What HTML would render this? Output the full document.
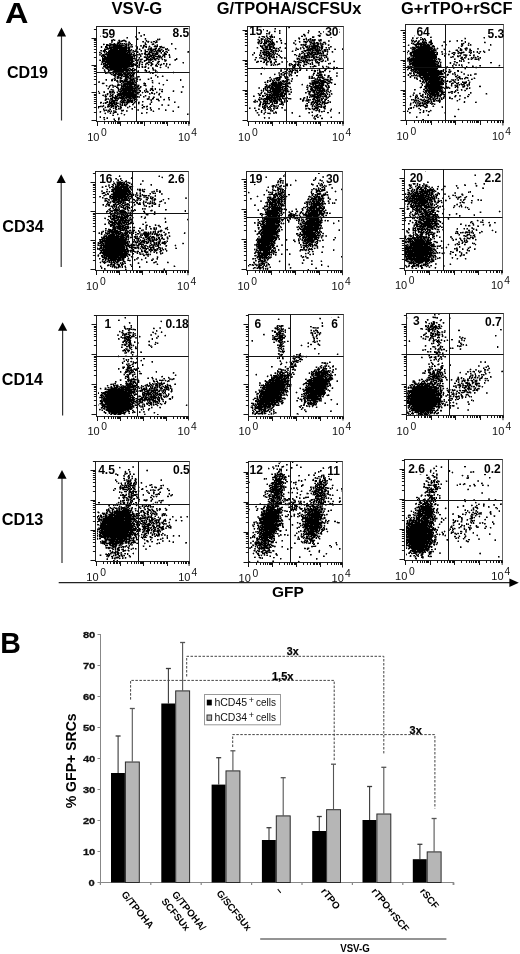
<!DOCTYPE html>
<html><head><meta charset="utf-8"><style>html,body{margin:0;padding:0;background:#fff;width:520px;height:954px;overflow:hidden}svg{display:block;will-change:transform}</style></head>
<body><svg width="520" height="954" viewBox="0 0 520 954" font-family='"Liberation Sans", sans-serif'><text x="5.0" y="23" font-size="29.6" font-weight="bold" textLength="23.4" lengthAdjust="spacingAndGlyphs" fill="#000">A</text>
<text x="111.5" y="13.5" font-size="16" font-weight="bold" textLength="50.8" lengthAdjust="spacingAndGlyphs" fill="#000">VSV-G</text>
<text x="216.8" y="13.5" font-size="16" font-weight="bold" textLength="144.6" lengthAdjust="spacingAndGlyphs" fill="#000">G/TPOHA/SCFSUx</text>
<text x="401" y="13.5" font-size="16" font-weight="bold" textLength="111.5" lengthAdjust="spacingAndGlyphs" fill="#000">G+rTPO+rSCF</text>
<text x="6.9" y="77.7" font-size="16" font-weight="bold" textLength="41.1" lengthAdjust="spacingAndGlyphs" fill="#000">CD19</text>
<text x="2.3" y="232.3" font-size="16" font-weight="bold" textLength="41.5" lengthAdjust="spacingAndGlyphs" fill="#000">CD34</text>
<text x="1.8" y="384.6" font-size="16" font-weight="bold" textLength="41.2" lengthAdjust="spacingAndGlyphs" fill="#000">CD14</text>
<text x="1.8" y="525" font-size="16" font-weight="bold" textLength="41.6" lengthAdjust="spacingAndGlyphs" fill="#000">CD13</text>
<line x1="61.5" y1="35.6" x2="61.5" y2="120.5" stroke="#333" stroke-width="1.2"/>
<polygon points="61.5,27.4 56.9,36.6 66.1,36.6" fill="#000"/>
<line x1="61.2" y1="182" x2="61.2" y2="267" stroke="#333" stroke-width="1.2"/>
<polygon points="61.2,174.2 56.6,183 65.8,183" fill="#000"/>
<line x1="62.6" y1="329.8" x2="62.6" y2="415.4" stroke="#333" stroke-width="1.2"/>
<polygon points="62.6,322.3 58.0,330.8 67.2,330.8" fill="#000"/>
<line x1="62.0" y1="477.8" x2="62.0" y2="563" stroke="#333" stroke-width="1.2"/>
<polygon points="62.0,470 57.4,478.8 66.6,478.8" fill="#000"/>
<line x1="58.7" y1="582.7" x2="511" y2="582.7" stroke="#222" stroke-width="1.3"/>
<polygon points="518.8,582.7 509.4,578.5 509.4,586.9" fill="#000"/>
<text x="272" y="597" font-size="15" font-weight="bold" textLength="31.8" lengthAdjust="spacingAndGlyphs" fill="#000">GFP</text>
<path d="M289 27.5h1M275 28.5h1M263 29.5h1M267 30.5h1m11 0h1m28 0h1M274 31.5h1m44 0h1M139 32.5h1m129 0h1m38 0h1M266 33.5h1m2 0h1m9 0h1m40 0h1M144 34.5h1m158 0h2M271 35.5h1m32 0h1m13 0h2M136 36.5h1m125 0h2m2 0h1m3 0h3m28 0h2m16 0h1M127 37.5h1m131 0h1m4 0h1m2 0h1m2 0h1m1 0h1m1 0h1m37 0h2m116 0h1m53 0h1M145 38.5h1m115 0h1m6 0h2m9 0h1m19 0h1m6 0h1m3 0h1m101 0h1m3 0h1m5 0h1m1 0h1m40 0h1M113 39.5h1m23 0h1m19 0h1m1 0h1m98 0h1m2 0h2m4 0h1m2 0h1m1 0h1m30 0h2m1 0h1m1 0h1m1 0h1m1 0h1m1 0h1m5 0h1m99 0h1m1 0h2m1 0h1M111 40.5h2m1 0h1m4 0h1m2 0h3m21 0h1m112 0h1m1 0h1m2 0h1m1 0h1m1 0h1m2 0h1m8 0h2m13 0h1m12 0h1m3 0h3m4 0h2m90 0h1m1 0h1m2 0h1m6 0h1m1 0h1m5 0h1m25 0h1m3 0h1M119 41.5h1m1 0h1m3 0h1m17 0h1m4 0h1m4 0h2m1 0h1m102 0h1m4 0h1m1 0h5m1 0h1m3 0h1m22 0h1m4 0h2m1 0h1m1 0h1m102 0h1m1 0h2m2 0h1m3 0h1m7 0h2m17 0h1m15 0h1M118 42.5h2m9 0h1m21 0h1m3 0h2m101 0h1m2 0h1m2 0h3m3 0h1m1 0h2m7 0h1m23 0h2m3 0h2m2 0h1m1 0h2m5 0h2m92 0h2m3 0h5m2 0h3m33 0h1m18 0h1M114 43.5h1m2 0h2m1 0h1m1 0h1m1 0h1m5 0h1m14 0h1m25 0h1m86 0h1m1 0h2m1 0h4m2 0h1m1 0h3m7 0h1m3 0h1m26 0h3m2 0h2m1 0h1m4 0h1m85 0h1m1 0h1m3 0h5m1 0h2m1 0h1m4 0h2m30 0h1m4 0h1M103 44.5h1m2 0h2m2 0h6m1 0h1m1 0h1m5 0h2m1 0h1m2 0h1m13 0h1m6 0h2m110 0h1m3 0h5m1 0h1m20 0h1m5 0h1m1 0h1m1 0h1m4 0h1m2 0h2m2 0h2m3 0h1m91 0h12m1 0h2m1 0h2m13 0h1m15 0h2m7 0h1m19 0h1M106 45.5h5m2 0h11m2 0h1m1 0h1m7 0h1m6 0h2m12 0h1m102 0h1m3 0h1m3 0h2m3 0h1m30 0h2m7 0h5m3 0h1m6 0h1m79 0h1m6 0h2m3 0h2m1 0h7m3 0h1m8 0h1m19 0h1m5 0h1M101 46.5h1m3 0h2m2 0h1m3 0h9m3 0h2m5 0h1m3 0h1m6 0h1m1 0h2m2 0h1m4 0h4m2 0h2m98 0h3m2 0h3m1 0h3m1 0h1m31 0h3m1 0h1m1 0h8m2 0h2m7 0h1m85 0h3m1 0h10m2 0h3m26 0h1M101 47.5h1m3 0h3m1 0h18m1 0h2m7 0h1m5 0h1m2 0h1m13 0h1m1 0h2m93 0h1m4 0h1m2 0h3m1 0h2m2 0h2m5 0h1m25 0h2m1 0h1m2 0h4m1 0h1m1 0h1m1 0h2m3 0h1m85 0h3m1 0h16m26 0h1M107 48.5h5m1 0h14m1 0h2m7 0h1m12 0h2m3 0h2m2 0h1m7 0h1m7 0h1m86 0h2m2 0h1m2 0h2m2 0h2m1 0h1m1 0h1m6 0h1m10 0h1m3 0h1m2 0h1m4 0h1m1 0h6m1 0h1m3 0h2m90 0h3m2 0h15m1 0h1m2 0h1m22 0h1m4 0h2M104 49.5h3m3 0h8m1 0h8m1 0h2m1 0h1m4 0h1m2 0h1m8 0h1m1 0h2m1 0h3m2 0h1m2 0h1m3 0h2m96 0h9m25 0h2m8 0h6m2 0h3m1 0h1m1 0h1m2 0h2m1 0h1m1 0h1m5 0h1m6 0h1m69 0h3m1 0h16m1 0h2m9 0h1m15 0h2m3 0h1m4 0h1M101 50.5h1m1 0h3m3 0h22m2 0h1m2 0h1m4 0h1m3 0h1m4 0h3m2 0h1m1 0h4m2 0h1m4 0h1m91 0h2m9 0h1m1 0h1m1 0h2m2 0h1m15 0h1m8 0h7m1 0h2m1 0h6m3 0h2m88 0h16m1 0h5m20 0h2m2 0h2m8 0h2M103 51.5h2m1 0h1m1 0h19m1 0h2m4 0h2m1 0h1m7 0h3m1 0h1m1 0h1m2 0h1m1 0h1m2 0h2m1 0h1m3 0h1m21 0h1m75 0h1m1 0h3m1 0h2m1 0h1m2 0h1m1 0h1m2 0h1m10 0h1m9 0h1m2 0h1m6 0h1m3 0h3m3 0h1m2 0h1m1 0h1m4 0h1m75 0h1m3 0h22m15 0h1m8 0h1m14 0h1m3 0h1m2 0h1m2 0h1M99 52.5h1m4 0h1m2 0h19m1 0h3m7 0h1m7 0h1m3 0h3m4 0h2m3 0h1m2 0h1m2 0h1m86 0h1m5 0h1m1 0h5m1 0h2m2 0h2m29 0h1m4 0h2m1 0h5m1 0h2m1 0h1m2 0h1m83 0h1m2 0h26m1 0h1m15 0h2m4 0h1m1 0h3m5 0h1m1 0h1m5 0h1m6 0h1M101 53.5h1m4 0h1m1 0h20m1 0h1m1 0h1m2 0h1m9 0h2m2 0h2m2 0h2m1 0h3m6 0h2m88 0h1m5 0h1m2 0h1m2 0h5m2 0h1m1 0h1m25 0h1m2 0h1m2 0h1m1 0h4m2 0h1m1 0h5m1 0h1m86 0h2m1 0h22m2 0h1m7 0h1m6 0h1m5 0h1m1 0h2m8 0h1m8 0h1M103 54.5h1m1 0h27m1 0h1m3 0h1m1 0h1m5 0h5m2 0h1m2 0h3m6 0h3m2 0h1m82 0h1m10 0h4m1 0h2m2 0h1m1 0h1m2 0h1m16 0h2m3 0h1m4 0h1m2 0h2m1 0h2m1 0h5m9 0h1m82 0h2m1 0h25m4 0h1m5 0h1m4 0h2M102 55.5h3m2 0h24m2 0h4m3 0h1m6 0h1m2 0h5m3 0h1m4 0h2m4 0h1m89 0h1m1 0h1m2 0h1m1 0h4m1 0h1m6 0h2m16 0h1m7 0h5m3 0h2m5 0h1m1 0h1m1 0h3m85 0h25m8 0h1m15 0h1m4 0h2m3 0h1m2 0h1M101 56.5h1m1 0h3m1 0h26m1 0h1m1 0h1m3 0h1m6 0h1m1 0h3m1 0h1m1 0h6m1 0h1m1 0h1m96 0h1m5 0h1m1 0h3m1 0h1m2 0h1m3 0h1m17 0h2m2 0h1m1 0h3m2 0h1m2 0h2m2 0h1m9 0h1m86 0h24m15 0h1m4 0h2m18 0h1M102 57.5h1m1 0h29m6 0h1m4 0h3m1 0h2m2 0h3m4 0h1m1 0h1m7 0h1m86 0h1m7 0h1m3 0h2m2 0h3m6 0h1m19 0h2m1 0h1m1 0h2m1 0h1m1 0h1m1 0h2m1 0h2m3 0h1m2 0h1m1 0h1m82 0h1m3 0h1m1 0h22m14 0h1m9 0h2m1 0h1m6 0h1m1 0h1m1 0h1m4 0h1M102 58.5h33m11 0h2m2 0h1m2 0h2m1 0h2m18 0h1m85 0h2m2 0h1m1 0h2m27 0h2m2 0h1m1 0h3m7 0h2m4 0h2m6 0h1m79 0h2m2 0h25m2 0h1m22 0h1m10 0h1m5 0h1M102 59.5h31m5 0h1m1 0h2m4 0h7m1 0h2m2 0h1m3 0h1m1 0h1m10 0h2m78 0h1m8 0h3m2 0h2m3 0h2m21 0h1m1 0h1m5 0h2m1 0h1m6 0h2m1 0h3m6 0h1m80 0h25m1 0h1m1 0h1m2 0h1m14 0h1m7 0h2m4 0h1m2 0h1m3 0h2m1 0h1M100 60.5h1m1 0h3m1 0h27m2 0h1m1 0h1m6 0h3m3 0h1m14 0h1m99 0h2m33 0h2m1 0h1m1 0h1m1 0h1m1 0h2m1 0h1m2 0h1m3 0h1m3 0h1m85 0h27m23 0h1M102 61.5h28m1 0h3m6 0h1m3 0h1m7 0h1m5 0h2m97 0h2m1 0h2m2 0h1m2 0h2m1 0h2m3 0h2m9 0h1m7 0h2m1 0h2m3 0h3m1 0h1m8 0h1m1 0h1m3 0h2m2 0h1m8 0h1m74 0h3m1 0h25m1 0h1m14 0h1m6 0h1M102 62.5h1m2 0h28m4 0h1m1 0h1m2 0h1m5 0h2m1 0h1m6 0h1m24 0h1m72 0h1m6 0h2m1 0h1m3 0h2m2 0h1m23 0h3m3 0h1m1 0h2m4 0h1m3 0h4m89 0h1m2 0h23m3 0h1m1 0h1m9 0h1m5 0h2m10 0h1m21 0h2M103 63.5h3m1 0h25m1 0h1m2 0h2m1 0h1m6 0h2m3 0h1m5 0h1m5 0h1m2 0h1m99 0h1m7 0h1m4 0h1m9 0h1m8 0h1m9 0h1m1 0h1m1 0h1m5 0h1m9 0h1m1 0h1m79 0h26m2 0h1m11 0h1M101 64.5h1m1 0h1m1 0h31m3 0h1m2 0h1m2 0h1m2 0h1m2 0h2m3 0h1m1 0h1m2 0h1m4 0h1m2 0h1m96 0h1m4 0h1m3 0h1m1 0h2m10 0h1m1 0h2m1 0h2m1 0h2m5 0h3m3 0h1m1 0h1m96 0h2m1 0h26m2 0h1M104 65.5h4m1 0h21m1 0h3m1 0h3m1 0h1m11 0h1m3 0h2m3 0h1m110 0h1m1 0h1m15 0h1m3 0h3m1 0h2m1 0h1m2 0h1m10 0h1m97 0h24m1 0h2m1 0h1m11 0h1m6 0h1m1 0h1m18 0h1m18 0h1M103 66.5h3m1 0h26m3 0h2m4 0h1m2 0h1m11 0h1m134 0h1m1 0h1m8 0h1m6 0h1m2 0h3m6 0h1m3 0h1m81 0h1m1 0h2m2 0h27m25 0h1m5 0h1M105 67.5h23m11 0h1m2 0h1m2 0h1m14 0h1m7 0h1m93 0h1m30 0h2m4 0h1m23 0h1m4 0h1m5 0h1m1 0h1m74 0h1m1 0h21m1 0h3m3 0h1m11 0h1m8 0h1m13 0h1M106 68.5h2m2 0h12m1 0h4m2 0h1m2 0h2m14 0h1m3 0h1m111 0h1m19 0h1m9 0h2m1 0h1m3 0h1m17 0h1m9 0h1m78 0h2m1 0h1m2 0h24m7 0h1m19 0h1M108 69.5h1m1 0h19m1 0h3m1 0h2m9 0h1m7 0h1m133 0h1m1 0h1m2 0h1m7 0h1m18 0h1m5 0h1m7 0h1m73 0h1m3 0h26m6 0h1m5 0h1M104 70.5h1m3 0h2m4 0h16m1 0h4m10 0h2m8 0h1m125 0h1m8 0h1m1 0h2m1 0h3m1 0h2m5 0h1m4 0h1m2 0h2m1 0h1m1 0h1m4 0h2m85 0h1m1 0h1m1 0h2m1 0h21m2 0h1m1 0h1m13 0h2M108 71.5h1m4 0h11m2 0h2m4 0h1m5 0h1m7 0h1m2 0h1m5 0h1m129 0h1m3 0h4m4 0h1m16 0h2m3 0h2m1 0h2m5 0h1m84 0h2m1 0h1m1 0h23m1 0h1m2 0h1m3 0h1m7 0h1M107 72.5h4m3 0h8m3 0h6m6 0h1m12 0h1m6 0h1m15 0h1m109 0h1m7 0h1m3 0h1m1 0h1m21 0h2m92 0h1m1 0h12m1 0h14m2 0h1m4 0h1m4 0h1m6 0h1M105 73.5h1m4 0h1m2 0h1m1 0h2m1 0h4m1 0h3m1 0h3m1 0h1m1 0h2m17 0h1m108 0h1m19 0h1m2 0h3m8 0h1m17 0h2m2 0h2m90 0h2m2 0h1m3 0h26M111 74.5h1m2 0h2m1 0h6m1 0h5m1 0h1m1 0h2m140 0h1m6 0h1m2 0h1m5 0h1m22 0h1m5 0h3m86 0h1m5 0h1m4 0h24m4 0h2m6 0h1M113 75.5h3m2 0h5m2 0h3m1 0h5m21 0h1m123 0h1m9 0h1m1 0h1m4 0h2m18 0h6m2 0h1m3 0h1m79 0h1m2 0h1m1 0h1m1 0h2m2 0h20m8 0h1m9 0h1m10 0h1m1 0h1M117 76.5h2m2 0h1m1 0h6m1 0h2m1 0h1m2 0h1m1 0h1m18 0h1m4 0h1m117 0h1m3 0h1m24 0h1m2 0h1m5 0h1m3 0h1m5 0h1m81 0h1m8 0h2m2 0h6m1 0h8m1 0h5m11 0h2m2 0h1M117 77.5h2m1 0h1m4 0h4m1 0h1m5 0h1m133 0h1m6 0h4m4 0h1m1 0h1m21 0h1m2 0h1m5 0h5m7 0h1m79 0h1m3 0h1m5 0h21m2 0h3m12 0h2m5 0h3M114 78.5h1m2 0h1m2 0h2m3 0h2m2 0h2m2 0h1m2 0h1m14 0h1m123 0h3m1 0h1m5 0h1m6 0h1m16 0h1m1 0h2m4 0h1m4 0h2m6 0h1m85 0h1m4 0h2m1 0h16m1 0h2m16 0h2m1 0h1m1 0h1m9 0h1M106 79.5h1m5 0h1m2 0h1m9 0h3m2 0h4m2 0h2m2 0h1m7 0h1m31 0h1m90 0h1m4 0h1m1 0h2m7 0h2m26 0h1m1 0h1m1 0h2m3 0h4m2 0h2m85 0h1m4 0h1m1 0h16m1 0h2m12 0h1m15 0h1M111 80.5h2m1 0h1m2 0h1m2 0h3m1 0h3m3 0h3m1 0h1m17 0h1m14 0h1m12 0h1m86 0h1m2 0h1m1 0h1m1 0h1m2 0h2m4 0h1m2 0h2m25 0h2m3 0h6m3 0h1m92 0h1m2 0h1m1 0h3m1 0h10m2 0h3m1 0h1m1 0h1m5 0h1m4 0h1m9 0h1M117 81.5h1m2 0h11m1 0h1m1 0h1m1 0h1m130 0h1m2 0h1m2 0h1m6 0h1m1 0h4m1 0h1m3 0h1m22 0h5m1 0h6m2 0h2m90 0h1m1 0h2m1 0h2m1 0h14m1 0h1m1 0h3m1 0h2m3 0h1M120 82.5h1m2 0h1m3 0h7m1 0h1m16 0h1m112 0h1m1 0h1m4 0h5m1 0h4m7 0h1m22 0h8m1 0h6m3 0h2m90 0h1m1 0h1m1 0h1m1 0h15m12 0h1m2 0h1m3 0h5m2 0h1M102 83.5h2m17 0h1m2 0h10m10 0h2m13 0h1m111 0h6m1 0h5m2 0h5m20 0h1m1 0h6m1 0h5m3 0h2m92 0h1m4 0h3m1 0h14m2 0h1m4 0h2m3 0h2m6 0h2m3 0h1M118 84.5h1m4 0h13m27 0h1m101 0h1m5 0h11m1 0h4m15 0h1m9 0h2m1 0h1m3 0h1m1 0h3m3 0h1m6 0h2m86 0h1m3 0h18m7 0h1m7 0h1m1 0h3m5 0h1M106 85.5h1m3 0h1m1 0h1m4 0h2m2 0h1m1 0h3m1 0h1m1 0h3m2 0h3m1 0h1m5 0h2m120 0h1m2 0h2m1 0h10m3 0h3m19 0h1m1 0h1m3 0h1m1 0h9m1 0h1m2 0h1m93 0h1m3 0h14m11 0h1m3 0h1m1 0h1m6 0h1m2 0h1M109 86.5h1m5 0h1m5 0h12m1 0h1m1 0h3m1 0h1m11 0h1m112 0h2m1 0h2m1 0h2m1 0h7m1 0h4m1 0h2m21 0h2m2 0h5m1 0h3m3 0h1m1 0h1m95 0h18m4 0h1m9 0h2m5 0h2m14 0h2M116 87.5h2m3 0h1m1 0h1m1 0h8m2 0h1m1 0h1m2 0h1m124 0h1m1 0h3m1 0h3m1 0h8m2 0h1m4 0h1m16 0h1m3 0h1m1 0h10m5 0h2m90 0h2m3 0h2m1 0h16m2 0h3m6 0h1m1 0h1M108 88.5h1m9 0h1m2 0h16m1 0h2m11 0h2m2 0h1m107 0h1m1 0h1m1 0h1m2 0h11m1 0h1m1 0h4m23 0h2m2 0h9m101 0h2m1 0h14m2 0h2m3 0h1m16 0h2m1 0h1M111 89.5h1m6 0h1m1 0h1m1 0h11m1 0h1m11 0h1m4 0h2m2 0h1m3 0h1m2 0h1m100 0h1m1 0h1m4 0h1m1 0h11m2 0h2m3 0h1m16 0h1m2 0h3m2 0h1m1 0h1m1 0h2m1 0h3m2 0h1m86 0h1m8 0h2m2 0h1m1 0h12m20 0h1M118 90.5h1m2 0h16m2 0h2m3 0h1m5 0h1m1 0h2m107 0h1m1 0h1m2 0h2m1 0h2m1 0h9m2 0h5m23 0h5m1 0h8m1 0h1m3 0h1m94 0h17m13 0h1m1 0h1m7 0h1M98 91.5h1m10 0h2m1 0h2m5 0h3m1 0h4m1 0h3m1 0h4m4 0h1m5 0h2m13 0h2m10 0h1m93 0h1m2 0h11m2 0h1m1 0h4m19 0h3m2 0h2m1 0h1m2 0h4m1 0h1m3 0h1m94 0h1m1 0h2m1 0h10m1 0h4m8 0h2m2 0h1M104 92.5h1m4 0h2m1 0h1m1 0h1m2 0h1m2 0h1m1 0h12m1 0h5m2 0h1m2 0h1m5 0h1m4 0h1m24 0h1m79 0h1m6 0h3m2 0h7m1 0h3m7 0h1m13 0h1m3 0h1m3 0h2m1 0h4m1 0h1m1 0h1m2 0h1m2 0h1m94 0h1m1 0h1m1 0h2m1 0h8m2 0h4m3 0h2m4 0h1m3 0h1m11 0h1M99 93.5h1m7 0h1m10 0h16m3 0h1m11 0h1m2 0h1m1 0h1m4 0h1m98 0h1m2 0h1m2 0h1m6 0h1m1 0h6m1 0h3m1 0h2m23 0h1m4 0h1m2 0h2m1 0h5m6 0h1m87 0h1m5 0h1m1 0h1m1 0h6m1 0h3m2 0h2m43 0h1M107 94.5h1m2 0h1m1 0h1m4 0h20m22 0h1m99 0h1m6 0h2m1 0h2m1 0h11m1 0h2m3 0h1m19 0h1m4 0h4m1 0h5m1 0h1m1 0h1m1 0h1m92 0h1m2 0h1m2 0h1m1 0h9m1 0h2m1 0h2m23 0h1M103 95.5h1m1 0h1m5 0h2m2 0h1m1 0h5m1 0h13m4 0h1m4 0h1m113 0h2m1 0h1m2 0h1m1 0h1m1 0h10m1 0h5m25 0h1m1 0h3m2 0h4m4 0h2m86 0h1m2 0h1m3 0h1m1 0h1m4 0h1m1 0h2m1 0h4m1 0h4m14 0h1M105 96.5h2m3 0h1m1 0h1m2 0h3m3 0h4m1 0h12m5 0h1m16 0h1m92 0h1m8 0h2m2 0h4m1 0h2m1 0h1m1 0h9m22 0h1m3 0h8m1 0h1m1 0h1m1 0h3m2 0h1m80 0h1m4 0h1m1 0h1m3 0h1m3 0h1m1 0h1m1 0h3m2 0h2m1 0h1m2 0h1m3 0h1m10 0h1m11 0h2M112 97.5h5m2 0h5m1 0h6m1 0h5m16 0h1m14 0h1m90 0h1m6 0h12m1 0h1m2 0h1m3 0h1m17 0h1m2 0h1m1 0h1m4 0h6m6 0h1m1 0h1m86 0h2m5 0h1m2 0h1m1 0h2m1 0h2m2 0h1m2 0h1m5 0h1m5 0h1M110 98.5h3m1 0h5m1 0h5m1 0h1m2 0h3m1 0h2m13 0h1m3 0h2m107 0h1m2 0h8m1 0h3m1 0h1m1 0h2m1 0h2m1 0h2m1 0h3m9 0h1m2 0h1m9 0h2m1 0h2m3 0h1m1 0h1m91 0h1m2 0h1m10 0h2m2 0h1m2 0h2m1 0h1m1 0h1m1 0h1m5 0h1m2 0h1M105 99.5h2m4 0h2m2 0h1m6 0h1m1 0h1m2 0h2m1 0h1m3 0h3m10 0h1m8 0h3m5 0h1m4 0h1m88 0h2m3 0h1m1 0h5m1 0h2m1 0h2m1 0h5m18 0h1m2 0h1m4 0h1m3 0h3m2 0h1m1 0h1m1 0h2m2 0h2m84 0h1m1 0h1m6 0h2m2 0h1m3 0h1m1 0h1m2 0h1m1 0h1m3 0h1m1 0h1m17 0h1M105 100.5h1m6 0h6m3 0h1m1 0h3m1 0h6m1 0h1m16 0h1m6 0h1m96 0h1m3 0h1m4 0h1m2 0h1m1 0h3m1 0h4m2 0h1m1 0h1m2 0h1m17 0h2m2 0h3m6 0h5m1 0h1m3 0h1m2 0h1m85 0h3m1 0h1m3 0h2m1 0h3m5 0h2m1 0h1m1 0h2m17 0h1M107 101.5h1m1 0h1m1 0h4m5 0h1m1 0h2m3 0h6m2 0h1m6 0h1m111 0h1m2 0h1m2 0h1m2 0h5m2 0h2m1 0h5m3 0h1m2 0h1m2 0h1m24 0h2m1 0h1m1 0h3m2 0h1m1 0h1m89 0h1m4 0h1m4 0h2m1 0h3m1 0h1m1 0h2m4 0h1m24 0h1M100 102.5h2m3 0h3m1 0h3m1 0h2m1 0h1m4 0h4m1 0h3m2 0h2m1 0h1m3 0h1m12 0h1m22 0h1m85 0h1m4 0h1m1 0h1m2 0h1m1 0h1m1 0h1m1 0h2m3 0h2m25 0h1m2 0h2m1 0h4m2 0h1m1 0h3m2 0h2m1 0h1m82 0h1m1 0h1m6 0h1m3 0h3m2 0h1m7 0h1m24 0h1m10 0h1M103 103.5h1m1 0h1m3 0h6m1 0h2m4 0h1m4 0h1m5 0h1m4 0h1m121 0h1m2 0h7m2 0h1m1 0h3m4 0h2m24 0h1m3 0h1m2 0h1m1 0h2m1 0h1m2 0h1m1 0h3m83 0h1m8 0h2m1 0h1m1 0h2m1 0h1m2 0h1m1 0h1M108 104.5h2m1 0h2m1 0h3m3 0h1m1 0h1m1 0h1m1 0h1m5 0h1m17 0h1m108 0h2m1 0h2m1 0h1m5 0h2m6 0h3m1 0h1m27 0h1m1 0h1m3 0h4m3 0h1m85 0h1m8 0h1m3 0h1m2 0h1m7 0h1M103 105.5h1m4 0h1m1 0h4m3 0h1m4 0h1m1 0h2m16 0h1m25 0h1m90 0h1m4 0h2m4 0h1m2 0h2m30 0h3m4 0h1m3 0h2m3 0h1m92 0h1m1 0h1m1 0h6m2 0h2M98 106.5h3m1 0h1m4 0h3m1 0h3m1 0h2m1 0h1m1 0h1m8 0h1m13 0h2m1 0h2m114 0h1m1 0h1m2 0h1m1 0h1m1 0h1m2 0h1m30 0h1m6 0h1m1 0h1m3 0h2m1 0h1m2 0h2m90 0h1m3 0h1m3 0h1m8 0h1M98 107.5h1m6 0h1m5 0h1m3 0h2m3 0h2m5 0h1m6 0h1m7 0h1m7 0h1m27 0h1m83 0h1m1 0h2m2 0h1m1 0h1m6 0h1m4 0h1m32 0h3m3 0h1m1 0h2m86 0h1m1 0h1m11 0h2m15 0h1M113 108.5h1m1 0h1m2 0h1m1 0h1m11 0h1m17 0h1m98 0h1m4 0h1m8 0h2m8 0h1m2 0h2m28 0h1m1 0h2m2 0h1m1 0h4m6 0h1m83 0h1m1 0h2m7 0h1M103 109.5h1m6 0h1m5 0h1m30 0h1m3 0h1m106 0h1m6 0h1m2 0h2m39 0h1m3 0h2m2 0h1m1 0h1m11 0h1m76 0h1m11 0h1m37 0h1M104 110.5h1m1 0h1m1 0h1m12 0h3m41 0h1m89 0h1m5 0h1m8 0h1m1 0h1m43 0h1m2 0h1m10 0h1m92 0h1m2 0h1m3 0h1M100 111.5h1m8 0h1m1 0h1m3 0h1m37 0h1m19 0h1m87 0h1m57 0h1m1 0h1m2 0h1m82 0h1m15 0h1m4 0h2M114 112.5h2m30 0h1m110 0h1m3 0h1m3 0h1m9 0h2m15 0h1m16 0h1m2 0h1m14 0h2m10 0h1m69 0h1m10 0h1m2 0h1m21 0h1M105 113.5h1m4 0h1m2 0h1m7 0h1m19 0h1m122 0h1m3 0h2M117 114.5h1m6 0h1m62 0h1m129 0h1M113 115.5h1m198 0h1m3 0h1m3 0h1m107 0h1M299 116.5h1m14 0h1m1 0h1m137 0h2M100 117.5h1m3 0h1m159 0h1m52 0h1m13 0h1m84 0h1M107 118.5h1m10 0h1m196 0h1m5 0h2M104 119.5h1m9 0h1m3 0h1m304 0h1M115 120.5h1M318 173.5h1M285 175.5h1m189 0h1M119 176.5h1m39 0h1M162 177.5h1m103 0h1m48 0h1M116 178.5h1m3 0h1m10 0h1m148 0h1m34 0h1M279 179.5h1m35 0h1M118 180.5h1m2 0h1m158 0h2m13 0h1m17 0h1m6 0h1M125 181.5h2m151 0h1m1 0h1M117 182.5h6m1 0h1m3 0h1m148 0h1m2 0h1m42 0h1m103 0h1M114 183.5h1m2 0h5m1 0h2m1 0h1m2 0h1m188 0h1m2 0h1m91 0h2m2 0h1m57 0h1m8 0h1M112 184.5h1m2 0h1m1 0h11m3 0h1m8 0h1m10 0h1m102 0h1m23 0h1m7 0h2m23 0h2m9 0h1m6 0h2m78 0h1m7 0h1m1 0h1M113 185.5h1m3 0h3m1 0h3m2 0h3m144 0h1m2 0h1m4 0h1m4 0h2m2 0h1m26 0h1m2 0h1m1 0h1m1 0h1m84 0h2m6 0h1m4 0h1m2 0h2m29 0h1m8 0h1m10 0h1M105 186.5h1m5 0h2m2 0h4m1 0h8m2 0h3m139 0h2m1 0h1m3 0h2m2 0h1m33 0h1m5 0h1m86 0h1m4 0h1m2 0h2m5 0h3m10 0h1m5 0h1M102 187.5h1m6 0h1m3 0h1m1 0h13m1 0h2m137 0h1m8 0h1m44 0h1m1 0h1m86 0h1m5 0h3m1 0h1m3 0h1m6 0h1M114 188.5h8m1 0h6m1 0h1m147 0h2m5 0h1m27 0h1m4 0h1m1 0h1m3 0h1m84 0h2m6 0h2m1 0h2m2 0h3m3 0h1m6 0h1m5 0h1m39 0h1M107 189.5h1m4 0h17m2 0h1m5 0h1m1 0h2m1 0h1m1 0h1m11 0h1m115 0h1m4 0h2m1 0h1m1 0h2m32 0h1m1 0h1m3 0h3m16 0h1m70 0h1m1 0h1m1 0h2m1 0h5m1 0h1m1 0h1m1 0h5m3 0h1m3 0h1M112 190.5h2m1 0h15m9 0h2m1 0h1m123 0h1m6 0h3m2 0h1m1 0h1m1 0h1m1 0h1m31 0h4m1 0h4m83 0h1m2 0h1m2 0h1m1 0h1m4 0h3m1 0h1m1 0h6m1 0h1M106 191.5h1m2 0h1m1 0h3m1 0h16m12 0h2m9 0h1m4 0h2m119 0h1m1 0h1m28 0h1m4 0h2m1 0h2m14 0h1m75 0h1m1 0h1m2 0h2m1 0h11m2 0h2m1 0h1m34 0h1M103 192.5h2m8 0h14m1 0h2m29 0h1m88 0h1m19 0h1m1 0h1m1 0h1m5 0h1m2 0h3m1 0h1m25 0h1m4 0h1m10 0h1m80 0h2m2 0h1m1 0h4m2 0h3m1 0h4m1 0h1m1 0h2m35 0h1M102 193.5h2m3 0h1m5 0h15m1 0h2m5 0h1m3 0h1m9 0h1m2 0h1m1 0h1m116 0h1m2 0h2m1 0h4m3 0h1m25 0h1m1 0h1m3 0h4m4 0h1m83 0h1m1 0h1m1 0h1m1 0h6m1 0h6m1 0h1m1 0h2m5 0h2M105 194.5h1m2 0h1m2 0h23m8 0h1m121 0h1m4 0h4m1 0h3m1 0h3m3 0h1m3 0h2m22 0h1m2 0h1m1 0h3m3 0h3m1 0h1m77 0h1m1 0h2m1 0h1m2 0h3m1 0h2m1 0h4m2 0h4m1 0h2m2 0h1m1 0h1m24 0h1M104 195.5h1m5 0h1m2 0h13m1 0h2m2 0h1m1 0h1m3 0h1m2 0h1m2 0h4m1 0h1m6 0h1m117 0h2m1 0h2m2 0h2m1 0h1m28 0h1m2 0h1m1 0h1m3 0h4m86 0h16m1 0h1m1 0h2m1 0h1m2 0h2m15 0h1m1 0h1m16 0h1M100 196.5h1m9 0h18m1 0h3m3 0h1m4 0h1m116 0h1m16 0h2m1 0h1m1 0h1m1 0h2m1 0h1m1 0h1m22 0h1m3 0h2m1 0h4m1 0h2m83 0h1m1 0h1m2 0h13m1 0h4m2 0h1m1 0h1m2 0h1m11 0h1m11 0h1m5 0h1m5 0h1M102 197.5h1m7 0h1m1 0h15m1 0h1m2 0h1m5 0h1m8 0h2m2 0h1m1 0h1m114 0h4m2 0h3m2 0h1m1 0h4m30 0h3m1 0h2m2 0h1m5 0h1m76 0h1m1 0h1m2 0h1m1 0h3m1 0h1m1 0h8m2 0h5m1 0h1m1 0h1m19 0h1m1 0h2m5 0h1M105 198.5h2m4 0h6m1 0h5m1 0h3m1 0h1m1 0h1m6 0h3m10 0h3m15 0h1m81 0h1m18 0h2m1 0h2m3 0h3m1 0h1m2 0h2m22 0h1m2 0h5m2 0h6m4 0h1m77 0h1m2 0h16m1 0h3m1 0h1m1 0h3m3 0h1m4 0h1m5 0h1M108 199.5h1m4 0h7m1 0h7m1 0h1m3 0h2m11 0h2m6 0h2m7 0h1m104 0h1m1 0h7m1 0h4m1 0h3m22 0h1m1 0h2m1 0h4m1 0h4m85 0h1m1 0h1m2 0h1m1 0h12m1 0h5m2 0h1m29 0h1m13 0h1M105 200.5h2m6 0h4m1 0h2m1 0h9m7 0h1m2 0h1m13 0h1m113 0h2m2 0h5m1 0h2m1 0h1m30 0h2m2 0h1m1 0h3m1 0h1m82 0h3m2 0h5m1 0h12m1 0h3m2 0h1m3 0h1m2 0h1m3 0h1m17 0h1m7 0h1m9 0h1M107 201.5h1m4 0h3m2 0h5m1 0h1m11 0h1m7 0h1m6 0h1m9 0h2m106 0h1m1 0h1m1 0h4m1 0h3m1 0h2m1 0h1m25 0h1m1 0h3m1 0h3m1 0h1m1 0h2m4 0h1m76 0h2m1 0h5m1 0h4m1 0h9m3 0h2m1 0h2m2 0h2M108 202.5h1m1 0h1m2 0h2m1 0h3m1 0h2m1 0h1m1 0h1m3 0h1m3 0h2m1 0h2m5 0h1m1 0h1m6 0h1m1 0h1m111 0h2m1 0h7m1 0h3m1 0h1m24 0h2m1 0h1m1 0h1m1 0h2m1 0h4m2 0h1m86 0h1m2 0h5m1 0h10m1 0h1m7 0h2m2 0h1m18 0h1m1 0h2m7 0h1M107 203.5h1m7 0h1m2 0h3m1 0h2m3 0h1m9 0h1m1 0h1m3 0h1m3 0h1m1 0h2m1 0h1m2 0h1m111 0h1m1 0h4m2 0h2m1 0h3m3 0h1m19 0h1m2 0h1m3 0h12m1 0h2m6 0h1m1 0h1m73 0h1m2 0h1m2 0h12m2 0h1m1 0h1m1 0h1M103 204.5h1m2 0h1m1 0h2m3 0h3m1 0h2m2 0h1m3 0h4m5 0h1m3 0h3m2 0h1m10 0h2m3 0h1m107 0h1m1 0h8m1 0h1m1 0h3m24 0h1m1 0h1m1 0h1m1 0h8m1 0h1m84 0h1m2 0h2m1 0h1m1 0h1m2 0h2m1 0h4m2 0h2m1 0h3m3 0h1m20 0h1M108 205.5h2m3 0h2m1 0h1m2 0h1m2 0h3m4 0h1m14 0h1m7 0h1m101 0h1m14 0h1m1 0h2m1 0h3m1 0h1m2 0h3m1 0h1m21 0h1m3 0h1m1 0h7m1 0h1m89 0h3m1 0h12m1 0h1m2 0h1m2 0h1m2 0h1m16 0h1m6 0h1M111 206.5h2m1 0h1m1 0h1m4 0h1m1 0h1m2 0h2m4 0h1m13 0h1m2 0h1m2 0h1m6 0h1m104 0h4m1 0h1m1 0h5m1 0h1m1 0h1m1 0h1m3 0h1m20 0h2m2 0h7m2 0h2m1 0h1m84 0h1m2 0h3m1 0h8m2 0h6m6 0h1m3 0h1m1 0h1m16 0h1m1 0h1M112 207.5h1m3 0h1m1 0h1m2 0h3m1 0h1m1 0h3m1 0h1m136 0h3m1 0h9m22 0h1m1 0h1m2 0h9m2 0h3m1 0h2m86 0h4m1 0h2m2 0h2m2 0h10m1 0h1m2 0h1m14 0h1m11 0h1m1 0h1M110 208.5h1m2 0h1m1 0h1m7 0h3m1 0h1m1 0h1m12 0h1m120 0h1m3 0h1m1 0h1m1 0h11m20 0h1m4 0h1m1 0h6m1 0h9m83 0h1m3 0h1m2 0h3m1 0h1m1 0h3m2 0h1m4 0h1m2 0h1m3 0h1M109 209.5h1m4 0h4m1 0h1m5 0h1m1 0h1m6 0h1m30 0h1m98 0h1m1 0h2m4 0h8m1 0h2m1 0h3m9 0h1m5 0h1m4 0h1m2 0h2m1 0h2m1 0h4m2 0h2m83 0h1m5 0h2m1 0h4m1 0h5m2 0h2m3 0h1m9 0h1m24 0h1M110 210.5h1m2 0h6m1 0h4m4 0h1m2 0h1m1 0h1m1 0h1m15 0h1m33 0h1m72 0h1m8 0h13m1 0h1m20 0h1m4 0h16m2 0h1m89 0h5m3 0h3m2 0h1m2 0h4M106 211.5h2m3 0h2m3 0h1m2 0h7m6 0h1m10 0h2m40 0h1m81 0h11m1 0h3m10 0h1m3 0h2m3 0h1m4 0h2m1 0h1m1 0h7m1 0h3m1 0h2m87 0h1m3 0h2m1 0h3m2 0h3m2 0h5m3 0h2m60 0h1M110 212.5h1m3 0h2m1 0h1m2 0h7m3 0h1m13 0h1m9 0h1m110 0h14m2 0h1m1 0h1m5 0h1m10 0h2m4 0h1m1 0h1m1 0h8m1 0h3m2 0h1m2 0h1m82 0h1m4 0h1m1 0h1m1 0h2m3 0h5m1 0h1m1 0h2m1 0h1m44 0h1M112 213.5h9m1 0h3m1 0h1m1 0h2m130 0h2m4 0h13m2 0h1m8 0h2m3 0h1m4 0h1m1 0h1m2 0h1m2 0h10m1 0h5m3 0h1m1 0h1m85 0h3m3 0h3m1 0h3m1 0h3m3 0h1m6 0h2m12 0h1M110 214.5h2m2 0h1m2 0h1m3 0h3m1 0h1m1 0h1m2 0h1m15 0h2m6 0h1m105 0h1m1 0h1m2 0h13m1 0h1m2 0h1m6 0h3m1 0h2m8 0h4m1 0h12m1 0h3m88 0h1m2 0h1m2 0h1m1 0h3m2 0h13m11 0h1M112 215.5h5m4 0h1m1 0h2m1 0h6m129 0h1m5 0h4m1 0h8m1 0h1m6 0h7m1 0h2m1 0h1m5 0h14m3 0h1m3 0h1m82 0h1m3 0h2m7 0h2m1 0h5m3 0h3m1 0h1m21 0h1m14 0h1M108 216.5h3m1 0h3m1 0h4m1 0h2m1 0h5m3 0h1m8 0h1m124 0h1m1 0h9m1 0h2m10 0h2m1 0h2m5 0h1m5 0h6m1 0h5m5 0h1m86 0h1m8 0h7m1 0h3m2 0h2m1 0h2m1 0h1M110 217.5h1m2 0h2m1 0h12m2 0h1m1 0h1m12 0h1m116 0h1m1 0h18m6 0h2m2 0h3m5 0h2m1 0h1m2 0h1m1 0h9m2 0h5m81 0h1m9 0h1m1 0h4m1 0h8m1 0h2m1 0h3m1 0h1M105 218.5h1m4 0h1m1 0h5m1 0h1m1 0h6m1 0h1m16 0h1m20 0h1m96 0h1m1 0h16m4 0h1m4 0h2m4 0h1m1 0h1m8 0h13m2 0h1m90 0h1m1 0h1m2 0h1m1 0h2m1 0h2m1 0h5m2 0h2m1 0h2m11 0h1M108 219.5h1m2 0h4m2 0h2m1 0h4m1 0h2m3 0h2m55 0h1m70 0h1m5 0h14m1 0h1m1 0h3m3 0h1m10 0h2m2 0h1m3 0h1m2 0h10m2 0h1m97 0h3m1 0h2m1 0h11M109 220.5h1m4 0h4m1 0h11m133 0h2m1 0h14m2 0h1m4 0h2m7 0h1m2 0h1m1 0h1m1 0h1m3 0h12m1 0h2m3 0h1m1 0h1m10 0h1m66 0h1m4 0h1m4 0h2m4 0h3m2 0h5m1 0h2m2 0h1m1 0h1m38 0h1m4 0h1M109 221.5h4m1 0h2m2 0h3m1 0h1m1 0h2m2 0h1m36 0h1m93 0h1m1 0h3m1 0h15m8 0h1m9 0h1m4 0h2m1 0h9m1 0h5m95 0h1m1 0h3m2 0h14m2 0h2m30 0h1M108 222.5h1m1 0h7m1 0h3m1 0h7m1 0h3m12 0h1m19 0h1m88 0h1m3 0h1m3 0h3m1 0h14m22 0h1m2 0h17m90 0h1m2 0h2m1 0h4m2 0h6m1 0h1m2 0h2m4 0h1m29 0h1m11 0h1m6 0h1m4 0h1M109 223.5h1m2 0h3m1 0h6m1 0h2m1 0h1m1 0h3m2 0h1m125 0h2m1 0h2m2 0h9m1 0h3m2 0h1m1 0h1m14 0h1m1 0h1m2 0h16m1 0h1m12 0h1m74 0h1m7 0h1m3 0h18m4 0h1m29 0h1M105 224.5h1m4 0h3m1 0h2m1 0h3m1 0h1m3 0h4m14 0h1m117 0h4m1 0h9m3 0h2m20 0h2m3 0h15m95 0h4m2 0h10m1 0h1m2 0h2m1 0h1m21 0h1m12 0h1m9 0h1M110 225.5h5m3 0h3m1 0h3m21 0h1m8 0h1m2 0h1m98 0h2m1 0h1m2 0h17m23 0h3m1 0h15m92 0h1m1 0h2m2 0h2m1 0h9m2 0h3m28 0h1m2 0h2m19 0h1M110 226.5h1m2 0h2m1 0h8m1 0h4m20 0h1m10 0h1m100 0h18m1 0h1m17 0h1m2 0h2m1 0h9m1 0h5m97 0h10m1 0h7m2 0h2m2 0h1m37 0h1M113 227.5h3m1 0h4m1 0h4m1 0h2m1 0h1m2 0h2m11 0h1m20 0h1m90 0h1m3 0h16m3 0h1m15 0h1m1 0h1m1 0h1m2 0h15m1 0h1m94 0h1m4 0h1m1 0h2m3 0h6m5 0h1m2 0h1M105 228.5h1m7 0h3m1 0h6m1 0h5m10 0h2m9 0h1m3 0h1m1 0h1m8 0h2m91 0h1m3 0h15m22 0h2m2 0h18m87 0h1m4 0h3m1 0h3m1 0h2m1 0h1m1 0h2m3 0h2m1 0h2m21 0h1m6 0h1m2 0h1m4 0h1M108 229.5h3m1 0h4m3 0h2m1 0h3m1 0h1m27 0h1m12 0h1m93 0h16m1 0h2m1 0h1m16 0h1m1 0h18m91 0h1m3 0h1m1 0h1m1 0h9m1 0h3m2 0h1m4 0h2m4 0h1m29 0h1m2 0h1M105 230.5h1m3 0h4m1 0h4m2 0h4m1 0h2m2 0h2m2 0h2m3 0h1m2 0h1m18 0h2m98 0h2m1 0h13m1 0h1m1 0h1m22 0h3m1 0h12m1 0h1m19 0h1m73 0h3m2 0h1m2 0h2m2 0h1m1 0h1m1 0h2m37 0h2m6 0h1m15 0h1M103 231.5h1m4 0h13m4 0h1m1 0h2m4 0h1m19 0h1m1 0h1m2 0h1m1 0h1m94 0h1m3 0h2m1 0h18m22 0h11m2 0h3m2 0h1m86 0h1m7 0h1m2 0h2m1 0h1m1 0h1m2 0h2m1 0h1m7 0h1m1 0h1m16 0h2m14 0h1m8 0h1M101 232.5h1m3 0h1m3 0h1m1 0h8m1 0h2m3 0h3m1 0h1m1 0h1m3 0h1m3 0h1m4 0h3m1 0h1m1 0h1m2 0h1m1 0h1m2 0h1m5 0h1m3 0h1m90 0h1m1 0h17m22 0h1m2 0h13m1 0h3m1 0h1m86 0h1m4 0h1m1 0h1m2 0h1m1 0h4m1 0h2m1 0h5m4 0h1m19 0h1m2 0h1m1 0h1m2 0h3m1 0h1m1 0h1m7 0h1m15 0h1M99 233.5h1m1 0h1m4 0h4m2 0h2m1 0h6m1 0h1m1 0h4m1 0h1m3 0h1m3 0h2m4 0h6m1 0h1m1 0h1m2 0h1m28 0h1m73 0h2m1 0h16m19 0h2m2 0h1m2 0h12m1 0h1m1 0h1m4 0h1m91 0h1m5 0h2m3 0h3m4 0h2m20 0h1m1 0h1m15 0h1M101 234.5h1m5 0h1m2 0h5m1 0h1m1 0h2m1 0h3m1 0h2m4 0h2m2 0h1m8 0h5m3 0h1m1 0h1m1 0h2m1 0h1m1 0h1m3 0h1m91 0h1m2 0h2m1 0h14m22 0h17m1 0h1m2 0h1m92 0h1m2 0h2m2 0h3m3 0h1m1 0h1m1 0h4m25 0h1m7 0h3M106 235.5h1m1 0h7m1 0h3m2 0h5m1 0h2m11 0h1m1 0h1m1 0h5m7 0h3m2 0h2m98 0h12m3 0h3m19 0h1m2 0h2m1 0h1m1 0h14m2 0h1m86 0h2m2 0h1m1 0h1m1 0h2m1 0h2m6 0h2m2 0h1m3 0h1m27 0h1m2 0h1m2 0h1m2 0h2M104 236.5h3m1 0h16m2 0h3m5 0h2m1 0h1m7 0h3m2 0h1m1 0h2m15 0h1m91 0h14m2 0h1m21 0h2m2 0h2m1 0h11m88 0h1m4 0h2m1 0h1m2 0h2m1 0h5m2 0h1m6 0h2m30 0h1m8 0h1M101 237.5h1m1 0h2m1 0h13m1 0h5m1 0h1m1 0h1m1 0h3m2 0h1m5 0h1m3 0h2m1 0h2m1 0h4m3 0h2m2 0h1m4 0h1m93 0h16m1 0h1m23 0h5m1 0h11m2 0h1m13 0h1m69 0h1m6 0h3m1 0h6m1 0h4m1 0h2m2 0h1m6 0h1m30 0h1m1 0h1M102 238.5h22m1 0h2m8 0h4m4 0h1m3 0h3m4 0h1m1 0h1m1 0h2m1 0h2m4 0h1m89 0h1m3 0h16m26 0h1m1 0h1m1 0h6m1 0h3m1 0h1m86 0h1m1 0h9m1 0h2m1 0h2m1 0h2m3 0h1m1 0h1m3 0h1m17 0h1m7 0h1m3 0h1m2 0h3m2 0h2M99 239.5h4m1 0h1m1 0h21m1 0h1m5 0h1m3 0h1m5 0h1m1 0h1m1 0h2m2 0h1m1 0h1m1 0h2m1 0h1m3 0h1m93 0h17m1 0h2m2 0h1m6 0h1m11 0h1m3 0h1m1 0h9m1 0h4m15 0h1m72 0h1m1 0h4m2 0h9m1 0h1m2 0h2m1 0h2m24 0h1m3 0h1m14 0h1M100 240.5h1m1 0h24m8 0h1m3 0h1m1 0h1m1 0h3m4 0h2m1 0h2m2 0h1m3 0h1m95 0h1m1 0h15m1 0h2m17 0h1m4 0h1m3 0h1m1 0h10m3 0h1m4 0h1m86 0h2m1 0h1m1 0h10m1 0h1m1 0h4m22 0h1m7 0h1m2 0h1m1 0h1M100 241.5h26m1 0h1m1 0h1m3 0h1m1 0h1m1 0h1m1 0h1m1 0h6m1 0h1m1 0h1m1 0h2m5 0h1m4 0h1m2 0h1m89 0h18m19 0h1m9 0h2m1 0h7m2 0h2m87 0h1m1 0h7m1 0h10m1 0h3m5 0h2m5 0h1m22 0h1m2 0h1M98 242.5h1m1 0h3m2 0h23m7 0h3m2 0h2m1 0h2m1 0h3m5 0h1m1 0h1m1 0h2m2 0h3m92 0h13m1 0h1m1 0h2m24 0h1m3 0h1m2 0h3m2 0h2m2 0h1m1 0h1m87 0h2m1 0h1m1 0h1m1 0h13m1 0h6m4 0h2m24 0h1m2 0h2M98 243.5h3m1 0h2m1 0h23m11 0h2m5 0h2m2 0h1m3 0h1m1 0h1m1 0h2m2 0h4m17 0h1m74 0h2m1 0h12m1 0h1m24 0h1m3 0h5m1 0h2m5 0h2m92 0h21m26 0h1m4 0h1m9 0h1m1 0h1M101 244.5h1m1 0h1m1 0h21m1 0h2m2 0h3m4 0h6m7 0h1m2 0h1m1 0h1m1 0h1m1 0h1m95 0h14m1 0h3m26 0h1m5 0h1m1 0h5m1 0h1m92 0h1m2 0h20m1 0h3m14 0h1m6 0h1m2 0h2m4 0h1m10 0h1M98 245.5h1m1 0h24m1 0h10m2 0h2m2 0h1m3 0h1m4 0h1m2 0h1m3 0h2m7 0h1m8 0h1m80 0h1m1 0h11m1 0h4m29 0h5m1 0h2m1 0h1m2 0h2m88 0h2m3 0h13m1 0h4m2 0h4m6 0h1M101 246.5h1m1 0h22m1 0h1m1 0h2m1 0h2m8 0h2m1 0h1m2 0h1m1 0h1m3 0h1m4 0h1m98 0h9m1 0h4m1 0h2m3 0h1m27 0h2m1 0h1m1 0h1m1 0h1m4 0h1m88 0h2m1 0h3m1 0h17m1 0h5m1 0h1m1 0h1m19 0h1M100 247.5h2m1 0h22m1 0h1m2 0h3m1 0h3m1 0h2m3 0h2m1 0h1m4 0h4m4 0h2m98 0h13m1 0h1m1 0h1m26 0h1m1 0h2m2 0h1m9 0h1m87 0h26m15 0h1m23 0h1M97 248.5h1m1 0h3m1 0h1m1 0h20m1 0h2m3 0h1m3 0h1m2 0h1m1 0h1m2 0h5m2 0h1m2 0h1m3 0h1m2 0h1m1 0h1m13 0h1m81 0h13m2 0h2m28 0h1m5 0h1m1 0h1m2 0h1m90 0h27m5 0h1m16 0h1m1 0h1m11 0h1M99 249.5h1m2 0h26m5 0h1m12 0h1m2 0h3m2 0h2m1 0h1m2 0h1m2 0h1m1 0h1m88 0h1m1 0h1m2 0h12m7 0h1m8 0h1m12 0h3m1 0h1m1 0h1m1 0h5m92 0h4m1 0h1m1 0h20m1 0h2m22 0h1m4 0h1m4 0h1m6 0h1M100 250.5h26m1 0h2m1 0h2m1 0h1m7 0h1m2 0h2m3 0h1m1 0h2m1 0h3m3 0h2m4 0h1m89 0h2m1 0h11m1 0h3m1 0h1m24 0h1m4 0h1m2 0h1m24 0h1m71 0h1m1 0h26m2 0h1m20 0h2m9 0h1m1 0h1M101 251.5h1m1 0h26m1 0h1m2 0h2m2 0h2m2 0h2m1 0h2m4 0h1m9 0h1m97 0h1m1 0h1m2 0h5m1 0h1m1 0h1m1 0h2m34 0h1m2 0h1m92 0h24m1 0h1m2 0h1m2 0h1m13 0h1m8 0h1M100 252.5h23m1 0h3m10 0h1m1 0h1m5 0h3m6 0h1m1 0h1m98 0h1m1 0h4m2 0h9m3 0h2m45 0h1m82 0h8m1 0h19m4 0h1m1 0h1m12 0h2m12 0h1M100 253.5h1m1 0h26m5 0h1m3 0h1m22 0h1m1 0h1m91 0h1m3 0h12m3 0h1m31 0h1m2 0h1m96 0h2m1 0h24m1 0h3m6 0h1m7 0h1m10 0h1M103 254.5h24m1 0h2m10 0h1m5 0h3m1 0h1m107 0h2m1 0h9m1 0h1m1 0h1m1 0h1m5 0h1m7 0h1m20 0h1m2 0h1m91 0h27m23 0h1m5 0h1M98 255.5h1m2 0h2m1 0h23m2 0h1m13 0h2m110 0h1m2 0h10m33 0h1m103 0h1m1 0h21m1 0h4m1 0h2m19 0h1m4 0h1M102 256.5h1m1 0h1m1 0h13m1 0h6m1 0h1m3 0h2m124 0h6m1 0h3m1 0h1m34 0h1m1 0h1m35 0h1m63 0h19m1 0h6m2 0h1m1 0h1M102 257.5h5m1 0h18m31 0h1m99 0h1m1 0h9m1 0h2m31 0h1m4 0h1m98 0h1m1 0h4m1 0h2m1 0h11m1 0h2m3 0h1m5 0h1m12 0h1M99 258.5h1m4 0h3m1 0h9m1 0h3m1 0h2m4 0h1m16 0h1m11 0h1m95 0h1m1 0h1m3 0h2m1 0h1m1 0h1m1 0h1m1 0h1m137 0h23m2 0h1m5 0h1m19 0h1m7 0h1M102 259.5h2m1 0h1m2 0h1m1 0h11m1 0h2m10 0h1m6 0h1m116 0h3m3 0h1m2 0h1m138 0h2m1 0h21m1 0h2m2 0h1M105 260.5h1m2 0h8m1 0h4m2 0h1m4 0h2m21 0h2m102 0h1m4 0h3m1 0h2m37 0h1m101 0h2m4 0h2m1 0h16m2 0h2M102 261.5h1m1 0h1m2 0h1m1 0h1m1 0h1m1 0h1m1 0h1m1 0h2m4 0h2m133 0h2m1 0h4m14 0h1m41 0h1m85 0h2m2 0h1m1 0h1m1 0h9m1 0h4m1 0h4M100 262.5h1m2 0h3m3 0h1m1 0h1m1 0h2m1 0h2m4 0h1m23 0h1m7 0h1m12 0h1m85 0h2m7 0h1m3 0h1m142 0h5m2 0h7m2 0h2m2 0h1M104 263.5h1m6 0h1m2 0h1m5 0h1m1 0h1m2 0h1m12 0h1m122 0h4m3 0h1m33 0h1m106 0h3m1 0h3m2 0h2m5 0h1m1 0h1M110 264.5h2m1 0h2m2 0h2m2 0h2m7 0h1m26 0h1m91 0h2m1 0h1m2 0h1m3 0h1m2 0h1m1 0h1m3 0h2m19 0h1m21 0h1m9 0h1m91 0h1m2 0h3m4 0h4m23 0h1M107 265.5h2m4 0h2m3 0h2m1 0h1m126 0h1m4 0h1m2 0h1m2 0h3m2 0h1m1 0h1m54 0h1m83 0h1m3 0h1m2 0h3m1 0h3m1 0h2m1 0h1m1 0h1m1 0h1m3 0h1m11 0h1M100 266.5h1m9 0h1m1 0h1m1 0h1m3 0h2m2 0h1m2 0h1m5 0h1m7 0h1m34 0h1m83 0h2m3 0h1m1 0h1m62 0h1m77 0h1m1 0h1m2 0h4m3 0h1m1 0h2m4 0h1M101 267.5h1m12 0h1m1 0h1m1 0h1m3 0h1m2 0h1m13 0h1m114 0h1m3 0h3m1 0h1m7 0h1m19 0h1m121 0h1m8 0h2m6 0h1m5 0h1M101 268.5h1m2 0h1m148 0h1m3 0h1m1 0h2m2 0h1m1 0h1m1 0h1m48 0h1m99 0h1m4 0h1M125 269.5h1m38 0h1m102 0h1m40 0h1M434 314.5h1M125 317.5h1m212 0h1m94 0h3m1 0h1M320 318.5h1m128 0h1M278 319.5h1m148 0h1m13 0h1M118 320.5h1m321 0h1M161 321.5h1m263 0h1m7 0h1M129 322.5h1m296 0h1m6 0h2m1 0h1m6 0h1M322 323.5h1m106 0h1m1 0h1m1 0h2M432 324.5h2m4 0h2M131 325.5h1m145 0h1m3 0h2m39 0h1m102 0h1m2 0h1m2 0h2m2 0h1M124 326.5h1m152 0h1m1 0h3m28 0h1m11 0h1m102 0h2m1 0h1m1 0h3m1 0h3m1 0h2m1 0h1M124 327.5h1m6 0h1m145 0h1m35 0h1m113 0h1m2 0h1m2 0h4m2 0h1M125 328.5h1m1 0h1m1 0h1m23 0h1m121 0h3m3 0h1m7 0h1m131 0h1m6 0h2m2 0h2m1 0h1m1 0h2m1 0h1M129 329.5h1m1 0h1m1 0h3m141 0h2m2 0h2m143 0h1m1 0h5m2 0h1m64 0h1M122 330.5h1m5 0h1m27 0h1m115 0h1m7 0h1m4 0h1m25 0h1m3 0h3m110 0h2m2 0h1m4 0h1m20 0h2M119 331.5h1m154 0h2m3 0h1m1 0h1m1 0h1m33 0h1m110 0h2m4 0h1m2 0h2M122 332.5h1m5 0h3m2 0h1m19 0h1m7 0h1m112 0h2m2 0h3m4 0h1m25 0h1m5 0h2m1 0h1m110 0h1m5 0h3m4 0h1M123 333.5h1m2 0h1m28 0h1m120 0h2m1 0h2m1 0h1m29 0h1m2 0h1m3 0h1m106 0h1m4 0h3m1 0h1m1 0h1M124 334.5h3m1 0h1m4 0h1m129 0h1m12 0h4m32 0h1m6 0h1m104 0h1m7 0h2m1 0h5m2 0h1M122 335.5h1m1 0h1m4 0h2m2 0h1m1 0h1m29 0h1m106 0h1m4 0h1m1 0h4m29 0h1m3 0h1m106 0h1m6 0h3m2 0h1m2 0h1m3 0h1m52 0h1M126 336.5h4m1 0h3m5 0h1m18 0h1m116 0h2m2 0h4m2 0h1m30 0h1m104 0h1m4 0h1m4 0h3m8 0h1M121 337.5h1m2 0h2m1 0h4m143 0h1m4 0h6m28 0h1m116 0h1m6 0h3m5 0h1m16 0h1M118 338.5h1m5 0h3m1 0h1m1 0h1m21 0h1m121 0h2m1 0h4m1 0h1m31 0h1m2 0h1m105 0h1m6 0h1m2 0h1m27 0h1m2 0h1M126 339.5h4m22 0h1m119 0h1m1 0h4m2 0h3m142 0h1m3 0h1m3 0h1m17 0h2M124 340.5h2m1 0h4m121 0h1m23 0h1m1 0h4m32 0h1m4 0h1m109 0h1m3 0h2m2 0h2m2 0h1m2 0h1m2 0h1m16 0h1M123 341.5h2m1 0h1m2 0h2m18 0h1m128 0h2m2 0h1m1 0h1m2 0h1m25 0h1m3 0h1m91 0h1m23 0h1m2 0h4m4 0h1m14 0h1M123 342.5h1m2 0h1m1 0h3m3 0h1m2 0h1m17 0h1m118 0h1m4 0h3m32 0h1m122 0h1m2 0h1m18 0h1M126 343.5h1m2 0h2m26 0h1m122 0h1m27 0h1m122 0h1m1 0h1m26 0h1M122 344.5h1m1 0h2m3 0h2m24 0h1m124 0h2m28 0h2m6 0h1m120 0h1m21 0h1m1 0h1M125 345.5h1m2 0h2m1 0h1m1 0h1m15 0h1m127 0h1m1 0h3m19 0h1m17 0h1m105 0h1m11 0h2m18 0h1m8 0h1M126 346.5h2m1 0h1m149 0h2m1 0h2m24 0h1m124 0h1m6 0h1m1 0h1m16 0h2m36 0h1M121 347.5h1m7 0h1m1 0h1m3 0h1m15 0h1m126 0h1m2 0h1m158 0h1m56 0h1M130 348.5h1m4 0h2m143 0h1m2 0h1m30 0h1m115 0h1m4 0h1m4 0h1m9 0h1m1 0h1M124 349.5h1m1 0h1m4 0h1m149 0h1m143 0h1m12 0h1m2 0h1m1 0h2m15 0h1M123 350.5h3m1 0h3m152 0h1m163 0h1M125 351.5h1m2 0h1m151 0h1m1 0h3m142 0h1m2 0h1m3 0h1m3 0h1M126 352.5h1m4 0h1m1 0h1m7 0h1m141 0h1m150 0h4m1 0h1M278 353.5h1m21 0h1m17 0h1m117 0h2m4 0h1M132 354.5h1m148 0h2m13 0h1m2 0h1m37 0h1m99 0h2M281 355.5h1m17 0h2m128 0h1m8 0h1M118 356.5h1m6 0h2m9 0h1m163 0h3m3 0h1m124 0h1m3 0h1m2 0h1m1 0h1m4 0h1M279 357.5h1m2 0h1m13 0h1m1 0h2m121 0h1m7 0h3m2 0h2m5 0h1M123 358.5h1m7 0h1m4 0h2m5 0h2m132 0h1m1 0h1m2 0h1m10 0h2m5 0h1m134 0h1m3 0h1M126 359.5h1m1 0h1m165 0h1m4 0h4m131 0h1m1 0h1m1 0h1m2 0h1M126 360.5h1m14 0h1m154 0h3m131 0h1M124 361.5h1m2 0h1m3 0h1m20 0h1m127 0h1m12 0h4m3 0h1m137 0h1M122 362.5h1m10 0h1m1 0h2m149 0h1m3 0h2m1 0h1m3 0h1m24 0h1m6 0h1m101 0h1m53 0h1M122 363.5h1m10 0h1m1 0h1m145 0h1m9 0h2m31 0h2m1 0h1m104 0h1m9 0h1M126 364.5h1m5 0h1m9 0h1m137 0h1m10 0h2m2 0h1m136 0h1m5 0h1M127 365.5h1m1 0h2m11 0h1m151 0h2m25 0h1m4 0h1m107 0h1m7 0h1m7 0h1M128 366.5h1m3 0h2m137 0h1m13 0h1m5 0h3m1 0h1m24 0h1m4 0h1m2 0h1m3 0h2m95 0h1m2 0h1m1 0h1m6 0h1m46 0h1M123 367.5h2m2 0h5m159 0h3m22 0h1m4 0h1m1 0h1m117 0h2m43 0h1M118 368.5h1m4 0h1m3 0h3m8 0h1m148 0h2m29 0h1m4 0h4m105 0h1m8 0h2m40 0h1m5 0h1M126 369.5h2m3 0h1m2 0h3m143 0h2m10 0h2m23 0h3m2 0h2m9 0h1m94 0h3m4 0h1m2 0h3m3 0h1m25 0h1m13 0h2M127 370.5h2m1 0h3m2 0h1m141 0h1m3 0h1m3 0h1m28 0h1m3 0h1m2 0h4m3 0h1m96 0h1m2 0h2m3 0h1m1 0h1m1 0h1m2 0h1M120 371.5h1m4 0h3m1 0h1m1 0h1m1 0h1m5 0h1m16 0h1m120 0h2m2 0h1m4 0h1m3 0h1m20 0h1m1 0h2m1 0h1m1 0h4m1 0h6m3 0h1m92 0h1m7 0h1m3 0h3m4 0h1m22 0h1m2 0h1m2 0h2m3 0h1m1 0h1m21 0h1M125 372.5h2m3 0h3m1 0h1m38 0h1m106 0h3m2 0h1m1 0h1m4 0h1m19 0h1m2 0h13m1 0h1m2 0h1m95 0h3m2 0h2m2 0h1m1 0h3m18 0h1m18 0h1m9 0h1M129 373.5h2m9 0h2m133 0h1m1 0h1m1 0h2m1 0h2m3 0h1m1 0h1m19 0h1m1 0h1m1 0h1m1 0h5m1 0h7m96 0h1m5 0h1m1 0h3m2 0h2m1 0h1m1 0h1m2 0h1m24 0h1m14 0h1M124 374.5h1m2 0h1m1 0h1m4 0h1m121 0h1m20 0h1m2 0h3m4 0h2m2 0h1m1 0h1m17 0h3m1 0h5m1 0h5m1 0h3m5 0h1m94 0h3m1 0h1m1 0h1m1 0h1m1 0h1m1 0h1m32 0h1m5 0h1m1 0h1M128 375.5h1m3 0h1m42 0h1m95 0h1m1 0h4m1 0h1m1 0h10m22 0h1m2 0h9m1 0h2m2 0h4m96 0h1m3 0h4m1 0h1m2 0h1m30 0h1m2 0h1M125 376.5h4m6 0h1m26 0h1m104 0h1m6 0h4m1 0h4m1 0h2m1 0h2m24 0h1m3 0h9m1 0h1m2 0h1m99 0h10m1 0h1m2 0h1m25 0h1m4 0h1m6 0h1m7 0h1M127 377.5h2m23 0h1m15 0h1m102 0h1m1 0h10m1 0h1m1 0h3m2 0h1m18 0h1m2 0h10m2 0h2m2 0h3m96 0h2m2 0h3m1 0h2m4 0h2m1 0h1m12 0h1m2 0h1m7 0h1m2 0h1m1 0h2m1 0h1m3 0h1M125 378.5h1m2 0h1m4 0h1m14 0h1m3 0h1m11 0h1m8 0h1m97 0h4m1 0h6m1 0h4m1 0h1m1 0h1m20 0h13m1 0h2m1 0h5m97 0h1m2 0h1m1 0h4m19 0h1m2 0h1m1 0h1m5 0h1m1 0h1m8 0h2m3 0h1m1 0h1M127 379.5h2m2 0h5m1 0h1m18 0h1m15 0h1m96 0h5m1 0h5m1 0h5m19 0h1m3 0h3m1 0h19m89 0h2m4 0h1m1 0h1m1 0h3m4 0h2m1 0h1m4 0h1m4 0h1m5 0h2m8 0h1m5 0h1m5 0h1M120 380.5h1m7 0h4m6 0h1m14 0h1m5 0h4m2 0h1m2 0h1m96 0h1m3 0h14m1 0h2m1 0h2m18 0h22m90 0h1m5 0h1m1 0h1m5 0h4m2 0h3m14 0h1m6 0h2m2 0h2m2 0h2m2 0h2m8 0h1m2 0h1M115 381.5h1m10 0h1m1 0h1m1 0h2m1 0h2m3 0h1m14 0h2m1 0h2m9 0h1m97 0h2m2 0h2m1 0h2m1 0h14m18 0h5m1 0h17m7 0h1m75 0h2m7 0h3m1 0h1m4 0h1m1 0h1m2 0h1m1 0h1m1 0h3m13 0h1m5 0h1m1 0h1m7 0h1m2 0h2M126 382.5h1m3 0h1m2 0h3m2 0h1m18 0h1m3 0h1m104 0h20m1 0h1m18 0h1m2 0h18m87 0h1m6 0h1m2 0h1m5 0h2m2 0h3m21 0h1m7 0h2m4 0h2m10 0h1M115 383.5h1m10 0h2m1 0h3m1 0h1m1 0h1m13 0h1m2 0h1m3 0h1m2 0h3m1 0h2m100 0h1m1 0h2m1 0h14m2 0h2m16 0h24m1 0h1m84 0h2m2 0h1m1 0h6m1 0h6m1 0h2m2 0h1m1 0h1m1 0h1m11 0h2m5 0h1m4 0h4m2 0h1m2 0h5M111 384.5h1m1 0h1m6 0h1m5 0h7m3 0h1m10 0h1m2 0h1m2 0h1m2 0h2m1 0h1m1 0h2m4 0h1m7 0h1m89 0h26m12 0h1m4 0h20m2 0h1m80 0h2m2 0h3m1 0h5m1 0h3m1 0h1m2 0h3m2 0h1m20 0h2m7 0h1m1 0h2m4 0h2M107 385.5h1m5 0h2m1 0h2m8 0h5m1 0h5m4 0h1m3 0h1m1 0h1m1 0h1m1 0h1m3 0h3m1 0h2m4 0h1m1 0h1m1 0h2m88 0h1m1 0h24m2 0h1m1 0h1m16 0h1m1 0h1m1 0h16m3 0h2m79 0h1m3 0h1m2 0h3m1 0h2m1 0h6m2 0h2m3 0h1m1 0h3m17 0h2m2 0h1m1 0h1m1 0h1m1 0h2m5 0h1M111 386.5h1m2 0h1m1 0h2m3 0h1m1 0h3m1 0h9m2 0h1m4 0h1m4 0h1m1 0h1m1 0h1m4 0h1m1 0h1m3 0h1m1 0h3m2 0h1m92 0h2m1 0h19m2 0h4m16 0h1m3 0h15m1 0h2m84 0h2m1 0h16m1 0h3m3 0h1m2 0h1m10 0h1m6 0h1m4 0h2m1 0h1m2 0h1m1 0h2m4 0h1m2 0h1M108 387.5h1m2 0h1m2 0h4m2 0h14m2 0h1m4 0h1m4 0h1m3 0h1m1 0h1m1 0h2m1 0h1m1 0h1m1 0h1m2 0h5m91 0h1m1 0h23m20 0h2m1 0h18m82 0h1m1 0h2m1 0h15m1 0h8m1 0h1m1 0h1m15 0h1m2 0h1m2 0h1m1 0h2m2 0h2M100 388.5h1m4 0h1m5 0h6m1 0h2m1 0h3m1 0h5m3 0h1m1 0h1m3 0h1m1 0h1m1 0h2m1 0h1m2 0h1m1 0h2m1 0h1m5 0h3m3 0h1m1 0h1m1 0h1m91 0h3m1 0h18m1 0h1m1 0h1m12 0h1m5 0h21m5 0h1m75 0h1m3 0h20m2 0h5m1 0h1m2 0h1m3 0h1m16 0h1m2 0h3m5 0h1m2 0h1M105 389.5h1m1 0h29m6 0h5m2 0h1m4 0h1m1 0h2m6 0h1m1 0h3m2 0h1m91 0h23m17 0h1m1 0h9m1 0h9m2 0h1m85 0h25m3 0h1m8 0h1m2 0h1m12 0h1m2 0h1m1 0h1m3 0h1m1 0h2M108 390.5h16m1 0h7m2 0h1m5 0h3m1 0h1m2 0h3m1 0h7m1 0h1m3 0h1m1 0h1m5 0h1m87 0h1m1 0h2m2 0h23m16 0h21m4 0h1m78 0h1m1 0h27m1 0h1m1 0h2m5 0h1m4 0h3m4 0h2m1 0h5m6 0h2m1 0h2M105 391.5h22m1 0h7m1 0h2m2 0h1m4 0h4m2 0h3m1 0h1m2 0h2m3 0h1m1 0h1m5 0h1m87 0h21m1 0h1m1 0h1m1 0h1m1 0h1m15 0h1m2 0h19m83 0h31m1 0h2m6 0h1m8 0h1m6 0h1M101 392.5h1m1 0h32m8 0h2m2 0h2m1 0h2m1 0h3m1 0h1m4 0h1m1 0h1m94 0h1m1 0h23m2 0h1m9 0h1m9 0h20m83 0h28m1 0h1m2 0h1m1 0h1m4 0h1m2 0h1m6 0h1m2 0h3m3 0h4m3 0h1M98 393.5h1m3 0h4m1 0h25m1 0h1m8 0h1m1 0h7m1 0h1m2 0h3m1 0h2m2 0h1m1 0h1m91 0h2m1 0h21m1 0h2m19 0h6m1 0h15m82 0h1m1 0h1m1 0h24m1 0h5m2 0h1m9 0h1m2 0h1m2 0h1M101 394.5h1m2 0h26m1 0h1m2 0h3m5 0h3m1 0h6m1 0h1m1 0h1m1 0h4m7 0h1m91 0h22m2 0h1m1 0h1m14 0h1m2 0h1m1 0h1m1 0h17m83 0h1m1 0h31m2 0h1m3 0h1m4 0h2m2 0h1m4 0h1m4 0h2M100 395.5h3m2 0h28m1 0h1m8 0h2m1 0h1m1 0h1m2 0h1m1 0h2m1 0h1m2 0h3m4 0h1m1 0h1m90 0h3m1 0h16m1 0h2m5 0h1m17 0h1m1 0h10m1 0h3m2 0h1m3 0h2m79 0h34m19 0h1m6 0h1M101 396.5h1m1 0h1m1 0h26m1 0h1m6 0h2m2 0h1m1 0h1m4 0h6m2 0h1m4 0h1m1 0h1m1 0h1m4 0h1m84 0h1m1 0h22m20 0h1m1 0h1m3 0h14m1 0h1m84 0h29m2 0h1m1 0h2m8 0h1m2 0h1m1 0h4m2 0h2m6 0h1m1 0h1M100 397.5h3m1 0h1m1 0h23m1 0h5m2 0h1m3 0h3m1 0h3m2 0h7m1 0h2m1 0h1m2 0h1m7 0h1m84 0h1m1 0h2m1 0h20m22 0h2m1 0h11m2 0h1m87 0h2m1 0h28m1 0h2m7 0h1m6 0h1m5 0h1m2 0h1M103 398.5h28m1 0h2m2 0h1m3 0h3m1 0h3m1 0h2m1 0h1m1 0h3m1 0h1m1 0h1m1 0h1m7 0h2m83 0h2m1 0h1m2 0h21m1 0h3m13 0h1m4 0h2m1 0h15m86 0h34m8 0h1m1 0h2m6 0h1M103 399.5h32m3 0h5m1 0h10m3 0h3m2 0h1m7 0h1m82 0h1m3 0h2m1 0h15m1 0h5m19 0h2m2 0h1m2 0h1m3 0h9m11 0h1m76 0h1m1 0h31m3 0h1m10 0h1m1 0h2M100 400.5h2m1 0h31m2 0h2m1 0h2m1 0h3m2 0h1m1 0h1m2 0h4m2 0h2m95 0h2m1 0h22m2 0h1m14 0h1m3 0h1m2 0h2m1 0h9m3 0h2m86 0h2m1 0h31m7 0h1m1 0h1m20 0h1m1 0h1M100 401.5h3m1 0h28m1 0h3m1 0h1m1 0h2m1 0h1m6 0h1m3 0h5m1 0h1m3 0h1m1 0h1m89 0h20m1 0h2m1 0h3m22 0h2m4 0h1m2 0h5m89 0h36m1 0h1M101 402.5h2m2 0h25m1 0h3m2 0h2m2 0h3m5 0h1m1 0h2m1 0h1m1 0h1m1 0h1m7 0h1m91 0h1m1 0h11m1 0h7m4 0h1m21 0h2m2 0h1m1 0h2m1 0h3m91 0h33m6 0h1m6 0h1M100 403.5h3m2 0h26m1 0h2m3 0h1m1 0h1m6 0h2m1 0h3m6 0h1m1 0h1m3 0h2m85 0h3m3 0h7m1 0h8m1 0h2m2 0h1m2 0h2m21 0h1m2 0h8m1 0h1m8 0h1m81 0h30m1 0h2m2 0h2m12 0h1M102 404.5h31m4 0h2m5 0h1m2 0h1m2 0h2m1 0h1m1 0h2m4 0h1m91 0h1m1 0h1m1 0h19m28 0h1m3 0h1m1 0h2m1 0h3m21 0h1m71 0h28m1 0h3m1 0h1m2 0h1m1 0h1m20 0h1M102 405.5h3m2 0h24m1 0h1m2 0h2m2 0h1m4 0h1m4 0h1m7 0h1m28 0h1m67 0h1m1 0h1m1 0h4m1 0h4m1 0h3m1 0h2m2 0h3m22 0h1m1 0h1m2 0h1m5 0h2m94 0h2m2 0h24m2 0h1m5 0h2m1 0h1m2 0h1m1 0h2M102 406.5h32m8 0h1m1 0h1m110 0h1m1 0h14m2 0h1m25 0h1m9 0h1m2 0h1m96 0h1m1 0h29M101 407.5h2m1 0h1m1 0h26m4 0h1m14 0h1m8 0h1m90 0h2m2 0h8m1 0h2m1 0h3m2 0h1m27 0h1m1 0h1m13 0h1m91 0h1m2 0h1m1 0h20m5 0h2m1 0h1m8 0h1M103 408.5h2m2 0h25m17 0h1m102 0h1m2 0h7m2 0h2m5 0h1m138 0h25M99 409.5h1m6 0h23m1 0h1m10 0h1m1 0h1m4 0h1m105 0h1m4 0h7m2 0h1m4 0h1m27 0h1m107 0h1m2 0h20m5 0h1M102 410.5h1m3 0h20m1 0h2m3 0h1m119 0h1m2 0h1m3 0h1m1 0h1m1 0h3m1 0h2m2 0h1m139 0h24m1 0h2m2 0h2M104 411.5h1m3 0h16m4 0h2m3 0h1m119 0h1m2 0h4m2 0h1m1 0h3m2 0h1m3 0h1m31 0h1m24 0h1m78 0h2m4 0h10m1 0h3m1 0h1m1 0h1m2 0h1M104 412.5h2m3 0h1m1 0h11m1 0h3m6 0h1m1 0h1m4 0h1m14 0h1m97 0h1m3 0h2m3 0h2m1 0h1m10 0h1m131 0h1m4 0h1m2 0h4m1 0h4m1 0h1m1 0h2m1 0h3m1 0h2m2 0h1M105 413.5h1m3 0h1m1 0h6m1 0h7m4 0h1m122 0h1m2 0h2m1 0h5m1 0h2m5 0h1m25 0h1m110 0h1m2 0h3m4 0h4m2 0h3m1 0h1m1 0h1m3 0h1m1 0h2M111 414.5h1m2 0h2m2 0h3m23 0h1m12 0h1m97 0h1m154 0h1m7 0h1m1 0h3m1 0h4M292 462.5h1m43 0h1M279 463.5h1M286 464.5h1M278 465.5h1m17 0h1M278 466.5h1m3 0h2m152 0h1m27 0h2M119 467.5h1m171 0h1m8 0h1m140 0h1M268 468.5h1m4 0h1m49 0h1m110 0h1M128 469.5h1m148 0h1m1 0h3M147 470.5h1m133 0h1m4 0h1m33 0h1m109 0h1m5 0h1m12 0h1M125 471.5h1m3 0h1m148 0h2m38 0h1m111 0h1m18 0h1m23 0h1M125 472.5h1m152 0h1m173 0h1M126 473.5h1m150 0h1m2 0h2m33 0h1m117 0h1M117 474.5h1m12 0h1m2 0h1m138 0h1m2 0h1m1 0h6m1 0h1m151 0h1m47 0h2M117 475.5h1m10 0h1m146 0h2m3 0h1m1 0h2m15 0h1m8 0h1m5 0h1m6 0h1m1 0h1m102 0h1m5 0h2m28 0h1M128 476.5h1m3 0h1m141 0h2m1 0h1m1 0h4m2 0h1m2 0h1m29 0h1m2 0h1m1 0h1m4 0h1m105 0h1M129 477.5h1m142 0h5m2 0h1m2 0h1m1 0h2m29 0h1m7 0h1m103 0h2m5 0h1m1 0h1m31 0h1m20 0h1M123 478.5h2m3 0h1m3 0h1m2 0h1m128 0h1m1 0h1m8 0h2m1 0h2m1 0h2m1 0h1m32 0h1m5 0h2m4 0h1m97 0h1m8 0h1m30 0h1M135 479.5h1m137 0h1m1 0h7m1 0h1m1 0h1m19 0h1m7 0h1m6 0h1m3 0h2m3 0h1m1 0h1m97 0h1M115 480.5h1m8 0h1m3 0h1m1 0h1m4 0h1m25 0h1m112 0h7m4 0h1m12 0h1m2 0h1m11 0h1m1 0h2m2 0h1m2 0h1m1 0h2m1 0h1m103 0h1m1 0h2M116 481.5h1m10 0h4m4 0h1m138 0h1m1 0h7m3 0h2m13 0h1m13 0h2m2 0h4m2 0h1m100 0h1m4 0h1m1 0h2m1 0h1m1 0h1m7 0h1M128 482.5h1m5 0h1m1 0h1m4 0h1m130 0h5m1 0h6m9 0h1m1 0h1m23 0h3m1 0h3m102 0h1m2 0h2m1 0h1m1 0h2M118 483.5h1m2 0h1m3 0h1m1 0h2m1 0h2m1 0h2m136 0h3m1 0h7m1 0h1m1 0h1m29 0h1m1 0h1m2 0h2m102 0h1m6 0h1m32 0h1m16 0h1M121 484.5h1m7 0h2m2 0h1m1 0h1m15 0h1m115 0h1m4 0h1m1 0h7m1 0h1m12 0h1m20 0h1m1 0h6m1 0h2m97 0h1m3 0h1m5 0h3m1 0h1m2 0h1m18 0h1m2 0h1m10 0h1M122 485.5h1m2 0h2m1 0h1m1 0h5m15 0h1m10 0h1m1 0h1m105 0h3m2 0h3m3 0h2m19 0h2m12 0h1m1 0h1m1 0h1m3 0h3m6 0h1m95 0h3m2 0h3m21 0h1m16 0h1m7 0h1m5 0h1M120 486.5h1m3 0h1m1 0h1m1 0h2m16 0h1m122 0h1m2 0h12m17 0h1m13 0h3m1 0h3m1 0h2m99 0h1m9 0h3m1 0h1M120 487.5h1m1 0h6m2 0h1m1 0h2m4 0h1m13 0h1m2 0h2m113 0h3m1 0h4m2 0h2m1 0h1m1 0h1m24 0h1m2 0h1m1 0h1m1 0h7m1 0h2m98 0h3m1 0h1m4 0h2m1 0h1M115 488.5h1m4 0h1m1 0h2m4 0h2m1 0h1m1 0h2m7 0h1m17 0h2m5 0h1m102 0h1m1 0h5m2 0h3m9 0h1m4 0h1m16 0h1m2 0h1m2 0h1m1 0h3m3 0h2m1 0h1m1 0h1m8 0h1m85 0h1m3 0h1m3 0h3m2 0h1M123 489.5h4m1 0h1m1 0h2m2 0h1m6 0h2m15 0h2m111 0h10m1 0h1m14 0h1m13 0h1m4 0h6m2 0h2m103 0h5m1 0h3m30 0h1M113 490.5h1m13 0h1m1 0h1m3 0h1m12 0h1m3 0h1m3 0h1m13 0h2m96 0h1m3 0h1m1 0h8m1 0h2m27 0h1m4 0h2m1 0h2m1 0h2m2 0h2m10 0h1m89 0h1m1 0h1m1 0h2M124 491.5h3m2 0h2m1 0h5m1 0h1m128 0h1m1 0h5m1 0h7m19 0h1m10 0h1m1 0h5m2 0h2m1 0h2m2 0h1m97 0h2m1 0h5m1 0h2M119 492.5h1m1 0h1m7 0h3m1 0h1m1 0h1m17 0h1m6 0h1m104 0h1m5 0h8m1 0h3m5 0h1m3 0h1m20 0h3m2 0h5m5 0h1m96 0h1m3 0h1m1 0h4M131 493.5h3m15 0h1m3 0h1m4 0h1m10 0h1m97 0h1m6 0h6m1 0h1m15 0h1m9 0h1m3 0h1m1 0h1m1 0h3m1 0h3m1 0h2m2 0h1M122 494.5h2m2 0h1m4 0h1m2 0h3m6 0h1m12 0h2m1 0h1m12 0h1m92 0h1m3 0h1m4 0h5m2 0h1m1 0h1m16 0h1m12 0h3m1 0h2m1 0h1m1 0h1m1 0h1m3 0h1m98 0h1m1 0h1m4 0h1m2 0h1M120 495.5h1m1 0h4m5 0h5m15 0h1m19 0h1m91 0h1m4 0h2m2 0h6m3 0h2m33 0h9m7 0h1m88 0h1m3 0h1m1 0h6m6 0h1M124 496.5h1m3 0h2m1 0h1m4 0h1m16 0h1m2 0h1m10 0h2m96 0h1m3 0h2m1 0h3m1 0h4m3 0h1m12 0h1m18 0h7m3 0h1m104 0h2M123 497.5h2m1 0h1m2 0h3m5 0h2m11 0h2m114 0h1m5 0h8m1 0h1m14 0h1m8 0h4m6 0h1m5 0h2m1 0h1m91 0h2m11 0h4m1 0h1m1 0h1M123 498.5h1m3 0h1m3 0h1m2 0h1m134 0h3m1 0h1m1 0h1m1 0h3m1 0h1m2 0h1m3 0h2m2 0h1m6 0h1m3 0h1m11 0h4m1 0h2m4 0h1m1 0h1m2 0h1m7 0h1m78 0h1m10 0h1m1 0h4m1 0h1m2 0h1M128 499.5h1m1 0h1m2 0h1m5 0h1m12 0h1m115 0h1m2 0h3m3 0h1m1 0h2m4 0h1m1 0h1m1 0h1m21 0h2m1 0h1m2 0h3m1 0h3m93 0h1m1 0h1m3 0h2m3 0h1m2 0h2m1 0h2m28 0h1m30 0h1M122 500.5h3m1 0h1m1 0h1m2 0h2m11 0h3m4 0h1m7 0h1m1 0h2m108 0h4m4 0h1m2 0h1m3 0h2m6 0h1m16 0h1m2 0h1m1 0h2m1 0h1m1 0h1m1 0h1m95 0h1m3 0h2m6 0h2m2 0h1M120 501.5h1m9 0h1m1 0h1m5 0h1m129 0h2m1 0h5m1 0h2m4 0h1m11 0h1m2 0h1m1 0h1m9 0h1m2 0h2m1 0h1m1 0h2m1 0h1m2 0h2m2 0h1m4 0h1m5 0h2m79 0h1m3 0h1m1 0h2m1 0h1m1 0h1m1 0h1m1 0h1m29 0h1M98 502.5h2m18 0h1m4 0h2m2 0h1m2 0h2m3 0h2m18 0h1m1 0h1m2 0h1m108 0h2m2 0h1m2 0h2m1 0h3m9 0h1m1 0h2m5 0h1m10 0h1m1 0h1m2 0h1m1 0h4m1 0h1m1 0h1m13 0h1m79 0h2m3 0h4m2 0h1m2 0h1m41 0h1M120 503.5h1m2 0h2m2 0h1m1 0h1m3 0h1m137 0h1m1 0h1m1 0h7m3 0h1m3 0h1m2 0h2m5 0h1m1 0h1m5 0h1m5 0h1m4 0h1m1 0h4m6 0h1m1 0h1m83 0h1m3 0h2m1 0h6m1 0h2m3 0h1M116 504.5h1m12 0h1m3 0h1m2 0h1m16 0h1m106 0h1m6 0h6m1 0h1m2 0h1m7 0h5m9 0h1m1 0h1m2 0h1m5 0h1m1 0h2m3 0h4m4 0h1m92 0h2m2 0h4m1 0h3m1 0h1m2 0h2m42 0h1m4 0h1m16 0h1M109 505.5h1m3 0h1m3 0h1m8 0h5m5 0h1m5 0h1m3 0h1m1 0h1m1 0h1m116 0h2m2 0h3m1 0h3m14 0h1m1 0h3m9 0h3m3 0h2m4 0h1m102 0h1m3 0h4m1 0h2m5 0h1m25 0h1m7 0h1m4 0h1m6 0h1M119 506.5h1m6 0h1m1 0h1m13 0h1m2 0h1m1 0h2m1 0h1m2 0h1m102 0h1m7 0h1m2 0h4m1 0h2m1 0h4m11 0h3m2 0h3m8 0h1m2 0h2m1 0h3m1 0h2m2 0h1m97 0h1m1 0h13m30 0h1m24 0h1M110 507.5h1m3 0h1m6 0h4m2 0h2m3 0h1m6 0h1m4 0h1m118 0h2m1 0h9m6 0h2m6 0h2m1 0h1m1 0h1m1 0h1m2 0h1m10 0h1m2 0h3m1 0h2m1 0h1m96 0h3m1 0h10m26 0h1m17 0h3m18 0h1M111 508.5h1m3 0h2m2 0h1m1 0h6m2 0h1m1 0h1m3 0h1m4 0h1m6 0h1m8 0h1m2 0h1m5 0h1m91 0h1m3 0h1m1 0h1m3 0h2m1 0h4m3 0h1m1 0h2m11 0h1m1 0h1m1 0h1m3 0h2m2 0h1m2 0h2m1 0h2m1 0h1m1 0h3m3 0h2m92 0h1m3 0h1m1 0h11m1 0h2m2 0h1m7 0h1m27 0h1m3 0h1m19 0h1M108 509.5h1m3 0h2m5 0h1m1 0h1m1 0h6m2 0h1m13 0h1m2 0h2m2 0h1m6 0h2m5 0h1m95 0h1m3 0h10m1 0h5m9 0h5m5 0h1m2 0h3m1 0h10m1 0h1m1 0h2m96 0h15m3 0h1m35 0h1M106 510.5h1m1 0h1m3 0h1m3 0h2m1 0h1m2 0h10m3 0h1m5 0h2m6 0h2m1 0h2m3 0h1m8 0h1m89 0h1m6 0h2m1 0h7m1 0h6m2 0h1m8 0h1m1 0h1m9 0h1m1 0h1m2 0h2m1 0h6m1 0h2m8 0h1m2 0h1m83 0h1m1 0h4m1 0h10m1 0h1m2 0h1m28 0h1m1 0h1m3 0h1m4 0h1M107 511.5h1m1 0h1m2 0h1m1 0h15m1 0h1m10 0h1m1 0h1m3 0h1m5 0h2m108 0h2m1 0h1m1 0h12m6 0h2m1 0h1m12 0h1m2 0h1m3 0h4m1 0h5m1 0h2m6 0h1m82 0h1m6 0h6m1 0h9m56 0h1m8 0h1M98 512.5h1m7 0h1m3 0h1m1 0h1m1 0h17m1 0h1m10 0h2m2 0h2m6 0h1m105 0h1m2 0h1m1 0h16m23 0h2m1 0h3m1 0h1m1 0h8m1 0h1m89 0h1m1 0h1m2 0h3m1 0h11m1 0h1m1 0h1m1 0h1m27 0h1m2 0h1m3 0h1m3 0h1m12 0h1M102 513.5h3m1 0h1m4 0h2m1 0h16m2 0h2m2 0h2m1 0h1m4 0h2m1 0h1m2 0h1m1 0h2m2 0h1m6 0h1m98 0h17m20 0h1m7 0h3m1 0h9m97 0h16m41 0h3m2 0h2m9 0h1M103 514.5h1m1 0h1m3 0h6m1 0h18m2 0h1m7 0h1m2 0h2m2 0h1m2 0h1m1 0h1m5 0h1m1 0h1m96 0h16m1 0h1m9 0h1m5 0h1m7 0h1m3 0h17m3 0h1m86 0h1m4 0h5m2 0h7m1 0h1m5 0h2m21 0h1m2 0h1m5 0h2m3 0h1M98 515.5h1m1 0h2m3 0h2m2 0h23m1 0h2m1 0h2m1 0h1m1 0h1m2 0h1m6 0h1m10 0h1m1 0h1m1 0h1m94 0h3m1 0h14m3 0h1m11 0h1m4 0h1m1 0h1m1 0h1m1 0h1m2 0h12m1 0h2m1 0h1m83 0h3m3 0h1m2 0h15m26 0h1m16 0h1M97 516.5h2m1 0h2m1 0h1m1 0h2m1 0h5m1 0h17m1 0h4m6 0h1m5 0h1m2 0h1m3 0h1m16 0h1m14 0h1m75 0h16m1 0h1m4 0h3m3 0h1m5 0h1m3 0h2m2 0h1m1 0h1m1 0h1m1 0h11m94 0h1m1 0h4m1 0h3m1 0h6m1 0h1m23 0h3m10 0h1m7 0h1m14 0h1M97 517.5h1m3 0h1m3 0h19m1 0h6m2 0h1m6 0h1m3 0h2m1 0h2m1 0h2m6 0h1m103 0h17m23 0h6m1 0h13m2 0h1m83 0h1m2 0h1m1 0h1m2 0h4m2 0h8m1 0h2m1 0h1m23 0h1m2 0h1m9 0h2m1 0h1m11 0h1M99 518.5h1m3 0h32m1 0h2m1 0h6m2 0h1m3 0h2m1 0h1m5 0h1m98 0h20m1 0h1m21 0h11m1 0h5m1 0h2m2 0h1m81 0h1m3 0h1m3 0h1m1 0h4m1 0h8m1 0h1m1 0h2m1 0h2m4 0h1m3 0h1m15 0h1m8 0h3M98 519.5h4m1 0h33m4 0h1m6 0h1m1 0h1m1 0h3m5 0h1m5 0h1m4 0h1m88 0h18m1 0h1m2 0h1m7 0h1m12 0h1m2 0h16m89 0h1m2 0h1m2 0h4m1 0h1m1 0h5m2 0h1m1 0h2m9 0h1m9 0h1m13 0h1m17 0h1M99 520.5h1m1 0h1m1 0h21m1 0h6m3 0h1m1 0h1m4 0h2m1 0h1m1 0h1m2 0h4m2 0h2m1 0h1m5 0h2m10 0h1m4 0h1m77 0h2m2 0h17m1 0h2m22 0h14m6 0h1m2 0h1m78 0h1m1 0h8m1 0h5m1 0h5m4 0h1m19 0h1m1 0h1m15 0h2m1 0h1M97 521.5h2m3 0h30m1 0h1m1 0h1m1 0h1m1 0h1m1 0h2m3 0h1m2 0h2m5 0h1m1 0h1m4 0h1m1 0h1m94 0h21m21 0h17m3 0h1m2 0h1m1 0h1m6 0h2m71 0h1m1 0h1m2 0h2m1 0h2m1 0h2m1 0h8m1 0h3m8 0h1m13 0h1m1 0h1m3 0h1m10 0h1M102 522.5h29m1 0h1m3 0h3m4 0h2m1 0h1m3 0h1m1 0h2m2 0h3m3 0h1m6 0h1m84 0h1m5 0h15m1 0h1m20 0h1m7 0h1m1 0h17m13 0h2m68 0h1m1 0h1m1 0h9m1 0h12m8 0h1m11 0h2m16 0h1m1 0h1m8 0h1m9 0h1M101 523.5h34m2 0h1m2 0h2m2 0h2m2 0h2m1 0h1m1 0h2m1 0h1m2 0h1m2 0h1m1 0h1m92 0h1m1 0h15m1 0h2m2 0h4m16 0h2m4 0h17m2 0h1m2 0h1m78 0h7m2 0h13m1 0h5m32 0h1m6 0h1m10 0h1m8 0h1M97 524.5h2m2 0h5m1 0h25m1 0h2m1 0h2m1 0h1m3 0h1m1 0h6m8 0h1m3 0h1m90 0h1m7 0h19m1 0h1m9 0h1m10 0h6m1 0h11m87 0h20m1 0h1m1 0h1m1 0h1m5 0h1m19 0h1m6 0h1m1 0h1M100 525.5h34m3 0h3m4 0h1m2 0h3m2 0h2m3 0h3m9 0h1m87 0h2m2 0h2m1 0h17m1 0h1m17 0h1m1 0h1m1 0h9m1 0h5m1 0h2m2 0h1m83 0h2m1 0h18m1 0h2m21 0h1m7 0h1m2 0h1m5 0h1m5 0h1M100 526.5h33m1 0h1m2 0h2m3 0h7m4 0h2m1 0h1m2 0h1m2 0h2m3 0h2m1 0h1m82 0h1m4 0h1m1 0h1m1 0h14m1 0h2m3 0h1m21 0h16m1 0h1m84 0h2m1 0h18m1 0h4m19 0h1m8 0h1m15 0h1m9 0h1M100 527.5h33m2 0h1m1 0h1m5 0h3m2 0h1m2 0h1m1 0h3m3 0h4m6 0h2m87 0h1m1 0h17m6 0h1m15 0h1m3 0h1m1 0h3m1 0h13m1 0h1m82 0h3m1 0h18m1 0h1m1 0h1m1 0h1m4 0h1m12 0h1m7 0h1m8 0h2m7 0h1m12 0h1M99 528.5h33m1 0h4m2 0h1m3 0h6m1 0h1m2 0h1m3 0h2m2 0h3m90 0h1m2 0h1m1 0h1m1 0h2m1 0h15m18 0h1m7 0h13m1 0h1m4 0h1m81 0h24m2 0h2m1 0h1m16 0h1m1 0h1m9 0h1m4 0h1m15 0h1M97 529.5h3m1 0h35m1 0h1m1 0h2m1 0h1m1 0h1m2 0h3m1 0h1m2 0h2m6 0h2m95 0h20m25 0h2m1 0h2m1 0h8m1 0h1m1 0h2m1 0h1m1 0h1m79 0h1m1 0h28m14 0h1m2 0h1m10 0h1m4 0h1M100 530.5h3m1 0h32m1 0h3m4 0h1m1 0h4m1 0h1m1 0h2m2 0h3m99 0h3m1 0h5m1 0h7m4 0h1m5 0h1m13 0h1m3 0h1m2 0h2m1 0h4m1 0h3m1 0h1m2 0h2m82 0h27m1 0h1m2 0h1m10 0h1m3 0h1M97 531.5h1m1 0h1m1 0h28m1 0h3m3 0h2m5 0h1m2 0h3m4 0h2m2 0h2m1 0h1m96 0h1m1 0h1m1 0h3m1 0h10m1 0h1m3 0h1m17 0h1m4 0h3m2 0h9m1 0h1m2 0h1m5 0h1m78 0h26m4 0h1m7 0h1m15 0h2M99 532.5h35m8 0h1m5 0h1m4 0h1m4 0h1m94 0h1m4 0h1m1 0h2m1 0h12m29 0h1m1 0h1m1 0h6m2 0h2m3 0h1m84 0h28m2 0h1m5 0h1m8 0h2m20 0h1M97 533.5h1m2 0h28m1 0h3m1 0h3m1 0h2m6 0h2m1 0h1m5 0h1m3 0h1m3 0h1m94 0h1m2 0h12m1 0h1m1 0h1m1 0h1m18 0h1m6 0h1m2 0h9m3 0h1m1 0h2m85 0h20m1 0h4m1 0h1m9 0h1m7 0h1m3 0h1m2 0h1m1 0h2M99 534.5h2m1 0h31m1 0h3m4 0h1m2 0h2m6 0h1m1 0h1m1 0h1m1 0h2m1 0h1m92 0h1m4 0h2m1 0h11m7 0h1m3 0h1m16 0h1m2 0h12m90 0h27m4 0h1m1 0h1m3 0h1m12 0h1m7 0h1m24 0h1M97 535.5h1m1 0h3m1 0h28m3 0h2m2 0h1m5 0h1m1 0h1m5 0h1m3 0h3m8 0h1m5 0h1m5 0h1m73 0h1m7 0h10m1 0h2m13 0h1m7 0h1m7 0h1m4 0h1m2 0h6m89 0h1m1 0h25m2 0h1m9 0h1m31 0h1M99 536.5h32m4 0h1m7 0h1m1 0h1m4 0h1m4 0h1m96 0h1m1 0h1m4 0h3m1 0h5m1 0h6m26 0h2m3 0h2m2 0h2m1 0h2m2 0h1m1 0h1m86 0h27m21 0h2m3 0h1m5 0h1M101 537.5h5m1 0h2m1 0h17m2 0h2m2 0h1m2 0h1m4 0h2m1 0h2m4 0h2m15 0h1m82 0h1m1 0h1m1 0h1m4 0h14m25 0h1m5 0h1m1 0h2m4 0h3m1 0h1m1 0h1m87 0h26m3 0h1m22 0h1m5 0h1M97 538.5h1m1 0h2m3 0h2m1 0h1m3 0h5m1 0h10m2 0h1m1 0h1m1 0h1m2 0h1m5 0h1m19 0h1m4 0h1m88 0h2m1 0h1m1 0h7m1 0h3m1 0h2m28 0h1m2 0h4m1 0h2m3 0h1m2 0h1m89 0h23m24 0h1m6 0h1M105 539.5h18m1 0h6m3 0h1m2 0h2m6 0h1m5 0h1m6 0h1m2 0h1m96 0h2m1 0h3m1 0h5m2 0h1m2 0h1m24 0h1m9 0h3m94 0h26m2 0h2m11 0h1m20 0h2M105 540.5h2m2 0h6m1 0h2m1 0h6m1 0h1m2 0h2m1 0h2m13 0h1m109 0h1m4 0h8m4 0h1m7 0h1m22 0h1m1 0h1m2 0h5m91 0h21m1 0h2m1 0h2m1 0h1m31 0h1m28 0h1M100 541.5h1m1 0h4m4 0h14m1 0h2m1 0h2m3 0h2m12 0h1m4 0h1m16 0h1m83 0h1m4 0h1m2 0h1m1 0h3m2 0h6m27 0h1m2 0h1m1 0h2m2 0h1m1 0h2m92 0h1m1 0h23m1 0h1m1 0h2m22 0h1m8 0h2M102 542.5h4m3 0h5m1 0h8m2 0h2m1 0h1m2 0h5m37 0h1m12 0h1m68 0h5m1 0h2m1 0h2m2 0h1m2 0h2m3 0h1m25 0h1m1 0h3m3 0h1m2 0h1m22 0h1m69 0h23m1 0h2m2 0h1m2 0h1M102 543.5h3m1 0h13m1 0h3m5 0h1m2 0h1m5 0h1m6 0h1m12 0h1m1 0h1m95 0h7m1 0h4m1 0h1m25 0h1m14 0h1m2 0h1m4 0h2m87 0h2m1 0h23M104 544.5h1m4 0h2m1 0h5m3 0h1m9 0h1m124 0h2m2 0h4m1 0h2m1 0h4m42 0h2m21 0h1m69 0h1m2 0h16m1 0h2m1 0h2m2 0h2m1 0h1M105 545.5h3m2 0h4m1 0h2m2 0h1m6 0h1m2 0h1m123 0h1m4 0h3m2 0h5m1 0h1m1 0h2m56 0h2m75 0h4m1 0h17m1 0h1M112 546.5h4m6 0h2m1 0h1m17 0h1m5 0h1m101 0h1m3 0h1m1 0h1m3 0h1m2 0h3m3 0h1m3 0h1m7 0h1m28 0h5m15 0h1m77 0h23M106 547.5h1m1 0h2m3 0h1m1 0h1m2 0h2m1 0h1m1 0h1m4 0h1m122 0h1m5 0h1m1 0h1m1 0h7m1 0h2m20 0h1m117 0h18m1 0h2m1 0h1m28 0h1M108 548.5h2m2 0h1m2 0h1m1 0h2m9 0h1m4 0h1m1 0h1m122 0h7m1 0h3m35 0h2m1 0h2m30 0h1m66 0h1m1 0h2m1 0h13m1 0h4M113 549.5h1m1 0h1m1 0h2m3 0h2m7 0h1m127 0h1m4 0h1m4 0h1m17 0h1m19 0h1m104 0h17m2 0h1m3 0h1M110 550.5h1m7 0h2m3 0h3m2 0h1m125 0h1m2 0h1m5 0h3m2 0h2m3 0h1m45 0h1m90 0h6m1 0h8m1 0h2M112 551.5h1m2 0h1m1 0h1m5 0h1m132 0h1m1 0h2m1 0h2m3 0h2m41 0h1m9 0h1m90 0h1m1 0h11m1 0h1m5 0h2m1 0h1M111 552.5h2m1 0h2m1 0h2m2 0h1m134 0h1m5 0h1m2 0h2m2 0h2m138 0h2m3 0h3m2 0h2m1 0h2m1 0h1m3 0h2M108 553.5h1m1 0h1m4 0h1m1 0h2m6 0h1m1 0h1m5 0h1m119 0h1m3 0h2m3 0h3m1 0h1m9 0h1m49 0h1m82 0h1m1 0h1m1 0h3m6 0h1m6 0h2m49 0h1M106 554.5h2m1 0h1m5 0h1m1 0h2m2 0h1m5 0h1m130 0h1m5 0h1m11 0h1m33 0h1m95 0h1m9 0h1m1 0h1m2 0h2m6 0h1M100 555.5h1m6 0h3m3 0h1m1 0h1m3 0h1m1 0h1m2 0h1m4 0h1m128 0h2m1 0h1m5 0h1m142 0h1m3 0h1m2 0h1m3 0h1m6 0h1M108 556.5h1m2 0h2m6 0h1m2 0h1m7 0h1m139 0h1m52 0h1m86 0h1m4 0h1m2 0h1m3 0h1m5 0h1m1 0h2m66 0h1M112 557.5h1m3 0h3m6 0h1m128 0h1m4 0h2m12 0h1m25 0h1m121 0h2M112 558.5h1m1 0h1m4 0h1m2 0h1m139 0h1m17 0h1m35 0h1m98 0h2M107 559.5h1M113 560.5h1m3 0h1M257 561.5h1m15 0h1m24 0h1" stroke="#000" stroke-width="1" fill="none" shape-rendering="crispEdges"/>
<path d="M288 27.5h1M267 31.5h1m7 0h1m3 0h1m28 0h1m14 0h1M279 32.5h1m39 0h1M139 33.5h1m127 0h2M271 34.5h1M141 35.5h1m2 0h1m121 0h1m38 0h1m14 0h1M135 36.5h1m5 0h1m122 0h1m4 0h1m4 0h1m37 0h2M271 37.5h1m59 0h1m80 0h1m7 0h2m9 0h1M137 38.5h1m124 0h1m2 0h1m1 0h1m2 0h1m9 0h1m17 0h1m118 0h1M145 39.5h1m12 0h1m105 0h2m3 0h1m29 0h1m9 0h1m3 0h1m1 0h1m5 0h1m99 0h1m2 0h1M118 40.5h1m6 0h1m30 0h1m108 0h1m1 0h1m4 0h1m37 0h2m6 0h1m2 0h1m6 0h1m83 0h1m6 0h1m10 0h1m31 0h1M111 41.5h2m7 0h1m1 0h1m3 0h1m15 0h1m3 0h2m110 0h1m2 0h1m3 0h1m5 0h1m5 0h1m25 0h1m2 0h1m3 0h2m1 0h2m4 0h1m8 0h1m87 0h1m2 0h1m3 0h3m3 0h1m14 0h1m5 0h1m6 0h1M111 42.5h1m5 0h1m10 0h1m16 0h1m2 0h1m108 0h1m1 0h1m8 0h1m2 0h1m21 0h1m5 0h1m13 0h1m6 0h1m4 0h1m88 0h1m29 0h1m40 0h1M109 43.5h2m8 0h1m1 0h1m4 0h1m1 0h2m23 0h1m116 0h1m3 0h1m18 0h2m15 0h2m3 0h2m4 0h2m89 0h1m3 0h1m5 0h1m2 0h1m4 0h1m30 0h2M104 44.5h1m4 0h1m6 0h1m1 0h1m1 0h3m6 0h1m16 0h1m10 0h1m13 0h1m101 0h1m28 0h1m1 0h1m1 0h1m13 0h2m1 0h1m1 0h1m2 0h1m84 0h1m12 0h1m19 0h1m21 0h1M111 45.5h2m11 0h2m5 0h1m8 0h2m13 0h1m106 0h2m1 0h1m1 0h1m2 0h1m1 0h1m28 0h1m1 0h1m5 0h1m1 0h2m5 0h1m3 0h1m95 0h1m3 0h1m9 0h1m28 0h1m8 0h1m19 0h1M110 46.5h3m9 0h1m1 0h1m3 0h1m1 0h2m5 0h1m6 0h1m14 0h1m112 0h1m37 0h1m8 0h1m11 0h1m83 0h1m3 0h1M127 47.5h1m14 0h1m8 0h1m4 0h1m4 0h1m2 0h1m96 0h1m9 0h2m6 0h1m5 0h1m14 0h1m1 0h2m4 0h1m2 0h1m4 0h1m3 0h1m7 0h2m85 0h1m16 0h1m1 0h1m31 0h1M106 48.5h1m5 0h1m14 0h1m14 0h1m5 0h2m8 0h1m6 0h1m99 0h1m1 0h1m7 0h1m28 0h1m2 0h1m1 0h1m6 0h1m1 0h2m9 0h1m12 0h1m67 0h3m4 0h1m49 0h1m9 0h2M107 49.5h2m40 0h1m2 0h1m6 0h1m7 0h1m104 0h1m2 0h1m2 0h1m34 0h2m3 0h1m7 0h1m7 0h1m80 0h1m16 0h1m2 0h1m30 0h1m2 0h1m19 0h1M100 50.5h1m30 0h1m3 0h1m17 0h1m109 0h4m5 0h1m1 0h1m39 0h1m12 0h1m80 0h1m3 0h2m16 0h1m35 0h1m2 0h1m19 0h1M105 51.5h1m21 0h1m2 0h1m2 0h1m2 0h1m4 0h1m8 0h1m1 0h2m1 0h1m1 0h2m4 0h1m1 0h1m97 0h1m1 0h1m6 0h1m2 0h1m25 0h1m2 0h1m3 0h1m1 0h2m11 0h2m109 0h1m6 0h2m14 0h1m11 0h2m13 0h1M100 52.5h1m5 0h1m19 0h1m3 0h1m1 0h2m18 0h1m35 0h1m78 0h1m7 0h1m26 0h1m4 0h1m8 0h1m2 0h1m2 0h1m4 0h1m4 0h1m103 0h1m21 0h1m1 0h1m9 0h1m2 0h1M107 53.5h1m20 0h1m1 0h1m8 0h1m1 0h2m11 0h1m6 0h1m102 0h2m5 0h1m5 0h1m21 0h1m2 0h1m5 0h1m5 0h1m1 0h1m5 0h1m4 0h1m108 0h1m5 0h1m11 0h1m23 0h1M99 54.5h2m1 0h1m1 0h1m27 0h1m1 0h1m3 0h1m1 0h1m3 0h1m5 0h1m2 0h2m8 0h1m95 0h1m10 0h2m1 0h1m26 0h1m8 0h1m2 0h1m5 0h1m2 0h1m1 0h1m121 0h1m3 0h1m14 0h2M101 55.5h1m29 0h1m17 0h1m5 0h1m3 0h1m100 0h1m4 0h1m4 0h1m2 0h1m25 0h1m9 0h1m1 0h1m2 0h1m5 0h1m1 0h1m3 0h1m83 0h1m25 0h1m20 0h1m1 0h1m4 0h1m4 0h1m4 0h1M102 56.5h1m30 0h1m10 0h2m2 0h1m5 0h1m14 0h1m90 0h1m5 0h1m34 0h1m1 0h1m3 0h2m2 0h1m2 0h2m5 0h1m89 0h2m31 0h1m8 0h1m11 0h2m11 0h1M134 57.5h1m12 0h1m3 0h1m5 0h2m1 0h1m3 0h1m90 0h1m3 0h2m5 0h1m4 0h1m4 0h1m3 0h1m3 0h1m18 0h1m1 0h1m2 0h1m3 0h1m5 0h2m92 0h1m1 0h1m35 0h1m14 0h1M135 58.5h1m3 0h1m8 0h1m2 0h2m2 0h1m5 0h1m99 0h1m8 0h1m10 0h1m2 0h2m13 0h1m2 0h1m18 0h2m86 0h2m25 0h1m23 0h1m1 0h1m5 0h1m2 0h1m3 0h1m4 0h1M135 59.5h1m6 0h1m120 0h1m12 0h1m30 0h1m1 0h1m1 0h2m4 0h1m3 0h1m85 0h1m25 0h1m1 0h1m2 0h1m1 0h1m20 0h1m15 0h1M99 60.5h1m5 0h1m32 0h1m1 0h1m7 0h2m1 0h1m3 0h1m8 0h1m1 0h1m8 0h1m88 0h1m4 0h1m5 0h1m23 0h1m2 0h1m3 0h1m1 0h1m2 0h1m4 0h1m5 0h1m4 0h1m79 0h2m30 0h1m21 0h1m1 0h1M130 61.5h1m8 0h1m8 0h2m3 0h1m11 0h1m116 0h1m4 0h1m11 0h1m5 0h1m1 0h1m8 0h1m16 0h1m78 0h1m42 0h1m3 0h1m3 0h1M136 62.5h1m10 0h1m2 0h1m6 0h1m99 0h1m9 0h1m14 0h1m12 0h1m5 0h1m1 0h1m106 0h2m23 0h3M101 63.5h1m30 0h1m19 0h1m11 0h1m125 0h2m3 0h1m8 0h1m24 0h1m79 0h1m26 0h2m2 0h1M104 64.5h1m36 0h1m18 0h1m9 0h1m108 0h1m19 0h1m18 0h1m92 0h1m41 0h2m4 0h1m1 0h1M130 65.5h1m19 0h1m15 0h1m123 0h1m27 0h1m117 0h1m2 0h1m15 0h2m22 0h1M106 66.5h1m26 0h1m5 0h1m16 0h1m9 0h1m126 0h1m1 0h1m3 0h1m12 0h1m94 0h1m1 0h1m2 0h2m33 0h1m4 0h1m9 0h1m10 0h1M128 67.5h1m9 0h1m5 0h1m3 0h1m3 0h1m139 0h1m7 0h1m32 0h1m3 0h1m70 0h1m25 0h1m12 0h1m18 0h1m8 0h1M102 68.5h2m4 0h2m12 0h1m4 0h2m1 0h1m22 0h1m108 0h1m70 0h1m76 0h1m2 0h1m32 0h1m6 0h1M104 69.5h1m2 0h1m1 0h1m171 0h1m2 0h1m9 0h2m10 0h1m19 0h1M110 70.5h2m1 0h1m16 0h1m7 0h1m14 0h1m126 0h1m6 0h1m24 0h1m97 0h1m1 0h1m1 0h1m2 0h1m22 0h1m1 0h1m6 0h1M104 71.5h2m19 0h1m3 0h1m7 0h1m142 0h2m6 0h1m32 0h1m89 0h3m2 0h1m1 0h1m23 0h1m5 0h2m7 0h1M104 72.5h1m17 0h1m8 0h1m147 0h1m2 0h1m3 0h1m2 0h1m2 0h1m1 0h1m22 0h1m3 0h1m1 0h1m90 0h1m12 0h1m20 0h1m1 0h1M106 73.5h1m10 0h1m8 0h1m3 0h1m1 0h1m17 0h1m2 0h1m125 0h1m9 0h1m1 0h1m27 0h2m15 0h2m73 0h1m2 0h1m29 0h1m7 0h1m1 0h1m9 0h1m10 0h1M112 74.5h2m2 0h1m6 0h1m5 0h1m131 0h1m17 0h1m3 0h1m5 0h1m1 0h1m32 0h1m91 0h1m35 0h1m11 0h1m5 0h1m3 0h2M124 75.5h1m158 0h2m28 0h1m15 0h1m6 0h1m75 0h1m1 0h1m2 0h2M114 76.5h2m16 0h1m4 0h1m1 0h1m139 0h1m1 0h1m3 0h1m1 0h1m23 0h1m8 0h2m14 0h1m80 0h1m11 0h1m8 0h1m6 0h1M115 77.5h1m3 0h1m1 0h1m7 0h1m1 0h2m4 0h1m13 0h1m5 0h1m111 0h1m6 0h1m4 0h1m29 0h1m2 0h1m2 0h1m5 0h1m3 0h2m87 0h1m40 0h1M118 78.5h1m8 0h2m2 0h2m1 0h2m1 0h1m136 0h1m3 0h1m1 0h1m6 0h1m25 0h3m3 0h1m94 0h1m2 0h1m22 0h1m16 0h1m3 0h1m3 0h1m1 0h1M111 79.5h1m2 0h1m5 0h1m3 0h1m9 0h1m4 0h1m134 0h1m2 0h1m8 0h1m5 0h1m23 0h1m1 0h1m4 0h1m4 0h1m3 0h1m90 0h1m16 0h1m10 0h3m4 0h1m13 0h1M106 80.5h1m8 0h2m10 0h1m1 0h1m3 0h1m32 0h1m101 0h1m4 0h1m2 0h1m2 0h1m2 0h1m2 0h1m5 0h1m20 0h1m2 0h3m6 0h1m1 0h1m1 0h3m88 0h1m8 0h1m10 0h2m11 0h1M99 81.5h1m16 0h1m14 0h1m1 0h1m3 0h1m131 0h1m2 0h1m2 0h1m2 0h1m7 0h1m25 0h2m16 0h1m111 0h1m8 0h1m10 0h1m3 0h1M98 82.5h2m17 0h1m4 0h1m1 0h3m7 0h1m1 0h1m127 0h1m18 0h2m2 0h2m31 0h1m6 0h1m1 0h1m93 0h1m3 0h1m17 0h1m3 0h1m4 0h1M123 83.5h1m10 0h1m8 0h1m133 0h1m5 0h1m6 0h1m18 0h1m1 0h1m6 0h1m10 0h1m1 0h1m97 0h1m23 0h1m4 0h1m2 0h1m1 0h1M117 84.5h1m1 0h1m1 0h1m14 0h1m7 0h2m120 0h1m15 0h1m4 0h1m22 0h2m2 0h1m3 0h1m1 0h1m136 0h1m6 0h1m2 0h2M113 85.5h1m5 0h1m2 0h1m3 0h1m1 0h1m8 0h1m129 0h1m3 0h1m40 0h1m13 0h1m98 0h1m14 0h1m15 0h1m5 0h1m6 0h1M113 86.5h2m2 0h1m15 0h1m1 0h1m46 0h2m83 0h1m5 0h1m12 0h1m22 0h1m2 0h2m5 0h1m5 0h1m3 0h1m91 0h1m23 0h1m9 0h1m6 0h1m4 0h1M109 87.5h1m3 0h1m8 0h1m1 0h1m8 0h2m1 0h1m122 0h1m6 0h1m3 0h1m12 0h1m5 0h1m16 0h1m5 0h1m13 0h2m99 0h1m21 0h1m13 0h1m5 0h1M117 88.5h1m2 0h1m16 0h1m12 0h1m108 0h1m4 0h1m42 0h1m2 0h1m3 0h1m12 0h2m98 0h1m14 0h1m3 0h2M112 89.5h1m6 0h1m1 0h1m11 0h1m1 0h1m1 0h2m11 0h1m115 0h2m3 0h1m11 0h2m2 0h1m3 0h1m21 0h1m2 0h1m1 0h1m9 0h1m86 0h1m10 0h1m1 0h1m12 0h2m14 0h1m8 0h1M112 90.5h2m6 0h1m16 0h1m8 0h1m26 0h1m94 0h1m12 0h2m33 0h1m10 0h1m114 0h1m18 0h1m2 0h1M104 91.5h1m6 0h1m6 0h1m3 0h1m4 0h1m3 0h1m12 0h1m36 0h1m81 0h1m4 0h1m12 0h2m8 0h1m15 0h1m4 0h1m5 0h1m4 0h1m1 0h3m2 0h1m96 0h1m26 0h1M99 92.5h1m11 0h1m1 0h1m7 0h1m12 0h1m12 0h1m4 0h1m114 0h1m3 0h2m7 0h1m4 0h1m20 0h1m3 0h1m9 0h1m1 0h1m102 0h1m4 0h1m19 0h3M110 93.5h1m23 0h3m1 0h1m12 0h1m108 0h1m4 0h1m6 0h1m6 0h1m3 0h1m5 0h1m18 0h1m6 0h2m2 0h1m6 0h2m85 0h2m5 0h1m14 0h1m7 0h1m7 0h2m17 0h1M105 94.5h1m7 0h1m26 0h1m13 0h1m3 0h1m109 0h1m2 0h1m38 0h4m4 0h1m5 0h1m6 0h1m81 0h1m9 0h1m3 0h1m1 0h1m12 0h1m26 0h1M102 95.5h1m7 0h1m11 0h1m140 0h1m15 0h1m31 0h1m3 0h1m5 0h1m2 0h1m4 0h1m87 0h1m3 0h1m9 0h1m4 0h1m4 0h1m2 0h1m14 0h2M109 96.5h1m9 0h1m5 0h1m12 0h2m9 0h1m104 0h1m15 0h1m2 0h1m1 0h1m34 0h1m8 0h1m1 0h1m1 0h1m92 0h1m5 0h1m9 0h1m3 0h1m1 0h2m14 0h1M105 97.5h1m11 0h2m5 0h1m6 0h1m5 0h1m1 0h1m9 0h1m4 0h1m5 0h1m8 0h1m108 0h1m1 0h1m6 0h1m25 0h1m6 0h1m2 0h1m3 0h1m95 0h1m2 0h1m5 0h1m8 0h1m8 0h1m13 0h2M105 98.5h2m1 0h1m10 0h1m5 0h1m2 0h1m3 0h1m2 0h1m11 0h1m20 0h1m103 0h1m3 0h1m1 0h1m5 0h1m19 0h1m2 0h1m10 0h2m2 0h1m3 0h2m89 0h1m10 0h1m3 0h1m1 0h2m14 0h2M108 99.5h1m1 0h1m5 0h3m2 0h1m1 0h1m5 0h1m2 0h1m15 0h1m2 0h2m10 0h1m96 0h3m1 0h1m5 0h1m2 0h1m2 0h1m7 0h1m21 0h2m1 0h2m4 0h1m2 0h1m5 0h1m87 0h1m2 0h1m7 0h1m5 0h1m1 0h2m1 0h1m7 0h1M109 100.5h3m10 0h1m13 0h1m22 0h1m103 0h1m1 0h1m6 0h1m4 0h1m9 0h1m21 0h1m3 0h1m10 0h1m92 0h1m3 0h1m6 0h1m1 0h2m5 0h1m2 0h1M121 101.5h1m2 0h1m1 0h1m24 0h1m101 0h1m1 0h2m15 0h1m7 0h1m1 0h1m19 0h1m4 0h2m7 0h1m3 0h1m2 0h1m6 0h1m85 0h1m1 0h1m4 0h1m14 0h1m1 0h1M112 102.5h1m2 0h1m4 0h1m4 0h1m3 0h1m9 0h1m114 0h2m7 0h2m1 0h1m4 0h1m12 0h1m28 0h1m11 0h1m91 0h2m1 0h1m3 0h2m50 0h1M100 103.5h1m14 0h1m2 0h1m1 0h1m3 0h1m1 0h1m23 0h1m126 0h1m28 0h1m6 0h1m13 0h1m87 0h1m1 0h2m4 0h1m2 0h1m4 0h1m1 0h1M125 104.5h1m7 0h1m8 0h1m19 0h1m103 0h1m15 0h1m29 0h1m2 0h2m4 0h1m94 0h1m7 0h2m5 0h2M109 105.5h1m5 0h1m4 0h2m40 0h1m103 0h1m4 0h1m6 0h1m46 0h1m84 0h1M101 106.5h1m1 0h1m74 0h1m80 0h1m3 0h1m1 0h2m3 0h1m2 0h1m1 0h2m1 0h1m27 0h2m7 0h3m2 0h1m2 0h1m93 0h1m5 0h1m1 0h3m14 0h1M263 107.5h1m3 0h1m1 0h1m4 0h1m6 0h1m36 0h1m1 0h1m89 0h1M103 108.5h1m15 0h1m22 0h1m15 0h2m105 0h1m1 0h1m2 0h1m3 0h1m30 0h1m12 0h1m6 0h1m92 0h1M109 109.5h1m5 0h1m16 0h1m5 0h1m7 0h1m18 0h1m93 0h1m10 0h2m2 0h1m35 0h1M105 110.5h1m3 0h1m3 0h1m12 0h1m11 0h1m12 0h1m104 0h1m8 0h1m5 0h1m12 0h2m29 0h1m1 0h2M107 111.5h2m4 0h2m11 0h1m145 0h1m2 0h1m46 0h2m6 0h1M100 112.5h1m9 0h1m2 0h1m2 0h1m156 0h1m34 0h1m101 0h1m8 0h1M142 113.5h1m124 0h1m2 0h1m2 0h2m1 0h1m15 0h1m46 0h1m105 0h1M258 114.5h1m169 0h1M112 115.5h1m145 0h1m58 0h1M100 116.5h1m315 0h1M103 117.5h1m3 0h1m161 0h1m44 0h1m3 0h1M119 118.5h1m144 0h1m4 0h1m44 0h1M315 119.5h1m106 0h1M114 120.5h1M319 173.5h1M285 174.5h1M119 175.5h1m163 0h1M283 176.5h1m39 0h1M131 177.5h1m191 0h1M115 178.5h1m163 0h1M120 179.5h1m199 0h1M117 180.5h1m4 0h1m3 0h1m15 0h1m135 0h1m3 0h2m30 0h1m6 0h2M113 181.5h1m4 0h3m21 0h1M123 182.5h1m2 0h2m1 0h1m148 0h1m3 0h1m145 0h1M113 183.5h1m8 0h1m159 0h1m28 0h1m111 0h1M113 184.5h1m162 0h1m13 0h1m22 0h1m6 0h2m91 0h2m8 0h2m1 0h1m37 0h1m19 0h1M108 185.5h2m5 0h2m7 0h2m6 0h1m18 0h1m120 0h1m1 0h1m5 0h1m40 0h1m89 0h1m7 0h1m3 0h1m40 0h1M102 186.5h1m3 0h1m12 0h1m9 0h1m154 0h1m40 0h2m95 0h2m5 0h1m7 0h1m7 0h1m10 0h1m19 0h1M110 187.5h1m1 0h1m159 0h2m1 0h1m2 0h1m39 0h1m13 0h1m87 0h1m1 0h1m1 0h1m3 0h2m1 0h1m25 0h1M113 188.5h1m163 0h1m2 0h2m32 0h1m17 0h1m83 0h1m16 0h1m23 0h1m24 0h1M111 189.5h1m45 0h1m121 0h1m1 0h1m29 0h2m2 0h1m4 0h2m85 0h2m19 0h1m13 0h1M114 190.5h1m41 0h1m2 0h1m117 0h1m134 0h1m4 0h1m6 0h1m1 0h1m6 0h1M101 191.5h2m4 0h1m6 0h1m27 0h1m9 0h2m2 0h2m110 0h1m3 0h1m5 0h2m3 0h2m33 0h1m2 0h1m90 0h1m18 0h1m2 0h1M127 192.5h1m2 0h1m5 0h1m3 0h1m11 0h1m7 0h1m108 0h1m1 0h1m8 0h1m3 0h1m41 0h1m92 0h1m3 0h1m4 0h1m1 0h1m7 0h1m16 0h1m14 0h1M104 193.5h1m3 0h1m19 0h1m25 0h1m6 0h1m109 0h1m10 0h1m1 0h1m27 0h1m92 0h1m2 0h1m1 0h1m1 0h1m1 0h1m6 0h1m8 0h1m6 0h1m17 0h1M106 194.5h2m27 0h2m3 0h1m20 0h1m111 0h1m3 0h1m3 0h2m33 0h1m3 0h1m5 0h1m82 0h1m1 0h2m3 0h1m7 0h1m5 0h1m5 0h1m2 0h1m4 0h2m15 0h1M103 195.5h1m31 0h1m6 0h1m6 0h1m125 0h1m3 0h1m4 0h2m30 0h1m10 0h1m80 0h2m17 0h1m1 0h1m22 0h1m9 0h1M99 196.5h1m9 0h1m18 0h1m10 0h1m4 0h2m4 0h1m4 0h1m117 0h1m9 0h1m24 0h1m1 0h1m4 0h1m93 0h2m13 0h1m4 0h1m2 0h1m1 0h2M109 197.5h1m17 0h1m4 0h1m3 0h1m1 0h1m5 0h1m8 0h1m130 0h1m25 0h3m4 0h1m2 0h1m87 0h2m7 0h1m8 0h2m5 0h1m30 0h1M107 198.5h1m2 0h1m6 0h1m5 0h1m3 0h1m1 0h1m10 0h1m6 0h2m5 0h2m29 0h2m64 0h1m15 0h1m3 0h1m2 0h1m5 0h1m1 0h1m33 0h1m90 0h2m16 0h1m3 0h1m1 0h1m4 0h1m5 0h1m14 0h2M105 199.5h1m3 0h1m22 0h1m4 0h2m1 0h2m10 0h1m114 0h1m1 0h1m7 0h1m4 0h1m24 0h1m4 0h1m4 0h1m4 0h2m5 0h2m4 0h2m71 0h1m1 0h2m1 0h1m12 0h1m5 0h2m23 0h1m2 0h1m2 0h1M109 200.5h1m2 0h1m4 0h1m2 0h1m13 0h3m15 0h1m8 0h1m109 0h1m5 0h1m4 0h1m1 0h1m25 0h1m3 0h2m1 0h1m3 0h1m1 0h1m4 0h1m79 0h2m5 0h1m24 0h1m5 0h1m13 0h1m11 0h1m5 0h1m1 0h1M105 201.5h1m4 0h1m4 0h2m5 0h1m1 0h1m4 0h1m22 0h1m6 0h1m100 0h2m7 0h1m6 0h1m3 0h1m25 0h4m5 0h1m3 0h1m87 0h1m5 0h1m4 0h1m10 0h2m31 0h1M107 202.5h1m1 0h1m5 0h1m3 0h1m2 0h1m1 0h1m6 0h2m6 0h1m6 0h1m3 0h1m14 0h1m99 0h1m2 0h1m7 0h1m7 0h1m23 0h1m1 0h1m10 0h1m10 0h1m1 0h1m73 0h1m2 0h1m5 0h1m10 0h1m1 0h2m3 0h1m28 0h1M124 203.5h2m2 0h1m9 0h1m1 0h1m7 0h1m4 0h2m10 0h1m108 0h1m2 0h1m3 0h2m22 0h1m3 0h1m13 0h1m4 0h2m79 0h1m3 0h1m12 0h2m3 0h1m4 0h1M107 204.5h1m8 0h1m5 0h1m1 0h1m4 0h1m149 0h1m3 0h1m22 0h1m3 0h1m1 0h1m8 0h1m1 0h1m84 0h1m7 0h2m2 0h1m5 0h1m7 0h1m21 0h1M103 205.5h1m16 0h1m4 0h1m1 0h1m4 0h1m1 0h1m11 0h1m12 0h1m95 0h1m10 0h2m5 0h1m3 0h1m1 0h2m3 0h1m27 0h1m7 0h1m1 0h1m87 0h1m3 0h1m14 0h2m1 0h1m27 0h1M105 206.5h2m6 0h1m1 0h1m2 0h3m7 0h1m2 0h1m138 0h1m5 0h1m46 0h2m88 0h1m16 0h2m5 0h1m1 0h1m3 0h1m10 0h1M114 207.5h1m148 0h1m7 0h1m9 0h1m22 0h1m2 0h1m10 0h1m99 0h2m14 0h1m1 0h1M116 208.5h1m1 0h2m24 0h2m122 0h1m15 0h1m30 0h1m91 0h1m5 0h1m6 0h1m4 0h1m1 0h1M108 209.5h1m9 0h1m5 0h1m17 0h1m23 0h1m91 0h1m6 0h1m2 0h2m1 0h1m8 0h1m25 0h1m1 0h2m2 0h1m95 0h1m3 0h1m2 0h1m4 0h1m9 0h3m1 0h1m34 0h1M107 210.5h1m1 0h1m1 0h2m6 0h1m4 0h1m7 0h1m1 0h1m15 0h1m1 0h1m112 0h1m14 0h1m131 0h1m7 0h2m4 0h2m9 0h1M110 211.5h1m3 0h2m1 0h1m13 0h1m1 0h1m20 0h1m110 0h2m22 0h1m1 0h1m16 0h1m9 0h1m99 0h1m4 0h1m3 0h2M106 212.5h1m2 0h1m6 0h1m1 0h2m8 0h1m178 0h1m1 0h1m16 0h1m84 0h1m9 0h2m6 0h1m4 0h1M121 213.5h1m3 0h1m4 0h2m12 0h1m134 0h2m22 0h1m2 0h1m17 0h1m1 0h1m3 0h1m78 0h2m13 0h1m7 0h1M113 214.5h1m4 0h3m3 0h1m1 0h1m136 0h1m28 0h1m2 0h1m3 0h1m7 0h1m12 0h1m93 0h1m1 0h1m7 0h1m31 0h1m17 0h1M110 215.5h1m6 0h1m1 0h1m2 0h1m2 0h1m136 0h1m8 0h1m8 0h1m14 0h1m7 0h2m14 0h1m1 0h1m1 0h1m1 0h1m86 0h1m5 0h1m13 0h1m3 0h1m12 0h1M115 216.5h1m4 0h1m144 0h1m1 0h1m9 0h1m10 0h2m22 0h1m5 0h1m1 0h1m94 0h1m10 0h1m3 0h2m2 0h1m2 0h1m21 0h1M115 217.5h1m25 0h1m119 0h1m22 0h1m1 0h1m15 0h1m4 0h1m9 0h1m103 0h1m8 0h1m2 0h1m3 0h1m1 0h1M104 218.5h1m6 0h1m5 0h1m11 0h2m132 0h1m16 0h1m5 0h1m7 0h1m1 0h1m2 0h1m1 0h1m103 0h1m7 0h1m10 0h1m5 0h2M107 219.5h1m11 0h1m8 0h2m132 0h2m14 0h1m11 0h1m10 0h1m1 0h1m1 0h1m1 0h1m11 0h1m102 0h1m2 0h1m22 0h1M113 220.5h1m4 0h1m12 0h1m126 0h1m3 0h1m18 0h1m16 0h1m20 0h1m2 0h1m5 0h1m85 0h1m4 0h2m10 0h1m2 0h2m1 0h1m1 0h1M116 221.5h1m4 0h1m1 0h1m2 0h2m3 0h2m131 0h1m15 0h1m21 0h1m12 0h1m5 0h1m16 0h1m71 0h1M117 222.5h1m3 0h1m137 0h1m21 0h1m6 0h1m9 0h1m4 0h2m125 0h1m1 0h1m3 0h1m34 0h1m8 0h2m6 0h1m6 0h1M108 223.5h1m6 0h1m6 0h1m8 0h2m121 0h1m3 0h1m6 0h1m9 0h1m26 0h1m16 0h1m89 0h1m5 0h1m1 0h1m1 0h1m18 0h1m34 0h1M104 224.5h1m8 0h1m6 0h1m1 0h1m1 0h1m17 0h1m12 0h1m101 0h2m1 0h1m4 0h1m9 0h3m26 0h1m15 0h1m93 0h1m4 0h1m11 0h1m2 0h1m2 0h1m23 0h1m28 0h1M121 225.5h1m3 0h1m1 0h1m19 0h1m11 0h1m141 0h2m116 0h1m2 0h1m10 0h1m39 0h1m16 0h1M111 226.5h1m3 0h1m30 0h1m3 0h1m8 0h1m140 0h1m2 0h1m9 0h1m7 0h1m92 0h1m19 0h1m3 0h2m37 0h1M112 227.5h1m3 0h1m4 0h1m4 0h1m27 0h1m1 0h1m102 0h1m1 0h1m16 0h1m1 0h1m21 0h2m109 0h1m5 0h1m1 0h1m2 0h1m8 0h2m1 0h1m5 0h1m29 0h1M106 228.5h1m9 0h1m6 0h1m22 0h1m4 0h1m1 0h1m123 0h1m24 0h1m18 0h2m97 0h1m2 0h1m6 0h1m42 0h1M118 229.5h1m2 0h1m3 0h1m20 0h1m8 0h2m101 0h1m23 0h1m14 0h1m20 0h2m19 0h1m68 0h1m17 0h1m3 0h1m4 0h1m6 0h1m14 0h1M108 230.5h1m4 0h1m10 0h1m2 0h1m14 0h2m11 0h1m99 0h1m6 0h1m15 0h1m26 0h1m100 0h1m9 0h1m11 0h1m43 0h1M102 231.5h1m4 0h1m18 0h1m5 0h1m5 0h2m10 0h1m3 0h1m4 0h1m1 0h1m139 0h1m16 0h2m1 0h1m84 0h1m13 0h1m3 0h1m5 0h1m35 0h1m2 0h1m12 0h1m12 0h1M99 232.5h1m2 0h1m4 0h2m1 0h1m8 0h1m2 0h1m1 0h1m3 0h1m1 0h1m2 0h1m23 0h1m5 0h1m5 0h1m14 0h1m73 0h1m43 0h1m104 0h1m11 0h1m7 0h1m33 0h1m1 0h1m4 0h1m3 0h2m6 0h1M105 233.5h1m5 0h1m2 0h1m6 0h1m1 0h1m6 0h2m17 0h1m4 0h1m1 0h2m7 0h1m91 0h1m2 0h1m16 0h1m37 0h1m1 0h1m1 0h1m2 0h1m90 0h1m2 0h1m3 0h1m10 0h1m24 0h1m1 0h1m6 0h1m3 0h1M104 234.5h1m4 0h1m5 0h1m1 0h1m2 0h1m3 0h1m2 0h2m7 0h1m3 0h4m5 0h1m5 0h1m2 0h1m103 0h1m14 0h1m18 0h2m20 0h1m96 0h1m9 0h1m3 0h1m44 0h1M104 235.5h2m14 0h1m5 0h1m4 0h1m9 0h1m23 0h1m3 0h1m103 0h2m22 0h1m1 0h1m3 0h1m1 0h1m20 0h1m84 0h1m4 0h1m5 0h1m10 0h1m29 0h1m2 0h1M103 236.5h1m3 0h1m17 0h1m10 0h1m2 0h2m7 0h2m11 0h1m96 0h2m15 0h2m1 0h1m26 0h1m12 0h1m2 0h2m3 0h1m91 0h1m5 0h2m2 0h1m3 0h1m17 0h2m14 0h1M102 237.5h1m16 0h1m5 0h1m1 0h1m6 0h1m1 0h2m2 0h1m2 0h1m3 0h1m129 0h1m21 0h1m7 0h1m107 0h1m6 0h1m4 0h1m5 0h1m16 0h2m15 0h1m3 0h1m1 0h1M124 238.5h1m3 0h1m10 0h1m10 0h3m105 0h3m18 0h1m18 0h1m1 0h1m1 0h1m3 0h1m109 0h1m2 0h1m2 0h1m2 0h3m31 0h1M103 239.5h1m1 0h1m21 0h1m9 0h1m2 0h1m9 0h1m2 0h1m1 0h1m4 0h1m3 0h1m91 0h1m43 0h1m12 0h1m20 0h1m78 0h1m9 0h1m1 0h1m27 0h1m1 0h1m8 0h1m1 0h1M126 240.5h1m10 0h1m10 0h1m2 0h1m2 0h2m3 0h1m97 0h1m28 0h1m7 0h1m4 0h1m3 0h1m10 0h1m3 0h3m2 0h1m84 0h1m2 0h1m12 0h1m1 0h1m14 0h1m20 0h1M99 241.5h1m26 0h1m1 0h1m5 0h1m3 0h1m12 0h1m6 0h1m1 0h1m4 0h1m129 0h1m7 0h1m2 0h1m99 0h1m7 0h1m10 0h1m3 0h2m31 0h1m3 0h1M104 242.5h1m24 0h1m3 0h1m8 0h1m7 0h1m2 0h1m11 0h2m103 0h1m1 0h1m32 0h1m3 0h2m2 0h1m95 0h1m1 0h1m13 0h1m32 0h2M101 243.5h1m2 0h1m23 0h1m7 0h1m1 0h1m2 0h1m2 0h1m10 0h1m26 0h1m74 0h1m15 0h1m37 0h2m118 0h1m1 0h1m39 0h1M98 244.5h1m3 0h1m1 0h1m29 0h1m1 0h1m15 0h2m1 0h1m1 0h1m6 0h1m89 0h2m14 0h1m44 0h2m113 0h1m3 0h1m22 0h1m7 0h1M99 245.5h1m24 0h1m11 0h1m6 0h2m1 0h1m2 0h1m1 0h2m1 0h2m101 0h1m11 0h1m4 0h1m6 0h2m17 0h1m7 0h1m4 0h2m92 0h2m14 0h1m5 0h1m4 0h1M100 246.5h1m26 0h1m9 0h2m6 0h1m6 0h1m2 0h3m8 0h1m89 0h1m9 0h1m9 0h1m24 0h1m2 0h1m17 0h2m81 0h1m2 0h1m3 0h1m25 0h1m1 0h1M102 247.5h1m29 0h1m3 0h1m4 0h1m2 0h1m4 0h1m10 0h1m96 0h1m13 0h1m1 0h1m32 0h1m5 0h1m118 0h1m9 0h1m17 0h1m9 0h1M98 248.5h1m3 0h1m1 0h1m29 0h1m1 0h1m5 0h1m5 0h1m2 0h1m6 0h1m6 0h1m9 0h1m81 0h1m13 0h1m3 0h1m28 0h1m12 0h1m114 0h3m6 0h1m13 0h1m1 0h1m4 0h1m11 0h1M97 249.5h2m42 0h1m3 0h1m6 0h2m2 0h1m2 0h1m2 0h1m109 0h1m2 0h1m10 0h1m16 0h1m1 0h1m27 0h1m75 0h1m1 0h1m20 0h1m2 0h1m20 0h1M126 250.5h1m2 0h1m20 0h1m107 0h1m19 0h1m23 0h1m3 0h1m99 0h1m27 0h1m33 0h1M131 251.5h1m3 0h1m10 0h2m6 0h2m10 0h1m88 0h2m11 0h1m3 0h1m40 0h1m115 0h1m1 0h2m18 0h1M123 252.5h1m3 0h2m6 0h1m24 0h1m1 0h1m93 0h1m4 0h1m10 0h3m33 0h1m12 0h1m91 0h1m19 0h2m1 0h1m6 0h1m15 0h1m1 0h1M99 253.5h1m32 0h1m6 0h2m5 0h1m9 0h1m4 0h1m93 0h1m33 0h1m23 0h1m93 0h1m24 0h1m4 0h1m5 0h1m22 0h1M98 254.5h1m28 0h1m14 0h2m126 0h1m38 0h1m140 0h1m12 0h2M103 255.5h1m23 0h1m19 0h2m105 0h1m1 0h1m12 0h1m1 0h1m3 0h1m157 0h1m27 0h1m1 0h2M98 256.5h1m2 0h1m1 0h1m1 0h1m13 0h1m28 0h1m8 0h1m105 0h1m37 0h1m122 0h1m6 0h2m27 0h1M132 257.5h1m4 0h2m6 0h1m112 0h1m9 0h1m2 0h1m31 0h1m2 0h1m98 0h1m1 0h1m4 0h1m2 0h1m11 0h1m2 0h2m3 0h1M107 258.5h1m9 0h1m3 0h1m14 0h2m114 0h1m10 0h1m1 0h1m1 0h1m1 0h1m37 0h1m121 0h1m2 0h1m2 0h1m2 0h2m12 0h1M106 259.5h2m13 0h1m30 0h2m3 0h1m107 0h1m2 0h1m34 0h1m101 0h1m2 0h1m24 0h1M102 260.5h1m18 0h2m4 0h1m2 0h1m3 0h1m121 0h1m2 0h1m7 0h1m43 0h1m95 0h1m2 0h1m2 0h1m17 0h1M103 261.5h1m4 0h1m5 0h1m1 0h1m29 0h1m8 0h2m103 0h1m4 0h1m45 0h1m94 0h1m2 0h2m1 0h1m1 0h1m9 0h1M110 262.5h1m1 0h1m7 0h1m3 0h1m13 0h1m14 0h1m1 0h1m12 0h1m89 0h1m2 0h1m1 0h1m1 0h1m36 0h1m111 0h2m11 0h1m3 0h1M115 263.5h1m1 0h1m5 0h2m129 0h1m4 0h2m151 0h1m7 0h1m5 0h1m1 0h1m6 0h1M108 264.5h1m3 0h1m6 0h1m3 0h1m132 0h1m1 0h1m1 0h2m1 0h1m2 0h1m45 0h1m101 0h1m12 0h1m7 0h1M110 265.5h1m1 0h1m9 0h1m129 0h1m4 0h2m4 0h1m144 0h1m6 0h1m6 0h1m1 0h1m3 0h1m1 0h1M113 266.5h1m1 0h1m4 0h1m11 0h1m129 0h1m3 0h1m176 0h1M112 267.5h1m2 0h1m1 0h1m137 0h1m1 0h1m3 0h1m1 0h1m142 0h1M116 268.5h1m173 0h1m24 0h1m96 0h1m2 0h1m6 0h1m12 0h1M104 269.5h1m158 0h1m1 0h1M438 314.5h1M436 317.5h1m12 0h1M319 318.5h1m117 0h1M119 320.5h1m307 0h1M434 321.5h1M322 322.5h1m102 0h1m5 0h1M129 323.5h1m302 0h1m10 0h1M431 324.5h1m2 0h1M278 325.5h2m146 0h1m3 0h1m8 0h1M131 326.5h1m150 0h1m28 0h1m121 0h1M160 327.5h1m114 0h1m2 0h1m2 0h1m32 0h2m1 0h2m109 0h2m1 0h2m4 0h1M124 328.5h1m3 0h1m1 0h1m23 0h1m5 0h1m118 0h1m3 0h1m4 0h1m28 0h1m102 0h1m1 0h1m8 0h1m4 0h1m2 0h1M125 329.5h1m2 0h1m1 0h1m1 0h1m146 0h1m3 0h1m1 0h1m136 0h1m4 0h1m5 0h2m66 0h1M129 330.5h1m147 0h1m1 0h1m1 0h2m30 0h1m119 0h2m9 0h1M122 331.5h1m33 0h1m4 0h1m110 0h1m5 0h1m1 0h1m1 0h1m2 0h1m27 0h2m117 0h1m9 0h1m1 0h1M121 332.5h1m9 0h1m20 0h1m159 0h1m117 0h1m11 0h1M122 333.5h1m2 0h1m2 0h2m3 0h3m142 0h1m2 0h1m1 0h1m27 0h1m2 0h1m5 0h1m104 0h1m4 0h1M122 334.5h2m5 0h1m21 0h1m112 0h1m15 0h1m1 0h2m139 0h1m1 0h1m4 0h1M117 335.5h2m6 0h1m6 0h1m18 0h1m121 0h1m9 0h2m32 0h1m119 0h1m1 0h1M121 336.5h1m2 0h2m8 0h1m139 0h1m2 0h2m34 0h1m111 0h1m1 0h2m5 0h2m2 0h1m20 0h1M122 337.5h2m2 0h1m4 0h1m3 0h2m19 0h1m116 0h1m4 0h1m152 0h2m26 0h1M122 338.5h1m4 0h1m1 0h1m26 0h1m116 0h1m2 0h1m4 0h1m1 0h2m28 0h1m2 0h1m108 0h1m3 0h1m2 0h1m32 0h1M118 339.5h1m5 0h2m147 0h1m5 0h1m34 0h1m120 0h2m1 0h1m2 0h1m19 0h1M409 340.5h1m49 0h1m1 0h1M125 341.5h1m1 0h1m6 0h1m13 0h1m103 0h1m27 0h2m6 0h1m25 0h1M122 342.5h1m2 0h1m147 0h1m8 0h1m1 0h1m23 0h1m6 0h1m117 0h1m4 0h2M137 343.5h1m143 0h3m34 0h1m113 0h1m5 0h1m22 0h1M126 344.5h1m1 0h1m2 0h1m17 0h1m132 0h1m36 0h1m118 0h1m27 0h1M124 345.5h1m153 0h1m181 0h1M128 346.5h1m6 0h1m14 0h2m129 0h1m143 0h1m6 0h1m1 0h1m6 0h1m15 0h1M122 347.5h1m7 0h1m303 0h1m7 0h1M125 348.5h2m2 0h1m148 0h2m1 0h1m33 0h1m122 0h2m20 0h1M127 349.5h1m155 0h1m146 0h1m4 0h1m1 0h1m1 0h1M122 350.5h1m155 0h2m142 0h2m14 0h1m2 0h1M131 351.5h2m146 0h1m1 0h1m146 0h1m6 0h1m3 0h1m6 0h1M125 352.5h1m6 0h1m7 0h1m141 0h1m155 0h1m1 0h1M125 353.5h1m5 0h1m147 0h1M278 354.5h3m16 0h1m2 0h1M132 355.5h1m147 0h1m162 0h1M280 356.5h1m12 0h2m8 0h1m137 0h1m1 0h2M293 357.5h1m1 0h1m1 0h1m124 0h1m17 0h1M130 358.5h1m1 0h1m150 0h1m11 0h1m3 0h1m141 0h1M128 360.5h1m151 0h1m13 0h2m135 0h1m6 0h1M128 361.5h1m1 0h1m2 0h1m156 0h1m1 0h1m4 0h1m182 0h1m4 0h1M134 362.5h1m17 0h1m143 0h1m27 0h2m4 0h1m149 0h1M128 363.5h1m166 0h1M127 364.5h2m152 0h1m12 0h1m133 0h2m3 0h1m3 0h1m12 0h1M128 365.5h1m196 0h1m7 0h1m107 0h1m36 0h1M127 366.5h1m1 0h1m142 0h1m17 0h1m3 0h1m1 0h1m27 0h1m1 0h1m104 0h1m3 0h1m6 0h1m35 0h1m8 0h1M122 367.5h1m162 0h1m4 0h1m27 0h1m1 0h1m4 0h1m4 0h1m98 0h1m10 0h1M130 368.5h2m2 0h1m1 0h2m155 0h1m25 0h1m10 0h1m4 0h1m94 0h2m56 0h1M118 369.5h1m9 0h1m1 0h1m2 0h1m144 0h2m2 0h2m3 0h1m6 0h2m19 0h1m8 0h3m8 0h1m101 0h1m3 0h1m33 0h2m10 0h1M126 370.5h1m2 0h1m3 0h1m2 0h1m145 0h3m2 0h2m5 0h2m19 0h2m8 0h2m2 0h2m2 0h1m105 0h1m4 0h1m33 0h1m5 0h2m1 0h1M128 371.5h1m3 0h1m147 0h1m34 0h1m6 0h1m6 0h1m98 0h2m2 0h1m1 0h1m33 0h1m12 0h1m19 0h1M120 372.5h1m8 0h1m26 0h1m118 0h1m1 0h3m3 0h2m1 0h1m6 0h1m15 0h1m1 0h1m1 0h1m19 0h1m89 0h2m7 0h1m5 0h1m3 0h1m31 0h1m9 0h2M125 373.5h1m13 0h1m33 0h1m110 0h1m27 0h1m1 0h1m5 0h1m9 0h1m91 0h2m5 0h1m6 0h1m2 0h1m26 0h1m8 0h1M128 374.5h1m3 0h2m144 0h2m4 0h1m4 0h1m4 0h1m25 0h1m5 0h1m3 0h2m101 0h1m1 0h1m1 0h1m28 0h1m15 0h1M127 375.5h1m5 0h1m136 0h1m6 0h1m1 0h1m31 0h1m1 0h2m9 0h1m2 0h2m99 0h1m3 0h1m4 0h1m1 0h1m2 0h1m27 0h2m6 0h2m3 0h1M132 376.5h1m28 0h1m109 0h1m1 0h1m4 0h1m4 0h1m2 0h1m3 0h3m17 0h1m5 0h1m11 0h2m110 0h1m4 0h1m23 0h1m2 0h1M125 377.5h1m9 0h1m15 0h1m120 0h1m12 0h1m37 0h2m110 0h1m2 0h2m6 0h1m24 0h1m10 0h1m7 0h1M137 378.5h1m9 0h1m15 0h1m5 0h1m105 0h1m6 0h1m4 0h1m39 0h1m100 0h2m1 0h2m1 0h1m4 0h2m16 0h1m21 0h1m6 0h1M120 379.5h1m8 0h2m5 0h1m32 0h3m1 0h1m100 0h1m5 0h1m6 0h1m2 0h1m15 0h1m25 0h1m86 0h1m6 0h1m1 0h1m1 0h1m6 0h1m4 0h1m4 0h1m15 0h1m4 0h1M127 380.5h1m6 0h1m28 0h1m104 0h1m14 0h1m2 0h1m2 0h1m39 0h2m6 0h1m75 0h1m9 0h1m2 0h1m1 0h2m1 0h1m6 0h1m3 0h1m8 0h1m6 0h1m3 0h1m2 0h1m13 0h1m7 0h1M125 381.5h1m6 0h1m35 0h1m98 0h2m2 0h1m2 0h1m37 0h1m114 0h1m2 0h1m1 0h1m25 0h1M115 382.5h1m15 0h2m16 0h1m109 0h1m26 0h1m1 0h1m16 0h1m2 0h1m18 0h3m83 0h1m1 0h1m24 0h1m24 0h1m9 0h2M114 383.5h1m10 0h1m2 0h1m3 0h1m3 0h1m18 0h1m1 0h2m3 0h1m96 0h2m5 0h1m2 0h1m14 0h2m2 0h1m39 0h1m87 0h1m20 0h1m1 0h1m3 0h1m18 0h1m2 0h1m18 0h1M110 384.5h1m1 0h1m8 0h1m15 0h1m8 0h1m4 0h1m3 0h1m4 0h1m13 0h1m88 0h1m65 0h1m88 0h1m5 0h1m3 0h1m1 0h2m7 0h1m20 0h1m1 0h2m4 0h1m8 0h1M115 385.5h1m6 0h2m7 0h1m14 0h1m1 0h1m3 0h1m15 0h1m116 0h1m4 0h1m18 0h1m16 0h2m84 0h1m7 0h1m15 0h1m1 0h1m3 0h1m12 0h1m2 0h1m3 0h1m1 0h1m1 0h1m1 0h1m9 0h2M118 386.5h2m2 0h1m3 0h1m14 0h2m3 0h1m8 0h2m5 0h1m102 0h1m20 0h1m19 0h1m1 0h3m15 0h1m83 0h2m3 0h1m16 0h1m3 0h1m3 0h1m2 0h1m10 0h3m2 0h1m2 0h1m6 0h1m8 0h1M110 387.5h1m1 0h1m6 0h1m14 0h2m1 0h2m12 0h1m4 0h1m3 0h1m9 0h1m90 0h1m24 0h1m20 0h1m18 0h1m5 0h1m76 0h1m2 0h1m15 0h1m8 0h1m17 0h1m7 0h1m2 0h1m8 0h1M110 388.5h1m6 0h1m2 0h1m3 0h1m5 0h1m3 0h1m10 0h1m4 0h1m2 0h1m1 0h2m8 0h1m1 0h1m3 0h1m93 0h1m18 0h1m1 0h1m3 0h1m120 0h1m20 0h2m36 0h1m3 0h1m2 0h1m1 0h1M106 389.5h1m34 0h1m8 0h2m1 0h1m1 0h1m4 0h2m1 0h1m1 0h1m95 0h2m27 0h1m11 0h1m11 0h1m9 0h2m2 0h1m108 0h1m16 0h1m14 0h1m1 0h1M124 390.5h1m8 0h1m2 0h1m2 0h1m6 0h1m3 0h1m9 0h3m1 0h1m3 0h1m91 0h1m2 0h1m39 0h1m24 0h1m80 0h1m27 0h1m4 0h1m5 0h2M127 391.5h1m13 0h2m1 0h1m9 0h1m7 0h1m92 0h1m24 0h1m1 0h1m1 0h1m1 0h1m17 0h1m24 0h1m126 0h1m8 0h3m1 0h1M98 392.5h1m3 0h1m39 0h1m6 0h1m6 0h1m8 0h1m89 0h1m4 0h1m44 0h1m101 0h2m28 0h1m1 0h2m12 0h1m5 0h1m4 0h1m21 0h1M106 393.5h1m28 0h1m7 0h1m9 0h2m6 0h1m6 0h1m112 0h1m27 0h1m15 0h1m82 0h1m26 0h1m5 0h1m10 0h1m21 0h1m11 0h1M102 394.5h1m27 0h1m14 0h1m8 0h1m1 0h1m4 0h1m4 0h1m89 0h2m25 0h1m18 0h1m25 0h1M103 395.5h1m38 0h1m2 0h1m4 0h1m4 0h1m1 0h1m104 0h1m16 0h1m2 0h3m19 0h1m1 0h1m10 0h1m3 0h1m121 0h1m2 0h2m2 0h1m2 0h1m8 0h1m3 0h1M102 396.5h1m1 0h1m28 0h1m4 0h1m5 0h1m1 0h1m1 0h2m10 0h2m2 0h1m1 0h1m114 0h1m20 0h1m1 0h3m16 0h1m112 0h2m8 0h1m12 0h1m5 0h1M99 397.5h1m3 0h1m1 0h1m23 0h1m14 0h1m3 0h2m7 0h1m103 0h1m36 0h1m7 0h1m11 0h1m88 0h1m2 0h1m48 0h1M101 398.5h2m32 0h1m1 0h1m12 0h1m1 0h1m5 0h1m3 0h1m9 0h1m83 0h1m2 0h1m21 0h1m3 0h1m19 0h1m15 0h1m128 0h1m5 0h1m5 0h1M101 399.5h2m40 0h1m11 0h1m5 0h1m1 0h1m5 0h1m105 0h1m5 0h1m23 0h1m2 0h2m10 0h2m87 0h1m38 0h1m3 0h1M102 400.5h1m31 0h1m10 0h1m2 0h1m1 0h1m106 0h1m23 0h1m14 0h1m19 0h1m4 0h1m87 0h1m34 0h1m6 0h1M103 401.5h1m28 0h1m3 0h1m1 0h1m2 0h1m5 0h1m2 0h1m124 0h1m2 0h1m3 0h1m18 0h1m4 0h1m161 0h1M104 402.5h1m25 0h1m4 0h1m3 0h1m9 0h1m6 0h1m101 0h1m11 0h1m7 0h1m2 0h1m1 0h1m23 0h1m1 0h1m6 0h1m123 0h2m7 0h2m17 0h1M131 403.5h1m2 0h1m3 0h1m9 0h1m4 0h1m3 0h1m97 0h1m8 0h1m8 0h1m41 0h1m21 0h1m99 0h1m3 0h1M101 404.5h1m33 0h1m6 0h2m112 0h1m19 0h3m24 0h1m5 0h1m2 0h1m3 0h1m120 0h1m6 0h1m24 0h1M101 405.5h1m3 0h2m24 0h1m1 0h1m8 0h1m5 0h1m2 0h1m1 0h1m98 0h2m1 0h1m6 0h1m4 0h1m6 0h1m29 0h1m4 0h1m100 0h1m28 0h1M139 406.5h3m110 0h1m3 0h1m43 0h1m5 0h2m100 0h1m31 0h2m8 0h1m2 0h1M105 407.5h1m26 0h2m3 0h1m4 0h1m16 0h1m103 0h1m2 0h1m3 0h1m2 0h1m135 0h2m1 0h1m20 0h1m2 0h1M101 408.5h1m4 0h1m25 0h1m10 0h1m122 0h2m1 0h2m1 0h1m29 0h1m105 0h1m29 0h1m11 0h1m6 0h2M100 409.5h1m3 0h1m24 0h1m1 0h1m123 0h1m2 0h1m10 0h3m32 0h1m106 0h1m20 0h2m34 0h1M126 410.5h1m6 0h1m14 0h1m104 0h1m6 0h1m12 0h1m30 0h1m163 0h1M125 411.5h2m7 0h1m4 0h1m3 0h2m116 0h1m1 0h1m3 0h1m6 0h1m31 0h1m24 0h1m80 0h1m12 0h1m3 0h1m1 0h1M110 412.5h1m11 0h1m10 0h1m119 0h1m15 0h1m3 0h1m134 0h1m5 0h1m9 0h1m1 0h1m2 0h1M117 413.5h1m135 0h1m3 0h1m15 0h2m132 0h1m14 0h2m3 0h1m3 0h1m6 0h1M110 414.5h1m6 0h1m6 0h1m129 0h1m7 0h1m5 0h1m2 0h1m136 0h1m10 0h1m9 0h1M287 464.5h1M275 465.5h2m20 0h1M133 466.5h1m307 0h1M133 467.5h1m138 0h2m8 0h1m18 0h1m21 0h1M291 468.5h1m141 0h1M129 469.5h1m156 0h1M146 470.5h1m132 0h2m40 0h1M281 471.5h1m38 0h1M129 472.5h1m147 0h1m37 0h1m2 0h1m111 0h1m39 0h2m1 0h1M125 473.5h1m1 0h1m2 0h1m144 0h1M115 474.5h2m7 0h2m8 0h1m136 0h1m11 0h1m24 0h1m128 0h1M123 475.5h2m4 0h1m147 0h3m8 0h1m9 0h1m14 0h1m8 0h1m104 0h1m8 0h1m30 0h1M124 476.5h1m4 0h1m146 0h1m1 0h1m4 0h2m34 0h1m4 0h1m108 0h1m33 0h1M128 477.5h1m154 0h1m2 0h1m34 0h1m2 0h2m141 0h1M129 478.5h1m147 0h1m2 0h1m34 0h2m8 0h1m102 0h2m38 0h1M115 479.5h1m8 0h1m1 0h1m3 0h1m5 0h1m24 0h1m102 0h1m7 0h1m11 0h1m34 0h1m10 0h1m103 0h1M126 480.5h2m1 0h1m4 0h1m164 0h1m12 0h1m7 0h1m2 0h1m2 0h1m99 0h1m10 0h1m40 0h1M275 481.5h1m14 0h2m34 0h1m100 0h1m9 0h1m1 0h1m38 0h1M125 482.5h1m1 0h1m1 0h3m3 0h1m113 0h1m35 0h1m8 0h1m1 0h1M129 483.5h1m5 0h2m4 0h1m132 0h1m39 0h1m3 0h2m4 0h4m110 0h1m43 0h1M125 484.5h1m1 0h2m5 0h1m138 0h1m28 0h1m14 0h1m111 0h1m29 0h1m4 0h1m8 0h1M120 485.5h1m2 0h2m2 0h1m1 0h1m19 0h1m10 0h1m111 0h1m4 0h2m3 0h1m33 0h1m1 0h1m2 0h1m109 0h1m4 0h1m32 0h2m4 0h1m7 0h1M130 486.5h1m1 0h3m149 0h2m137 0h1M119 487.5h1m1 0h1m6 0h1m5 0h1m16 0h1m2 0h1m6 0h1m111 0h1m4 0h1m3 0h1m1 0h1m11 0h1m14 0h1m15 0h1m4 0h1m90 0h2m3 0h1m7 0h1M114 488.5h1m6 0h1m8 0h1m138 0h1m7 0h2m4 0h2m5 0h1m2 0h2m16 0h1m3 0h1m1 0h2m1 0h1m4 0h1m102 0h1m1 0h1m8 0h1M120 489.5h1m1 0h1m4 0h1m1 0h1m5 0h1m17 0h1m13 0h1m102 0h1m10 0h1m2 0h1m30 0h1m6 0h1m7 0h1m10 0h1m85 0h2m38 0h1M130 490.5h1m7 0h1m8 0h1m5 0h1m1 0h1m2 0h1m109 0h2m1 0h1m8 0h1m3 0h1m24 0h1m4 0h1m2 0h1m2 0h1m3 0h1m103 0h1M119 491.5h1m11 0h1m21 0h1m111 0h2m1 0h1m5 0h1m38 0h1m9 0h1m3 0h1M132 492.5h1m3 0h1m10 0h2m5 0h1m4 0h1m119 0h1m17 0h1m18 0h2m5 0h2m101 0h3m1 0h1m51 0h1M128 493.5h2m18 0h1m10 0h1m111 0h1m8 0h1m2 0h1m24 0h1m13 0h1m5 0h1m100 0h1m52 0h1M128 494.5h2m3 0h1m3 0h1m17 0h1m2 0h1m10 0h1m100 0h3m6 0h2m35 0h1m4 0h1m1 0h1m1 0h1m1 0h1m1 0h2m97 0h1M121 495.5h1m4 0h1m2 0h1m13 0h1m8 0h1m17 0h1m93 0h1m5 0h1m7 0h3m44 0h1m4 0h1m103 0h1M123 496.5h1m6 0h1m1 0h1m138 0h1m9 0h2m40 0h2m96 0h1m6 0h1m3 0h1M119 497.5h1m2 0h1m2 0h1m6 0h1m136 0h1m10 0h1m18 0h1m16 0h3m4 0h1m2 0h1m1 0h1m10 0h1m93 0h1m5 0h1M119 498.5h1m6 0h1m3 0h1m2 0h1m3 0h2m13 0h1m119 0h1m1 0h1m1 0h1m3 0h1m4 0h1m18 0h1m14 0h1m2 0h3m94 0h1M126 499.5h2m6 0h1m9 0h1m1 0h1m127 0h1m1 0h1m1 0h1m5 0h1m1 0h1m1 0h1m3 0h2m19 0h1m2 0h1m3 0h1m3 0h1m100 0h1m1 0h1m46 0h1m13 0h2M120 500.5h1m6 0h1m2 0h1m32 0h1m106 0h1m5 0h3m1 0h1m3 0h2m7 0h1m1 0h1m14 0h1m4 0h1m4 0h1m96 0h1m4 0h1m10 0h1m30 0h1m8 0h2m20 0h1M122 501.5h2m7 0h1m19 0h1m9 0h1m114 0h1m3 0h1m13 0h1m6 0h1m2 0h1m4 0h1m10 0h1m2 0h1m8 0h1m86 0h1m3 0h1m4 0h1m1 0h1M120 502.5h1m40 0h1m109 0h2m2 0h1m2 0h1m4 0h1m8 0h1m2 0h1m3 0h1m4 0h1m9 0h1m7 0h1m1 0h1m96 0h1M130 503.5h2m4 0h1m123 0h1m7 0h3m1 0h1m1 0h1m13 0h1m11 0h1m5 0h1m3 0h1m18 0h1m85 0h1m16 0h1M115 504.5h1m1 0h1m12 0h1m21 0h1m16 0h1m103 0h1m1 0h2m4 0h1m10 0h1m3 0h1m17 0h3m4 0h2m3 0h1m5 0h2m81 0h1m10 0h1m3 0h1m1 0h1m4 0h1m41 0h1m4 0h1m8 0h2m6 0h1M108 505.5h1m6 0h1m33 0h1m19 0h1m99 0h1m8 0h1m25 0h1m6 0h1m5 0h1m2 0h1m1 0h1m97 0h1m1 0h2m5 0h1m42 0h1m21 0h1M121 506.5h1m5 0h1m1 0h1m9 0h1m4 0h1m1 0h1m4 0h2m102 0h1m9 0h1m5 0h1m2 0h1m19 0h1m12 0h2m2 0h1m3 0h1m3 0h1m1 0h2m96 0h1m37 0h1m17 0h1m7 0h1M118 507.5h2m5 0h2m23 0h1m124 0h1m1 0h1m10 0h1m27 0h1m2 0h1m1 0h1m94 0h1m3 0h1m10 0h1m41 0h1m14 0h1m6 0h1M108 508.5h1m1 0h1m1 0h2m3 0h2m8 0h1m4 0h1m11 0h1m3 0h1m11 0h1m101 0h1m3 0h1m2 0h1m4 0h1m3 0h1m2 0h1m8 0h2m3 0h1m3 0h1m2 0h1m11 0h1m5 0h1m3 0h1m95 0h1M106 509.5h2m8 0h3m25 0h1m6 0h1m4 0h1m92 0h1m7 0h1m3 0h1m14 0h1m13 0h1m5 0h1m3 0h1m6 0h1m10 0h1m1 0h1m3 0h1m90 0h1m20 0h1m28 0h1M107 510.5h1m1 0h1m8 0h1m24 0h1m4 0h1m10 0h1m97 0h1m7 0h1m7 0h1m6 0h1m3 0h2m10 0h1m5 0h1m1 0h1m2 0h1m2 0h1m6 0h1m2 0h2m8 0h1m85 0h1m4 0h1m10 0h1m4 0h1m61 0h1M129 511.5h1m2 0h1m4 0h2m1 0h1m7 0h1m2 0h1m3 0h1m105 0h1m3 0h1m1 0h1m12 0h2m8 0h1m15 0h1m1 0h1m4 0h1m5 0h1m3 0h2m99 0h1m12 0h1m29 0h1m8 0h2M107 512.5h1m1 0h1m1 0h1m1 0h1m26 0h2m9 0h1m110 0h2m1 0h1m33 0h1m4 0h1m2 0h1m3 0h1m1 0h1m151 0h1m6 0h1m7 0h2M107 513.5h1m2 0h1m27 0h1m15 0h2m8 0h2m95 0h1m17 0h2m16 0h2m11 0h1m104 0h2m36 0h1m24 0h1m2 0h1M104 514.5h1m1 0h1m1 0h1m6 0h1m18 0h1m2 0h1m17 0h1m7 0h1m1 0h1m111 0h1m20 0h1m2 0h1m21 0h2m2 0h1m89 0h1m6 0h1m7 0h1m1 0h1m17 0h2m9 0h1m13 0h1m12 0h1M142 515.5h1m2 0h1m17 0h1m100 0h1m14 0h1m8 0h1m15 0h1m1 0h2m12 0h1m94 0h2m15 0h1m2 0h1m35 0h2m21 0h1M104 516.5h1m2 0h1m23 0h1m4 0h2m5 0h1m1 0h1m3 0h2m107 0h1m3 0h1m16 0h1m14 0h1m3 0h2m3 0h1m4 0h1m1 0h1m97 0h1m13 0h1m3 0h1m8 0h1m36 0h1M99 517.5h1m2 0h1m21 0h1m6 0h2m3 0h2m4 0h2m2 0h1m2 0h1m2 0h1m7 0h1m19 0h2m76 0h1m2 0h1m18 0h1m27 0h1m100 0h1m4 0h1m5 0h1m9 0h1m28 0h1m27 0h1M98 518.5h1m46 0h2m8 0h1m3 0h1m98 0h1m20 0h1m33 0h1m5 0h1m2 0h2m105 0h1m4 0h1m7 0h1m19 0h1M102 519.5h1m42 0h1m10 0h3m5 0h1m4 0h1m107 0h1m23 0h1m107 0h1m1 0h1m2 0h1m5 0h1m1 0h1m8 0h1m2 0h2m25 0h2m8 0h1m12 0h1M98 520.5h1m1 0h1m1 0h1m21 0h1m6 0h1m1 0h1m1 0h1m7 0h1m1 0h1m8 0h1m2 0h1m1 0h1m3 0h1m11 0h1m85 0h1m18 0h1m21 0h1m17 0h1m5 0h1m90 0h1m5 0h1m5 0h2m1 0h1m2 0h1m7 0h1m13 0h1m3 0h1m5 0h1m5 0h1M99 521.5h1m34 0h1m1 0h1m7 0h1m6 0h2m1 0h2m100 0h1m25 0h1m38 0h1m6 0h1m81 0h2m2 0h1m2 0h1m2 0h1m8 0h1m5 0h1m18 0h1m15 0h1m21 0h1M100 522.5h1m32 0h1m1 0h1m3 0h2m1 0h1m2 0h1m3 0h1m1 0h1m3 0h1m3 0h1m1 0h1m1 0h1m89 0h1m2 0h2m1 0h1m15 0h1m1 0h1m3 0h1m24 0h1m17 0h2m1 0h1m11 0h1m68 0h1m24 0h1m36 0h1M100 523.5h1m35 0h1m5 0h2m19 0h1m1 0h2m87 0h1m19 0h1m2 0h1m25 0h1m110 0h1m13 0h1m24 0h1m5 0h1m11 0h1m7 0h2m1 0h1m2 0h1M100 524.5h1m5 0h1m35 0h1m1 0h1m8 0h1m2 0h1m104 0h1m40 0h1m6 0h1m11 0h1m84 0h2m22 0h1m62 0h1M134 525.5h1m1 0h1m5 0h1m7 0h1m5 0h1m10 0h1m84 0h2m6 0h1m2 0h1m28 0h1m20 0h1m5 0h1m87 0h1m2 0h1m18 0h1m3 0h1m28 0h1M133 526.5h1m1 0h1m16 0h1m4 0h2m7 0h1m92 0h1m1 0h1m14 0h1m6 0h1m19 0h1m16 0h1m3 0h1m102 0h1m4 0h1m28 0h1m2 0h1m12 0h1m7 0h1M133 527.5h1m4 0h1m8 0h1m1 0h2m12 0h1m4 0h1m90 0h1m17 0h1m4 0h1m14 0h2m3 0h1m1 0h1m19 0h1m84 0h1m18 0h1m1 0h1m1 0h1m17 0h1m19 0h1m5 0h1m1 0h1M98 528.5h1m33 0h1m21 0h2m9 0h2m3 0h1m87 0h1m4 0h1m54 0h1m1 0h1m1 0h2m2 0h1m107 0h1m35 0h2m12 0h1M136 529.5h1m6 0h1m1 0h1m6 0h1m5 0h2m1 0h1m92 0h1m31 0h1m19 0h1m2 0h1m13 0h1m83 0h1m28 0h2m14 0h1m13 0h1m3 0h1M97 530.5h1m5 0h1m39 0h1m11 0h1m106 0h1m5 0h1m9 0h2m25 0h2m2 0h1m4 0h1m3 0h1m130 0h1m15 0h2M100 531.5h1m37 0h2m4 0h1m10 0h2m2 0h1m95 0h2m1 0h1m5 0h1m10 0h1m24 0h1m5 0h1m10 0h1m4 0h1m109 0h1m20 0h1m11 0h2M143 532.5h1m3 0h1m2 0h2m5 0h1m101 0h1m60 0h1m132 0h1M128 533.5h1m3 0h1m11 0h1m5 0h1m8 0h1m3 0h1m94 0h2m12 0h1m1 0h1m1 0h1m24 0h1m3 0h1m10 0h1m89 0h1m20 0h1m4 0h1m9 0h1m11 0h1m2 0h1m15 0h1m15 0h1M133 534.5h1m3 0h2m25 0h1m96 0h1m11 0h1m11 0h1m17 0h1m12 0h1m4 0h1m114 0h1m5 0h1M102 535.5h1m29 0h1m10 0h1m15 0h1m1 0h1m2 0h1m94 0h2m10 0h1m6 0h3m13 0h1m6 0h1m15 0h1m89 0h1m25 0h2m30 0h1M97 536.5h1m38 0h1m1 0h1m5 0h1m9 0h1m2 0h1m9 0h1m5 0h1m5 0h1m73 0h1m8 0h1m5 0h1m9 0h1m19 0h1m4 0h1m4 0h2m5 0h1m2 0h1m114 0h4M100 537.5h1m5 0h1m2 0h1m18 0h1m5 0h1m8 0h1m2 0h1m5 0h1m104 0h1m43 0h3m5 0h1m1 0h1m120 0h1m1 0h1M106 538.5h1m1 0h3m5 0h1m10 0h2m1 0h1m1 0h1m117 0h1m7 0h1m13 0h1m25 0h2m5 0h1m4 0h1m95 0h3m26 0h1m19 0h1m2 0h1M97 539.5h1m25 0h1m34 0h1m97 0h1m2 0h1m3 0h1m33 0h2m13 0h1m165 0h2m15 0h1M102 540.5h1m5 0h1m6 0h1m2 0h1m6 0h1m5 0h1m2 0h1m11 0h1m15 0h1m6 0h1m86 0h1m4 0h1m11 0h1m30 0h1m1 0h1m120 0h1m2 0h1m2 0h1m1 0h1m11 0h1M106 541.5h1m2 0h1m14 0h1m2 0h1m20 0h1m2 0h1m10 0h1m10 0h1m78 0h1m3 0h2m4 0h1m3 0h2m43 0h1m95 0h1m23 0h1m1 0h1m32 0h1M100 542.5h2m4 0h1m7 0h1m12 0h1m1 0h1m29 0h1m25 0h1m64 0h1m9 0h1m2 0h1m2 0h2m5 0h1m1 0h1m36 0h1m116 0h1m2 0h2M101 543.5h1m3 0h1m13 0h1m3 0h1m1 0h2m2 0h2m5 0h1m19 0h1m93 0h1m11 0h1m4 0h1m27 0h1m10 0h1m1 0h1m1 0h1m2 0h2m21 0h1m97 0h1m2 0h1M119 544.5h1m1 0h2m8 0h2m125 0h1m4 0h1m7 0h1m136 0h1m16 0h1M114 545.5h1m5 0h2m130 0h1m3 0h2m3 0h2m5 0h1m4 0h1m136 0h1m17 0h1m5 0h1M116 546.5h1m7 0h1m1 0h1m2 0h1m20 0h1m108 0h2m2 0h1m3 0h1m1 0h1m2 0h2m1 0h1m132 0h1m51 0h1M107 547.5h1m2 0h1m1 0h1m1 0h1m12 0h1m122 0h1m9 0h1m7 0h1m2 0h1m59 0h1m74 0h1m20 0h1M106 548.5h1m4 0h1m20 0h1m116 0h2m3 0h2m9 0h1m3 0h1m17 0h1m136 0h1m10 0h1M112 549.5h1m6 0h1m1 0h1m23 0h2m114 0h1m1 0h1m4 0h1m70 0h1m92 0h1M115 550.5h1m1 0h1m140 0h2m2 0h1m4 0h1m4 0h1m152 0h1m2 0h1M110 551.5h1m5 0h1m148 0h1m2 0h2m3 0h1m149 0h1m1 0h1m1 0h1m1 0h1m2 0h1M113 552.5h1m2 0h1m144 0h1m2 0h1m2 0h2m2 0h1m47 0h1m93 0h1m3 0h2m2 0h1m2 0h1m6 0h1M111 553.5h1m2 0h1m6 0h1m2 0h1m142 0h1m140 0h1m3 0h1m3 0h1m2 0h1m1 0h1m17 0h2m38 0h1M105 554.5h1m2 0h1m7 0h1m140 0h1m53 0h1M118 555.5h1m3 0h2m140 0h1m1 0h1m9 0h2m135 0h1m2 0h1m1 0h1m3 0h1M106 556.5h2m21 0h1m169 0h1m24 0h1m96 0h1m7 0h1M115 557.5h1m6 0h1m132 0h1m6 0h1m11 0h1m140 0h1m7 0h1M107 558.5h1m7 0h1m9 0h1m134 0h1M316 559.5h1M114 560.5h1M249 561.5h1m22 0h1" stroke="#3c3c3c" stroke-width="1" fill="none" shape-rendering="crispEdges"/>
<path d="M274 28.5h1M275 29.5h1M266 30.5h1m13 0h1M269 31.5h1m48 0h1M138 32.5h1m168 0h1m15 0h1m15 0h1M280 33.5h1m27 0h1m12 0h1M143 34.5h1m122 0h1m2 0h1M140 35.5h1M100 36.5h1m39 0h1m118 0h1m1 0h1m5 0h1m36 0h2m14 0h1M126 37.5h1m8 0h2m121 0h1m4 0h1m9 0h1m24 0h2m30 0h1m82 0h1m3 0h2m64 0h1M127 38.5h1m31 0h1m103 0h1m2 0h1m38 0h1m107 0h1m50 0h1m19 0h1M112 39.5h1m1 0h1m142 0h1m5 0h1m2 0h1m4 0h1m7 0h1m31 0h1m6 0h2m91 0h1M113 40.5h1m7 0h1m35 0h1m100 0h1m10 0h1m36 0h2m1 0h1m5 0h1m13 0h1m85 0h1m2 0h1m3 0h1m3 0h1m29 0h1M118 41.5h1m5 0h1m4 0h1m21 0h1m5 0h1m102 0h1m1 0h1m32 0h1m16 0h1m7 0h1m8 0h1m81 0h1m1 0h1m29 0h1m17 0h1M112 42.5h1m7 0h1m22 0h1m3 0h1m9 0h1m104 0h1m4 0h1m1 0h1m6 0h2m16 0h1m9 0h1m4 0h1m2 0h1m5 0h1m92 0h2m7 0h2m6 0h1m14 0h1M111 43.5h1m1 0h1m9 0h1m1 0h1m26 0h1m19 0h1m86 0h1m8 0h1m15 0h1m20 0h2m12 0h1m3 0h1m145 0h1M108 44.5h1m14 0h2m2 0h1m2 0h1m1 0h1m130 0h1m1 0h1m1 0h1m17 0h1m14 0h1m10 0h2m2 0h1m92 0h1m20 0h1M127 45.5h1m26 0h1m1 0h1m104 0h1m9 0h1m2 0h1m27 0h1m4 0h2m1 0h1m9 0h1m120 0h1m3 0h1M107 46.5h1m15 0h1m5 0h1m10 0h2m122 0h1m3 0h1m33 0h2m4 0h1m121 0h2m30 0h1M130 47.5h3m3 0h1m8 0h1m2 0h3m4 0h1m3 0h1m103 0h2m31 0h1m21 0h1m6 0h1m4 0h1m79 0h2m21 0h1m25 0h1M104 48.5h2m30 0h1m2 0h1m3 0h1m10 0h1m5 0h1m5 0h1m90 0h1m6 0h1m7 0h1m4 0h1m19 0h1m22 0h1m5 0h1m1 0h1m87 0h1m16 0h1m24 0h1m5 0h1M118 49.5h1m16 0h1m1 0h1m2 0h1m4 0h1m1 0h1m12 0h1m1 0h1m5 0h1m6 0h1m100 0h1m2 0h1m15 0h2m3 0h1m5 0h1m21 0h1m107 0h1m19 0h2m19 0h2m9 0h1M108 50.5h1m23 0h1m7 0h1m3 0h1m3 0h2m6 0h1m4 0h2m104 0h2m1 0h1m7 0h1m2 0h1m10 0h1m3 0h1m6 0h1m7 0h1m9 0h3m2 0h1m109 0h1m18 0h1m9 0h1m17 0h1m4 0h1M101 51.5h1m30 0h1m34 0h1m19 0h1m72 0h2m12 0h1m2 0h1m2 0h1m22 0h1m5 0h1m3 0h3m3 0h2m5 0h1m108 0h2m26 0h1m7 0h1m7 0h1M131 52.5h1m6 0h1m5 0h1m3 0h1m4 0h2m3 0h1m1 0h1m4 0h2m20 0h1m83 0h1m2 0h1m31 0h1m3 0h1m130 0h2m9 0h1m2 0h1m8 0h1m14 0h2M100 53.5h1m3 0h2m27 0h1m17 0h1m6 0h1m7 0h1m105 0h1m1 0h1m1 0h1m26 0h1m1 0h2m6 0h1m95 0h1m2 0h1m31 0h1m6 0h1m1 0h1m1 0h1m1 0h1m1 0h1m11 0h1M141 54.5h2m19 0h1m90 0h1m6 0h1m1 0h1m4 0h1m8 0h1m42 0h2m1 0h1m3 0h1m133 0h1m2 0h1m2 0h1m6 0h2M99 55.5h2m5 0h1m25 0h1m4 0h1m7 0h2m13 0h1m1 0h1m89 0h1m19 0h1m1 0h1m23 0h1m1 0h1m9 0h1m5 0h1m141 0h1m4 0h1M106 56.5h1m30 0h1m3 0h1m4 0h1m5 0h1m111 0h1m3 0h1m3 0h1m1 0h1m4 0h1m20 0h1m9 0h1m7 0h2m3 0h1m1 0h1m84 0h1m48 0h2m12 0h2M103 57.5h1m32 0h1m33 0h1m90 0h3m1 0h1m4 0h1m11 0h1m2 0h1m14 0h1m9 0h1m4 0h1m4 0h1m4 0h1m1 0h1m80 0h1m2 0h1m40 0h2m12 0h1m5 0h1m1 0h1m1 0h1m2 0h1M158 58.5h2m2 0h1m96 0h2m4 0h1m6 0h1m1 0h1m21 0h1m9 0h1m8 0h1m12 0h1m110 0h1m14 0h1m8 0h3m10 0h1m2 0h1M134 59.5h1m2 0h1m1 0h1m13 0h1m2 0h1m2 0h1m5 0h1m8 0h1m79 0h1m43 0h1m1 0h5m8 0h2m7 0h2m4 0h1m126 0h1m18 0h1m4 0h1M133 60.5h1m2 0h1m4 0h1m32 0h1m80 0h1m11 0h1m2 0h2m22 0h1m3 0h1m5 0h1m9 0h1m5 0h1m4 0h1m2 0h1m131 0h1m3 0h1m13 0h1M101 61.5h1m32 0h1m2 0h1m3 0h1m8 0h1m6 0h1m6 0h1m91 0h1m6 0h1m2 0h1m14 0h1m11 0h1m2 0h1m3 0h1m8 0h1m2 0h1m7 0h1m86 0h2m51 0h1m3 0h1M101 62.5h1m1 0h2m35 0h2m4 0h1m35 0h1m92 0h2m4 0h1m14 0h2m7 0h1m5 0h1m3 0h1m125 0h1m12 0h1m14 0h1M106 63.5h1m27 0h2m9 0h1m4 0h1m7 0h1m24 0h1m86 0h2m6 0h1m20 0h1m7 0h1m1 0h1m7 0h1m1 0h1m133 0h2m13 0h1M136 64.5h1m1 0h1m7 0h1m16 0h1m103 0h1m4 0h3m15 0h1m5 0h1m3 0h1m18 0h1m8 0h1m109 0h1m16 0h2M103 65.5h1m4 0h1m25 0h1m3 0h1m6 0h1m11 0h1m7 0h1m100 0h1m3 0h1m4 0h1m1 0h1m14 0h1m6 0h1m15 0h1m3 0h1m89 0h2m42 0h1m4 0h1m3 0h1m9 0h1M138 66.5h1m2 0h1m2 0h1m1 0h1m8 0h1m9 0h1m132 0h1m1 0h1m3 0h1m11 0h1m6 0h1m3 0h2m112 0h1m4 0h1m6 0h1m26 0h1M102 67.5h3m24 0h1m6 0h2m29 0h1m93 0h1m48 0h1m2 0h1m8 0h1m4 0h1m1 0h1m79 0h1m2 0h1m26 0h2m5 0h1m7 0h1m6 0h1M105 68.5h1m179 0h1m7 0h1m2 0h1m26 0h1m1 0h1m10 0h1m127 0h1M129 69.5h1m22 0h1m2 0h1m124 0h1m4 0h1m4 0h2m1 0h1m3 0h1m1 0h1m108 0h1m28 0h1m7 0h1M112 70.5h1m22 0h1m8 0h1m9 0h1m1 0h1m132 0h1m1 0h1m2 0h1m12 0h1m12 0h1m118 0h1m10 0h1M109 71.5h1m2 0h1m15 0h1m1 0h1m2 0h1m11 0h1m2 0h1m7 0h2m126 0h1m11 0h1m33 0h1m114 0h1m5 0h1m9 0h1M105 72.5h1m5 0h1m1 0h1m10 0h1m7 0h3m14 0h1m2 0h1m2 0h2m121 0h1m5 0h2m1 0h1m26 0h1m3 0h1m3 0h1m13 0h2m71 0h3m43 0h1M107 73.5h1m1 0h1m1 0h2m9 0h1m137 0h1m17 0h1m1 0h1m6 0h2m5 0h1m26 0h1m121 0h1m9 0h1m1 0h1m7 0h1m10 0h1m1 0h1M131 74.5h1m2 0h1m140 0h1m4 0h1m1 0h1m5 0h1m27 0h3m3 0h1m87 0h1m2 0h1m4 0h1m24 0h1m9 0h2m8 0h1m4 0h1m7 0h1M123 75.5h1m4 0h1m27 0h1m5 0h1m118 0h2m7 0h1m31 0h1m2 0h1m11 0h1m101 0h1m15 0h1m11 0h1m3 0h1M119 76.5h1m2 0h1m6 0h1m28 0h1m4 0h1m125 0h1m29 0h1m7 0h1m1 0h1m7 0h1m73 0h1m6 0h1m3 0h1m21 0h1m13 0h1M114 77.5h1m18 0h3m2 0h1m145 0h1m1 0h1m1 0h1m24 0h1m10 0h1m4 0h1m1 0h1m83 0h1m30 0h1m9 0h1m3 0h1m13 0h1M115 78.5h1m3 0h1m28 0h1m1 0h1m120 0h1m1 0h1m17 0h1m18 0h1m5 0h1m3 0h1m3 0h1m95 0h1m2 0h1m32 0h1M105 79.5h1m23 0h1m140 0h1m2 0h1m6 0h1m8 0h1m24 0h1m101 0h1m28 0h1m11 0h1m2 0h1m1 0h1M119 80.5h1m3 0h1m11 0h3m131 0h1m18 0h1m22 0h1m13 0h1m98 0h1m19 0h1m6 0h1m2 0h2m1 0h1M98 81.5h1m19 0h2m15 0h1m16 0h1m123 0h1m2 0h1m1 0h1m29 0h1m7 0h1m7 0h1m96 0h1m2 0h1m16 0h1m8 0h1m1 0h1m9 0h1m3 0h1M118 82.5h2m24 0h1m132 0h1m4 0h1m2 0h2m24 0h1m16 0h1m96 0h1m17 0h2m5 0h1m1 0h2M104 83.5h1m13 0h1m3 0h1m12 0h2m21 0h1m125 0h1m41 0h1m97 0h1m20 0h1m22 0h1M112 84.5h1m7 0h1m1 0h1m146 0h2m30 0h1m14 0h1m108 0h1m20 0h1m11 0h1m1 0h1m5 0h1M109 85.5h1m1 0h1m8 0h1m11 0h1m6 0h1m3 0h1m2 0h1m16 0h1m104 0h1m13 0h1m27 0h1m16 0h1m113 0h1m3 0h2m7 0h1m4 0h1m3 0h1m2 0h1m1 0h1M106 86.5h1m5 0h1m3 0h1m24 0h1m3 0h1m124 0h1m10 0h1m24 0h2m134 0h1m8 0h1M112 87.5h1m5 0h1m19 0h2m12 0h1m29 0h2m74 0h1m5 0h1m9 0h1m11 0h1m21 0h1m1 0h1m12 0h1m134 0h1m3 0h1M107 88.5h1m38 0h1m111 0h1m7 0h1m2 0h1m11 0h1m1 0h1m40 0h1m99 0h1m32 0h1M110 89.5h1m2 0h1m22 0h1m2 0h1m5 0h1m14 0h2m144 0h1m7 0h1m6 0h1m4 0h1m129 0h1M119 90.5h1m18 0h1m6 0h1m16 0h1m102 0h1m22 0h1m19 0h1m1 0h1m14 0h1m2 0h1m85 0h1m9 0h1m31 0h1M103 91.5h1m13 0h1m18 0h2m1 0h1m5 0h1m2 0h1m112 0h1m7 0h1m14 0h1m4 0h1m21 0h1m3 0h1m1 0h1m120 0h1m4 0h2m5 0h1M103 92.5h1m15 0h1m28 0h1m8 0h1m104 0h1m1 0h1m25 0h1m17 0h1m3 0h1m2 0h1m97 0h2m24 0h2m4 0h1m11 0h1m13 0h1M108 93.5h1m2 0h4m2 0h1m32 0h1m115 0h2m1 0h2m34 0h1m19 0h1m100 0h1m1 0h1m10 0h1m18 0h1M106 94.5h1m30 0h2m10 0h1m108 0h1m1 0h1m4 0h1m20 0h1m1 0h1m1 0h1m17 0h1m107 0h1m22 0h1m46 0h1M136 95.5h1m22 0h1m93 0h1m10 0h1m3 0h1m40 0h1m6 0h1m6 0h1m91 0h1m7 0h1m4 0h1m27 0h1M104 96.5h1m6 0h1m1 0h1m4 0h1m1 0h1m23 0h2m2 0h1m4 0h1m155 0h1m18 0h1m1 0h1m89 0h1m2 0h1m9 0h1m9 0h1m15 0h2M138 97.5h1m4 0h1m4 0h1m111 0h1m22 0h1m1 0h1m17 0h1m6 0h2m10 0h1m2 0h1m91 0h2m10 0h1m3 0h1m1 0h1m4 0h1m3 0h1M107 98.5h1m19 0h1m8 0h1m12 0h1m109 0h2m1 0h2m23 0h1m18 0h1m13 0h1m4 0h1m98 0h1m1 0h2m14 0h1m21 0h2M107 99.5h1m1 0h1m15 0h2m4 0h1m1 0h1m3 0h1m11 0h2m17 0h1m114 0h1m1 0h1m4 0h1m11 0h1m17 0h1m93 0h1m1 0h1m2 0h1m2 0h1m4 0h1M120 100.5h1m5 0h1m6 0h1m16 0h1m18 0h1m84 0h1m11 0h1m11 0h1m1 0h1m4 0h1m19 0h1m4 0h1m3 0h1m5 0h1m1 0h1m4 0h1m83 0h1m1 0h1m10 0h1m10 0h1M106 101.5h1m3 0h1m4 0h2m8 0h1m8 0h1m8 0h1m30 0h1m94 0h1m9 0h1m5 0h1m17 0h1m2 0h1m7 0h1m10 0h1m2 0h2m85 0h1m1 0h1m4 0h1m3 0h1m3 0h1m6 0h1m19 0h1M117 102.5h1m12 0h1m4 0h1m6 0h1m32 0h1m85 0h1m7 0h1m5 0h1m7 0h1m25 0h1m8 0h2m1 0h1m4 0h1m2 0h1m84 0h1m1 0h1m2 0h1m1 0h1m1 0h1m5 0h2m1 0h1M106 103.5h1m12 0h1m5 0h1m8 0h1m4 0h1m119 0h1m2 0h1m17 0h1m2 0h1m28 0h1m5 0h1m2 0h1m1 0h1m87 0h1m4 0h1m4 0h1m6 0h1m5 0h1M107 104.5h1m2 0h1m2 0h1m5 0h1m1 0h1m5 0h1m21 0h1m11 0h1m6 0h1m104 0h1m33 0h1m2 0h1m11 0h1m94 0h2m1 0h1m1 0h1M107 105.5h1m6 0h1m1 0h1m9 0h1m34 0h1m96 0h1m1 0h1m1 0h1m4 0h1m7 0h3m4 0h2m29 0h3m2 0h1m1 0h1m3 0h1m90 0h1m1 0h1m15 0h1M110 106.5h1m3 0h1m2 0h1m1 0h1m1 0h1m3 0h1m4 0h1m3 0h1m137 0h1m4 0h1m44 0h1m95 0h1m13 0h1M107 107.5h2m1 0h1m2 0h1m14 0h1m6 0h1m7 0h2m1 0h1m102 0h1m4 0h1m18 0h1m1 0h2m35 0h1m12 0h1m98 0h1m2 0h1M98 108.5h1m10 0h2m5 0h1m4 0h1m9 0h1m15 0h1m102 0h1m4 0h1m2 0h1m9 0h2m1 0h1m3 0h1m6 0h1m24 0h1m5 0h1m17 0h1m77 0h1M104 109.5h1m1 0h1m11 0h3m16 0h1m12 0h1m7 0h2m104 0h1m8 0h1m10 0h2m19 0h2m5 0h1m3 0h1m7 0h1m5 0h1M103 110.5h1m3 0h1m3 0h1m2 0h2m11 0h1m9 0h1m12 0h1m2 0h1m12 0h1m6 0h1m88 0h1m1 0h1m8 0h1m50 0h1m82 0h1m12 0h1m10 0h1M104 111.5h1m5 0h1m5 0h1m4 0h2m4 0h1m44 0h1m92 0h1m4 0h2m40 0h1m5 0h1m107 0h1M107 112.5h2m32 0h1m5 0h1m116 0h1m9 0h1m16 0h1m19 0h1m7 0h1m1 0h1m122 0h1M104 113.5h1m12 0h1m28 0h1m40 0h1m69 0h1m5 0h1m45 0h1m99 0h1M118 114.5h1m69 0h1m70 0h1m4 0h1M124 115.5h1m134 0h1m39 0h1m15 0h1m111 0h1M300 116.5h1m14 0h1m1 0h1m2 0h1m10 0h1M118 117.5h2m148 0h1m44 0h1m16 0h1M104 118.5h1m1 0h1m7 0h1m153 0h1m44 0h1M113 119.5h1m5 0h1m194 0h1M118 120.5h1M284 174.5h1m190 0h1M159 175.5h1m124 0h1m189 0h1M158 176.5h1m107 0h1m17 0h1m37 0h1M161 177.5h1m103 0h1m56 0h1M121 178.5h1m159 0h1M116 179.5h3m161 0h1m32 0h2M143 180.5h1m152 0h1m22 0h1M117 181.5h1m25 0h1m133 0h1m1 0h1m2 0h2m37 0h2m104 0h1M113 182.5h2m1 0h1m166 0h1M130 183.5h2m8 0h1m139 0h1m2 0h1m2 0h2m31 0h1m95 0h1m8 0h1m58 0h1M108 184.5h2m6 0h1m15 0h1m8 0h1m8 0h1m104 0h1m21 0h1m41 0h1m11 0h1m78 0h2m8 0h1m4 0h1m39 0h1M112 185.5h1m7 0h1m157 0h1m4 0h1m28 0h1m3 0h1m2 0h1m5 0h2m2 0h1m86 0h1m7 0h1m2 0h1M108 186.5h2m3 0h1m14 0h1m139 0h1m5 0h1m1 0h1m4 0h1m34 0h1m3 0h1m1 0h1m1 0h1m84 0h1m1 0h1m4 0h1m3 0h1m7 0h1M114 187.5h1m13 0h1m2 0h1m135 0h1m11 0h2m40 0h1m1 0h1m7 0h1m78 0h1m12 0h1m2 0h1m31 0h1m23 0h2M112 188.5h1m9 0h1m8 0h1m140 0h2m8 0h1m33 0h1m2 0h1m11 0h1m80 0h1m16 0h1m1 0h1m26 0h1M106 189.5h1m22 0h2m7 0h1m4 0h1m129 0h1m39 0h1m5 0h1m93 0h1m12 0h1M101 190.5h2m8 0h1m19 0h1m11 0h1m13 0h1m2 0h1m106 0h1m4 0h1m3 0h1m4 0h1m1 0h1m27 0h2m94 0h1m1 0h1m3 0h1m5 0h2m14 0h1M140 191.5h1m10 0h1m123 0h1m5 0h1m40 0h1m3 0h2m80 0h1m5 0h2m2 0h1m11 0h1m37 0h2M106 192.5h1m2 0h1m21 0h1m19 0h1m1 0h1m95 0h1m27 0h1m1 0h1m37 0h1m1 0h2m4 0h1m81 0h1m3 0h1m1 0h1m4 0h1m14 0h2m2 0h1m16 0h1m14 0h1M112 193.5h1m18 0h1m5 0h1m1 0h1m9 0h1m2 0h1m9 0h1m114 0h1m45 0h2m103 0h1m4 0h1m10 0h2m8 0h1m7 0h1M137 194.5h1m12 0h1m11 0h1m100 0h1m4 0h1m14 0h1m1 0h1m25 0h1m1 0h2m6 0h2m96 0h1m5 0h1m7 0h1M105 195.5h1m3 0h1m2 0h1m13 0h1m2 0h2m5 0h1m2 0h1m124 0h1m17 0h1m28 0h1m13 0h1m84 0h1m23 0h2m18 0h1M136 196.5h1m6 0h1m2 0h1m1 0h1m2 0h1m116 0h3m5 0h1m3 0h1m4 0h1m25 0h1m11 0h1m4 0h1m78 0h1m41 0h1m6 0h1m2 0h1M103 197.5h1m7 0h1m17 0h1m9 0h1m3 0h1m1 0h1m2 0h1m2 0h1m33 0h2m84 0h1m5 0h1m31 0h1m11 0h1m1 0h1m82 0h1m4 0h1m3 0h1m19 0h1m7 0h1m13 0h1m2 0h1m5 0h1M102 198.5h1m1 0h1m26 0h1m9 0h1m4 0h1m128 0h2m40 0h1m11 0h2m104 0h1m14 0h1m13 0h2M111 199.5h1m8 0h1m7 0h1m7 0h1m14 0h1m1 0h1m14 0h1m81 0h1m58 0h1m128 0h1m19 0h1m2 0h1m3 0h1m11 0h1m3 0h1M104 200.5h1m3 0h1m30 0h1m3 0h1m2 0h2m5 0h1m9 0h1m96 0h2m5 0h1m12 0h1m28 0h1m25 0h2m91 0h1m3 0h1m2 0h1m3 0h1m21 0h1M104 201.5h1m1 0h1m1 0h1m2 0h1m13 0h1m2 0h1m2 0h2m3 0h1m7 0h3m7 0h1m112 0h1m15 0h1m27 0h1m12 0h1m112 0h1m3 0h1M130 202.5h1m9 0h1m6 0h3m1 0h1m1 0h1m10 0h1m115 0h1m23 0h2m6 0h1m2 0h1m7 0h2m3 0h2m80 0h1m21 0h1m1 0h1m1 0h1m5 0h1m16 0h1M108 203.5h3m3 0h1m1 0h1m9 0h1m9 0h1m14 0h1m12 0h1m101 0h1m6 0h1m32 0h1m1 0h1m1 0h1m22 0h1m78 0h1m16 0h1m7 0h1m22 0h1m10 0h1M102 204.5h1m16 0h2m14 0h1m8 0h1m4 0h1m3 0h1m100 0h2m12 0h1m56 0h1m88 0h1m10 0h1m3 0h1m5 0h1m25 0h1M105 205.5h3m3 0h2m2 0h1m5 0h1m4 0h1m1 0h1m16 0h1m5 0h1m112 0h1m5 0h1m39 0h1m116 0h1m10 0h1m3 0h1M109 206.5h2m11 0h1m2 0h1m18 0h2m5 0h1m6 0h1m109 0h1m9 0h1m1 0h1m1 0h2m34 0h1m2 0h1m101 0h1m8 0h1m32 0h1M113 207.5h1m1 0h1m1 0h1m1 0h2m3 0h1m1 0h1m5 0h1m16 0h1m114 0h1m52 0h1m4 0h1m84 0h1m14 0h1m16 0h2m13 0h1m6 0h1M109 208.5h1m2 0h1m4 0h1m8 0h1m1 0h1m14 0h1m118 0h1m1 0h1m17 0h1m2 0h1m10 0h1m11 0h1m109 0h1m9 0h1m1 0h1m1 0h2m9 0h1m23 0h1M110 209.5h1m2 0h1m8 0h2m4 0h1m6 0h1m8 0h2m137 0h1m11 0h1m19 0h1m5 0h1m3 0h1m100 0h1M127 210.5h1m37 0h1m91 0h1m6 0h1m1 0h1m19 0h1m5 0h1m10 0h1m2 0h1m16 0h2m1 0h1m87 0h1m14 0h1M108 211.5h1m9 0h1m9 0h1m22 0h1m126 0h1m31 0h1m11 0h1m87 0h1m2 0h1m1 0h1m20 0h1m43 0h1m19 0h1M112 212.5h1m14 0h1m1 0h1m1 0h1m23 0h1m123 0h2m3 0h1m3 0h1m1 0h1m11 0h1m2 0h1m12 0h1m3 0h2m1 0h1m90 0h1m1 0h1m4 0h1m7 0h1M110 213.5h1m16 0h1m26 0h1m107 0h1m2 0h1m16 0h2m8 0h1m3 0h1m2 0h1m7 0h1m10 0h1m95 0h1m3 0h1m1 0h1m7 0h1m5 0h1M112 214.5h1m2 0h2m12 0h1m1 0h1m16 0h1m112 0h1m2 0h1m13 0h1m2 0h1m6 0h1m120 0h2m6 0h1m1 0h1m3 0h1M111 215.5h1m35 0h1m118 0h1m143 0h1m8 0h1m1 0h1m2 0h1m5 0h1m29 0h1M111 216.5h1m11 0h1m7 0h1m13 0h1m116 0h1m29 0h1m12 0h1m13 0h1m93 0h1m3 0h1M111 217.5h1m17 0h1m3 0h1m10 0h1m137 0h1m4 0h1m9 0h1m20 0h1m5 0h1M126 218.5h1m4 0h1m13 0h1m18 0h1m116 0h1m1 0h1m3 0h1m10 0h1m21 0h1m100 0h1m12 0h1m3 0h2M115 219.5h2m7 0h1m2 0h1m129 0h1m22 0h1m8 0h1m6 0h1m11 0h1m11 0h1m97 0h1m18 0h1m44 0h1M108 220.5h1m2 0h2m17 0h1m1 0h1m128 0h1m3 0h1m23 0h1m7 0h1m4 0h1m1 0h1m1 0h1m17 0h1m84 0h1m7 0h2m5 0h2m52 0h1m4 0h1M108 221.5h1m20 0h1m130 0h1m21 0h1m6 0h1m9 0h1m1 0h1m25 0h1m81 0h1m7 0h1m3 0h1m15 0h2m33 0h1m7 0h3M109 222.5h1m36 0h1m108 0h1m1 0h1m43 0h1m20 0h1m10 0h1m79 0h1m8 0h2m13 0h1m34 0h1m10 0h1M105 223.5h1m5 0h1m13 0h1m1 0h1m127 0h1m1 0h1m3 0h1m2 0h1m15 0h1m1 0h1m16 0h1m1 0h1m19 0h1m12 0h1m83 0h1m41 0h2M109 224.5h1m6 0h1m6 0h1m5 0h1m16 0h1m152 0h1m3 0h1m104 0h1m11 0h1m12 0h1m55 0h1M115 225.5h3m10 0h1m16 0h1m115 0h2m37 0h1m5 0h1m106 0h1m1 0h1m16 0h1m4 0h1m2 0h1m25 0h1m10 0h2m4 0h1M112 226.5h1m11 0h1m20 0h1m12 0h1m120 0h1m17 0h1m21 0h2m92 0h1m12 0h1m41 0h2m19 0h1M129 227.5h1m15 0h1m7 0h1m6 0h1m5 0h1m129 0h1m1 0h1m20 0h1m1 0h2m93 0h2m7 0h2m10 0h1m1 0h1m31 0h1M112 228.5h1m32 0h1m9 0h1m11 0h1m91 0h1m18 0h2m21 0h1m107 0h1m2 0h1m12 0h1m2 0h2m3 0h1m29 0h1m2 0h1m4 0h1M105 229.5h1m5 0h1m5 0h1m15 0h1m8 0h2m1 0h1m4 0h2m1 0h1m11 0h1m111 0h1m42 0h1m91 0h1m18 0h1m1 0h1m2 0h1m27 0h1m2 0h1M106 230.5h2m11 0h1m42 0h1m113 0h1m24 0h1m18 0h1m17 0h1m68 0h1m4 0h1m4 0h1m5 0h1m14 0h1M101 231.5h1m3 0h1m23 0h3m12 0h2m11 0h1m100 0h1m2 0h1m51 0h2m98 0h1m8 0h1m5 0h1m2 0h1m6 0h1m26 0h1m1 0h2m2 0h1M106 232.5h1m29 0h1m3 0h1m2 0h1m3 0h1m3 0h2m1 0h1m105 0h1m17 0h1m37 0h1m3 0h1m103 0h1m8 0h2m4 0h1m15 0h2m13 0h1M98 233.5h1m33 0h1m6 0h4m8 0h1m1 0h1m12 0h1m1 0h1m109 0h1m23 0h1m17 0h1m87 0h1m14 0h1m1 0h1m3 0h2m1 0h1m27 0h1m11 0h1m6 0h1M105 234.5h2m1 0h1m28 0h2m11 0h2m8 0h1m3 0h1m1 0h1m89 0h1m41 0h1m20 0h1m90 0h1m3 0h1m4 0h1m7 0h1m6 0h1m23 0h1M115 235.5h1m3 0h1m12 0h1m2 0h1m14 0h1m9 0h1m3 0h1m95 0h1m14 0h1m3 0h1m40 0h2m1 0h1m1 0h1m79 0h1m2 0h1m3 0h1m6 0h1m6 0h1m7 0h1m2 0h1m21 0h1m5 0h1m5 0h1M124 236.5h1m6 0h1m9 0h1m9 0h1m4 0h3m1 0h1m6 0h1m134 0h1m14 0h1m1 0h1m5 0h1m83 0h1m2 0h1m16 0h1m6 0h1m2 0h1m24 0h1m5 0h1m1 0h1m2 0h1M105 237.5h1m33 0h1m21 0h1m96 0h2m59 0h1m14 0h1m73 0h1m1 0h1m29 0h1m33 0h1M101 238.5h1m40 0h1m1 0h1m1 0h1m6 0h1m9 0h1m4 0h1m109 0h1m20 0h1m4 0h1m8 0h1m3 0h1m3 0h1m13 0h1m97 0h1m17 0h1m11 0h1m6 0h1M133 239.5h1m2 0h1m8 0h1m1 0h1m3 0h1m15 0h1m106 0h1m3 0h1m14 0h2m4 0h1m1 0h1m20 0h1m82 0h1m1 0h1m4 0h1m13 0h1m2 0h1m22 0h1m8 0h1m14 0h1M99 240.5h1m1 0h1m26 0h1m7 0h1m2 0h1m1 0h1m5 0h1m19 0h1m105 0h1m27 0h1m31 0h1m71 0h2m45 0h1m12 0h1m1 0h1m7 0h1M136 241.5h1m10 0h1m1 0h1m16 0h1m131 0h2m14 0h2m3 0h2m112 0h1m2 0h1m21 0h2m5 0h1M99 242.5h1m3 0h1m24 0h1m5 0h1m3 0h2m11 0h1m3 0h1m1 0h1m144 0h1m1 0h1m9 0h1m1 0h1m90 0h1m27 0h1m27 0h1m3 0h1m4 0h1M142 243.5h2m7 0h1m1 0h1m3 0h1m3 0h1m94 0h1m3 0h1m14 0h1m32 0h1m100 0h1m46 0h1m2 0h1m1 0h1M97 244.5h1m2 0h1m25 0h1m3 0h1m4 0h1m23 0h1m5 0h1m108 0h1m6 0h2m18 0h1m1 0h1m1 0h1m100 0h1m1 0h2M97 245.5h1m37 0h1m3 0h1m2 0h1m13 0h1m3 0h1m4 0h1m88 0h2m21 0h1m24 0h1m8 0h1m5 0h1m91 0h1m18 0h1m8 0h3m15 0h1M125 246.5h1m4 0h1m2 0h1m6 0h1m2 0h1m4 0h1m1 0h1m14 0h1m105 0h1m31 0h1m3 0h1m3 0h1m4 0h1m113 0h1m39 0h1M97 247.5h1m27 0h1m1 0h1m19 0h2m5 0h1m7 0h1m93 0h1m18 0h1m46 0h2m108 0h2m3 0h1m4 0h1m13 0h1m11 0h1M132 248.5h1m4 0h1m16 0h1m1 0h1m2 0h1m1 0h1m94 0h1m50 0h2m1 0h1m4 0h1m126 0h1m32 0h1M100 249.5h2m26 0h1m2 0h1m12 0h1m3 0h1m106 0h1m1 0h1m13 0h1m1 0h1m180 0h1m8 0h1m11 0h1M142 250.5h1m14 0h1m5 0h1m110 0h1m12 0h1m11 0h1m1 0h1m1 0h2m128 0h1M100 251.5h1m1 0h1m33 0h1m14 0h1m1 0h1m5 0h1m1 0h1m95 0h1m1 0h1m15 0h1m24 0h1m21 0h1m112 0h1m24 0h1m8 0h1M130 252.5h2m4 0h1m3 0h1m9 0h1m2 0h1m3 0h1m96 0h1m7 0h1m46 0h1m125 0h1m8 0h1m5 0h1m9 0h1M101 253.5h1m26 0h1m13 0h2m4 0h1m108 0h1m13 0h2m8 0h1m24 0h2m128 0h1m2 0h1m1 0h1m2 0h1M133 254.5h1m5 0h1m1 0h1m3 0h1m3 0h1m10 0h1m96 0h1m2 0h1m15 0h1m5 0h1m7 0h1m21 0h1m119 0h2M97 255.5h1m308 0h1m21 0h1M126 256.5h1m20 0h1m107 0h1m13 0h3m30 0h1m3 0h1m127 0h1m1 0h1M107 257.5h1m20 0h1m2 0h1m124 0h1m51 0h1m32 0h1m90 0h1m1 0h1m5 0h1M100 258.5h1m2 0h1m20 0h1m13 0h1m13 0h2m2 0h1m97 0h1m2 0h1m3 0h1m8 0h1m35 0h1m1 0h1m96 0h1m27 0h1M99 259.5h1m9 0h1m17 0h2m6 0h3m4 0h1m8 0h1m100 0h2m1 0h1m7 0h1m166 0h1m26 0h1m7 0h1M107 260.5h1m8 0h1m146 0h1m15 0h1m24 0h1m7 0h1m8 0h1m86 0h1m21 0h1M105 261.5h2m3 0h1m8 0h1m5 0h1m129 0h1m10 0h1m45 0h1M106 262.5h1m1 0h1m6 0h1m2 0h1m2 0h1m3 0h1m21 0h1m8 0h1m107 0h1m2 0h1m140 0h1m21 0h1M110 263.5h1m1 0h1m3 0h1m4 0h1m35 0h1m100 0h1m8 0h1m43 0h1m96 0h1m7 0h2m3 0h1m1 0h2m4 0h1m6 0h1m13 0h1M116 264.5h1m136 0h2m2 0h1m9 0h1m20 0h1m120 0h1m11 0h1m6 0h1m7 0h1M100 265.5h1m8 0h1m1 0h1m13 0h1m4 0h2m42 0h1m92 0h1m1 0h1m136 0h1m19 0h1m17 0h1M101 266.5h1m9 0h1m4 0h1m7 0h1m123 0h1m11 0h1m9 0h1m56 0h1m79 0h1m1 0h1m5 0h3m9 0h3m14 0h1M119 267.5h2m148 0h1m46 0h1m94 0h1m6 0h1M105 268.5h1m19 0h1m38 0h1m89 0h1m1 0h1m1 0h1m2 0h1m4 0h1M105 269.5h1m20 0h1m36 0h1m95 0h2M435 314.5h1m3 0h1M434 315.5h1M338 316.5h1m94 0h1M124 317.5h1m307 0h1M125 318.5h1m152 0h1m157 0h1m13 0h1M279 319.5h1m148 0h1m11 0h1M441 320.5h1M160 321.5h1m265 0h1M437 322.5h1M428 323.5h1m7 0h1M130 325.5h1m149 0h1m2 0h1m143 0h1m5 0h1m2 0h1m1 0h1m2 0h1M276 326.5h1m150 0h1m9 0h1M125 327.5h1m33 0h1m116 0h1m3 0h1m31 0h1m3 0h1m123 0h1M126 328.5h1m4 0h1m27 0h1m114 0h1m3 0h1m1 0h1m1 0h1m30 0h4m1 0h1m107 0h2m6 0h1m6 0h1M126 329.5h2m148 0h1m3 0h1m34 0h2m104 0h1m3 0h1m12 0h1M123 330.5h1m11 0h1m142 0h1m5 0h1m25 0h1m3 0h1m112 0h1m17 0h1M120 331.5h1m8 0h1m186 0h1m118 0h1m5 0h1m3 0h1M127 332.5h1m148 0h2m32 0h1m4 0h1m110 0h1m7 0h1m6 0h1M124 333.5h1m5 0h1m179 0h1m123 0h1m1 0h1m1 0h2M117 334.5h2m8 0h1m4 0h1m1 0h2m14 0h1m4 0h1m125 0h1m2 0h1m31 0h2m113 0h1m9 0h1M123 335.5h1m26 0h1m13 0h1m111 0h1m1 0h1m6 0h1m27 0h1m110 0h1m9 0h1m1 0h1m59 0h1M140 336.5h1m16 0h1m114 0h2m10 0h1m135 0h1m24 0h1m14 0h1m34 0h1M120 337.5h1m18 0h1m17 0h1m114 0h1m41 0h1m1 0h1m104 0h1m5 0h2m4 0h1m26 0h1m2 0h1M119 338.5h1m3 0h1m11 0h2m20 0h1m114 0h1m149 0h1m8 0h1m5 0h1m22 0h1m1 0h1M119 339.5h1m10 0h1m182 0h1m116 0h1m3 0h1m12 0h1m14 0h1M126 340.5h1m124 0h1m23 0h1m6 0h1m30 0h1m114 0h1m6 0h2m2 0h1m22 0h2M122 341.5h1m5 0h1m147 0h1m6 0h1m28 0h1m2 0h2m2 0h1m138 0h1M135 342.5h1m2 0h1m17 0h2m125 0h1m174 0h1m1 0h1M125 343.5h1m1 0h1m3 0h1m6 0h1m16 0h1m151 0h1m131 0h2M121 344.5h1m1 0h1m24 0h1m5 0h1m122 0h3m37 0h1m144 0h1M122 345.5h1m7 0h1m1 0h1m15 0h1m1 0h2m130 0h2m174 0h1m2 0h1m1 0h1M121 346.5h1m8 0h1m153 0h1m22 0h1m127 0h1m22 0h1m2 0h1M136 347.5h1m140 0h1m1 0h2m152 0h1m1 0h1m3 0h1m10 0h1m1 0h1M127 348.5h1m323 0h1m1 0h1M125 349.5h1m2 0h1m149 0h2m2 0h1m31 0h1m107 0h3m15 0h1m1 0h1M283 350.5h1m141 0h1m11 0h1m1 0h1M123 351.5h1m3 0h1m12 0h2m136 0h1m157 0h1M124 352.5h1m302 0h2m1 0h1m11 0h1M124 353.5h1m1 0h1m192 0h1m17 0h1m101 0h1m3 0h1M298 354.5h1m19 0h1m117 0h1M118 355.5h1m160 0h1m13 0h2m1 0h1m1 0h1m129 0h1m10 0h1m2 0h1M135 356.5h1m143 0h1m16 0h1m8 0h1m123 0h2m3 0h1m1 0h2m4 0h1M131 357.5h1m145 0h1m5 0h1m10 0h1m6 0h1m4 0h1m129 0h1m8 0h1M124 358.5h1m153 0h1m13 0h1m8 0h1m134 0h1m3 0h1M123 359.5h1m169 0h1m2 0h1m136 0h1m1 0h1m3 0h1M124 360.5h1m15 0h1m293 0h1M123 361.5h1m27 0h1m146 0h2m29 0h1m107 0h1m43 0h1M137 362.5h1m143 0h1m12 0h1m3 0h1m22 0h1m1 0h1m118 0h1m38 0h1m2 0h1M129 363.5h1m2 0h1m157 0h1m2 0h1m28 0h2m2 0h1m101 0h2m1 0h1m6 0h1m2 0h1M129 364.5h1m1 0h1m1 0h1m191 0h2m112 0h1M291 365.5h3m2 0h1m27 0h1m3 0h1m114 0h1m5 0h1m29 0h1m7 0h2M123 366.5h2m164 0h1m26 0h1m4 0h1m1 0h1m5 0h1m110 0h1m38 0h1m6 0h1M138 367.5h1m132 0h1m17 0h1m34 0h1m4 0h1m2 0h1m97 0h2m51 0h1m1 0h1M119 368.5h1m2 0h1m155 0h3m5 0h1m30 0h1m2 0h2m7 0h1m6 0h1m103 0h1m43 0h1M129 369.5h1m2 0h1m155 0h1m25 0h1m1 0h1m15 0h1m3 0h1m95 0h1m3 0h1m8 0h1m42 0h1M317 370.5h1m1 0h1m7 0h1m4 0h1m97 0h1m3 0h1m1 0h1m1 0h1m36 0h2m11 0h1M130 371.5h1m148 0h1m2 0h1m2 0h1m1 0h1m1 0h1m22 0h1m4 0h1m12 0h1m109 0h1m31 0h1m6 0h1m4 0h2M124 372.5h1m2 0h2m4 0h1m154 0h2m38 0h1m93 0h1m13 0h1m7 0h2m13 0h1m7 0h2m11 0h1M124 373.5h1m6 0h1m2 0h1m139 0h1m13 0h1m1 0h4m34 0h1m2 0h1m93 0h1m5 0h1m9 0h1m2 0h1m20 0h1m5 0h1m14 0h1M123 374.5h1m2 0h1m3 0h1m4 0h1m39 0h1m79 0h1m14 0h2m11 0h1m1 0h1m4 0h1m23 0h1m19 0h1m94 0h1m9 0h1m1 0h1m1 0h1m21 0h1m4 0h3m11 0h2M256 375.5h1m10 0h1m22 0h2m43 0h1m94 0h1m9 0h1m2 0h1m29 0h1m7 0h1M311 376.5h2m1 0h2m10 0h1m4 0h1m96 0h2m48 0h2m1 0h1m9 0h1M148 377.5h1m20 0h1m113 0h1m8 0h1m18 0h1m15 0h2m3 0h1m94 0h1m2 0h1m9 0h2m15 0h1m12 0h1m7 0h1m12 0h1M129 378.5h1m1 0h2m1 0h1m18 0h1m2 0h1m11 0h1m1 0h1m3 0h1m114 0h1m34 0h1m102 0h1m13 0h1m3 0h2m20 0h2m6 0h1m1 0h1m6 0h1M138 379.5h1m13 0h1m2 0h1m6 0h1m1 0h1m121 0h1m1 0h1m19 0h1m3 0h1m121 0h3m3 0h1m18 0h1m4 0h1m9 0h1m5 0h1M132 380.5h2m1 0h1m1 0h1m18 0h1m12 0h1m244 0h1m17 0h1m13 0h2m22 0h1m3 0h1m2 0h1m2 0h1M116 381.5h1m10 0h1m1 0h1m5 0h1m25 0h1m7 0h1m166 0h1m75 0h1m24 0h1m1 0h1m21 0h1m3 0h1m1 0h1m3 0h1m2 0h1M129 382.5h1m24 0h1m3 0h1m5 0h1m95 0h1m151 0h1m5 0h1m3 0h2m1 0h1m1 0h1m4 0h1m28 0h1m6 0h2m4 0h1M113 383.5h1m36 0h1m2 0h2m20 0h1m127 0h1m26 0h1m86 0h1m1 0h1m6 0h1m9 0h1m22 0h1m3 0h1m9 0h1M115 384.5h1m1 0h1m15 0h1m15 0h1m2 0h1m1 0h1m3 0h1m100 0h1m31 0h1m12 0h1m1 0h1m106 0h2m20 0h2m1 0h1m18 0h1M118 385.5h1m1 0h2m3 0h1m18 0h1m5 0h1m2 0h1m4 0h1m3 0h1m97 0h1m27 0h1m18 0h1m20 0h1m80 0h1m1 0h1m1 0h1m9 0h1m7 0h1m21 0h1m2 0h2m13 0h1m5 0h1M107 386.5h1m2 0h1m2 0h1m6 0h1m15 0h1m8 0h1m1 0h1m1 0h1m1 0h1m1 0h1m4 0h1m2 0h1m6 0h1m2 0h1m113 0h1m44 0h1m77 0h1m29 0h1m2 0h1m21 0h1m3 0h1m4 0h1m7 0h1M105 387.5h1m1 0h1m1 0h1m3 0h1m4 0h1m20 0h2m4 0h1m139 0h1m1 0h1m185 0h2m7 0h1M106 388.5h1m1 0h2m21 0h2m5 0h1m18 0h1m6 0h1m124 0h1m9 0h1m5 0h1m104 0h1m31 0h1m3 0h1m12 0h1m5 0h1m5 0h1M104 389.5h1m31 0h1m10 0h2m3 0h1m16 0h1m2 0h1m86 0h1m29 0h1m14 0h1m22 0h1m110 0h2m1 0h2m5 0h1m1 0h1m15 0h2m7 0h1m2 0h1M107 390.5h1m24 0h1m2 0h1m1 0h1m7 0h1m12 0h1m13 0h1m85 0h1m5 0h1m60 0h1m1 0h1m79 0h1m31 0h1m15 0h1m1 0h1m10 0h1m3 0h1m2 0h1M135 391.5h1m2 0h2m9 0h2m6 0h1m3 0h1m2 0h1m5 0h1m1 0h1m83 0h1m31 0h1m118 0h1m39 0h1m5 0h1m6 0h1m2 0h1m6 0h1M135 392.5h1m9 0h2m5 0h1m10 0h1m7 0h1m84 0h1m27 0h2m18 0h1m144 0h1m6 0h1m9 0h1m8 0h1m11 0h1M101 393.5h1m30 0h1m1 0h1m1 0h1m14 0h1m6 0h1m5 0h1m91 0h1m27 0h1m1 0h1m167 0h1m3 0h1m11 0h1m16 0h1M103 394.5h1m29 0h1m3 0h1m14 0h1m12 0h1m3 0h1m112 0h1m2 0h1m17 0h1m1 0h1m1 0h1m99 0h1m1 0h1m32 0h1m5 0h1m2 0h1m2 0h2m4 0h1m7 0h1M104 395.5h1m34 0h1m7 0h1m1 0h1m2 0h1m5 0h1m4 0h1m1 0h1m1 0h1m89 0h1m28 0h1m16 0h1m22 0h1m80 0h1m37 0h1m2 0h1m5 0h1m1 0h1m1 0h1M131 396.5h1m10 0h1m13 0h1m99 0h1m64 0h1m123 0h1m3 0h1m1 0h1m18 0h1M160 397.5h1m4 0h2m116 0h2m18 0h1m15 0h1m119 0h1m15 0h1m1 0h1m3 0h1m9 0h1M131 398.5h1m2 0h1m4 0h1m7 0h1m8 0h1m101 0h1m38 0h1m2 0h1m157 0h1M136 399.5h1m119 0h1m2 0h1m24 0h1m14 0h1m2 0h1m7 0h1m19 0h1m76 0h1m35 0h1m6 0h2m4 0h1m14 0h1M141 400.5h1m4 0h1m4 0h1m10 0h2m116 0h1m36 0h2m12 0h1m109 0h1m7 0h1m5 0h1m16 0h1M144 401.5h1m3 0h1m3 0h1m5 0h1m3 0h1m134 0h1m9 0h3m2 0h1m6 0h3m121 0h1m2 0h1m20 0h1m5 0h1M134 402.5h1m3 0h1m8 0h1m6 0h1m3 0h2m120 0h1m31 0h1m4 0h1m7 0h1m126 0h1m14 0h1M99 403.5h1m3 0h1m32 0h1m5 0h2m11 0h2m167 0h1m115 0h1m4 0h1m3 0h2m17 0h2M100 404.5h1m35 0h1m2 0h1m6 0h1m7 0h1m2 0h1m2 0h1m25 0h1m65 0h1m1 0h1m81 0h1m119 0h1M134 405.5h1m2 0h1m2 0h1m110 0h1m27 0h1m20 0h1m6 0h2m6 0h1m95 0h1m24 0h2m2 0h2m12 0h1M143 406.5h1m107 0h1m2 0h1m17 0h1m1 0h1m26 0h1m6 0h1m7 0h1m135 0h1M103 407.5h1m36 0h2m1 0h1m8 0h1m101 0h1m16 0h1m27 0h1m3 0h1m130 0h1m2 0h1m4 0h1m14 0h2M102 408.5h1m2 0h1m42 0h1m105 0h1m7 0h2m4 0h1m32 0h1m137 0h1M102 409.5h1m2 0h1m43 0h1m102 0h1m52 0h1m104 0h1m23 0h1m3 0h1m28 0h1M101 410.5h1m39 0h1m116 0h1m3 0h1m3 0h1m3 0h1m34 0h1m24 0h2m77 0h1m28 0h1m28 0h1M124 411.5h1m2 0h1m126 0h1m5 0h1m9 0h1m136 0h1m6 0h1m21 0h1m3 0h2M108 412.5h1m19 0h2m5 0h1m4 0h1m2 0h2m118 0h1m1 0h1m8 0h1m1 0h1m142 0h1m17 0h1M110 413.5h1m17 0h1m25 0h1m99 0h1m8 0h1m11 0h1m133 0h1m22 0h2M113 414.5h1m2 0h1m28 0h1m12 0h1m99 0h2m9 0h1m3 0h1m23 0h2m110 0h1m2 0h2m9 0h1m4 0h1M280 462.5h1m56 0h1M278 463.5h1M296 464.5h2M286 465.5h1m149 0h1M132 466.5h1m139 0h2m1 0h2m4 0h1m18 0h1M120 467.5h1m11 0h1m148 0h1m10 0h1M269 468.5h1m4 0h1m2 0h1m1 0h1m1 0h1M276 469.5h1M128 470.5h1m302 0h1m3 0h1M130 471.5h1m188 0h1m116 0h1m33 0h2M279 472.5h1m1 0h1m151 0h1M115 473.5h2m7 0h1m8 0h1m140 0h1m4 0h1m2 0h1m31 0h1m121 0h1M129 474.5h1m144 0h1m1 0h1m32 0h1m3 0h2m8 0h1m96 0h1m5 0h1M274 475.5h1m6 0h1m2 0h1m24 0h1m14 0h1m112 0h1m30 0h1M123 476.5h1m3 0h1m3 0h1m157 0h1m30 0h1m114 0h2m31 0h1M132 477.5h1m144 0h1m2 0h2m35 0h1m111 0h1m3 0h1m1 0h1m1 0h1m52 0h1M131 478.5h1m133 0h1m6 0h1m10 0h1m1 0h1m32 0h3m116 0h1m28 0h1m22 0h1M127 479.5h2m2 0h1m134 0h1m19 0h1m17 0h1m7 0h1m115 0h1m1 0h1m4 0h1M116 480.5h1m14 0h1m28 0h1m120 0h1m4 0h1m18 0h1m129 0h1m2 0h1m7 0h1m30 0h1M117 481.5h1m8 0h1m9 0h1m146 0h1m40 0h1m2 0h1m149 0h1M118 482.5h1m2 0h1m149 0h1m5 0h1m6 0h1m5 0h2m25 0h2m7 0h2m102 0h1m2 0h1M120 483.5h1m3 0h1m142 0h1m14 0h1m1 0h1m8 0h1m1 0h1m26 0h2m99 0h1m10 0h1m6 0h1m18 0h1M122 484.5h1m1 0h1m6 0h1m4 0h1m13 0h1m115 0h1m14 0h1m14 0h1m6 0h1m11 0h1m8 0h1m105 0h2m1 0h1m6 0h1m16 0h1m24 0h1M121 485.5h1m13 0h1m15 0h1m10 0h1m116 0h1m3 0h1m19 0h1m16 0h1m12 0h1m90 0h1m7 0h1m54 0h1M121 486.5h1m3 0h1m1 0h1m7 0h1m9 0h1m6 0h1m1 0h2m5 0h1m109 0h1m38 0h2m121 0h1m5 0h1m29 0h2m3 0h1M129 487.5h1m9 0h1m20 0h1m125 0h1m6 0h2m17 0h1m1 0h1m1 0h1m7 0h1m3 0h1m102 0h1m6 0h3M119 488.5h1m4 0h1m2 0h1m31 0h1m111 0h1m10 0h1m14 0h1m16 0h1m9 0h1m1 0h1m99 0h1m6 0h1m4 0h1M113 489.5h1m1 0h1m17 0h1m16 0h1m1 0h1m130 0h1m26 0h1m2 0h1m9 0h1m2 0h1m10 0h1m96 0h1M114 490.5h1m11 0h1m5 0h1m18 0h2m112 0h1m17 0h1m17 0h1m25 0h2m7 0h1m93 0h1M128 491.5h1m17 0h3m11 0h1m121 0h1m28 0h1m7 0h1m105 0h1M120 492.5h1m1 0h1m5 0h1m20 0h1m114 0h1m5 0h1m20 0h1m35 0h1m96 0h1m56 0h1M121 493.5h1m32 0h1m110 0h1m4 0h1m2 0h1m32 0h1m3 0h1m3 0h1m3 0h1m6 0h2m98 0h1m8 0h1m46 0h1M120 494.5h1m4 0h1m4 0h1m1 0h1m38 0h1m101 0h1m10 0h1m27 0h1m6 0h1m12 0h1m88 0h1m11 0h1m4 0h1M128 495.5h1m1 0h1m5 0h1m35 0h1m98 0h1m28 0h1m13 0h1m11 0h1m2 0h1m3 0h1m88 0h1m10 0h1m3 0h1m2 0h1M125 496.5h1m7 0h1m3 0h1m16 0h1m108 0h2m1 0h1m1 0h1m6 0h1m4 0h1m27 0h1m13 0h1m3 0h1m98 0h1m3 0h1m9 0h1M118 497.5h1m8 0h2m7 0h1m128 0h1m1 0h1m35 0h2m20 0h1m92 0h1m21 0h1M118 498.5h1m5 0h1m3 0h1m7 0h1m146 0h1m9 0h1m6 0h1m24 0h1m4 0h1m9 0h1m83 0h1m3 0h1m1 0h1m9 0h1m47 0h2M124 499.5h1m4 0h1m1 0h2m5 0h1m6 0h1m1 0h1m3 0h1m117 0h2m4 0h1m7 0h1m10 0h1m36 0h1m86 0h1m10 0h1m3 0h1m31 0h1m7 0h1M138 500.5h2m3 0h1m3 0h1m2 0h1m7 0h1m1 0h1m107 0h1m6 0h1m12 0h1m20 0h1m2 0h1m5 0h1m5 0h1m15 0h1m77 0h1m1 0h1m4 0h2m38 0h1M121 501.5h1m5 0h2m10 0h1m10 0h1m8 0h1m121 0h1m2 0h2m5 0h1m7 0h1m3 0h1m11 0h1m109 0h1m6 0h1m31 0h1M119 502.5h1m2 0h1m5 0h1m27 0h1m117 0h1m14 0h1m11 0h1m1 0h1m6 0h1m1 0h1m4 0h1m111 0h1m46 0h1M116 503.5h1m1 0h1m2 0h1m6 0h1m24 0h1m133 0h1m23 0h1m2 0h2m3 0h1m11 0h1m87 0h1m2 0h1m60 0h1m16 0h2M131 504.5h1m36 0h1m90 0h1m35 0h1m15 0h1m104 0h1m19 0h1m1 0h1M114 505.5h1m1 0h1m2 0h1m5 0h1m17 0h3m22 0h1m95 0h1m5 0h1m3 0h1m41 0h1m2 0h1m1 0h1m3 0h1m6 0h2m104 0h1m38 0h1m6 0h1m8 0h1M109 506.5h1m10 0h1m4 0h1m14 0h1m148 0h1m9 0h1m18 0h1m157 0h1m12 0h1M109 507.5h1m3 0h1m1 0h2m3 0h1m10 0h1m8 0h1m2 0h1m3 0h1m4 0h2m125 0h2m10 0h1m1 0h1m1 0h1m4 0h1m3 0h1m2 0h1m1 0h1m2 0h1m9 0h1m122 0h1m12 0h1m30 0h1M120 508.5h1m7 0h1m28 0h1m106 0h1m40 0h1m3 0h1m2 0h1m5 0h2m3 0h1m1 0h1m88 0h1m17 0h1m13 0h1m29 0h1m19 0h1M109 509.5h1m10 0h1m1 0h1m6 0h1m5 0h1m14 0h1m6 0h1m7 0h1m97 0h1m61 0h1m5 0h1m84 0h1m1 0h1m52 0h1M114 510.5h1m5 0h2m14 0h3m8 0h1m8 0h1m8 0h1m126 0h1m2 0h1m10 0h1m15 0h3m86 0h1m52 0h1m8 0h1m1 0h1M98 511.5h1m7 0h1m1 0h1m1 0h1m2 0h1m17 0h1m10 0h1m3 0h1m3 0h1m111 0h1m21 0h2m7 0h1m9 0h2m2 0h1m105 0h1m3 0h1m16 0h1m1 0h1m38 0h1M97 512.5h1m1 0h1m2 0h1m28 0h1m6 0h2m10 0h1m1 0h3m1 0h1m132 0h1m10 0h1m21 0h1m91 0h1m2 0h1m15 0h1m3 0h1m30 0h1m6 0h1m3 0h1m9 0h1M105 513.5h1m7 0h1m16 0h1m3 0h1m11 0h1m1 0h1m2 0h1m5 0h1m4 0h1m118 0h1m18 0h1m4 0h1m14 0h1m1 0h1m91 0h1m18 0h1m2 0h1m1 0h1m13 0h1m9 0h1m3 0h1m24 0h1M100 514.5h1m34 0h1m7 0h1m8 0h1m4 0h1m124 0h1m4 0h1m5 0h1m3 0h1m7 0h1m103 0h1m4 0h3m6 0h1m49 0h1m4 0h4m9 0h1M107 515.5h2m23 0h1m2 0h1m2 0h1m4 0h1m3 0h2m6 0h2m4 0h1m98 0h1m19 0h2m3 0h1m7 0h1m6 0h1m112 0h1m19 0h2m35 0h1m5 0h1M102 516.5h1m10 0h1m30 0h1m2 0h1m6 0h1m3 0h1m3 0h1m10 0h1m6 0h2m4 0h1m70 0h1m3 0h1m44 0h1m110 0h1m15 0h1m36 0h1m4 0h1m10 0h1M100 517.5h1m2 0h2m29 0h2m5 0h1m30 0h1m14 0h1m69 0h1m1 0h1m19 0h1m1 0h1m41 0h1m1 0h1m80 0h1m14 0h1m11 0h1m1 0h1m9 0h1m14 0h1m1 0h1m10 0h1M97 518.5h1m3 0h2m32 0h1m2 0h1m10 0h1m3 0h1m127 0h1m43 0h1m85 0h1m1 0h1m17 0h1m5 0h1m31 0h1M139 519.5h1m1 0h1m4 0h1m1 0h1m5 0h2m4 0h1m121 0h1m20 0h1m17 0h3m1 0h1m102 0h1m41 0h1M132 520.5h1m7 0h1m41 0h1m79 0h1m38 0h1m17 0h1m1 0h1m7 0h1m78 0h1m22 0h1m2 0h1m27 0h1m7 0h1M100 521.5h2m30 0h1m7 0h1m2 0h1m15 0h1m4 0h1m16 0h1m73 0h1m25 0h1m126 0h1m25 0h1m36 0h1M97 522.5h1m3 0h1m29 0h1m36 0h1m86 0h1m22 0h1m24 0h2m105 0h1m9 0h1m40 0h1m17 0h2m12 0h1M139 523.5h1m6 0h2m4 0h1m2 0h1m1 0h1m2 0h1m95 0h1m1 0h1m19 0h1m4 0h1m13 0h1m4 0h1m1 0h1m17 0h2m14 0h1m74 0h1m25 0h1m28 0h1m25 0h1M132 524.5h1m2 0h1m2 0h1m2 0h1m10 0h1m7 0h1m3 0h3m2 0h1m82 0h2m3 0h2m169 0h1m5 0h1m18 0h1m4 0h1m2 0h1m5 0h1m16 0h1M98 525.5h2m43 0h1m1 0h2m21 0h1m1 0h1m130 0h1m1 0h1m102 0h1m44 0h1m11 0h1M160 526.5h1m10 0h1m127 0h2m107 0h1m41 0h1m1 0h1m17 0h1m7 0h1M98 527.5h2m36 0h1m5 0h1m3 0h1m9 0h1m1 0h1m6 0h2m4 0h1m136 0h1m143 0h1m5 0h1m1 0h1m3 0h1m6 0h1m13 0h1M97 528.5h1m42 0h1m8 0h1m1 0h1m8 0h1m99 0h1m43 0h1m145 0h1m2 0h1m1 0h1m3 0h1m30 0h1M100 529.5h1m56 0h1m99 0h2m190 0h1m15 0h1M99 530.5h1m36 0h1m3 0h1m4 0h1m10 0h1m3 0h3m113 0h1m4 0h1m3 0h1m15 0h1m1 0h1m17 0h1m111 0h1m1 0h2M129 531.5h1m3 0h1m6 0h1m1 0h1m2 0h1m114 0h1m18 0h1m19 0h1m1 0h1m5 0h1m11 0h1m115 0h1m15 0h2M97 532.5h1m36 0h2m8 0h1m1 0h1m13 0h1m91 0h1m2 0h3m4 0h1m12 0h2m19 0h1m1 0h1m6 0h1m1 0h1m6 0h2m2 0h1m116 0h1m5 0h1m19 0h1m3 0h2M99 533.5h1m47 0h1m3 0h3m1 0h1m122 0h1m18 0h1m6 0h1m10 0h1m1 0h1m1 0h1m117 0h1m18 0h1m7 0h1M97 534.5h1m3 0h1m40 0h2m9 0h1m3 0h1m4 0h1m2 0h1m89 0h1m18 0h1m2 0h1m3 0h1m5 0h1m29 0h1m115 0h1m6 0h1m14 0h1m9 0h1m24 0h1M131 535.5h1m4 0h1m2 0h1m5 0h1m1 0h1m6 0h2m6 0h1m2 0h1m12 0h1m75 0h1m19 0h1m6 0h1m2 0h1m3 0h1m15 0h1m1 0h2m1 0h2m133 0h1m14 0h1m16 0h1M131 536.5h1m9 0h1m7 0h1m8 0h1m99 0h1m20 0h1m32 0h1M99 537.5h1m27 0h1m3 0h1m3 0h1m26 0h1m88 0h1m1 0h1m19 0h2m33 0h1m6 0h1m120 0h1m18 0h2m8 0h1M134 538.5h1m16 0h1m8 0h1m2 0h1m133 0h1m15 0h1m1 0h1m2 0h1m145 0h1m13 0h2M104 539.5h1m26 0h2m18 0h1m9 0h1m110 0h2m30 0h5m10 0h1m112 0h1m3 0h1m9 0h1m16 0h1M104 540.5h1m2 0h1m20 0h1m15 0h1m5 0h1m6 0h1m5 0h1m89 0h1m4 0h1m1 0h1m9 0h1m1 0h1m8 0h1m27 0h1m148 0h1m35 0h1M101 541.5h1m28 0h1m1 0h1m2 0h1m10 0h1m16 0h1m91 0h1m3 0h1m22 0h1m19 0h2m1 0h1m151 0h1M108 542.5h1m14 0h1m48 0h1m78 0h1m2 0h1m39 0h1m6 0h1m1 0h1m3 0h3m25 0h1m99 0h1M100 543.5h1m32 0h1m11 0h1m39 0h2m64 0h1m2 0h1m15 0h2m32 0h1m103 0h1m23 0h2m2 0h1M105 544.5h3m3 0h1m5 0h1m10 0h1m123 0h2m3 0h1m8 0h1m70 0h1m69 0h1m20 0h1m2 0h1M109 545.5h1m8 0h1m12 0h2m10 0h1m5 0h1m105 0h1m59 0h1m114 0h1M105 546.5h1m5 0h1m7 0h3m6 0h1m133 0h1m5 0h1m12 0h1m124 0h1m25 0h1M105 547.5h1m5 0h1m8 0h1m1 0h1m2 0h1m123 0h1m8 0h1m23 0h1m25 0h1m152 0h1M107 548.5h1m2 0h1m2 0h1m5 0h1m3 0h1m5 0h1m1 0h1m4 0h1m8 0h2m144 0h1m48 0h1m69 0h1m18 0h1M128 549.5h1m6 0h1m118 0h2m2 0h1m3 0h1m25 0h1m119 0h1m2 0h1m17 0h1m4 0h1M109 550.5h1m12 0h1m4 0h1m1 0h1m123 0h1m1 0h1m10 0h1m3 0h1m38 0h1m106 0h1M118 551.5h1m3 0h1m1 0h1m3 0h1m125 0h2m7 0h1m8 0h1m45 0h1m90 0h1m1 0h1M110 552.5h1m9 0h1m142 0h1m144 0h1m2 0h1m16 0h1m10 0h2M106 553.5h1m2 0h1m2 0h2m5 0h2m11 0h1m142 0h1m144 0h1m2 0h1m7 0h1M100 554.5h1m9 0h1m9 0h1m146 0h1m7 0h1m1 0h1m48 0h1m88 0h1m1 0h1m12 0h1M106 555.5h1m7 0h1m1 0h1m3 0h1m149 0h1m39 0h1m12 0h1m96 0h1M117 556.5h2m2 0h1m137 0h1m9 0h1m144 0h1m2 0h1m5 0h1m75 0h1M114 557.5h1m4 0h1m3 0h1m6 0h1m169 0h1m197 0h1M116 558.5h2m2 0h1m2 0h1m137 0h1m19 0h1m35 0h1m104 0h1M106 559.5h1m7 0h1m165 0h1m135 0h1M273 560.5h1M258 561.5h1m40 0h1" stroke="#777" stroke-width="1" fill="none" shape-rendering="crispEdges"/>
<path d="M274 29.5h1m64 0h1M263 30.5h1m10 0h1m34 0h1M266 31.5h1m13 0h1m28 0h1m29 0h1M268 32.5h1m1 0h1m9 0h1m37 0h1M138 33.5h1M267 34.5h2m3 0h1m46 0h2M143 35.5h1m123 0h1m2 0h1m1 0h1m28 0h3m13 0h1m96 0h1M273 36.5h1m40 0h1m3 0h1m111 0h2M262 37.5h1m3 0h1m1 0h1m37 0h1m7 0h1m101 0h1M126 38.5h1m17 0h1m12 0h1m102 0h1m10 0h1m37 0h1m1 0h1m108 0h1m2 0h1m1 0h1M111 39.5h1m7 0h1m3 0h2m13 0h1m21 0h1m98 0h2m7 0h1m11 0h1m24 0h1m1 0h1m104 0h1m17 0h2m33 0h1M115 40.5h1m4 0h1m24 0h1m9 0h1m2 0h1m101 0h1m9 0h1m23 0h1m8 0h2m115 0h1m3 0h1m24 0h2M117 41.5h1m5 0h1m4 0h1m20 0h1m5 0h1m124 0h2m18 0h1m7 0h1m12 0h1m2 0h1m92 0h1m8 0h1m29 0h1m5 0h1m1 0h1m19 0h1M125 42.5h2m15 0h1m1 0h1m5 0h1m1 0h3m105 0h1m13 0h1m25 0h1m2 0h1m3 0h1m7 0h1m97 0h1m1 0h1m3 0h1m12 0h1m31 0h1m3 0h1M103 43.5h1m11 0h2m10 0h1m16 0h1m10 0h1m101 0h1m37 0h1m28 0h1m1 0h1m87 0h1m12 0h3m34 0h1M144 44.5h1m6 0h1m2 0h1m1 0h1m15 0h1m85 0h1m37 0h1m12 0h1m6 0h1m2 0h1m9 0h1m82 0h1m19 0h1m30 0h1m7 0h1m19 0h1M129 45.5h2m1 0h1m2 0h1m9 0h2m2 0h1m116 0h1m33 0h1m5 0h1m22 0h1m79 0h1m4 0h1m2 0h1m1 0h1m10 0h2m14 0h1m22 0h1m1 0h1m19 0h1M127 46.5h1m7 0h1m12 0h1m1 0h1m2 0h1m8 0h1m100 0h1m56 0h1m2 0h1m88 0h2m28 0h1M108 47.5h1m45 0h1m101 0h1m11 0h1m7 0h1m24 0h1m3 0h1m4 0h1m20 0h1m105 0h1m27 0h1m1 0h1M152 48.5h2m7 0h3m12 0h1m91 0h1m10 0h2m3 0h1m10 0h1m2 0h1m2 0h1m4 0h1m27 0h2m99 0h2m1 0h1m5 0h1m14 0h1m1 0h1m7 0h2M109 49.5h1m17 0h1m2 0h1m13 0h1m11 0h2m145 0h2m15 0h1m1 0h2m87 0h1m25 0h1m5 0h1m18 0h1m4 0h1M137 50.5h1m16 0h1m11 0h2m1 0h1m92 0h1m6 0h1m7 0h1m171 0h1m9 0h1m2 0h1M100 51.5h1m1 0h1m28 0h1m6 0h1m1 0h1m3 0h1m117 0h1m6 0h1m21 0h1m1 0h1m12 0h2m13 0h1m6 0h1m2 0h1m75 0h1m1 0h1m1 0h1m36 0h1m1 0h1m10 0h1m12 0h1m1 0h1M101 52.5h1m3 0h1m28 0h1m11 0h2m7 0h1m3 0h1m93 0h1m7 0h1m8 0h1m30 0h1m19 0h1m135 0h1m10 0h1m5 0h1m1 0h1m1 0h1m6 0h1M99 53.5h1m47 0h1m2 0h1m9 0h1m2 0h1m89 0h1m7 0h2m37 0h1m25 0h1m80 0h1m38 0h1m1 0h1m13 0h1M101 54.5h1m33 0h2m14 0h1m6 0h2m8 0h1m92 0h1m16 0h2m23 0h1m1 0h1m18 0h1m82 0h1m1 0h1m2 0h1m28 0h1m19 0h1m7 0h2M105 55.5h1m32 0h2m1 0h1m6 0h1m7 0h1m8 0h1m2 0h1m84 0h1m40 0h2m1 0h1m4 0h2m13 0h1m127 0h1m2 0h1m4 0h2m12 0h1M161 56.5h1m1 0h1m1 0h1m4 0h1m91 0h1m2 0h1m11 0h1m18 0h1m20 0h1m2 0h1m1 0h1m1 0h1m2 0h1m117 0h1m4 0h2m9 0h2M133 57.5h1m3 0h2m11 0h1m5 0h1m5 0h1m2 0h1m101 0h1m9 0h1m1 0h1m17 0h3m110 0h1m47 0h1m1 0h1m16 0h2M138 58.5h1m2 0h2m6 0h1m10 0h1m16 0h1m77 0h2m7 0h1m2 0h1m5 0h1m8 0h1m17 0h1m6 0h3m6 0h3m5 0h1m112 0h1m17 0h1m14 0h1m2 0h2m2 0h1M99 59.5h2m32 0h1m23 0h1m3 0h1m4 0h1m10 0h1m90 0h1m4 0h1m22 0h1m13 0h1m126 0h1m31 0h2m1 0h1M134 60.5h1m4 0h1m7 0h1m4 0h3m1 0h1m1 0h1m95 0h1m5 0h2m1 0h1m49 0h1m4 0h1m2 0h1m12 0h1m101 0h2m2 0h1m38 0h1M138 61.5h1m3 0h1m2 0h1m123 0h1m31 0h1m6 0h1m14 0h1m2 0h1m111 0h1m1 0h1M135 62.5h1m122 0h1m9 0h1m4 0h1m12 0h2m20 0h1m21 0h1m108 0h1m9 0h1m5 0h1M102 63.5h1m37 0h1m1 0h1m5 0h1m7 0h1m4 0h1m5 0h1m97 0h1m6 0h2m22 0h2m5 0h1m1 0h2m4 0h1m4 0h1m132 0h1m6 0h2m32 0h2M102 64.5h1m46 0h1m3 0h1m1 0h1m3 0h1m4 0h1m2 0h1m97 0h1m4 0h1m5 0h1m11 0h1m14 0h1m5 0h1m1 0h1m1 0h1m15 0h1m128 0h1m3 0h1M142 65.5h1m5 0h1m12 0h1m7 0h1m97 0h1m6 0h1m16 0h1m10 0h1m1 0h1m1 0h1m6 0h1m8 0h1m85 0h1m32 0h1m31 0h1m24 0h1M151 66.5h1m8 0h1m7 0h1m120 0h1m21 0h1m21 0h2m126 0h1m5 0h1m8 0h1m2 0h1m19 0h1M131 67.5h3m7 0h1m1 0h1m9 0h1m5 0h1m1 0h1m102 0h1m30 0h1m5 0h1m10 0h1m13 0h1m83 0h1m27 0h1m26 0h1m1 0h1M134 68.5h1m12 0h1m20 0h1m92 0h1m1 0h1m1 0h1m26 0h1m7 0h1m1 0h1m15 0h1m7 0h1m1 0h1m1 0h1m3 0h1m2 0h1m116 0h1m21 0h1M133 69.5h1m10 0h1m9 0h1m109 0h1m23 0h1m7 0h1m4 0h1m5 0h1m3 0h2m4 0h2m5 0h1m9 0h1m75 0h1m33 0h1m1 0h1m1 0h1m1 0h1m14 0h1M105 70.5h1m31 0h1m14 0h1m160 0h1m4 0h1m10 0h1m77 0h1m38 0h1M124 71.5h1m9 0h1m38 0h1m121 0h1m2 0h1m18 0h1m6 0h2M106 72.5h1m31 0h1m12 0h1m1 0h1m18 0h1m1 0h1m113 0h1m1 0h1m5 0h1m16 0h1m15 0h1m112 0h2m18 0h1M108 73.5h1m5 0h1m58 0h1m100 0h1m7 0h2m6 0h1m1 0h1m123 0h1M110 74.5h1m44 0h1m104 0h1m51 0h1m12 0h1m81 0h1m9 0h1m28 0h1m10 0h1m9 0h1m3 0h1M112 75.5h1m3 0h2m162 0h1m7 0h1m3 0h1m19 0h1m14 0h1m79 0h1m32 0h2m4 0h1m1 0h1m5 0h1m1 0h1m1 0h1M116 76.5h1m3 0h1m13 0h1m151 0h1m4 0h1m4 0h2m10 0h1m1 0h1m6 0h1m91 0h1m2 0h5m4 0h1m24 0h1m10 0h1m2 0h1M116 77.5h1m5 0h1m16 0h1m10 0h1m7 0h1m116 0h1m32 0h1m1 0h1m98 0h1m7 0h1m1 0h1m21 0h2m12 0h1m12 0h1M113 78.5h1m2 0h1m5 0h1m1 0h1m144 0h2m15 0h1m1 0h1m19 0h1m9 0h1m2 0h1m3 0h1m1 0h1m1 0h1m1 0h1m83 0h1m50 0h1m1 0h1m2 0h3m1 0h1M113 79.5h1m5 0h1m1 0h1m1 0h1m4 0h1m18 0h1m1 0h1m16 0h2m13 0h1m93 0h1m15 0h1m37 0h1m90 0h1m22 0h1m10 0h1m1 0h1m4 0h1m2 0h1m3 0h1M105 80.5h1m22 0h1m10 0h2m10 0h1m29 0h1m89 0h1m3 0h1m5 0h1m2 0h1m4 0h1m41 0h2m89 0h1m23 0h1m3 0h1m16 0h1m1 0h1M111 81.5h2m152 0h1m2 0h1m5 0h1m2 0h1m11 0h1m2 0h1m33 0h1m92 0h1m1 0h1m26 0h1m14 0h2M102 82.5h2m17 0h1m31 0h1m5 0h1m108 0h1m40 0h2m21 0h1m113 0h1m9 0h2m12 0h1M117 83.5h1m34 0h1m112 0h1m4 0h1m53 0h1m9 0h2m84 0h1m1 0h2m1 0h1m34 0h1m5 0h1M111 84.5h1m25 0h2m4 0h1m18 0h1m104 0h1m20 0h2m17 0h1m9 0h1m6 0h1m3 0h1m92 0h1m23 0h1m6 0h1m2 0h2M107 85.5h1m6 0h2m17 0h1m18 0h1m135 0h1m13 0h1m3 0h1m1 0h1m5 0h1m9 0h1m4 0h1m91 0h1m20 0h1m9 0h1m5 0h1m2 0h1m17 0h2M108 86.5h1m1 0h1m42 0h1m110 0h1m24 0h2m17 0h1m18 0h1m92 0h1m26 0h2m9 0h1m9 0h1M108 87.5h1m11 0h1m20 0h1m142 0h1m2 0h2m130 0h1m4 0h1m19 0h1m9 0h1m9 0h1m2 0h1m2 0h1M140 88.5h1m4 0h1m8 0h1m4 0h1m130 0h1m17 0h1m111 0h1m22 0h1m4 0h1m1 0h1m19 0h1M108 89.5h1m44 0h2m106 0h1m2 0h1m4 0h1m18 0h1m36 0h1m99 0h1m19 0h1m16 0h1m4 0h1M109 90.5h3m35 0h1m1 0h1m9 0h1m1 0h1m98 0h1m1 0h1m8 0h1m35 0h1m23 0h1m83 0h1m7 0h1m19 0h1m14 0h1m3 0h1M114 91.5h1m23 0h1m17 0h1m15 0h1m9 0h1m79 0h1m27 0h1m38 0h1m1 0h1m92 0h1m20 0h1m10 0h1M98 92.5h1m17 0h1m26 0h1m2 0h1m15 0h1m19 0h1m82 0h1m18 0h1m2 0h2m38 0h2m1 0h1m92 0h1m3 0h1m27 0h1M98 93.5h1m10 0h1m32 0h1m10 0h1m4 0h1m1 0h1m96 0h1m1 0h1m28 0h1m1 0h1m15 0h1m3 0h1m2 0h1m15 0h1m2 0h1m107 0h1m30 0h1m13 0h1M103 94.5h1m4 0h1m2 0h1m4 0h1m33 0h1m110 0h1m21 0h1m42 0h1m1 0h1m3 0h1m79 0h1m4 0h1m1 0h2m5 0h1M104 95.5h1m1 0h2m1 0h1m3 0h1m2 0h1m24 0h1m4 0h1m11 0h1m95 0h1m3 0h1m7 0h1m55 0h1m7 0h1m79 0h1m1 0h1m30 0h1m1 0h1m21 0h3M154 96.5h1m6 0h1m102 0h1m41 0h1m20 0h1m81 0h1m1 0h1m12 0h1m1 0h1m18 0h1m3 0h1M106 97.5h1m3 0h2m32 0h1m16 0h1m99 0h1m19 0h1m2 0h1m20 0h2m5 0h1m8 0h1m88 0h1m13 0h1m11 0h1m1 0h2m2 0h1m11 0h2M113 98.5h1m42 0h3m10 0h1m88 0h1m22 0h1m9 0h1m9 0h1m10 0h1m2 0h1m100 0h1m3 0h1m10 0h1m6 0h1m1 0h1m3 0h1m14 0h1M113 99.5h2m38 0h1m101 0h1m32 0h2m11 0h1m2 0h1m11 0h1m100 0h2m6 0h2m9 0h3m1 0h1m10 0h2m7 0h1M104 100.5h1m1 0h1m28 0h1m1 0h1m25 0h2m93 0h1m1 0h1m7 0h1m17 0h1m17 0h1m107 0h1m7 0h1m8 0h1m26 0h1M117 101.5h1m1 0h1m13 0h1m4 0h2m18 0h2m15 0h1m83 0h1m1 0h1m6 0h1m17 0h1m18 0h1m3 0h1m1 0h1m9 0h1m91 0h1m6 0h1m11 0h1m2 0h2m38 0h2M103 102.5h2m3 0h1m9 0h2m13 0h1m16 0h1m102 0h1m3 0h1m4 0h1m10 0h1m6 0h1m4 0h1m24 0h1m99 0h1m1 0h1m27 0h1m22 0h1M101 103.5h1m2 0h1m3 0h1m12 0h1m1 0h1m4 0h1m20 0h1m123 0h1m5 0h1m30 0h1m4 0h1m4 0h1m92 0h1m15 0h1M138 104.5h1m125 0h1m2 0h3m35 0h2m16 0h1m87 0h1m15 0h1m5 0h1m1 0h1M100 105.5h3m15 0h1m4 0h1m5 0h1m2 0h1m8 0h1m5 0h1m19 0h1m1 0h1m93 0h1m8 0h1m38 0h1M105 106.5h1m152 0h1m1 0h1m50 0h1m1 0h1m99 0h2m4 0h1m1 0h2m18 0h1M99 107.5h1m2 0h1m1 0h1m7 0h1m1 0h1m3 0h2m9 0h1m11 0h1m35 0h1m72 0h1m4 0h1m10 0h1m38 0h1m2 0h1m5 0h1m4 0h1m2 0h1m86 0h1m4 0h1m1 0h1m24 0h1M104 108.5h1m9 0h1m12 0h1m18 0h1m112 0h1m21 0h1m28 0h2m11 0h1m89 0h1m11 0h1m32 0h1M105 109.5h1m2 0h1m8 0h1m3 0h1m1 0h1m7 0h1m34 0h1m96 0h1m44 0h1m6 0h1m2 0h1m6 0h1m83 0h1m9 0h1m37 0h1m1 0h1M110 110.5h1m61 0h1m140 0h2m8 0h1m7 0h1m92 0h1m2 0h1M99 111.5h1m52 0h1m102 0h2m16 0h1m2 0h1m34 0h1m4 0h1m91 0h1m15 0h1m5 0h1M99 112.5h1m5 0h1m15 0h1m20 0h1m113 0h1m1 0h1m3 0h1m4 0h3m52 0h1m15 0h1m83 0h1m5 0h2M109 113.5h1m2 0h1m7 0h1m1 0h1m65 0h1m86 0h1m15 0h1m16 0h1m18 0h2m9 0h1m71 0h1m8 0h2m23 0h1M112 114.5h2m9 0h1m139 0h1m48 0h1m3 0h1m110 0h1M311 115.5h1m7 0h1m134 0h1M99 116.5h1m212 0h1m5 0h1m98 0h1M99 117.5h1m6 0h1m158 0h1m55 0h2m94 0h1M103 118.5h1m9 0h1M103 119.5h1M104 120.5h1M425 171.5h1M474 174.5h1M120 176.5h1m41 0h1m102 0h1M132 177.5h1m183 0h1M132 178.5h1m183 0h1M115 179.5h1m5 0h1m173 0h1m23 0h1M125 180.5h1m151 0h1M116 181.5h1m4 0h4m156 0h1m13 0h1m132 0h1M125 182.5h1m4 0h1m148 0h1m1 0h1m36 0h1M115 183.5h2m8 0h1m1 0h2m12 0h1m135 0h2m33 0h1m7 0h1m1 0h2m88 0h1m63 0h1M114 184.5h1m13 0h1m162 0h1m36 0h1m79 0h1m6 0h1m11 0h1m47 0h1m7 0h1M105 185.5h2m22 0h1m1 0h1m18 0h1m124 0h1m1 0h1m1 0h1m4 0h1m6 0h1m21 0h1m94 0h1m6 0h1m4 0h1m23 0h1m12 0h1m17 0h1m1 0h1M271 186.5h1m5 0h1m8 0h2m33 0h1m95 0h1m6 0h1m7 0h1M101 187.5h1m1 0h1m7 0h1m164 0h1m4 0h1m3 0h1m39 0h1m83 0h1m2 0h1m2 0h2m21 0h1m4 0h1M109 188.5h1m19 0h1m7 0h1m1 0h2m145 0h1m28 0h1m6 0h1m2 0h1m15 0h1m69 0h1m10 0h2m8 0h1m9 0h1M145 189.5h1m120 0h1m7 0h1m39 0h1m2 0h1m7 0h1m85 0h1m3 0h1m2 0h1m5 0h1m9 0h1m8 0h1M107 190.5h1m22 0h1m6 0h2m2 0h1m2 0h1m9 0h1m130 0h1m29 0h1m9 0h1m9 0h1m74 0h1m4 0h1m2 0h1m22 0h2M108 191.5h1m30 0h1m126 0h1m2 0h1m7 0h1m56 0h1m1 0h1m72 0h2m25 0h1M102 192.5h1m2 0h1m1 0h1m4 0h1m24 0h1m1 0h1m3 0h2m9 0h2m117 0h1m1 0h2m33 0h1m4 0h1m19 0h1M101 193.5h1m3 0h1m5 0h1m20 0h2m114 0h1m20 0h2m12 0h1m32 0h1m90 0h1m28 0h1m24 0h1M134 194.5h1m4 0h1m1 0h1m7 0h1m178 0h1m77 0h1m31 0h1m13 0h2m9 0h1M106 195.5h1m4 0h1m20 0h1m5 0h1m2 0h1m5 0h1m6 0h1m102 0h1m5 0h1m5 0h2m7 0h1m9 0h2m19 0h1m3 0h2m4 0h1m6 0h1m1 0h1m103 0h1m15 0h1m14 0h1m9 0h1M103 196.5h2m27 0h1m4 0h1m3 0h1m7 0h1m2 0h1m1 0h1m101 0h1m1 0h1m19 0h1m8 0h1m32 0h1m109 0h1m24 0h1m2 0h1m2 0h1m3 0h1m7 0h1M99 197.5h2m29 0h1m9 0h1m131 0h1m6 0h1m5 0h2m21 0h1m4 0h1m13 0h1m114 0h1m6 0h1M103 198.5h1m5 0h1m22 0h2m19 0h1m15 0h1m98 0h1m14 0h1m25 0h1m14 0h1m2 0h1m109 0h1M104 199.5h1m1 0h2m4 0h1m17 0h1m8 0h1m5 0h1m16 0h1m88 0h1m154 0h1m28 0h1m9 0h1m34 0h1M107 200.5h1m3 0h1m21 0h1m4 0h1m11 0h1m4 0h1m114 0h1m12 0h1m23 0h2m2 0h1m121 0h1m3 0h1m26 0h1m12 0h1M130 201.5h1m6 0h1m13 0h1m114 0h1m4 0h1m33 0h1m15 0h1m5 0h1m1 0h1m98 0h1m11 0h1m4 0h1m15 0h1m9 0h2M111 202.5h2m29 0h1m1 0h1m14 0h2m121 0h2m36 0h1m12 0h1m127 0h1m10 0h1M106 203.5h1m10 0h1m3 0h1m7 0h1m3 0h2m9 0h1m120 0h1m17 0h1m51 0h1m69 0h1m1 0h1m2 0h1m22 0h1m1 0h1m21 0h1m5 0h2M152 204.5h1m5 0h1m107 0h1m10 0h1m6 0h1m23 0h1m15 0h1m80 0h1m3 0h1m23 0h1m26 0h1M102 205.5h1m14 0h1m15 0h1m1 0h1m7 0h1m14 0h1m106 0h1m2 0h1m37 0h1m2 0h1m13 0h1m83 0h1m25 0h1m9 0h1m11 0h1m1 0h1m1 0h1M108 206.5h1m15 0h1m4 0h1m3 0h1m14 0h1m1 0h1m133 0h1m23 0h1m8 0h1m90 0h1m13 0h1m10 0h1m1 0h1m2 0h1m14 0h1m4 0h1m3 0h1M262 207.5h1m2 0h1m1 0h1m38 0h1m103 0h1m4 0h1m21 0h1m21 0h1m6 0h1m1 0h1M130 208.5h1m134 0h2m16 0h1m11 0h1m5 0h1m1 0h1m1 0h1m103 0h1m4 0h1m9 0h1m4 0h1m7 0h1m30 0h2M121 209.5h1m4 0h1m4 0h1m11 0h1m7 0h1m105 0h1m12 0h1m30 0h1m1 0h1m16 0h1m85 0h1m20 0h1m16 0h1M108 210.5h1m20 0h2m12 0h2m21 0h1m17 0h1m97 0h1m8 0h1m4 0h2m115 0h1m8 0h1m7 0h1m4 0h2m1 0h1m60 0h1M109 211.5h1m17 0h1m2 0h1m19 0h1m4 0h1m28 0h1m97 0h1m5 0h1m11 0h1m110 0h1m10 0h1m11 0h1m4 0h1M107 212.5h1m24 0h1m12 0h1m136 0h1m12 0h3m5 0h1m25 0h2m107 0h1m40 0h1m1 0h1m17 0h1M109 213.5h1m1 0h1m33 0h2m142 0h1m3 0h1m31 0h1m79 0h1m6 0h1m6 0h1m37 0h1M128 214.5h1m16 0h1m7 0h1m1 0h1m124 0h1m15 0h1m5 0h1m23 0h1m84 0h1m1 0h1m28 0h2m6 0h1m22 0h1M118 215.5h1m1 0h1m25 0h1m151 0h1m1 0h1m114 0h1m4 0h1m10 0h1m6 0h1m34 0h1M130 216.5h1m11 0h1m118 0h1m2 0h1m31 0h2m1 0h1m1 0h4m16 0h2m1 0h1m84 0h1m2 0h1m1 0h1m3 0h1m41 0h1M104 217.5h2m6 0h1m15 0h1m36 0h1m97 0h1m19 0h1m6 0h1m4 0h2m113 0h1m1 0h3m1 0h1M119 218.5h1m8 0h1m3 0h1m159 0h2m8 0h2m1 0h1m13 0h1m96 0h1m1 0h1m18 0h1m9 0h1M165 219.5h1m122 0h1m8 0h1m24 0h1m82 0h1m8 0h2M107 220.5h1m2 0h1m76 0h1m69 0h1m22 0h1m2 0h1m16 0h1m38 0h1M117 221.5h1m12 0h1m14 0h1m20 0h1m91 0h1m46 0h1m16 0h1m2 0h1m2 0h1m10 0h1m72 0h1m2 0h1m6 0h1m47 0h1m6 0h1M133 222.5h1m32 0h1m93 0h1m4 0h1m14 0h1m2 0h1m5 0h1m9 0h2m116 0h1m15 0h1m5 0h1m2 0h1M104 223.5h1m37 0h2m135 0h1m4 0h1m127 0h1m1 0h1m26 0h1m1 0h1m26 0h1m18 0h1m4 0h2M130 224.5h1m16 0h1m133 0h1m1 0h1m18 0h1m106 0h1m55 0h1m6 0h1m9 0h1M126 225.5h1m29 0h2m260 0h1m20 0h1m30 0h1M130 226.5h1m3 0h1m146 0h1m14 0h1m2 0h1m135 0h1m5 0h2m22 0h1m24 0h1M132 227.5h1m6 0h2m8 0h2m4 0h1m3 0h1m97 0h1m42 0h1m111 0h1m1 0h1m3 0h1M108 228.5h1m24 0h2m126 0h1m36 0h1m117 0h1m19 0h2m18 0h1m17 0h1M106 229.5h1m9 0h1m10 0h1m2 0h1m3 0h1m6 0h1m19 0h1m4 0h1m1 0h1m90 0h2m77 0h1m75 0h1m19 0h1m4 0h1m16 0h1m9 0h1m1 0h2m4 0h2m16 0h1M103 230.5h1m14 0h1m9 0h1m2 0h1m7 0h1m14 0h1m3 0h2m94 0h1m4 0h1m21 0h2m15 0h1m109 0h2m9 0h2m3 0h1m12 0h1m4 0h2m27 0h1m5 0h1m13 0h1m1 0h1M123 231.5h2m10 0h1m4 0h1m5 0h1m1 0h1m2 0h2m11 0h1m89 0h1m159 0h1m2 0h1m7 0h1m6 0h1m3 0h1m18 0h1m14 0h1m25 0h1M98 232.5h1m24 0h1m8 0h1m16 0h1m10 0h1m24 0h1m113 0h1m106 0h1m2 0h1m2 0h1m1 0h1m21 0h1m1 0h1m25 0h1m16 0h2m13 0h1M102 233.5h1m7 0h1m48 0h1m9 0h1m15 0h1m112 0h2m1 0h1m110 0h1m11 0h1m10 0h1m25 0h2m4 0h1m3 0h1m8 0h1M102 234.5h1m50 0h1m104 0h1m57 0h1m6 0h1m85 0h1m56 0h1m6 0h1M103 235.5h1m3 0h1m28 0h2m21 0h1m140 0h1m124 0h1m32 0h1m9 0h2m2 0h1M101 236.5h1m27 0h2m1 0h1m11 0h1m9 0h1m7 0h1m7 0h1m108 0h1m18 0h1m21 0h1m2 0h1m82 0h1m20 0h1m12 0h1m22 0h1m3 0h1m3 0h1m1 0h1M129 237.5h1m8 0h1m3 0h1m1 0h1m5 0h1m5 0h2m8 0h1m1 0h1m91 0h1m39 0h1m21 0h1m86 0h1m1 0h1m22 0h1m24 0h2m3 0h1m1 0h1m1 0h1m6 0h1M127 238.5h1m1 0h2m1 0h1m12 0h1m9 0h1m1 0h1m6 0h1m112 0h1m151 0h1m1 0h2m23 0h1m8 0h2M139 239.5h1m3 0h1m14 0h1m2 0h2m122 0h1m1 0h1m15 0h1m14 0h1m4 0h1m108 0h1m1 0h1m28 0h1m5 0h1M127 240.5h1m5 0h1m11 0h2m11 0h1m7 0h1m167 0h1m72 0h1m5 0h1m17 0h1m28 0h1M140 241.5h1m13 0h1m2 0h1m4 0h2m111 0h1m26 0h1m134 0h1m4 0h1m18 0h1m1 0h1M97 242.5h1m47 0h1m3 0h1m10 0h2m113 0h1m22 0h1m135 0h1m29 0h1M97 243.5h1m31 0h1m1 0h1m3 0h1m9 0h1m2 0h1m149 0h1m16 0h1m89 0h2m1 0h1m49 0h1m6 0h1M99 244.5h1m29 0h1m19 0h2m24 0h1m128 0h1m2 0h1m97 0h1m41 0h1m6 0h1m1 0h1m16 0h2M159 245.5h1m14 0h1m101 0h1m24 0h1m146 0h1m9 0h1m5 0h1m10 0h1M99 246.5h1m2 0h1m31 0h1m1 0h1m9 0h1m7 0h1m20 0h1m124 0h1m8 0h1m3 0h1m1 0h1m120 0h1m9 0h1m13 0h1m8 0h1M99 247.5h1m39 0h2m20 0h1m13 0h2m123 0h1m7 0h2m4 0h1m1 0h1m117 0h1m10 0h1m11 0h1m2 0h1M125 248.5h1m7 0h1m5 0h1m12 0h1m101 0h1m51 0h1m5 0h1m123 0h1m9 0h1m16 0h1m3 0h1m1 0h1M130 249.5h1m1 0h1m5 0h1m1 0h1m1 0h1m15 0h1m7 0h1m91 0h1m15 0h1m4 0h1m27 0h1m26 0h1m120 0h1M99 250.5h1m34 0h1m2 0h2m9 0h1m4 0h1m8 0h1m4 0h1m86 0h2m23 0h1m6 0h1m20 0h1m3 0h2m21 0h1m101 0h1M129 251.5h1m13 0h1m4 0h1m7 0h1m104 0h2m7 0h1m28 0h1m8 0h1m12 0h1m112 0h1m17 0h2m2 0h2m10 0h1M134 252.5h1m6 0h2m1 0h1m3 0h1m10 0h1m147 0h1m4 0h1m125 0h1m1 0h1m1 0h1m8 0h1m15 0h1M136 253.5h1m4 0h1m5 0h1m2 0h1m6 0h1m112 0h1m3 0h2m6 0h1m7 0h1m21 0h1m125 0h1m10 0h1m12 0h1m4 0h1M102 254.5h1m27 0h1m1 0h1m11 0h1m16 0h1m112 0h1m30 0h1m128 0h2m20 0h1m5 0h1M128 255.5h1m1 0h1m15 0h1m110 0h1m12 0h1m5 0h1m23 0h1m4 0h1m4 0h1m145 0h1m2 0h1m2 0h1M97 256.5h1m30 0h1m125 0h1m1 0h1m10 0h1m32 0h1M146 257.5h1m11 0h1m146 0h1m130 0h2m13 0h1M127 258.5h1m18 0h1m111 0h1m181 0h1m15 0h1m9 0h1M104 259.5h1m19 0h1m31 0h1m104 0h2m3 0h1m37 0h1m129 0h1m1 0h1M103 260.5h2m1 0h1m17 0h1m10 0h1m5 0h1m116 0h1m7 0h1m142 0h1m24 0h1M100 261.5h2m10 0h1m9 0h1m6 0h1m17 0h1m19 0h1m85 0h1m2 0h1m23 0h1m39 0h1m108 0h1m4 0h1M99 262.5h1m2 0h1m4 0h1m15 0h1m135 0h2m146 0h1m15 0h1m4 0h1m3 0h1M100 263.5h1m4 0h1m7 0h1m4 0h1m18 0h1m1 0h1m13 0h2m98 0h1m1 0h1m9 0h2m22 0h1m13 0h1m8 0h1m109 0h1M107 264.5h1m1 0h1m21 0h1m24 0h1m94 0h1m70 0h1m85 0h1m2 0h1m3 0h1m3 0h1m2 0h1m26 0h1M117 265.5h1m14 0h1m116 0h3m3 0h1m9 0h1m2 0h1m20 0h1m32 0h1m5 0h1m90 0h1M107 266.5h1m13 0h1m18 0h1m32 0h1m1 0h1m80 0h1m10 0h1m1 0h1m135 0h1m13 0h1m2 0h1m2 0h1m4 0h2M102 267.5h1m18 0h1m4 0h1m13 0h1m112 0h1m2 0h1m10 0h1m23 0h1m23 0h1m91 0h1m20 0h1m5 0h1M102 268.5h1m11 0h1m2 0h2m136 0h1m6 0h1m5 0h1m142 0h1m1 0h1M266 269.5h1m40 0h1M435 315.5h1M432 316.5h1m1 0h2M337 317.5h1m1 0h1m110 0h1M435 318.5h1M118 319.5h2m200 0h1M161 320.5h1m266 0h1m10 0h1M432 321.5h1m7 0h1M130 322.5h1m190 0h1m110 0h1m2 0h1m6 0h1m1 0h1M130 323.5h1m190 0h1m104 0h1m10 0h1M429 324.5h2m9 0h1M124 325.5h1m196 0h1m118 0h1M123 326.5h1m1 0h1m4 0h1m147 0h1m4 0h1m37 0h1m107 0h1m10 0h1m1 0h1M130 327.5h1m22 0h1m120 0h1m13 0h2m20 0h2m114 0h1m11 0h1M133 328.5h1m296 0h1M275 329.5h1m8 0h1m26 0h1m108 0h1m15 0h1m21 0h2M134 330.5h1m22 0h1m113 0h1m1 0h1m9 0h1m146 0h1m4 0h2m63 0h2M123 331.5h1m4 0h1m23 0h2m3 0h1m126 0h1m26 0h1m6 0h1m114 0h1m2 0h1M119 332.5h1m3 0h1m8 0h1m29 0h1m118 0h1m1 0h2m29 0h1m1 0h1m2 0h1m105 0h1m6 0h2m2 0h1m3 0h1m2 0h1m1 0h1M127 333.5h1m3 0h2m21 0h1m1 0h1m156 0h1m3 0h2m105 0h1m17 0h1M275 334.5h1m37 0h1m4 0h1m1 0h1m113 0h1m5 0h1M126 335.5h1m1 0h1m5 0h1m23 0h1m104 0h2m10 0h1m43 0h1m113 0h1m9 0h1M120 336.5h1m9 0h1m34 0h1m146 0h1m2 0h1m114 0h1m8 0h1m1 0h1m1 0h1M132 337.5h1m142 0h1m1 0h1m34 0h1m4 0h1m105 0h1m1 0h2m17 0h1m1 0h1m14 0h1M131 338.5h1m19 0h1m272 0h1m14 0h1M151 339.5h1m271 0h2m14 0h1m24 0h1M123 340.5h1m25 0h1m127 0h1m9 0h1m29 0h1m2 0h1m111 0h1m7 0h1m1 0h1m3 0h1m4 0h2m5 0h1M135 341.5h1m115 0h1m21 0h2m2 0h1m7 0h1m122 0h1m23 0h1m1 0h1m29 0h1M127 342.5h1m21 0h1m128 0h1m6 0h1m21 0h1m5 0h1m3 0h1m123 0h1m19 0h1M124 343.5h1m3 0h1m27 0h1m1 0h1m158 0h1m116 0h1M127 344.5h1m5 0h1m167 0h1m129 0h2m27 0h1M121 345.5h1m4 0h1m173 0h1m1 0h1m15 0h1m1 0h1m105 0h1m12 0h2m18 0h1m2 0h1m2 0h1M122 346.5h1m8 0h1m1 0h1m2 0h1m15 0h1m284 0h1m60 0h1M126 347.5h2m24 0h1m155 0h1m123 0h1m8 0h1m56 0h1M131 348.5h1m150 0h1m148 0h1m4 0h1m4 0h1m1 0h2M123 349.5h1m5 0h2m1 0h1m147 0h1m34 0h1m115 0h1m27 0h1M126 350.5h1m4 0h1m152 0h1m157 0h1m2 0h1M122 351.5h1m1 0h1m4 0h1m3 0h1m295 0h1m1 0h1m5 0h1M128 352.5h1m1 0h1m3 0h1m145 0h2m161 0h1M130 353.5h1m152 0h1m15 0h1m135 0h1m2 0h1m1 0h1M133 354.5h1m204 0h1m100 0h1M125 355.5h2m9 0h1m145 0h1m14 0h1m3 0h1m135 0h1M117 356.5h1m1 0h1m175 0h1m2 0h1m122 0h1m6 0h1m10 0h1M130 357.5h1m147 0h1m13 0h1m9 0h1m130 0h1m10 0h1M298 358.5h1m130 0h2m3 0h1m7 0h1M125 359.5h1m1 0h1m3 0h1m4 0h2m5 0h2m137 0h2m11 0h1m134 0h1m11 0h1M127 360.5h1m151 0h1m12 0h2m6 0h3m130 0h1m3 0h1m1 0h1M132 361.5h1m3 0h1m4 0h1m137 0h1m6 0h1m2 0h1m40 0h1m153 0h1M123 362.5h1m3 0h1m3 0h2m18 0h1m135 0h1m1 0h1m5 0h1m31 0h1m104 0h1M123 363.5h1m2 0h2m6 0h1m1 0h1m143 0h1m1 0h1m3 0h1m7 0h1m26 0h1m111 0h1m5 0h1M143 364.5h1m146 0h1m2 0h1m33 0h1m121 0h1M132 365.5h2m9 0h1m176 0h1m1 0h1m9 0h1m98 0h2m2 0h1m2 0h1M122 366.5h1m7 0h1m155 0h1m32 0h1m110 0h1m12 0h1m41 0h1M137 367.5h1m134 0h1m42 0h1m1 0h1m1 0h1m2 0h1m10 0h1m150 0h1m3 0h2M126 368.5h1m6 0h1m1 0h1m156 0h1m1 0h1m27 0h1m105 0h2m8 0h1m31 0h1M119 369.5h1m5 0h1m11 0h1m146 0h3m140 0h1m3 0h1m37 0h1m1 0h1M125 370.5h1m13 0h1m138 0h1m1 0h1m11 0h1m131 0h1m2 0h1m17 0h1m24 0h1m8 0h3m20 0h1M121 371.5h1m16 0h1m1 0h1m14 0h1m128 0h1m46 0h1m1 0h1m90 0h1m5 0h1m10 0h1m3 0h1m23 0h1M121 372.5h1m18 0h1m33 0h1m99 0h1m15 0h1m23 0h1m16 0h1m93 0h1m44 0h1m2 0h1m14 0h1m1 0h1M135 373.5h1m140 0h1m4 0h1m12 0h1m13 0h1m126 0h1m24 0h1m13 0h1m14 0h1M140 374.5h2m134 0h1m9 0h1m187 0h1m11 0h1M124 375.5h1m1 0h1m49 0h1m157 0h1m96 0h1m12 0h1m31 0h1m5 0h1m1 0h1M133 376.5h1m2 0h1m131 0h1m3 0h1m16 0h1m42 0h1m109 0h2m14 0h1m12 0h1m4 0h1M126 377.5h1m2 0h1m3 0h1m13 0h1m13 0h2m127 0h1m140 0h1m30 0h1m13 0h1m2 0h2M126 378.5h1m28 0h1m15 0h2m132 0h2m3 0h1m110 0h1m4 0h1m33 0h1m3 0h1m5 0h1m1 0h3m7 0h1M121 379.5h1m31 0h1m5 0h2m2 0h1m10 0h1m114 0h1m162 0h1m3 0h1m8 0h1m5 0h1m4 0h1m8 0h3M121 380.5h1m14 0h1m2 0h1m14 0h1m2 0h1m6 0h1m1 0h2m96 0h1m41 0h1m24 0h1m4 0h1m75 0h1m5 0h1m1 0h1m1 0h1m1 0h1m5 0h1m6 0h1m19 0h1m1 0h1m1 0h1m7 0h1m3 0h1m10 0h1m1 0h1M137 381.5h1m1 0h1m15 0h1m9 0h1m98 0h1m24 0h1m16 0h1m108 0h1m3 0h1m1 0h1m3 0h1m8 0h2m23 0h1m3 0h1m4 0h1m4 0h1m3 0h1m7 0h1m2 0h1M116 382.5h1m8 0h1m1 0h2m7 0h1m2 0h1m10 0h1m8 0h2m2 0h1m101 0h1m153 0h1m9 0h1m3 0h1m3 0h1m1 0h1m14 0h2m3 0h1m2 0h1m14 0h2m6 0h1M111 383.5h2m24 0h1m29 0h1m6 0h1m258 0h1m51 0h1M114 384.5h1m1 0h1m8 0h1m8 0h1m10 0h1m17 0h1m2 0h1m1 0h1m91 0h3m39 0h1m4 0h1m20 0h1m81 0h1m29 0h1m1 0h1m29 0h1m5 0h2M108 385.5h1m15 0h1m17 0h1m18 0h1m4 0h1m119 0h1m4 0h1m11 0h1m112 0h1m13 0h1m3 0h1m8 0h1m10 0h1m6 0h1m18 0h1M115 386.5h1m21 0h1m16 0h1m5 0h1m3 0h1m4 0h1m90 0h3m42 0h1m106 0h1m51 0h1m5 0h1m5 0h1m4 0h1M142 387.5h3m8 0h1m4 0h1m3 0h2m7 0h1m117 0h2m9 0h1m26 0h1m79 0h1m31 0h1m1 0h1m1 0h1m14 0h1m1 0h1m6 0h1m2 0h2M101 388.5h1m2 0h1m35 0h1m1 0h1m4 0h1m11 0h1m9 0h1m2 0h1m88 0h1m41 0h1m23 0h1m3 0h1m75 0h1m1 0h1m29 0h1m1 0h1m21 0h1m9 0h1M100 389.5h1m58 0h1m2 0h1m95 0h1m1 0h1m25 0h2m123 0h1m31 0h1m3 0h1m3 0h1m1 0h1m1 0h1m3 0h1m4 0h1m8 0h1m5 0h1M106 390.5h1m31 0h1m4 0h1m25 0h1m160 0h1m115 0h1m3 0h1m5 0h1m12 0h1M104 391.5h1m51 0h1m139 0h1m8 0h1m19 0h1m113 0h1m11 0h2m9 0h1m5 0h1m4 0h1m3 0h1M158 392.5h2m127 0h1m7 0h1m1 0h1m144 0h1m7 0h1m1 0h1m18 0h1M137 393.5h1m24 0h1m6 0h1m126 0h1m113 0h1m33 0h1m6 0h1m3 0h1m1 0h1m2 0h3m4 0h2m6 0h1M100 394.5h1m62 0h1m94 0h2m27 0h1m39 0h1m113 0h1m23 0h1M133 395.5h1m1 0h1m2 0h1m1 0h1m21 0h1m1 0h1m91 0h1m28 0h1m15 0h2m19 0h1m6 0h1m112 0h1m8 0h1m7 0h2m4 0h1m1 0h1m1 0h1M100 396.5h1m40 0h1m5 0h1m9 0h1m10 0h1m273 0h1m9 0h1m1 0h1m8 0h1m2 0h1m1 0h1M138 397.5h1m24 0h1m7 0h1m82 0h3m1 0h1m23 0h1m14 0h1m23 0h3m124 0h1m1 0h1m2 0h1m4 0h1m4 0h1m2 0h1m2 0h1M138 398.5h1m4 0h1m16 0h1m140 0h1m155 0h1m3 0h1M135 399.5h1m18 0h1m97 0h1m1 0h1m27 0h1m2 0h1m17 0h1m2 0h1m142 0h1m22 0h1M135 400.5h1m2 0h1m17 0h2m95 0h1m29 0h1m18 0h1m139 0h2M166 401.5h1m129 0h1m5 0h1m8 0h1m6 0h1m134 0h1M100 402.5h1m45 0h1m5 0h1m11 0h1m1 0h1m84 0h2m3 0h1m22 0h1m44 0h1m117 0h2m1 0h1m1 0h1M104 403.5h1m30 0h1m4 0h2m2 0h1m7 0h1m6 0h1m1 0h1m92 0h1m1 0h1m19 0h2m25 0h1m1 0h1m30 0h1m107 0h1m8 0h1m3 0h1M98 404.5h1m35 0h1m13 0h2m2 0h1m9 0h1m116 0h1m1 0h2m24 0h1m135 0h1m4 0h1M98 405.5h1m39 0h1m2 0h1m1 0h1m10 0h1m1 0h1m1 0h1m28 0h1m69 0h1m13 0h1m3 0h1m35 0h1m2 0h1m1 0h1m90 0h1m40 0h2m1 0h1M134 406.5h1m16 0h1m5 0h1m113 0h1m38 0h1m2 0h1m93 0h1m2 0h1m33 0h1m9 0h1M134 407.5h1m115 0h1m2 0h1m55 0h1m2 0h1m4 0h1m89 0h1m41 0h1M136 408.5h1m5 0h1m8 0h1m8 0h1m92 0h1m49 0h1m133 0h1m3 0h1m7 0h1M101 409.5h1m1 0h1m28 0h1m9 0h1m110 0h1m12 0h2m6 0h1m27 0h1M99 410.5h1m5 0h1m23 0h1m126 0h1m17 0h1m132 0h1m2 0h1m24 0h1M103 411.5h1m3 0h1m24 0h1m7 0h1m127 0h1m139 0h1m4 0h1m20 0h1M103 412.5h1m2 0h1m46 0h1m100 0h2m2 0h3m9 0h2m139 0h1m1 0h1m19 0h1M106 413.5h1m1 0h1m16 0h1m6 0h1m11 0h1m121 0h1m3 0h1m5 0h1m19 0h1m1 0h1m117 0h2m11 0h1M107 414.5h1m13 0h1m1 0h1m128 0h1m7 0h2m2 0h1m5 0h1m145 0h2m12 0h1m3 0h1m1 0h2M279 462.5h1m13 0h1M277 465.5h1m5 0h1m3 0h1M277 466.5h1m23 0h1m133 0h1M268 467.5h1m14 0h1m38 0h1m110 0h2m5 0h1m23 0h2M119 468.5h1m156 0h1m3 0h1m11 0h1m29 0h1M147 469.5h1m120 0h1m4 0h1m13 0h1m142 0h1M129 470.5h1m148 0h1m8 0h1m160 0h1M124 471.5h1m22 0h1m132 0h1m40 0h1m109 0h1m3 0h1m12 0h1m3 0h1m19 0h1M124 472.5h1m1 0h1m3 0h1m149 0h1m33 0h1m4 0h1m131 0h1m20 0h1M129 473.5h1m4 0h1m136 0h2m3 0h1m1 0h1m155 0h1m2 0h1m14 0h1M118 474.5h1m7 0h1m195 0h1m104 0h1m4 0h1M118 475.5h1m13 0h1m156 0h1m141 0h1m29 0h1m1 0h1M273 476.5h1m12 0h1m11 0h2m22 0h1m6 0h1m98 0h1m3 0h1m29 0h1M127 477.5h1m150 0h1m35 0h1m1 0h1m1 0h3m105 0h1m39 0h1M136 478.5h1m136 0h2m39 0h1m13 0h1m97 0h1m3 0h1M116 479.5h1m12 0h1m4 0h1m25 0h1m104 0h1m16 0h1m39 0h2m4 0h1m107 0h1M123 480.5h1m1 0h1m10 0h1m136 0h1m28 0h1m11 0h1m15 0h2m93 0h1m1 0h1m4 0h1M134 481.5h1m160 0h2m1 0h1m3 0h1m11 0h1m8 0h1m101 0h1m2 0h1m1 0h1m1 0h1m14 0h1M116 482.5h1m7 0h1m1 0h1m6 0h1m6 0h1m145 0h2m27 0h1m6 0h1m104 0h1m1 0h1m8 0h1m42 0h2M119 483.5h1m150 0h1m23 0h1m133 0h1m1 0h1m1 0h1m4 0h1m2 0h1m18 0h1m3 0h1m1 0h1M126 484.5h1m22 0h1m2 0h1m10 0h1m105 0h3m60 0h1m90 0h1m3 0h1m9 0h1m27 0h1m17 0h1M273 485.5h1m10 0h1m37 0h1m3 0h1m100 0h1m28 0h1M119 486.5h1m2 0h2m7 0h1m6 0h1m12 0h1m8 0h1m109 0h1m15 0h1m15 0h1m10 0h2m7 0h1m106 0h1m7 0h1m37 0h1m12 0h1M135 487.5h1m10 0h1m132 0h1m17 0h1m33 0h1m98 0h1M125 488.5h2m5 0h1m2 0h1m5 0h1m1 0h1m11 0h2m5 0h1m5 0h1m141 0h1m18 0h1m1 0h1m93 0h1m3 0h1m2 0h1m35 0h1M114 489.5h1m4 0h1m23 0h1m7 0h1m2 0h1m2 0h1m10 0h2m121 0h1m6 0h1m32 0h1M123 490.5h3m2 0h1m5 0h2m21 0h1m109 0h1m44 0h2m9 0h1m17 0h1m91 0h1m1 0h2M120 491.5h1m18 0h1m14 0h1m4 0h1m104 0h1m35 0h1m1 0h1m6 0h2m15 0h1m14 0h1m86 0h1m5 0h1M125 492.5h2m162 0h1m6 0h1m10 0h1m3 0h1m13 0h1m109 0h1M126 493.5h1m3 0h1m5 0h1m20 0h1m10 0h1m97 0h1m1 0h1m13 0h1m1 0h1m3 0h1m3 0h1m3 0h1m131 0h1m1 0h1m2 0h1M121 494.5h1m20 0h1m10 0h1m14 0h1m95 0h1m1 0h2m14 0h1m16 0h1m7 0h1m3 0h1m14 0h1m95 0h1m3 0h1m3 0h2M137 495.5h1m4 0h1m12 0h3m9 0h2m114 0h1m29 0h1m1 0h1m104 0h1m3 0h1m1 0h1M122 496.5h1m27 0h3m2 0h1m1 0h1m12 0h2m95 0h1m16 0h1m12 0h1m7 0h3m112 0h1M153 497.5h1m2 0h1m111 0h1m2 0h1m11 0h1m13 0h1m2 0h1m18 0h2m19 0h1m78 0h1m15 0h1M129 498.5h1m2 0h1m18 0h1m138 0h1m14 0h1m8 0h1m12 0h1m97 0h1m9 0h1M123 499.5h1m19 0h1m137 0h2m7 0h1m19 0h1m4 0h1m14 0h1m99 0h1m63 0h1M121 500.5h1m7 0h1m151 0h1m1 0h1m5 0h1m8 0h1m1 0h1m12 0h1m8 0h1m2 0h1m7 0h1m93 0h1m6 0h1M124 501.5h1m20 0h2m8 0h1m1 0h2m1 0h1m1 0h1m104 0h1m2 0h1m8 0h1m12 0h2m23 0h1m4 0h1m4 0h1m1 0h1m92 0h1m11 0h1M121 502.5h1m7 0h1m2 0h1m135 0h1m13 0h1m1 0h1m3 0h1m9 0h1m29 0h1m93 0h1m5 0h1m2 0h1m2 0h1M98 503.5h2m17 0h1m16 0h2m21 0h1m2 0h2m97 0h1m7 0h1m18 0h1m7 0h1m3 0h1m17 0h2m111 0h1m4 0h1m1 0h1m38 0h1m2 0h2m4 0h1M113 504.5h1m13 0h2m5 0h2m6 0h1m135 0h1m1 0h1m10 0h1m5 0h2m1 0h1m1 0h2m2 0h2m15 0h1m6 0h1m89 0h1m50 0h1M137 505.5h1m127 0h1m22 0h1m2 0h1m5 0h1m3 0h1m7 0h2m3 0h1m11 0h1m91 0h2m12 0h1m1 0h1m27 0h1M108 506.5h1m15 0h1m5 0h1m10 0h1m1 0h1m5 0h1m113 0h1m2 0h1m15 0h1m5 0h1m128 0h1m15 0h1m24 0h1m3 0h1m21 0h1M148 507.5h1m2 0h1m103 0h2m19 0h1m1 0h1m19 0h1m6 0h2m108 0h1m16 0h1m41 0h1M109 508.5h1m4 0h1m15 0h1m3 0h1m1 0h1m2 0h1m1 0h1m1 0h1m1 0h1m5 0h2m11 0h1m1 0h1m91 0h1m1 0h1m32 0h1m12 0h1m109 0h3m19 0h1m33 0h1m5 0h1m16 0h1M111 509.5h1m18 0h1m1 0h1m14 0h1m10 0h1m8 0h1m88 0h1m25 0h1m19 0h1m27 0h1m86 0h1m16 0h1m29 0h1m7 0h1m1 0h1m2 0h1m19 0h1M110 510.5h2m1 0h1m1 0h1m24 0h1m10 0h1m2 0h1m107 0h1m18 0h1m1 0h1m2 0h2m2 0h1m177 0h1m3 0h1m25 0h1M97 511.5h1m35 0h1m1 0h1m8 0h1m7 0h1m4 0h1m124 0h1m39 0h1m4 0h1m82 0h1m5 0h1m51 0h2m3 0h1m17 0h1m6 0h1M103 512.5h2m28 0h1m11 0h1m136 0h1m7 0h1m125 0h1m4 0h1m13 0h1m40 0h1m1 0h1m12 0h1M98 513.5h1m10 0h1m25 0h1m7 0h1m150 0h1m9 0h1m16 0h1m1 0h1m113 0h1m25 0h1m1 0h1m3 0h1m1 0h3M102 514.5h1m4 0h1m31 0h1m1 0h1m4 0h1m6 0h1m7 0h1m4 0h1m93 0h1m18 0h1m1 0h1m18 0h1m2 0h2m103 0h1m1 0h1m1 0h1m51 0h1m9 0h1M99 515.5h1m3 0h2m35 0h1m8 0h2m1 0h1m4 0h1m7 0h1m121 0h1m3 0h1m6 0h1m3 0h1m22 0h2m112 0h2m18 0h1m5 0h1m7 0h1m5 0h1m13 0h1M99 516.5h1m38 0h1m2 0h1m4 0h1m145 0h2m10 0h1m17 0h1m1 0h1m84 0h2m2 0h3m62 0h1m8 0h1m5 0h1M138 517.5h1m14 0h2m2 0h1m1 0h1m13 0h1m86 0h1m36 0h2m111 0h1m1 0h1m2 0h1m20 0h1m4 0h1m28 0h1m8 0h1M100 518.5h1m47 0h1m21 0h1m118 0h1m119 0h1m5 0h1m30 0h1m27 0h1M97 519.5h1m38 0h1m5 0h1m1 0h1m31 0h1m102 0h2m7 0h1m15 0h1m21 0h1m81 0h1m3 0h1m2 0h1m13 0h1m6 0h1m4 0h1m2 0h1m7 0h1m13 0h1M137 520.5h1m10 0h1m4 0h1m12 0h1m167 0h2m70 0h1m37 0h1m7 0h1m1 0h1m1 0h1m1 0h1m7 0h1m18 0h1M138 521.5h1m6 0h1m1 0h2m4 0h1m3 0h1m4 0h1m3 0h1m2 0h1m84 0h1m4 0h1m59 0h2m5 0h1m10 0h1m68 0h1m26 0h1m6 0h1m12 0h1m4 0h1m1 0h1m1 0h1m10 0h2m18 0h1M160 522.5h1m97 0h1m20 0h2m17 0h1m3 0h1m23 0h1m1 0h1m7 0h1m69 0h1m33 0h1m1 0h1m9 0h1m2 0h1m16 0h1m10 0h1M138 523.5h1m11 0h1m7 0h1m2 0h1m7 0h1m83 0h1m71 0h1m2 0h1m8 0h1m1 0h1m118 0h1m8 0h1m4 0h1m1 0h1m8 0h1M151 524.5h1m2 0h2m1 0h2m101 0h1m20 0h1m1 0h1m7 0h1m7 0h2m139 0h1m21 0h1m22 0h1m8 0h1M97 525.5h1m53 0h1m2 0h1m8 0h1m2 0h1m92 0h1m21 0h1m1 0h1m38 0h2m110 0h1m17 0h1m1 0h1m14 0h1m5 0h1M136 526.5h1m4 0h1m9 0h1m9 0h1m7 0h1m82 0h1m1 0h1m43 0h1m3 0h1m19 0h1m115 0h1m24 0h1m4 0h1m6 0h1M157 527.5h1m120 0h1m17 0h1m140 0h1m23 0h1m22 0h1m1 0h1m4 0h1M152 528.5h1m16 0h1m1 0h1m81 0h1m42 0h1m6 0h1m17 0h1m108 0h2m17 0h1m8 0h1m4 0h1M138 529.5h1m14 0h1m6 0h1m3 0h1m120 0h1m32 0h1m1 0h1m4 0h1m1 0h1m120 0h1m5 0h1m8 0h1M98 530.5h1m43 0h1m7 0h1m1 0h1m124 0h1m46 0h1m119 0h1m8 0h1m15 0h1M98 531.5h1m35 0h1m16 0h2m128 0h1m20 0h1m23 0h1m106 0h1m8 0h1m2 0h1m16 0h1M136 532.5h1m8 0h1m8 0h1m4 0h1m139 0h1m3 0h1m23 0h1m116 0h1m9 0h2m4 0h1m11 0h1M156 533.5h2m95 0h1m182 0h1m2 0h1m10 0h1m21 0h1m17 0h1M98 534.5h1m47 0h1m1 0h1m2 0h1m126 0h1m9 0h1m6 0h1m6 0h1m17 0h1m114 0h1m9 0h1m31 0h1M137 535.5h1m3 0h1m9 0h1m14 0h1m7 0h1m77 0h1m2 0h1m2 0h1m26 0h1m14 0h1m17 0h2m119 0h1m2 0h2M139 536.5h1m6 0h1m4 0h1m7 0h1m6 0h1m11 0h1m121 0h1m3 0h1m11 0h1m3 0h1m124 0h1m12 0h1m5 0h1m1 0h1M97 537.5h1m34 0h1m16 0h1m16 0h1m88 0h2m40 0h1m7 0h1m4 0h1m6 0h1m1 0h1m134 0h1m2 0h1M143 538.5h1m8 0h1m8 0h1m4 0h1m84 0h1m8 0h1m43 0h1m15 0h1m113 0h1m1 0h1M99 539.5h2m29 0h1m12 0h1m1 0h1m124 0h1m42 0h2m179 0h1M101 540.5h1m1 0h1m23 0h1m7 0h3m114 0h1m6 0h1m11 0h1m164 0h1m9 0h1m20 0h3M108 541.5h1m22 0h1m36 0h1m3 0h1m87 0h1m15 0h1m4 0h1m26 0h1m5 0h1M107 542.5h1m16 0h1m5 0h1m5 0h2m6 0h1m2 0h2m2 0h2m5 0h1m111 0h1m24 0h1m21 0h2m117 0h1m30 0h2M124 543.5h1m2 0h1m4 0h1m25 0h1m110 0h1m2 0h1m29 0h2m3 0h1m27 0h1M103 544.5h1m14 0h1m10 0h1m27 0h1m96 0h1m180 0h1m1 0h1M117 545.5h1m7 0h1m2 0h1m21 0h1m119 0h1m3 0h1m38 0h2m21 0h1m96 0h1M106 546.5h1m3 0h1m7 0h1m8 0h1m16 0h1m107 0h1m3 0h1m14 0h1m57 0h2m130 0h1M116 547.5h2m6 0h1m4 0h1m3 0h1m118 0h1m2 0h1m18 0h1m6 0h1m8 0h1m1 0h1m11 0h1m2 0h1m3 0h2m17 0h1m77 0h1m21 0h1m1 0h1M105 548.5h1m8 0h1m1 0h1m5 0h1m134 0h1m30 0h1m20 0h1m124 0h1M114 549.5h1m1 0h1m8 0h1m4 0h1m5 0h1m123 0h1m4 0h1m1 0h1m40 0h1m31 0h1M112 550.5h1m13 0h1m147 0h1m43 0h1m110 0h1m1 0h2M109 551.5h1m1 0h1m1 0h1m11 0h1m3 0h1m127 0h1m2 0h1m9 0h1m3 0h1m33 0h1m1 0h1m117 0h1M119 552.5h1m13 0h1m119 0h1m1 0h1m1 0h2m59 0h1m114 0h1m46 0h1M105 553.5h1m10 0h1m11 0h1m123 0h1m3 0h1m8 0h1m59 0h1m80 0h1m10 0h2m9 0h1M111 554.5h1m1 0h2m7 0h1m1 0h2m2 0h1m4 0h1m119 0h1m5 0h1m1 0h3m2 0h1m153 0h1m2 0h1m4 0h1m51 0h1M99 555.5h1m1 0h1m26 0h1m131 0h1m8 0h1m41 0h1m12 0h1m81 0h1m4 0h1m18 0h1M109 556.5h1m3 0h1m1 0h2m3 0h1m2 0h2m129 0h2m44 0h1m108 0h1m1 0h1m1 0h1M107 557.5h2m2 0h1m14 0h1m2 0h1m128 0h1m2 0h1m152 0h1m1 0h1m82 0h1M106 558.5h1m4 0h1m1 0h1m4 0h1m140 0h1m13 0h1m149 0h1M115 559.5h1m201 0h1m97 0h1M116 560.5h1m140 0h1m14 0h1" stroke="#aaa" stroke-width="1" fill="none" shape-rendering="crispEdges"/>
<path d="M288 28.5h2M275 30.5h1M270 31.5h1M274 32.5h2m44 0h1M303 33.5h2m2 0h1M305 34.5h1m12 0h1m2 0h1M100 35.5h1m168 0h1M258 36.5h1m6 0h1m148 0h1M260 37.5h1m4 0h1m3 0h1m35 0h1m158 0h2M136 38.5h1m1 0h1m7 0h1m11 0h1m1 0h1m97 0h1m41 0h1m2 0h2m116 0h1m61 0h1M115 39.5h1m2 0h1m17 0h1m7 0h1m1 0h1m126 0h1m7 0h1m16 0h1m114 0h1m2 0h1m47 0h1M126 40.5h1m20 0h2m10 0h1m97 0h1m4 0h1m33 0h1m117 0h1m6 0h1M145 41.5h1m4 0h1m1 0h1m104 0h1m15 0h1m20 0h1m3 0h1m19 0h1m4 0h1m1 0h1m102 0h1m56 0h1M121 42.5h1m8 0h1m149 0h1m1 0h1m36 0h1m1 0h2m126 0h1m13 0h1m5 0h1M104 43.5h1m7 0h1m33 0h1m4 0h1m2 0h1m107 0h1m4 0h1m12 0h1m1 0h1m3 0h1m9 0h1m6 0h2m4 0h1m105 0h1m68 0h2M143 44.5h1m115 0h2m5 0h1m8 0h1m8 0h1m9 0h1m29 0h1m1 0h2m81 0h1m32 0h1m24 0h1m1 0h1M103 45.5h1m48 0h1m8 0h1m97 0h1m35 0h1m27 0h1m3 0h1m79 0h1m26 0h1m25 0h1m2 0h1m3 0h1M100 46.5h1m1 0h1m5 0h1m33 0h1m20 0h2m109 0h1m5 0h1m133 0h1m26 0h1m18 0h1M100 47.5h1m1 0h1m41 0h1m12 0h1m100 0h1m16 0h1m1 0h1m6 0h1m1 0h1m8 0h1m8 0h1m18 0h1M130 48.5h1m9 0h1m23 0h1m9 0h1m81 0h1m1 0h1m2 0h1m9 0h1m14 0h1m12 0h1m25 0h1m117 0h1M132 49.5h1m5 0h1m30 0h1m6 0h1m85 0h1m11 0h1m2 0h1m23 0h1m143 0h1m9 0h1m3 0h1m4 0h1M102 50.5h1m31 0h1m12 0h1m17 0h1m114 0h1m12 0h1m8 0h1m25 0h1m78 0h1m1 0h1m1 0h1m32 0h1m13 0h1m25 0h1M99 51.5h1m48 0h1m133 0h1m50 0h1m125 0h1m2 0h1m1 0h1m3 0h1m12 0h1m3 0h1M103 52.5h1m32 0h1m26 0h1m95 0h1m18 0h1m25 0h2m18 0h1m3 0h1m2 0h1m1 0h1m75 0h1m39 0h1m1 0h1m31 0h1M132 53.5h1m5 0h1m1 0h1m2 0h1m2 0h1m112 0h1m175 0h1m5 0h1m1 0h1m5 0h1m13 0h1M275 54.5h1m20 0h1m1 0h1m2 0h1m23 0h1m117 0h2m1 0h1m11 0h1m8 0h1M157 55.5h1m12 0h1m92 0h1m51 0h1m11 0h1m109 0h1m11 0h1m27 0h1M135 56.5h1m7 0h1m119 0h1m145 0h1m65 0h1M135 57.5h1m4 0h1m2 0h1m11 0h1m140 0h1m25 0h1m5 0h1m78 0h1m49 0h1m12 0h1M140 58.5h1m4 0h1m125 0h1m3 0h2m48 0h1m141 0h1m1 0h1M136 59.5h1m8 0h1m17 0h1m98 0h1m4 0h1m199 0h1M143 60.5h1m15 0h1m2 0h1m94 0h2m9 0h1m5 0h1m1 0h1m16 0h1m23 0h1m8 0h1m6 0h1m104 0h1M136 61.5h1m6 0h1m22 0h1m98 0h1m8 0h1m35 0h2m6 0h2m4 0h1m116 0h1m11 0h1M133 62.5h1m4 0h1m4 0h1m8 0h1m3 0h1m2 0h1m102 0h1m6 0h1m24 0h1m14 0h1m11 0h2m6 0h1m3 0h2m73 0h1m42 0h1m15 0h1M138 63.5h1m2 0h1m7 0h1m3 0h1m5 0h1m9 0h2m11 0h1m80 0h1m3 0h1m9 0h1m2 0h1m19 0h2m11 0h1m1 0h1m92 0h1m30 0h1m1 0h1m9 0h1m17 0h1M100 64.5h1m36 0h1m2 0h1m6 0h1m2 0h1m6 0h1m4 0h1m117 0h1m12 0h1m13 0h2m21 0h1m108 0h1m1 0h1m57 0h1M141 65.5h1m4 0h1m5 0h1m6 0h1m10 0h1m101 0h1m3 0h1m11 0h1m16 0h1m10 0h1m6 0h1m2 0h1m80 0h1m3 0h1m88 0h1M143 66.5h1m6 0h1m16 0h1m122 0h1m18 0h1m15 0h1m149 0h1m22 0h1M130 67.5h1m15 0h2m1 0h1m147 0h1m13 0h1m18 0h1m76 0h1m56 0h1M149 68.5h1m10 0h1m6 0h1m121 0h1m30 0h1m1 0h1m84 0h1m4 0h1m62 0h1M103 69.5h1m1 0h2m179 0h1m27 0h1m5 0h1m117 0h1m3 0h1m21 0h1M103 70.5h1m43 0h1m1 0h1m136 0h1m1 0h1m27 0h1m13 0h1m77 0h1m35 0h2m2 0h1m2 0h1M107 71.5h1m2 0h1m20 0h1m4 0h1m7 0h1m2 0h1m135 0h1m10 0h1m18 0h1m146 0h1m1 0h1M136 72.5h1m11 0h1m149 0h1m16 0h1m129 0h2m13 0h1M135 73.5h1m13 0h1m1 0h1m5 0h1m117 0h1m139 0h1m31 0h4M156 74.5h1m121 0h1m6 0h1m28 0h1m94 0h1m1 0h1m3 0h1M111 75.5h1m22 0h1m28 0h1m110 0h1m3 0h1m30 0h1m1 0h1m97 0h1m32 0h2M155 76.5h1m5 0h1m108 0h1m17 0h1m1 0h1m32 0h1m141 0h2M123 77.5h2m286 0h1m52 0h1m8 0h1M112 78.5h1m27 0h1m6 0h1m1 0h1m134 0h1m41 0h1m1 0h1m114 0h1m14 0h1M117 79.5h1m17 0h1m2 0h1m130 0h1m2 0h1m48 0h2m98 0h1m22 0h1m14 0h1m5 0h1M118 80.5h1m34 0h1m126 0h1m9 0h1m1 0h1m155 0h1m7 0h1M151 81.5h1m1 0h1m110 0h1m1 0h1m4 0h1m16 0h1m1 0h1m177 0h1m1 0h1M104 82.5h1m38 0h1m7 0h1m6 0h1m107 0h1m4 0h1m18 0h1m130 0h1m29 0h1m7 0h1m8 0h1M101 83.5h1m51 0h1m112 0h1m35 0h1m27 0h1m1 0h1M102 84.5h2m6 0h1m28 0h1m19 0h1m4 0h1m99 0h1m25 0h1m18 0h1m15 0h2m127 0h1M105 85.5h1m10 0h1m45 0h1m102 0h1m17 0h2m16 0h1m122 0h1m25 0h1m14 0h1M107 86.5h1m10 0h1m20 0h1m6 0h1m4 0h1m171 0h1m119 0h1m8 0h1m1 0h1m10 0h1M151 87.5h1m172 0h1m120 0h1m4 0h1m5 0h1m9 0h1m12 0h2M111 88.5h1m7 0h1m33 0h1m6 0h1m107 0h1m22 0h1m21 0h1m12 0h1m96 0h1m34 0h1m6 0h1m2 0h1M107 89.5h1m9 0h1m31 0h1m118 0h1m39 0h1m135 0h1m13 0h1m1 0h1m3 0h2M98 90.5h1m15 0h1m2 0h1m33 0h1m8 0h1m11 0h1m1 0h1m89 0h1m24 0h3m17 0h1M99 91.5h1m16 0h1m25 0h1m9 0h2m3 0h1m16 0h1m5 0h1m241 0h1m25 0h2m3 0h1m10 0h2M118 92.5h1m22 0h1m2 0h1m14 0h1m1 0h1m18 0h1m79 0h1m25 0h1m20 0h1m16 0h2m93 0h2m32 0h1M100 93.5h1m5 0h1m32 0h1m15 0h2m111 0h1m17 0h1m41 0h1m1 0h1m91 0h3m19 0h1m3 0h2m7 0h1m29 0h1M102 94.5h1m1 0h1m4 0h1m29 0h1m1 0h1m11 0h1m110 0h1m65 0h1m84 0h1m69 0h1m1 0h1M114 95.5h1m22 0h1m1 0h1m4 0h1m140 0h1m22 0h1m19 0h1m97 0h1m27 0h1M103 96.5h1m10 0h1m31 0h1m112 0h1m168 0h1m21 0h1m5 0h1M152 97.5h1m109 0h2m1 0h1m58 0h1m4 0h1m84 0h1m52 0h2M146 98.5h1m17 0h1m134 0h1m5 0h1m18 0h1m3 0h1m78 0h1m6 0h1m4 0h1m1 0h1m1 0h1m36 0h1M104 99.5h1m15 0h1m25 0h1m107 0h1m36 0h1m7 0h1m158 0h1M157 100.5h1m10 0h1m87 0h2m4 0h1m49 0h1m106 0h1m12 0h1m25 0h2M100 101.5h2m6 0h1m41 0h1m1 0h1m125 0h1m4 0h1m43 0h1m93 0h1m34 0h1m6 0h1m1 0h1M143 102.5h1m8 0h1m103 0h1m2 0h1m8 0h1m142 0h1m53 0h1M102 103.5h1m26 0h1m2 0h1m2 0h1m135 0h1m56 0h1m83 0h1m22 0h1M103 104.5h1m13 0h1m5 0h1m15 0h1m1 0h1m1 0h1m23 0h1m1 0h1m100 0h1m3 0h1m1 0h1m48 0h1m83 0h1m4 0h1m6 0h1M104 105.5h1m14 0h1m13 0h1m9 0h1m2 0h1m161 0h1m1 0h1m8 0h1m2 0h2m85 0h1m1 0h1m12 0h2m6 0h1M104 106.5h1m21 0h3m6 0h1m9 0h1m31 0h1m1 0h1m235 0h1m18 0h1M100 107.5h2m4 0h1m2 0h1m37 0h1m1 0h1m1 0h1m27 0h1m98 0h1m27 0h2m3 0h1m1 0h1m98 0h1m4 0h3M105 108.5h1m6 0h1m15 0h1m12 0h1m1 0h1m5 0h1m1 0h1m126 0h1m51 0h1M107 109.5h1m14 0h1m132 0h1m55 0h1m8 0h1m97 0h1m2 0h1m8 0h1M116 110.5h1m35 0h1m167 0h1m8 0h1m78 0h1m10 0h1m5 0h1m3 0h1m28 0h1M101 111.5h1m1 0h1m19 0h1m30 0h1m105 0h1m1 0h1m1 0h1m50 0h1m4 0h1m10 0h1m90 0h1m4 0h1m3 0h1M104 112.5h1m4 0h1m1 0h2m147 0h1m5 0h1m3 0h1m47 0h1m105 0h1M111 113.5h1m2 0h1m3 0h1m28 0h1m108 0h1m1 0h1M105 114.5h1m15 0h1m3 0h1m143 0h2m47 0h1M117 115.5h1m5 0h1m176 0h1m12 0h2m6 0h1m133 0h1M298 116.5h1m20 0h1m10 0h1M263 117.5h1m51 0h1m138 0h2M265 118.5h1M105 119.5h1m215 0h2M119 120.5h1M120 175.5h1m37 0h1M118 176.5h1m42 0h1M280 177.5h1M130 178.5h1m31 0h1m151 0h1M281 179.5h1M279 180.5h1m35 0h1M127 181.5h2m167 0h1m26 0h1M319 182.5h1m2 0h1m152 0h1M132 183.5h1m146 0h1m1 0h1m134 0h1m1 0h1m55 0h1M111 184.5h1m18 0h1m144 0h1m3 0h1m1 0h1m36 0h1m5 0h1m91 0h1m1 0h1m57 0h1M130 185.5h1m123 0h1m16 0h1m51 0h1m4 0h1m1 0h1m87 0h1m9 0h1m9 0h1m6 0h1m9 0h1M101 186.5h1m1 0h1m10 0h1m18 0h1m133 0h1m10 0h1m133 0h1m8 0h1m9 0h1m25 0h1m17 0h1m1 0h1M286 187.5h1m30 0h1m1 0h1m107 0h1m2 0h1m6 0h1m6 0h2M106 188.5h2m2 0h1m27 0h1m3 0h1m1 0h1m139 0h1m32 0h1m3 0h1m1 0h1m89 0h1m1 0h1m3 0h1m16 0h1m1 0h1m5 0h1M141 189.5h1m125 0h1m17 0h1m150 0h1m1 0h1M106 190.5h1m46 0h1m166 0h1m20 0h1m94 0h1M110 191.5h1m47 0h1m89 0h1m18 0h1m2 0h2m1 0h1m2 0h1m8 0h1m24 0h1m1 0h1m2 0h1m7 0h1m83 0h1M101 192.5h1m6 0h1m203 0h1m5 0h1m5 0h1m85 0h1M249 193.5h1m24 0h1m46 0h1m4 0h1m79 0h1m28 0h1M102 194.5h1m1 0h1m5 0h1m27 0h1m4 0h2m10 0h1m278 0h1m20 0h1M134 195.5h1m133 0h1m17 0h1m31 0h1m1 0h1m86 0h1m41 0h1m11 0h1M147 196.5h1m5 0h1m113 0h1m3 0h1m40 0h1m14 0h1m77 0h1m31 0h1m16 0h1m2 0h1m9 0h1M106 197.5h1m150 0h1m8 0h1m9 0h1m47 0h1m4 0h1m107 0h1m10 0h1m1 0h1m4 0h1m5 0h1M136 198.5h1m8 0h1m21 0h1m118 0h1m20 0h1m2 0h1m94 0h1m33 0h1m16 0h1m2 0h1M110 199.5h1m20 0h1m24 0h1m7 0h1m4 0h1m116 0h1m150 0h1m1 0h1m6 0h1m2 0h1M132 200.5h1m11 0h2m5 0h1m8 0h1m1 0h1m164 0h1m1 0h1M109 201.5h1m23 0h2m14 0h1m3 0h1m8 0h1m270 0h1m2 0h1m5 0h1m3 0h1m16 0h1M126 202.5h1m28 0h1m129 0h1m49 0h1m71 0h1m62 0h1M113 203.5h1m28 0h1m13 0h1m2 0h1m108 0h1m16 0h1m152 0h1m2 0h2m13 0h1m2 0h1m12 0h1M112 204.5h1m10 0h1m13 0h1m10 0h1m1 0h2m4 0h1m3 0h1m251 0h1M110 205.5h1m197 0h1m99 0h1m31 0h1m12 0h1m2 0h1M117 206.5h1m25 0h1m159 0h3m3 0h1m96 0h1m2 0h1m24 0h1m6 0h1m13 0h1m4 0h1m5 0h1M110 207.5h2m18 0h1m17 0h1m1 0h1m115 0h1m138 0h1m2 0h1m14 0h1m38 0h1m1 0h1M114 208.5h1m7 0h1m147 0h1m15 0h1m17 0h1m1 0h1m99 0h1m28 0h1m8 0h1m8 0h1m11 0h1M112 209.5h1m17 0h1m21 0h1m173 0h1m82 0h1m25 0h1m6 0h1M125 210.5h1m159 0h1M113 211.5h1m12 0h1m2 0h1m4 0h1m17 0h1m145 0h1m3 0h1m2 0h1m19 0h1m153 0h1m1 0h1m16 0h1M111 212.5h1m1 0h1m29 0h1m147 0h1m7 0h1m105 0h1m8 0h1m27 0h2M153 213.5h1m105 0h1m3 0h2m19 0h1m16 0h1m2 0h1m106 0h1m43 0h1M259 214.5h1m37 0h2m1 0h1m23 0h2m1 0h1m110 0h1m9 0h1m6 0h1m1 0h1M108 215.5h2m22 0h1m15 0h1m116 0h1m16 0h1m37 0h1m3 0h1m92 0h1m32 0h1M129 216.5h1m10 0h1m3 0h1m136 0h1m5 0h1m7 0h1m29 0h2m84 0h1m4 0h1m22 0h1M108 217.5h2m21 0h1m8 0h1m1 0h1m21 0h1m126 0h1m7 0h1m5 0h1m100 0h1m2 0h1M133 218.5h1m9 0h1m43 0h1m94 0h1m2 0h1m2 0h1m11 0h1m21 0h1m126 0h1M105 219.5h1m4 0h1m53 0h1m119 0h1m9 0h2m8 0h1m20 0h1m86 0h2m33 0h1m1 0h1m27 0h1m5 0h1M260 220.5h1m44 0h1m170 0h1M113 221.5h1m19 0h1m12 0h1m110 0h1m23 0h1m18 0h1m23 0h1m80 0h1m35 0h1m36 0h1m4 0h1m5 0h1M129 222.5h1m34 0h1m96 0h1m72 0h1m76 0h1m29 0h1m31 0h1M110 223.5h1m34 0h1m267 0h1m57 0h1m11 0h1m4 0h1M108 224.5h1m23 0h2m20 0h1m1 0h1m1 0h2m122 0h1m38 0h1m11 0h1m79 0h1m25 0h1m2 0h1m23 0h1m2 0h1m4 0h1m9 0h1M109 225.5h1m39 0h1m4 0h1m125 0h1m17 0h2m172 0h1m1 0h1m7 0h1M129 226.5h1m3 0h1m33 0h1m89 0h2m1 0h1m205 0h1m3 0h1M135 227.5h1m29 0h1m113 0h1m155 0h1M109 228.5h1m19 0h2m33 0h1m92 0h1m22 0h2m15 0h1m140 0h1m37 0h1M128 229.5h2m30 0h1m138 0h1m116 0h1m46 0h1m8 0h1m4 0h1M102 230.5h1m29 0h1m20 0h1m13 0h1m112 0h1m16 0h1m128 0h1m9 0h1m2 0h1m16 0h1m18 0h1m5 0h1M106 231.5h1m14 0h1m12 0h1m1 0h1m4 0h3m3 0h1m14 0h2m92 0h1m23 0h1m127 0h1m3 0h1m3 0h1m41 0h1m3 0h2m28 0h1M103 232.5h1m30 0h1m26 0h1m139 0h1m20 0h2m111 0h1m22 0h1M100 233.5h1m27 0h1m6 0h2m21 0h1m2 0h1m2 0h1m18 0h1m72 0h1m150 0h1m1 0h1m4 0h1m2 0h3m43 0h2m1 0h1m1 0h1m1 0h1M100 234.5h1m38 0h1m22 0h1m96 0h1m18 0h1m43 0h1m95 0h1m4 0h1m12 0h1m20 0h1m12 0h1m4 0h1M129 235.5h1m19 0h1m1 0h1m2 0h1m13 0h1m1 0h1m86 0h1m148 0h1m7 0h1m60 0h1M102 236.5h1m30 0h1m25 0h1m6 0h1m1 0h1m128 0h1m110 0h1m28 0h1M133 237.5h1m21 0h1m101 0h1m62 0h1m85 0h1m45 0h1m16 0h1M131 238.5h1m2 0h1m25 0h1m5 0h1m134 0h1m17 0h1m2 0h1m11 0h1m71 0h1m48 0h1m5 0h1m13 0h1M142 239.5h1m25 0h1m264 0h1m17 0h1m13 0h1m1 0h2m1 0h1m1 0h2M135 240.5h1m21 0h1m97 0h1m20 0h1m8 0h1m1 0h1m7 0h1m19 0h2m117 0h1m5 0h1m1 0h1m12 0h2m19 0h1M156 241.5h1m99 0h1m61 0h1m121 0h1m27 0h1M182 242.5h2m72 0h1m37 0h2m22 0h1m114 0h1m27 0h1m11 0h2M130 243.5h1m2 0h2m2 0h1m11 0h1m10 0h1m5 0h1m135 0h1m11 0h1m92 0h1m24 0h1m1 0h1m1 0h2m10 0h1m6 0h1m8 0h1m10 0h1M137 244.5h1m7 0h2m16 0h1m18 0h2m118 0h1m10 0h1m3 0h1m131 0h1m26 0h1M147 245.5h1m19 0h1m8 0h1m258 0h2m4 0h1m12 0h1m2 0h1m7 0h1M97 246.5h1m37 0h1m3 0h1m11 0h1m7 0h1m114 0h1m27 0h1m11 0h1m3 0h1M128 247.5h1m173 0h1m2 0h1m5 0h1m1 0h1m1 0h1m2 0h1m116 0h2m10 0h1m19 0h1M128 248.5h3m10 0h1m22 0h1m1 0h1m88 0h1m57 0h1m2 0h1m1 0h1m119 0h1M134 249.5h1m4 0h1m3 0h1m17 0h1m2 0h1m149 0h1m121 0h1m29 0h1m1 0h1M132 250.5h1m10 0h1m2 0h1m11 0h1m6 0h1m104 0h1m38 0h1m156 0h1M132 251.5h1m34 0h1m108 0h1m28 0h2m3 0h1m156 0h1M99 252.5h1m38 0h1m12 0h1m9 0h1m1 0h1m141 0h1m7 0h1m127 0h1m20 0h1m2 0h1M129 253.5h1m8 0h1m6 0h1m3 0h1m13 0h1m112 0h1m32 0h2m129 0h1m10 0h1m8 0h1m4 0h1M97 254.5h1m1 0h2m154 0h2m49 0h1m135 0h1m6 0h1m1 0h1m8 0h1M99 255.5h1m45 0h1m3 0h2m117 0h1m37 0h1m2 0h1M130 256.5h1m2 0h1m9 0h2m11 0h1m1 0h1m145 0h1m154 0h1m1 0h1M101 257.5h1m25 0h1m5 0h1m22 0h1m144 0h1m2 0h1m133 0h1m14 0h1M102 258.5h1m26 0h1m11 0h1m2 0h1m111 0h1m45 0h1m127 0h1m3 0h1m1 0h1m14 0h1m6 0h1m5 0h1M100 259.5h1m28 0h2m123 0h1m2 0h1m179 0h1m18 0h1m9 0h1M101 260.5h1m40 0h1m125 0h1m11 0h1m39 0h1M130 261.5h1m23 0h1m13 0h1m85 0h1m12 0h1m10 0h1m43 0h1m82 0h1M101 262.5h1m17 0h1m17 0h1m1 0h1m139 0h1m21 0h1m1 0h1m120 0h1M103 263.5h1m15 0h1m36 0h1m10 0h2m87 0h1m31 0h1m12 0h1m128 0h1m18 0h1M115 264.5h1m4 0h1m8 0h1m28 0h1m246 0h1m4 0h1m1 0h1m38 0h1M101 265.5h1m13 0h2m3 0h1m3 0h1m48 0h1m80 0h1m7 0h1m25 0h1m38 0h1M108 266.5h1m8 0h1m131 0h1m7 0h1m3 0h1m162 0h1M100 267.5h1m10 0h1m1 0h1m10 0h1m140 0h2m1 0h1m20 0h1m38 0h1m79 0h1m4 0h1m1 0h3m2 0h1m5 0h1m3 0h1m5 0h1M115 268.5h1m10 0h1m36 0h1m88 0h1m11 0h1m24 0h1m1 0h1m131 0h1m10 0h1M253 269.5h1m8 0h1m5 0h1M337 316.5h1M319 317.5h2m10 0h1m75 0h1M124 318.5h1m154 0h1m127 0h1m25 0h2M277 319.5h1m41 0h1m106 0h1M160 320.5h1M128 322.5h1m32 0h1m267 0h2M425 323.5h1m4 0h1m11 0h1m1 0h1M428 324.5h1M276 325.5h1m46 0h1m110 0h1M323 326.5h1M154 327.5h1m270 0h1m15 0h1M132 328.5h1m1 0h1m177 0h1m112 0h1M153 329.5h2m155 0h1m126 0h1m1 0h1M119 330.5h1m12 0h2m140 0h2m155 0h1M121 331.5h1m8 0h1m31 0h1m108 0h1m1 0h1m36 0h1m4 0h1m111 0h1m3 0h1m7 0h1m3 0h1m14 0h2M120 332.5h1m5 0h1m28 0h1m4 0h1m121 0h1m30 0h1m7 0h1m106 0h2m5 0h1M121 333.5h1m31 0h1m109 0h2m56 0h1m118 0h2M130 334.5h1m25 0h1m8 0h1m145 0h1M127 335.5h1m3 0h1m4 0h1m2 0h1m17 0h1m153 0h1m113 0h2m13 0h2M164 336.5h1m118 0h1m30 0h1m2 0h1m119 0h1m6 0h1m1 0h1m15 0h1m33 0h1M133 337.5h2m5 0h1m17 0h1m117 0h1m8 0h1m29 0h1m104 0h1m1 0h1m19 0h1m21 0h2M426 338.5h1m11 0h1m24 0h1M278 339.5h1m38 0h1m104 0h1m3 0h1m1 0h1m2 0h1m8 0h1m1 0h1m3 0h1m18 0h1M131 340.5h1m16 0h1m124 0h2m13 0h1m27 0h1m1 0h1m89 0h1m21 0h1m12 0h1m1 0h1m2 0h1M155 341.5h1m119 0h1m44 0h1m89 0h1m18 0h1m13 0h1m1 0h1m17 0h1M131 342.5h1m16 0h1m9 0h1m153 0h1m3 0h1m114 0h2m1 0h1M123 343.5h1m30 0h1m124 0h1m30 0h2m129 0h1m20 0h1M132 344.5h1m187 0h1m116 0h1m27 0h1M123 345.5h1m3 0h1m6 0h1m149 0h1m23 0h1m1 0h2m112 0h1m16 0h1m25 0h1M132 346.5h1m145 0h1m22 0h1m122 0h1m1 0h1m11 0h2m3 0h1M128 347.5h1m3 0h1m149 0h2m23 0h1m143 0h1m1 0h1m5 0h1M277 348.5h1m6 0h1m149 0h1m24 0h1m1 0h1M135 349.5h2m147 0h1m141 0h1m7 0h1m1 0h1m24 0h1M280 350.5h2m142 0h1m15 0h1m2 0h2m2 0h1M126 351.5h1m318 0h1M127 352.5h1m156 0h1m144 0h1m1 0h1M133 353.5h1m143 0h1m3 0h2m55 0h1M131 354.5h1m187 0h1m16 0h1M133 355.5h1m1 0h1m166 0h2m2 0h1M297 356.5h1m1 0h1m7 0h1m114 0h1m9 0h2M118 357.5h1m17 0h1m163 0h1m2 0h1m1 0h1m126 0h1m6 0h1M122 358.5h1m174 0h1m123 0h2m15 0h1M124 359.5h1m4 0h1m2 0h1m8 0h1m156 0h1m132 0h1m8 0h1M123 360.5h1m1 0h1m5 0h1m167 0h1m136 0h1M122 361.5h1m14 0h1m2 0h1m140 0h1m9 0h1m138 0h2M121 362.5h1m6 0h1m1 0h1m149 0h1m4 0h1m6 0h1m7 0h1m25 0h1m103 0h1m10 0h1M137 363.5h1m190 0h1M130 364.5h1m165 0h1M126 365.5h1m4 0h1m148 0h1m46 0h1m1 0h1m107 0h1M284 366.5h1m30 0h1m1 0h1m4 0h1m4 0h1m100 0h1M126 367.5h1m157 0h1m1 0h3m143 0h1M281 368.5h1m45 0h1m107 0h1m1 0h1M291 369.5h1m142 0h1m51 0h1m2 0h1M289 370.5h2m2 0h1m19 0h1m6 0h1m111 0h1m36 0h1m3 0h1m12 0h1m14 0h1M134 371.5h1m301 0h1m5 0h2m16 0h1m10 0h1m17 0h1M135 372.5h1m3 0h1m15 0h1m16 0h1m103 0h1m31 0h1m1 0h1m19 0h1m100 0h1m39 0h2m5 0h1m22 0h2M123 373.5h1m4 0h1m3 0h2m38 0h1m1 0h1m81 0h1m21 0h1m31 0h1m21 0h1m95 0h1m14 0h1m15 0h1m19 0h1M131 374.5h1m7 0h1m36 0h1m98 0h1m34 0h1m162 0h1M123 375.5h1m1 0h1m3 0h1m32 0h1m11 0h1m80 0h1m12 0h1m176 0h1M129 376.5h1m4 0h1m17 0h1m15 0h1m97 0h1m190 0h1m15 0h2m2 0h1M124 377.5h1m9 0h1m1 0h1m130 0h1m44 0h1m131 0h1m15 0h1m12 0h1m11 0h1M124 378.5h1m2 0h1m8 0h1m1 0h1m12 0h1m181 0h1m88 0h1m19 0h1m13 0h1m2 0h1m2 0h1m13 0h1m1 0h1M119 379.5h1m41 0h1m3 0h1m141 0h1m25 0h1m84 0h1m1 0h1m4 0h1m24 0h1m10 0h2m7 0h1m4 0h1m1 0h1m6 0h1m3 0h1M119 380.5h1m32 0h1m18 0h2m93 0h1m154 0h1m28 0h1m1 0h1m2 0h1m10 0h1M162 381.5h1m3 0h1m288 0h1m1 0h1m29 0h1M114 382.5h1m22 0h1m15 0h1m1 0h1m6 0h1m4 0h1m121 0h1m17 0h1m108 0h1m9 0h1m1 0h1m9 0h1m2 0h2m14 0h1m6 0h1m6 0h1m7 0h1M110 383.5h1m23 0h1m12 0h1m141 0h1m123 0h1m44 0h1m1 0h1m9 0h2m2 0h1M118 384.5h1m16 0h1m33 0h2m134 0h1m103 0h1m33 0h1m17 0h1m4 0h1m4 0h1m2 0h1M106 385.5h1m3 0h2m31 0h1m19 0h2m140 0h1m25 0h1m83 0h1m56 0h4M108 386.5h1m3 0h1m26 0h2m3 0h1m146 0h1m37 0h1m79 0h1m27 0h1m20 0h1m2 0h1m15 0h1m5 0h1M100 387.5h1m3 0h1m1 0h1m62 0h1m129 0h1m31 0h1m1 0h1m108 0h1m4 0h1m24 0h1m3 0h1m1 0h2m1 0h1M99 388.5h1m7 0h1m28 0h1m123 0h1m41 0h1m1 0h1m28 0h1m110 0h1m11 0h1m3 0h1m5 0h1m9 0h1M101 389.5h1m38 0h1m17 0h1m141 0h1m109 0h1m35 0h1m13 0h1M166 390.5h2m134 0h1m148 0h1m6 0h1m2 0h1m16 0h1M143 391.5h1m16 0h1m169 0h1m111 0h2m5 0h1m9 0h1m1 0h1m10 0h1M161 392.5h1m8 0h1m86 0h2m29 0h1m155 0h1m2 0h1m7 0h1m1 0h1m2 0h1m4 0h1M259 393.5h1m25 0h1m15 0h2m139 0h1m20 0h1m2 0h1m2 0h1m1 0h1M132 394.5h1m29 0h1m1 0h1m161 0h1m2 0h1M324 395.5h1m130 0h1M99 396.5h1m59 0h1m11 0h1m1 0h1m84 0h1m28 0h1m39 0h1m111 0h1M139 397.5h2m21 0h1m4 0h1m5 0h1m127 0h1m140 0h1m8 0h2m17 0h1M99 398.5h2m67 0h1m2 0h1m81 0h1m45 0h1m2 0h1m138 0h1M137 399.5h1m18 0h1m11 0h1m2 0h1m111 0h1m48 0h1m108 0h1M99 400.5h1m60 0h1m139 0h1m2 0h1m2 0h1m23 0h1m125 0h1M99 401.5h1m43 0h1m1 0h1m5 0h1m8 0h1m122 0h1m161 0h1m1 0h1m24 0h1M103 402.5h1m39 0h1m19 0h1m89 0h1m1 0h1m47 0h1m2 0h1m147 0h1m1 0h1M154 403.5h1m7 0h1m116 0h1m3 0h1m171 0h1M99 404.5h1m33 0h1m25 0h1m4 0h2m21 0h1m220 0h1m32 0h1m4 0h1m10 0h1M145 405.5h1m4 0h1m1 0h1m8 0h1m23 0h1m116 0h1m7 0h1m132 0h1m2 0h1M101 406.5h1m34 0h2m7 0h1m3 0h1m2 0h1m6 0h2m89 0h1m47 0h1m12 0h1m5 0h1m124 0h1m2 0h1m3 0h1m1 0h1M100 407.5h1m214 0h1m119 0h1m4 0h1M99 408.5h2m36 0h1m12 0h1m1 0h1m6 0h1m91 0h1m155 0h1m1 0h1m32 0h1M133 409.5h1m6 0h1m6 0h1m108 0h2m14 0h1m27 0h1m107 0h1m27 0h1m3 0h2M100 410.5h1m41 0h1m6 0h1m104 0h1m2 0h1m11 0h1m2 0h1m33 0h1M135 411.5h1m116 0h1m158 0h1m21 0h1m3 0h1M126 412.5h1m28 0h1m110 0h1m38 0h2m102 0h2m25 0h1M104 413.5h1m28 0h1m11 0h1m7 0h1m118 0h1m162 0h1M112 414.5h1m12 0h1m127 0h1m3 0h1m5 0h1m1 0h1m6 0h1m23 0h1m114 0h1m19 0h1m1 0h1M278 462.5h1M279 464.5h1M435 465.5h1M119 466.5h1m164 0h1m152 0h1m2 0h1m1 0h1M274 467.5h1m167 0h1M120 468.5h1m203 0h1M146 469.5h1m122 0h1m161 0h1m1 0h2M125 470.5h1m324 0h1M126 471.5h1m19 0h1m282 0h1m20 0h1m23 0h1M127 472.5h1m148 0h1m154 0h1m2 0h1m18 0h1m20 0h1M432 473.5h1M127 474.5h1m193 0h1m2 0h1m94 0h1m1 0h1m40 0h1M131 475.5h1m352 0h2M272 476.5h1m156 0h1m7 0h1M123 477.5h2m6 0h1M134 478.5h1m128 0h1m22 0h1m26 0h1m17 0h1m158 0h1M123 479.5h1m1 0h1m6 0h1m130 0h1m10 0h1m23 0h2m17 0h1m119 0h1M272 480.5h1m10 0h1m16 0h1m3 0h1m13 0h1m111 0h1m8 0h1m5 0h1m1 0h1M131 481.5h1m117 0h1m23 0h1m25 0h2m17 0h1m116 0h1m9 0h1M117 482.5h1m1 0h2m21 0h1m171 0h1m120 0h1m3 0h1M117 483.5h1m22 0h1m1 0h1m123 0h1m29 0h1m136 0h1m39 0h2M132 484.5h1m29 0h1m170 0h1m91 0h1m6 0h1m6 0h1m16 0h1m5 0h1m18 0h1m5 0h2M146 485.5h1m5 0h1m115 0h1m26 0h1m35 0h1m91 0h1m39 0h1m9 0h1M139 486.5h1m16 0h1m6 0h1m104 0h1m43 0h1m5 0h1m6 0h1m6 0h1m92 0h2m1 0h1m58 0h1M145 487.5h1m13 0h1m2 0h1m106 0h1m21 0h1m37 0h1M138 488.5h1m19 0h1m7 0h1m145 0h1m121 0h1m32 0h1M132 489.5h1m22 0h1m4 0h1m108 0h1m20 0h1m5 0h1m17 0h1m21 0h1m89 0h1M122 490.5h1m14 0h1m1 0h1m157 0h1m4 0h1m8 0h1m114 0h1m7 0h1m2 0h1m29 0h2M121 491.5h1m15 0h1m30 0h2m118 0h1m3 0h1m27 0h1M124 492.5h1m9 0h1m132 0h3m17 0h1m18 0h1m3 0h1m1 0h1m123 0h1M122 493.5h1m2 0h1m9 0h1m1 0h1m18 0h1m107 0h1m24 0h1m1 0h1m20 0h1m111 0h1m10 0h1M124 494.5h1m26 0h1m2 0h1m15 0h1m97 0h1m32 0h1m4 0h1m1 0h1m24 0h1M153 495.5h1m111 0h1m33 0h1m12 0h1m18 0h1m106 0h1M127 496.5h1m167 0h1m120 0h2m6 0h1m2 0h1m12 0h1M139 497.5h1m14 0h1m12 0h2m95 0h1m5 0h1m13 0h1m42 0h1m1 0h1M122 498.5h1m2 0h1m9 0h1m3 0h1m10 0h1m155 0h1m6 0h1m15 0h1m86 0h2m9 0h1M153 499.5h1m8 0h2m103 0h1m27 0h1m126 0h1m73 0h1M152 500.5h1m116 0h1m29 0h1m1 0h1m26 0h1m3 0h1m6 0h1m81 0h1m6 0h3m5 0h1m57 0h1m1 0h1M118 501.5h1m14 0h1m22 0h1m6 0h1m118 0h1m4 0h1m24 0h1m25 0h1m79 0h1m2 0h1m14 0h1m38 0h1M117 502.5h1m7 0h2m27 0h1m130 0h1m21 0h1m7 0h1m13 0h2m1 0h2m4 0h1m1 0h1m75 0h1m1 0h1m46 0h1M119 503.5h1m2 0h1m2 0h2m10 0h1m14 0h1m2 0h2m127 0h1m10 0h1m16 0h1m20 0h1m84 0h1m57 0h1M114 504.5h1m3 0h1m4 0h1m2 0h1m10 0h1m5 0h1m122 0h1m12 0h1m25 0h1m23 0h1m1 0h1m101 0h1m38 0h1m3 0h1M118 505.5h1m1 0h1m14 0h1m5 0h1m5 0h1m108 0h1m6 0h1m2 0h1m12 0h1m5 0h3m15 0h1m1 0h1m9 0h1m108 0h1m8 0h1m1 0h1m28 0h1M113 506.5h2m3 0h1m17 0h1m142 0h1m1 0h1m16 0h1m1 0h1m115 0h1m47 0h1m6 0h1m2 0h1m2 0h1M111 507.5h2m4 0h1m11 0h2m10 0h1m7 0h1m15 0h1m131 0h1m10 0h1m14 0h1m109 0h2m11 0h1m25 0h1m24 0h1M249 508.5h1m6 0h1m25 0h1m14 0h1m138 0h1m7 0h1m29 0h1M114 509.5h1m19 0h1m1 0h1m16 0h1m104 0h1m1 0h1m3 0h2m31 0h1m1 0h1m23 0h1m90 0h1m23 0h1m6 0h1m50 0h1M132 510.5h1m11 0h2m12 0h1m1 0h1m6 0h1m81 0h1m44 0h1m6 0h1m25 0h1m1 0h1m80 0h1m23 0h1m35 0h1m3 0h1M111 511.5h1m24 0h1m19 0h1m135 0h1m36 0h1m82 0h1m1 0h1m23 0h1m33 0h1m5 0h1m10 0h1M105 512.5h1m2 0h1m33 0h1m3 0h1m323 0h1m3 0h1M99 513.5h1m1 0h1m6 0h1m22 0h1m29 0h1m131 0h1m7 0h2m23 0h2m85 0h1m63 0h1m11 0h1M101 514.5h1m36 0h1m3 0h1m2 0h1m4 0h1m144 0h1m29 0h1m140 0h1m8 0h1M154 515.5h1m12 0h1m118 0h1m36 0h1m3 0h1m79 0h1m49 0h1m16 0h1m2 0h1m17 0h1M139 516.5h1m21 0h1m4 0h1m117 0h1m5 0h1m9 0h1m106 0h1m66 0h1m1 0h1m3 0h1m14 0h1M98 517.5h1m40 0h1m46 0h1m98 0h3m3 0h1m9 0h1m20 0h1m114 0h1m4 0h1m3 0h1M158 518.5h1m6 0h1m3 0h1m118 0h1m118 0h1m4 0h1m7 0h1m23 0h1m28 0h1m11 0h1M143 519.5h1m6 0h1m12 0h1m11 0h1m114 0h1m146 0h1m4 0h1m25 0h2m2 0h1m1 0h1M147 520.5h1m21 0h2m9 0h1m102 0h1m5 0h1m13 0h2m17 0h1m161 0h1M161 521.5h1m13 0h2m5 0h1m70 0h1m29 0h1m39 0h2m4 0h1m112 0h1m13 0h1M134 522.5h1m12 0h2m5 0h1m127 0h1m13 0h1m2 0h2m33 0h2m124 0h1m1 0h1m11 0h1m6 0h1M97 523.5h1m70 0h1m129 0h1m27 0h1m113 0h1m11 0h1m1 0h1m15 0h1M99 524.5h1m40 0h1m21 0h1m7 0h1m88 0h1m33 0h1m7 0h1m20 0h1m1 0h1m107 0h1m5 0h1m13 0h1m1 0h1M135 525.5h1m5 0h1m18 0h1m3 0h1m89 0h1m36 0h1m1 0h1m31 0h1m106 0h1m38 0h1m5 0h1m7 0h2M99 526.5h1m49 0h1m107 0h1m21 0h2m20 0h1m21 0h1m1 0h1m111 0h1m31 0h1M134 527.5h1m4 0h1m12 0h1m100 0h1m3 0h1m64 0h1m111 0h2m3 0h1m13 0h2m8 0h1m25 0h1M142 528.5h1m13 0h1m2 0h1m4 0h1m3 0h1m86 0h1m23 0h1m45 0h1m1 0h1m110 0h1m26 0h1m2 0h1m22 0h1M141 529.5h1m4 0h1m3 0h1m5 0h1m96 0h1m25 0h1m23 0h1m151 0h1M258 530.5h1m61 0h1m6 0h1m132 0h2m8 0h1M149 531.5h1m103 0h1m74 0h1m112 0h1m1 0h1m4 0h1M98 532.5h1m38 0h1m14 0h1m9 0h1m91 0h1m42 0h1m21 0h1m130 0h1m6 0h2m3 0h1M136 533.5h1m2 0h1m1 0h3m108 0h1m47 0h1m1 0h1m19 0h1m129 0h1m12 0h1M147 534.5h1m7 0h1m4 0h1m2 0h1m130 0h1m5 0h1m17 0h2m2 0h1m111 0h1m3 0h1m15 0h1m2 0h2m17 0h1M98 535.5h1m34 0h1m8 0h1m10 0h1m18 0h1m129 0h1m151 0h2m2 0h1m5 0h1m1 0h1M98 536.5h1m34 0h2m7 0h1m4 0h1m24 0h1m1 0h1m80 0h1m38 0h2m1 0h1m7 0h1m138 0h1m15 0h1m16 0h1M137 537.5h1m2 0h1m22 0h1m94 0h1m40 0h1m159 0h1M98 538.5h1m4 0h1m31 0h1m1 0h1m6 0h1m5 0h1m103 0h1m13 0h1m33 0h1m154 0h1m1 0h1m2 0h1m2 0h1M98 539.5h1m35 0h1m24 0h1m2 0h1m106 0h1m50 0h1m143 0h1M145 540.5h1m2 0h1m2 0h1m6 0h1m9 0h1m132 0h1m13 0h1m141 0h1m7 0h1M107 541.5h1m62 0h1m104 0h1m24 0h1m164 0h1M145 542.5h1m11 0h1m111 0h1m41 0h1M134 543.5h2m24 0h1m112 0h1m2 0h1m28 0h1m129 0h1M102 544.5h1m5 0h1m14 0h1m20 0h1m11 0h1m115 0h1m44 0h1M122 545.5h1m4 0h1m2 0h1m11 0h1m1 0h1m109 0h1m20 0h1m35 0h2m3 0h1m20 0h1m93 0h1m4 0h1M107 546.5h3m32 0h1m110 0h2m3 0h1m57 0h1m90 0h1M132 547.5h1m123 0h1m18 0h1m29 0h1m3 0h1m97 0h1M121 548.5h1m8 0h1m159 0h1m1 0h1m13 0h1m100 0h1M108 549.5h2m17 0h1m4 0h2m123 0h1m46 0h3m12 0h1m89 0h1M114 550.5h1m1 0h1m4 0h1m134 0h1m53 0h1m9 0h1m112 0h1M114 551.5h1m138 0h1m10 0h1m6 0h1m154 0h1M259 552.5h2m151 0h1m19 0h1m46 0h1M122 553.5h1m131 0h1m4 0h1m10 0h2m55 0h1M99 554.5h1m1 0h1m21 0h1m136 0h1m4 0h1m59 0h1m85 0h2m18 0h1m47 0h1M110 555.5h3m4 0h1m12 0h1m131 0h2m1 0h1m143 0h1m5 0h1m11 0h1m1 0h1m1 0h1M114 556.5h1m13 0h1m129 0h1m2 0h1m154 0h1m10 0h1M113 557.5h1m6 0h1m3 0h1m304 0h3M124 558.5h1m1 0h1m147 0h1M119 559.5h1m161 0h1M258 560.5h1m39 0h1M250 561.5h1" stroke="#d4d4d4" stroke-width="1" fill="none" shape-rendering="crispEdges"/>
<line x1="96.5" y1="26.0" x2="96.5" y2="122.0" stroke="#222" stroke-width="1"/>
<line x1="189.5" y1="26.0" x2="189.5" y2="122.0" stroke="#666" stroke-width="1"/>
<line x1="96.5" y1="26.5" x2="189.5" y2="26.5" stroke="#222" stroke-width="1"/>
<line x1="96.5" y1="121.5" x2="189.5" y2="121.5" stroke="#222" stroke-width="1"/>
<line x1="136.5" y1="26.5" x2="136.5" y2="121.5" stroke="#111" stroke-width="1"/>
<line x1="96.5" y1="72.5" x2="189.5" y2="72.5" stroke="#111" stroke-width="1"/>
<line x1="97.5" y1="121.5" x2="97.5" y2="126.0" stroke="#111" stroke-width="1"/>
<line x1="104.5" y1="121.5" x2="104.5" y2="124.0" stroke="#111" stroke-width="1"/>
<line x1="108.5" y1="121.5" x2="108.5" y2="124.0" stroke="#111" stroke-width="1"/>
<line x1="111.5" y1="121.5" x2="111.5" y2="124.0" stroke="#111" stroke-width="1"/>
<line x1="113.5" y1="121.5" x2="113.5" y2="124.0" stroke="#111" stroke-width="1"/>
<line x1="115.5" y1="121.5" x2="115.5" y2="124.0" stroke="#111" stroke-width="1"/>
<line x1="117.5" y1="121.5" x2="117.5" y2="124.0" stroke="#111" stroke-width="1"/>
<line x1="118.5" y1="121.5" x2="118.5" y2="124.0" stroke="#111" stroke-width="1"/>
<line x1="119.5" y1="121.5" x2="119.5" y2="124.0" stroke="#111" stroke-width="1"/>
<line x1="120.5" y1="121.5" x2="120.5" y2="126.0" stroke="#111" stroke-width="1"/>
<line x1="127.5" y1="121.5" x2="127.5" y2="124.0" stroke="#111" stroke-width="1"/>
<line x1="131.5" y1="121.5" x2="131.5" y2="124.0" stroke="#111" stroke-width="1"/>
<line x1="134.5" y1="121.5" x2="134.5" y2="124.0" stroke="#111" stroke-width="1"/>
<line x1="137.5" y1="121.5" x2="137.5" y2="124.0" stroke="#111" stroke-width="1"/>
<line x1="138.5" y1="121.5" x2="138.5" y2="124.0" stroke="#111" stroke-width="1"/>
<line x1="140.5" y1="121.5" x2="140.5" y2="124.0" stroke="#111" stroke-width="1"/>
<line x1="141.5" y1="121.5" x2="141.5" y2="124.0" stroke="#111" stroke-width="1"/>
<line x1="142.5" y1="121.5" x2="142.5" y2="124.0" stroke="#111" stroke-width="1"/>
<line x1="144.5" y1="121.5" x2="144.5" y2="126.0" stroke="#111" stroke-width="1"/>
<line x1="150.5" y1="121.5" x2="150.5" y2="124.0" stroke="#111" stroke-width="1"/>
<line x1="155.5" y1="121.5" x2="155.5" y2="124.0" stroke="#111" stroke-width="1"/>
<line x1="157.5" y1="121.5" x2="157.5" y2="124.0" stroke="#111" stroke-width="1"/>
<line x1="160.5" y1="121.5" x2="160.5" y2="124.0" stroke="#111" stroke-width="1"/>
<line x1="162.5" y1="121.5" x2="162.5" y2="124.0" stroke="#111" stroke-width="1"/>
<line x1="163.5" y1="121.5" x2="163.5" y2="124.0" stroke="#111" stroke-width="1"/>
<line x1="164.5" y1="121.5" x2="164.5" y2="124.0" stroke="#111" stroke-width="1"/>
<line x1="166.5" y1="121.5" x2="166.5" y2="124.0" stroke="#111" stroke-width="1"/>
<line x1="167.5" y1="121.5" x2="167.5" y2="126.0" stroke="#111" stroke-width="1"/>
<line x1="174.5" y1="121.5" x2="174.5" y2="124.0" stroke="#111" stroke-width="1"/>
<line x1="178.5" y1="121.5" x2="178.5" y2="124.0" stroke="#111" stroke-width="1"/>
<line x1="181.5" y1="121.5" x2="181.5" y2="124.0" stroke="#111" stroke-width="1"/>
<line x1="183.5" y1="121.5" x2="183.5" y2="124.0" stroke="#111" stroke-width="1"/>
<line x1="185.5" y1="121.5" x2="185.5" y2="124.0" stroke="#111" stroke-width="1"/>
<line x1="186.5" y1="121.5" x2="186.5" y2="124.0" stroke="#111" stroke-width="1"/>
<line x1="188.5" y1="121.5" x2="188.5" y2="124.0" stroke="#111" stroke-width="1"/>
<line x1="189.5" y1="121.5" x2="189.5" y2="124.0" stroke="#111" stroke-width="1"/>
<line x1="188.9" y1="121.4" x2="188.9" y2="125.9" stroke="#222" stroke-width="1"/>
<line x1="91.5" y1="120.5" x2="96.5" y2="120.5" stroke="#111" stroke-width="1"/>
<line x1="93.9" y1="112.5" x2="96.5" y2="112.5" stroke="#111" stroke-width="1"/>
<line x1="93.9" y1="107.5" x2="96.5" y2="107.5" stroke="#111" stroke-width="1"/>
<line x1="93.9" y1="103.5" x2="96.5" y2="103.5" stroke="#111" stroke-width="1"/>
<line x1="93.9" y1="101.5" x2="96.5" y2="101.5" stroke="#111" stroke-width="1"/>
<line x1="93.9" y1="99.5" x2="96.5" y2="99.5" stroke="#111" stroke-width="1"/>
<line x1="93.9" y1="97.5" x2="96.5" y2="97.5" stroke="#111" stroke-width="1"/>
<line x1="93.9" y1="95.5" x2="96.5" y2="95.5" stroke="#111" stroke-width="1"/>
<line x1="93.9" y1="94.5" x2="96.5" y2="94.5" stroke="#111" stroke-width="1"/>
<line x1="91.5" y1="92.5" x2="96.5" y2="92.5" stroke="#111" stroke-width="1"/>
<line x1="93.9" y1="84.5" x2="96.5" y2="84.5" stroke="#111" stroke-width="1"/>
<line x1="93.9" y1="79.5" x2="96.5" y2="79.5" stroke="#111" stroke-width="1"/>
<line x1="93.9" y1="76.5" x2="96.5" y2="76.5" stroke="#111" stroke-width="1"/>
<line x1="93.9" y1="73.5" x2="96.5" y2="73.5" stroke="#111" stroke-width="1"/>
<line x1="93.9" y1="71.5" x2="96.5" y2="71.5" stroke="#111" stroke-width="1"/>
<line x1="93.9" y1="69.5" x2="96.5" y2="69.5" stroke="#111" stroke-width="1"/>
<line x1="93.9" y1="68.5" x2="96.5" y2="68.5" stroke="#111" stroke-width="1"/>
<line x1="93.9" y1="66.5" x2="96.5" y2="66.5" stroke="#111" stroke-width="1"/>
<line x1="91.5" y1="65.5" x2="96.5" y2="65.5" stroke="#111" stroke-width="1"/>
<line x1="93.9" y1="57.5" x2="96.5" y2="57.5" stroke="#111" stroke-width="1"/>
<line x1="93.9" y1="52.5" x2="96.5" y2="52.5" stroke="#111" stroke-width="1"/>
<line x1="93.9" y1="49.5" x2="96.5" y2="49.5" stroke="#111" stroke-width="1"/>
<line x1="93.9" y1="46.5" x2="96.5" y2="46.5" stroke="#111" stroke-width="1"/>
<line x1="93.9" y1="44.5" x2="96.5" y2="44.5" stroke="#111" stroke-width="1"/>
<line x1="93.9" y1="42.5" x2="96.5" y2="42.5" stroke="#111" stroke-width="1"/>
<line x1="93.9" y1="40.5" x2="96.5" y2="40.5" stroke="#111" stroke-width="1"/>
<line x1="93.9" y1="39.5" x2="96.5" y2="39.5" stroke="#111" stroke-width="1"/>
<line x1="91.5" y1="38.5" x2="96.5" y2="38.5" stroke="#111" stroke-width="1"/>
<line x1="93.9" y1="29.5" x2="96.5" y2="29.5" stroke="#111" stroke-width="1"/>
<text x="101.9" y="37.8" font-size="12" font-weight="bold" fill="#000">59</text>
<text x="189.3" y="36.6" font-size="12" font-weight="bold" text-anchor="end" fill="#000">8.5</text>
<text x="87.2" y="140.6" font-size="11" fill="#111">10</text>
<text x="101.1" y="135.7" font-size="10.3" fill="#111">0</text>
<text x="178.0" y="140.6" font-size="11" fill="#111">10</text>
<text x="191.3" y="135.7" font-size="10.3" fill="#111">4</text>
<line x1="247.5" y1="26.0" x2="247.5" y2="122.0" stroke="#222" stroke-width="1"/>
<line x1="343.5" y1="26.0" x2="343.5" y2="122.0" stroke="#666" stroke-width="1"/>
<line x1="247.5" y1="26.5" x2="343.5" y2="26.5" stroke="#222" stroke-width="1"/>
<line x1="247.5" y1="121.5" x2="343.5" y2="121.5" stroke="#222" stroke-width="1"/>
<line x1="286.5" y1="26.5" x2="286.5" y2="121.5" stroke="#111" stroke-width="1"/>
<line x1="247.5" y1="68.5" x2="343.5" y2="68.5" stroke="#111" stroke-width="1"/>
<line x1="248.5" y1="121.5" x2="248.5" y2="126.0" stroke="#111" stroke-width="1"/>
<line x1="255.5" y1="121.5" x2="255.5" y2="124.0" stroke="#111" stroke-width="1"/>
<line x1="259.5" y1="121.5" x2="259.5" y2="124.0" stroke="#111" stroke-width="1"/>
<line x1="262.5" y1="121.5" x2="262.5" y2="124.0" stroke="#111" stroke-width="1"/>
<line x1="265.5" y1="121.5" x2="265.5" y2="124.0" stroke="#111" stroke-width="1"/>
<line x1="267.5" y1="121.5" x2="267.5" y2="124.0" stroke="#111" stroke-width="1"/>
<line x1="268.5" y1="121.5" x2="268.5" y2="124.0" stroke="#111" stroke-width="1"/>
<line x1="270.5" y1="121.5" x2="270.5" y2="124.0" stroke="#111" stroke-width="1"/>
<line x1="271.5" y1="121.5" x2="271.5" y2="124.0" stroke="#111" stroke-width="1"/>
<line x1="272.5" y1="121.5" x2="272.5" y2="126.0" stroke="#111" stroke-width="1"/>
<line x1="279.5" y1="121.5" x2="279.5" y2="124.0" stroke="#111" stroke-width="1"/>
<line x1="283.5" y1="121.5" x2="283.5" y2="124.0" stroke="#111" stroke-width="1"/>
<line x1="286.5" y1="121.5" x2="286.5" y2="124.0" stroke="#111" stroke-width="1"/>
<line x1="289.5" y1="121.5" x2="289.5" y2="124.0" stroke="#111" stroke-width="1"/>
<line x1="291.5" y1="121.5" x2="291.5" y2="124.0" stroke="#111" stroke-width="1"/>
<line x1="292.5" y1="121.5" x2="292.5" y2="124.0" stroke="#111" stroke-width="1"/>
<line x1="294.5" y1="121.5" x2="294.5" y2="124.0" stroke="#111" stroke-width="1"/>
<line x1="295.5" y1="121.5" x2="295.5" y2="124.0" stroke="#111" stroke-width="1"/>
<line x1="296.5" y1="121.5" x2="296.5" y2="126.0" stroke="#111" stroke-width="1"/>
<line x1="303.5" y1="121.5" x2="303.5" y2="124.0" stroke="#111" stroke-width="1"/>
<line x1="307.5" y1="121.5" x2="307.5" y2="124.0" stroke="#111" stroke-width="1"/>
<line x1="310.5" y1="121.5" x2="310.5" y2="124.0" stroke="#111" stroke-width="1"/>
<line x1="313.5" y1="121.5" x2="313.5" y2="124.0" stroke="#111" stroke-width="1"/>
<line x1="315.5" y1="121.5" x2="315.5" y2="124.0" stroke="#111" stroke-width="1"/>
<line x1="316.5" y1="121.5" x2="316.5" y2="124.0" stroke="#111" stroke-width="1"/>
<line x1="318.5" y1="121.5" x2="318.5" y2="124.0" stroke="#111" stroke-width="1"/>
<line x1="319.5" y1="121.5" x2="319.5" y2="124.0" stroke="#111" stroke-width="1"/>
<line x1="320.5" y1="121.5" x2="320.5" y2="126.0" stroke="#111" stroke-width="1"/>
<line x1="327.5" y1="121.5" x2="327.5" y2="124.0" stroke="#111" stroke-width="1"/>
<line x1="331.5" y1="121.5" x2="331.5" y2="124.0" stroke="#111" stroke-width="1"/>
<line x1="334.5" y1="121.5" x2="334.5" y2="124.0" stroke="#111" stroke-width="1"/>
<line x1="337.5" y1="121.5" x2="337.5" y2="124.0" stroke="#111" stroke-width="1"/>
<line x1="339.5" y1="121.5" x2="339.5" y2="124.0" stroke="#111" stroke-width="1"/>
<line x1="340.5" y1="121.5" x2="340.5" y2="124.0" stroke="#111" stroke-width="1"/>
<line x1="342.5" y1="121.5" x2="342.5" y2="124.0" stroke="#111" stroke-width="1"/>
<line x1="343.5" y1="121.5" x2="343.5" y2="124.0" stroke="#111" stroke-width="1"/>
<line x1="343.0" y1="121.3" x2="343.0" y2="125.8" stroke="#222" stroke-width="1"/>
<line x1="242.5" y1="120.5" x2="247.5" y2="120.5" stroke="#111" stroke-width="1"/>
<line x1="244.9" y1="111.5" x2="247.5" y2="111.5" stroke="#111" stroke-width="1"/>
<line x1="244.9" y1="105.5" x2="247.5" y2="105.5" stroke="#111" stroke-width="1"/>
<line x1="244.9" y1="102.5" x2="247.5" y2="102.5" stroke="#111" stroke-width="1"/>
<line x1="244.9" y1="99.5" x2="247.5" y2="99.5" stroke="#111" stroke-width="1"/>
<line x1="244.9" y1="96.5" x2="247.5" y2="96.5" stroke="#111" stroke-width="1"/>
<line x1="244.9" y1="94.5" x2="247.5" y2="94.5" stroke="#111" stroke-width="1"/>
<line x1="244.9" y1="93.5" x2="247.5" y2="93.5" stroke="#111" stroke-width="1"/>
<line x1="244.9" y1="91.5" x2="247.5" y2="91.5" stroke="#111" stroke-width="1"/>
<line x1="242.5" y1="90.5" x2="247.5" y2="90.5" stroke="#111" stroke-width="1"/>
<line x1="244.9" y1="81.5" x2="247.5" y2="81.5" stroke="#111" stroke-width="1"/>
<line x1="244.9" y1="75.5" x2="247.5" y2="75.5" stroke="#111" stroke-width="1"/>
<line x1="244.9" y1="72.5" x2="247.5" y2="72.5" stroke="#111" stroke-width="1"/>
<line x1="244.9" y1="69.5" x2="247.5" y2="69.5" stroke="#111" stroke-width="1"/>
<line x1="244.9" y1="66.5" x2="247.5" y2="66.5" stroke="#111" stroke-width="1"/>
<line x1="244.9" y1="64.5" x2="247.5" y2="64.5" stroke="#111" stroke-width="1"/>
<line x1="244.9" y1="63.5" x2="247.5" y2="63.5" stroke="#111" stroke-width="1"/>
<line x1="244.9" y1="61.5" x2="247.5" y2="61.5" stroke="#111" stroke-width="1"/>
<line x1="242.5" y1="60.5" x2="247.5" y2="60.5" stroke="#111" stroke-width="1"/>
<line x1="244.9" y1="51.5" x2="247.5" y2="51.5" stroke="#111" stroke-width="1"/>
<line x1="244.9" y1="45.5" x2="247.5" y2="45.5" stroke="#111" stroke-width="1"/>
<line x1="244.9" y1="42.5" x2="247.5" y2="42.5" stroke="#111" stroke-width="1"/>
<line x1="244.9" y1="39.5" x2="247.5" y2="39.5" stroke="#111" stroke-width="1"/>
<line x1="244.9" y1="36.5" x2="247.5" y2="36.5" stroke="#111" stroke-width="1"/>
<line x1="244.9" y1="34.5" x2="247.5" y2="34.5" stroke="#111" stroke-width="1"/>
<line x1="244.9" y1="33.5" x2="247.5" y2="33.5" stroke="#111" stroke-width="1"/>
<line x1="244.9" y1="31.5" x2="247.5" y2="31.5" stroke="#111" stroke-width="1"/>
<line x1="242.5" y1="30.5" x2="247.5" y2="30.5" stroke="#111" stroke-width="1"/>
<text x="249.2" y="35.3" font-size="12" font-weight="bold" fill="#000">15</text>
<text x="338.5" y="35.8" font-size="12" font-weight="bold" text-anchor="end" fill="#000">30</text>
<text x="238.1" y="140.5" font-size="11" fill="#111">10</text>
<text x="252.0" y="135.6" font-size="10.3" fill="#111">0</text>
<text x="332.1" y="140.5" font-size="11" fill="#111">10</text>
<text x="345.4" y="135.6" font-size="10.3" fill="#111">4</text>
<line x1="405.5" y1="24.0" x2="405.5" y2="121.0" stroke="#222" stroke-width="1"/>
<line x1="503.5" y1="24.0" x2="503.5" y2="121.0" stroke="#666" stroke-width="1"/>
<line x1="405.5" y1="24.5" x2="503.5" y2="24.5" stroke="#222" stroke-width="1"/>
<line x1="405.5" y1="120.5" x2="503.5" y2="120.5" stroke="#222" stroke-width="1"/>
<line x1="445.5" y1="24.5" x2="445.5" y2="120.5" stroke="#111" stroke-width="1"/>
<line x1="405.5" y1="67.5" x2="503.5" y2="67.5" stroke="#111" stroke-width="1"/>
<line x1="406.5" y1="120.5" x2="406.5" y2="125.0" stroke="#111" stroke-width="1"/>
<line x1="414.5" y1="120.5" x2="414.5" y2="123.0" stroke="#111" stroke-width="1"/>
<line x1="418.5" y1="120.5" x2="418.5" y2="123.0" stroke="#111" stroke-width="1"/>
<line x1="421.5" y1="120.5" x2="421.5" y2="123.0" stroke="#111" stroke-width="1"/>
<line x1="423.5" y1="120.5" x2="423.5" y2="123.0" stroke="#111" stroke-width="1"/>
<line x1="425.5" y1="120.5" x2="425.5" y2="123.0" stroke="#111" stroke-width="1"/>
<line x1="427.5" y1="120.5" x2="427.5" y2="123.0" stroke="#111" stroke-width="1"/>
<line x1="428.5" y1="120.5" x2="428.5" y2="123.0" stroke="#111" stroke-width="1"/>
<line x1="430.5" y1="120.5" x2="430.5" y2="123.0" stroke="#111" stroke-width="1"/>
<line x1="431.5" y1="120.5" x2="431.5" y2="125.0" stroke="#111" stroke-width="1"/>
<line x1="438.5" y1="120.5" x2="438.5" y2="123.0" stroke="#111" stroke-width="1"/>
<line x1="442.5" y1="120.5" x2="442.5" y2="123.0" stroke="#111" stroke-width="1"/>
<line x1="445.5" y1="120.5" x2="445.5" y2="123.0" stroke="#111" stroke-width="1"/>
<line x1="448.5" y1="120.5" x2="448.5" y2="123.0" stroke="#111" stroke-width="1"/>
<line x1="450.5" y1="120.5" x2="450.5" y2="123.0" stroke="#111" stroke-width="1"/>
<line x1="451.5" y1="120.5" x2="451.5" y2="123.0" stroke="#111" stroke-width="1"/>
<line x1="453.5" y1="120.5" x2="453.5" y2="123.0" stroke="#111" stroke-width="1"/>
<line x1="454.5" y1="120.5" x2="454.5" y2="123.0" stroke="#111" stroke-width="1"/>
<line x1="455.5" y1="120.5" x2="455.5" y2="125.0" stroke="#111" stroke-width="1"/>
<line x1="462.5" y1="120.5" x2="462.5" y2="123.0" stroke="#111" stroke-width="1"/>
<line x1="467.5" y1="120.5" x2="467.5" y2="123.0" stroke="#111" stroke-width="1"/>
<line x1="470.5" y1="120.5" x2="470.5" y2="123.0" stroke="#111" stroke-width="1"/>
<line x1="472.5" y1="120.5" x2="472.5" y2="123.0" stroke="#111" stroke-width="1"/>
<line x1="474.5" y1="120.5" x2="474.5" y2="123.0" stroke="#111" stroke-width="1"/>
<line x1="476.5" y1="120.5" x2="476.5" y2="123.0" stroke="#111" stroke-width="1"/>
<line x1="477.5" y1="120.5" x2="477.5" y2="123.0" stroke="#111" stroke-width="1"/>
<line x1="478.5" y1="120.5" x2="478.5" y2="123.0" stroke="#111" stroke-width="1"/>
<line x1="480.5" y1="120.5" x2="480.5" y2="125.0" stroke="#111" stroke-width="1"/>
<line x1="487.5" y1="120.5" x2="487.5" y2="123.0" stroke="#111" stroke-width="1"/>
<line x1="491.5" y1="120.5" x2="491.5" y2="123.0" stroke="#111" stroke-width="1"/>
<line x1="494.5" y1="120.5" x2="494.5" y2="123.0" stroke="#111" stroke-width="1"/>
<line x1="497.5" y1="120.5" x2="497.5" y2="123.0" stroke="#111" stroke-width="1"/>
<line x1="498.5" y1="120.5" x2="498.5" y2="123.0" stroke="#111" stroke-width="1"/>
<line x1="500.5" y1="120.5" x2="500.5" y2="123.0" stroke="#111" stroke-width="1"/>
<line x1="502.5" y1="120.5" x2="502.5" y2="123.0" stroke="#111" stroke-width="1"/>
<line x1="503.5" y1="120.5" x2="503.5" y2="123.0" stroke="#111" stroke-width="1"/>
<line x1="502.9" y1="121.0" x2="502.9" y2="125.5" stroke="#222" stroke-width="1"/>
<line x1="400.5" y1="120.5" x2="405.5" y2="120.5" stroke="#111" stroke-width="1"/>
<line x1="402.9" y1="111.5" x2="405.5" y2="111.5" stroke="#111" stroke-width="1"/>
<line x1="402.9" y1="105.5" x2="405.5" y2="105.5" stroke="#111" stroke-width="1"/>
<line x1="402.9" y1="102.5" x2="405.5" y2="102.5" stroke="#111" stroke-width="1"/>
<line x1="402.9" y1="99.5" x2="405.5" y2="99.5" stroke="#111" stroke-width="1"/>
<line x1="402.9" y1="96.5" x2="405.5" y2="96.5" stroke="#111" stroke-width="1"/>
<line x1="402.9" y1="94.5" x2="405.5" y2="94.5" stroke="#111" stroke-width="1"/>
<line x1="402.9" y1="93.5" x2="405.5" y2="93.5" stroke="#111" stroke-width="1"/>
<line x1="402.9" y1="91.5" x2="405.5" y2="91.5" stroke="#111" stroke-width="1"/>
<line x1="400.5" y1="90.5" x2="405.5" y2="90.5" stroke="#111" stroke-width="1"/>
<line x1="402.9" y1="81.5" x2="405.5" y2="81.5" stroke="#111" stroke-width="1"/>
<line x1="402.9" y1="76.5" x2="405.5" y2="76.5" stroke="#111" stroke-width="1"/>
<line x1="402.9" y1="72.5" x2="405.5" y2="72.5" stroke="#111" stroke-width="1"/>
<line x1="402.9" y1="69.5" x2="405.5" y2="69.5" stroke="#111" stroke-width="1"/>
<line x1="402.9" y1="67.5" x2="405.5" y2="67.5" stroke="#111" stroke-width="1"/>
<line x1="402.9" y1="65.5" x2="405.5" y2="65.5" stroke="#111" stroke-width="1"/>
<line x1="402.9" y1="63.5" x2="405.5" y2="63.5" stroke="#111" stroke-width="1"/>
<line x1="402.9" y1="61.5" x2="405.5" y2="61.5" stroke="#111" stroke-width="1"/>
<line x1="400.5" y1="60.5" x2="405.5" y2="60.5" stroke="#111" stroke-width="1"/>
<line x1="402.9" y1="51.5" x2="405.5" y2="51.5" stroke="#111" stroke-width="1"/>
<line x1="402.9" y1="46.5" x2="405.5" y2="46.5" stroke="#111" stroke-width="1"/>
<line x1="402.9" y1="42.5" x2="405.5" y2="42.5" stroke="#111" stroke-width="1"/>
<line x1="402.9" y1="39.5" x2="405.5" y2="39.5" stroke="#111" stroke-width="1"/>
<line x1="402.9" y1="37.5" x2="405.5" y2="37.5" stroke="#111" stroke-width="1"/>
<line x1="402.9" y1="35.5" x2="405.5" y2="35.5" stroke="#111" stroke-width="1"/>
<line x1="402.9" y1="33.5" x2="405.5" y2="33.5" stroke="#111" stroke-width="1"/>
<line x1="402.9" y1="32.5" x2="405.5" y2="32.5" stroke="#111" stroke-width="1"/>
<line x1="400.5" y1="30.5" x2="405.5" y2="30.5" stroke="#111" stroke-width="1"/>
<text x="416.4" y="35.8" font-size="12" font-weight="bold" fill="#000">64</text>
<text x="504.2" y="37.8" font-size="12" font-weight="bold" text-anchor="end" fill="#000">5.3</text>
<text x="396.5" y="140.2" font-size="11" fill="#111">10</text>
<text x="410.4" y="135.3" font-size="10.3" fill="#111">0</text>
<text x="492.0" y="140.2" font-size="11" fill="#111">10</text>
<text x="505.3" y="135.3" font-size="10.3" fill="#111">4</text>
<line x1="95.5" y1="171.0" x2="95.5" y2="271.0" stroke="#222" stroke-width="1"/>
<line x1="188.5" y1="171.0" x2="188.5" y2="271.0" stroke="#666" stroke-width="1"/>
<line x1="95.5" y1="171.5" x2="188.5" y2="171.5" stroke="#222" stroke-width="1"/>
<line x1="95.5" y1="270.5" x2="188.5" y2="270.5" stroke="#222" stroke-width="1"/>
<line x1="132.5" y1="171.5" x2="132.5" y2="270.5" stroke="#111" stroke-width="1"/>
<line x1="95.5" y1="213.5" x2="188.5" y2="213.5" stroke="#111" stroke-width="1"/>
<line x1="96.5" y1="270.5" x2="96.5" y2="275.0" stroke="#111" stroke-width="1"/>
<line x1="103.5" y1="270.5" x2="103.5" y2="273.0" stroke="#111" stroke-width="1"/>
<line x1="107.5" y1="270.5" x2="107.5" y2="273.0" stroke="#111" stroke-width="1"/>
<line x1="110.5" y1="270.5" x2="110.5" y2="273.0" stroke="#111" stroke-width="1"/>
<line x1="112.5" y1="270.5" x2="112.5" y2="273.0" stroke="#111" stroke-width="1"/>
<line x1="114.5" y1="270.5" x2="114.5" y2="273.0" stroke="#111" stroke-width="1"/>
<line x1="116.5" y1="270.5" x2="116.5" y2="273.0" stroke="#111" stroke-width="1"/>
<line x1="117.5" y1="270.5" x2="117.5" y2="273.0" stroke="#111" stroke-width="1"/>
<line x1="118.5" y1="270.5" x2="118.5" y2="273.0" stroke="#111" stroke-width="1"/>
<line x1="119.5" y1="270.5" x2="119.5" y2="275.0" stroke="#111" stroke-width="1"/>
<line x1="126.5" y1="270.5" x2="126.5" y2="273.0" stroke="#111" stroke-width="1"/>
<line x1="130.5" y1="270.5" x2="130.5" y2="273.0" stroke="#111" stroke-width="1"/>
<line x1="133.5" y1="270.5" x2="133.5" y2="273.0" stroke="#111" stroke-width="1"/>
<line x1="136.5" y1="270.5" x2="136.5" y2="273.0" stroke="#111" stroke-width="1"/>
<line x1="137.5" y1="270.5" x2="137.5" y2="273.0" stroke="#111" stroke-width="1"/>
<line x1="139.5" y1="270.5" x2="139.5" y2="273.0" stroke="#111" stroke-width="1"/>
<line x1="140.5" y1="270.5" x2="140.5" y2="273.0" stroke="#111" stroke-width="1"/>
<line x1="141.5" y1="270.5" x2="141.5" y2="273.0" stroke="#111" stroke-width="1"/>
<line x1="142.5" y1="270.5" x2="142.5" y2="275.0" stroke="#111" stroke-width="1"/>
<line x1="149.5" y1="270.5" x2="149.5" y2="273.0" stroke="#111" stroke-width="1"/>
<line x1="154.5" y1="270.5" x2="154.5" y2="273.0" stroke="#111" stroke-width="1"/>
<line x1="156.5" y1="270.5" x2="156.5" y2="273.0" stroke="#111" stroke-width="1"/>
<line x1="159.5" y1="270.5" x2="159.5" y2="273.0" stroke="#111" stroke-width="1"/>
<line x1="161.5" y1="270.5" x2="161.5" y2="273.0" stroke="#111" stroke-width="1"/>
<line x1="162.5" y1="270.5" x2="162.5" y2="273.0" stroke="#111" stroke-width="1"/>
<line x1="163.5" y1="270.5" x2="163.5" y2="273.0" stroke="#111" stroke-width="1"/>
<line x1="165.5" y1="270.5" x2="165.5" y2="273.0" stroke="#111" stroke-width="1"/>
<line x1="166.5" y1="270.5" x2="166.5" y2="275.0" stroke="#111" stroke-width="1"/>
<line x1="173.5" y1="270.5" x2="173.5" y2="273.0" stroke="#111" stroke-width="1"/>
<line x1="177.5" y1="270.5" x2="177.5" y2="273.0" stroke="#111" stroke-width="1"/>
<line x1="180.5" y1="270.5" x2="180.5" y2="273.0" stroke="#111" stroke-width="1"/>
<line x1="182.5" y1="270.5" x2="182.5" y2="273.0" stroke="#111" stroke-width="1"/>
<line x1="184.5" y1="270.5" x2="184.5" y2="273.0" stroke="#111" stroke-width="1"/>
<line x1="185.5" y1="270.5" x2="185.5" y2="273.0" stroke="#111" stroke-width="1"/>
<line x1="187.5" y1="270.5" x2="187.5" y2="273.0" stroke="#111" stroke-width="1"/>
<line x1="188.5" y1="270.5" x2="188.5" y2="273.0" stroke="#111" stroke-width="1"/>
<line x1="188.0" y1="270.7" x2="188.0" y2="275.2" stroke="#222" stroke-width="1"/>
<line x1="90.5" y1="269.5" x2="95.5" y2="269.5" stroke="#111" stroke-width="1"/>
<line x1="92.9" y1="260.5" x2="95.5" y2="260.5" stroke="#111" stroke-width="1"/>
<line x1="92.9" y1="255.5" x2="95.5" y2="255.5" stroke="#111" stroke-width="1"/>
<line x1="92.9" y1="252.5" x2="95.5" y2="252.5" stroke="#111" stroke-width="1"/>
<line x1="92.9" y1="249.5" x2="95.5" y2="249.5" stroke="#111" stroke-width="1"/>
<line x1="92.9" y1="247.5" x2="95.5" y2="247.5" stroke="#111" stroke-width="1"/>
<line x1="92.9" y1="245.5" x2="95.5" y2="245.5" stroke="#111" stroke-width="1"/>
<line x1="92.9" y1="243.5" x2="95.5" y2="243.5" stroke="#111" stroke-width="1"/>
<line x1="92.9" y1="242.5" x2="95.5" y2="242.5" stroke="#111" stroke-width="1"/>
<line x1="90.5" y1="240.5" x2="95.5" y2="240.5" stroke="#111" stroke-width="1"/>
<line x1="92.9" y1="231.5" x2="95.5" y2="231.5" stroke="#111" stroke-width="1"/>
<line x1="92.9" y1="226.5" x2="95.5" y2="226.5" stroke="#111" stroke-width="1"/>
<line x1="92.9" y1="223.5" x2="95.5" y2="223.5" stroke="#111" stroke-width="1"/>
<line x1="92.9" y1="220.5" x2="95.5" y2="220.5" stroke="#111" stroke-width="1"/>
<line x1="92.9" y1="218.5" x2="95.5" y2="218.5" stroke="#111" stroke-width="1"/>
<line x1="92.9" y1="216.5" x2="95.5" y2="216.5" stroke="#111" stroke-width="1"/>
<line x1="92.9" y1="214.5" x2="95.5" y2="214.5" stroke="#111" stroke-width="1"/>
<line x1="92.9" y1="213.5" x2="95.5" y2="213.5" stroke="#111" stroke-width="1"/>
<line x1="90.5" y1="211.5" x2="95.5" y2="211.5" stroke="#111" stroke-width="1"/>
<line x1="92.9" y1="202.5" x2="95.5" y2="202.5" stroke="#111" stroke-width="1"/>
<line x1="92.9" y1="197.5" x2="95.5" y2="197.5" stroke="#111" stroke-width="1"/>
<line x1="92.9" y1="194.5" x2="95.5" y2="194.5" stroke="#111" stroke-width="1"/>
<line x1="92.9" y1="191.5" x2="95.5" y2="191.5" stroke="#111" stroke-width="1"/>
<line x1="92.9" y1="189.5" x2="95.5" y2="189.5" stroke="#111" stroke-width="1"/>
<line x1="92.9" y1="187.5" x2="95.5" y2="187.5" stroke="#111" stroke-width="1"/>
<line x1="92.9" y1="185.5" x2="95.5" y2="185.5" stroke="#111" stroke-width="1"/>
<line x1="92.9" y1="184.5" x2="95.5" y2="184.5" stroke="#111" stroke-width="1"/>
<line x1="90.5" y1="182.5" x2="95.5" y2="182.5" stroke="#111" stroke-width="1"/>
<line x1="92.9" y1="173.5" x2="95.5" y2="173.5" stroke="#111" stroke-width="1"/>
<text x="99.2" y="183.4" font-size="12" font-weight="bold" fill="#000">16</text>
<text x="184.6" y="183.4" font-size="12" font-weight="bold" text-anchor="end" fill="#000">2.6</text>
<text x="86.1" y="289.9" font-size="11" fill="#111">10</text>
<text x="100.0" y="285.0" font-size="10.3" fill="#111">0</text>
<text x="177.1" y="289.9" font-size="11" fill="#111">10</text>
<text x="190.4" y="285.0" font-size="10.3" fill="#111">4</text>
<line x1="246.5" y1="171.0" x2="246.5" y2="271.0" stroke="#222" stroke-width="1"/>
<line x1="342.5" y1="171.0" x2="342.5" y2="271.0" stroke="#666" stroke-width="1"/>
<line x1="246.5" y1="171.5" x2="342.5" y2="171.5" stroke="#222" stroke-width="1"/>
<line x1="246.5" y1="270.5" x2="342.5" y2="270.5" stroke="#222" stroke-width="1"/>
<line x1="285.5" y1="171.5" x2="285.5" y2="270.5" stroke="#111" stroke-width="1"/>
<line x1="246.5" y1="217.5" x2="342.5" y2="217.5" stroke="#111" stroke-width="1"/>
<line x1="247.5" y1="270.5" x2="247.5" y2="275.0" stroke="#111" stroke-width="1"/>
<line x1="255.5" y1="270.5" x2="255.5" y2="273.0" stroke="#111" stroke-width="1"/>
<line x1="259.5" y1="270.5" x2="259.5" y2="273.0" stroke="#111" stroke-width="1"/>
<line x1="262.5" y1="270.5" x2="262.5" y2="273.0" stroke="#111" stroke-width="1"/>
<line x1="264.5" y1="270.5" x2="264.5" y2="273.0" stroke="#111" stroke-width="1"/>
<line x1="266.5" y1="270.5" x2="266.5" y2="273.0" stroke="#111" stroke-width="1"/>
<line x1="268.5" y1="270.5" x2="268.5" y2="273.0" stroke="#111" stroke-width="1"/>
<line x1="269.5" y1="270.5" x2="269.5" y2="273.0" stroke="#111" stroke-width="1"/>
<line x1="270.5" y1="270.5" x2="270.5" y2="273.0" stroke="#111" stroke-width="1"/>
<line x1="271.5" y1="270.5" x2="271.5" y2="275.0" stroke="#111" stroke-width="1"/>
<line x1="279.5" y1="270.5" x2="279.5" y2="273.0" stroke="#111" stroke-width="1"/>
<line x1="283.5" y1="270.5" x2="283.5" y2="273.0" stroke="#111" stroke-width="1"/>
<line x1="286.5" y1="270.5" x2="286.5" y2="273.0" stroke="#111" stroke-width="1"/>
<line x1="288.5" y1="270.5" x2="288.5" y2="273.0" stroke="#111" stroke-width="1"/>
<line x1="290.5" y1="270.5" x2="290.5" y2="273.0" stroke="#111" stroke-width="1"/>
<line x1="292.5" y1="270.5" x2="292.5" y2="273.0" stroke="#111" stroke-width="1"/>
<line x1="293.5" y1="270.5" x2="293.5" y2="273.0" stroke="#111" stroke-width="1"/>
<line x1="294.5" y1="270.5" x2="294.5" y2="273.0" stroke="#111" stroke-width="1"/>
<line x1="295.5" y1="270.5" x2="295.5" y2="275.0" stroke="#111" stroke-width="1"/>
<line x1="303.5" y1="270.5" x2="303.5" y2="273.0" stroke="#111" stroke-width="1"/>
<line x1="307.5" y1="270.5" x2="307.5" y2="273.0" stroke="#111" stroke-width="1"/>
<line x1="310.5" y1="270.5" x2="310.5" y2="273.0" stroke="#111" stroke-width="1"/>
<line x1="312.5" y1="270.5" x2="312.5" y2="273.0" stroke="#111" stroke-width="1"/>
<line x1="314.5" y1="270.5" x2="314.5" y2="273.0" stroke="#111" stroke-width="1"/>
<line x1="316.5" y1="270.5" x2="316.5" y2="273.0" stroke="#111" stroke-width="1"/>
<line x1="317.5" y1="270.5" x2="317.5" y2="273.0" stroke="#111" stroke-width="1"/>
<line x1="318.5" y1="270.5" x2="318.5" y2="273.0" stroke="#111" stroke-width="1"/>
<line x1="319.5" y1="270.5" x2="319.5" y2="275.0" stroke="#111" stroke-width="1"/>
<line x1="327.5" y1="270.5" x2="327.5" y2="273.0" stroke="#111" stroke-width="1"/>
<line x1="331.5" y1="270.5" x2="331.5" y2="273.0" stroke="#111" stroke-width="1"/>
<line x1="334.5" y1="270.5" x2="334.5" y2="273.0" stroke="#111" stroke-width="1"/>
<line x1="336.5" y1="270.5" x2="336.5" y2="273.0" stroke="#111" stroke-width="1"/>
<line x1="338.5" y1="270.5" x2="338.5" y2="273.0" stroke="#111" stroke-width="1"/>
<line x1="340.5" y1="270.5" x2="340.5" y2="273.0" stroke="#111" stroke-width="1"/>
<line x1="341.5" y1="270.5" x2="341.5" y2="273.0" stroke="#111" stroke-width="1"/>
<line x1="342.5" y1="270.5" x2="342.5" y2="273.0" stroke="#111" stroke-width="1"/>
<line x1="342.5" y1="270.7" x2="342.5" y2="275.2" stroke="#222" stroke-width="1"/>
<line x1="241.5" y1="269.5" x2="246.5" y2="269.5" stroke="#111" stroke-width="1"/>
<line x1="243.9" y1="260.5" x2="246.5" y2="260.5" stroke="#111" stroke-width="1"/>
<line x1="243.9" y1="255.5" x2="246.5" y2="255.5" stroke="#111" stroke-width="1"/>
<line x1="243.9" y1="251.5" x2="246.5" y2="251.5" stroke="#111" stroke-width="1"/>
<line x1="243.9" y1="248.5" x2="246.5" y2="248.5" stroke="#111" stroke-width="1"/>
<line x1="243.9" y1="246.5" x2="246.5" y2="246.5" stroke="#111" stroke-width="1"/>
<line x1="243.9" y1="244.5" x2="246.5" y2="244.5" stroke="#111" stroke-width="1"/>
<line x1="243.9" y1="242.5" x2="246.5" y2="242.5" stroke="#111" stroke-width="1"/>
<line x1="243.9" y1="241.5" x2="246.5" y2="241.5" stroke="#111" stroke-width="1"/>
<line x1="241.5" y1="239.5" x2="246.5" y2="239.5" stroke="#111" stroke-width="1"/>
<line x1="243.9" y1="230.5" x2="246.5" y2="230.5" stroke="#111" stroke-width="1"/>
<line x1="243.9" y1="225.5" x2="246.5" y2="225.5" stroke="#111" stroke-width="1"/>
<line x1="243.9" y1="221.5" x2="246.5" y2="221.5" stroke="#111" stroke-width="1"/>
<line x1="243.9" y1="218.5" x2="246.5" y2="218.5" stroke="#111" stroke-width="1"/>
<line x1="243.9" y1="216.5" x2="246.5" y2="216.5" stroke="#111" stroke-width="1"/>
<line x1="243.9" y1="214.5" x2="246.5" y2="214.5" stroke="#111" stroke-width="1"/>
<line x1="243.9" y1="212.5" x2="246.5" y2="212.5" stroke="#111" stroke-width="1"/>
<line x1="243.9" y1="211.5" x2="246.5" y2="211.5" stroke="#111" stroke-width="1"/>
<line x1="241.5" y1="209.5" x2="246.5" y2="209.5" stroke="#111" stroke-width="1"/>
<line x1="243.9" y1="200.5" x2="246.5" y2="200.5" stroke="#111" stroke-width="1"/>
<line x1="243.9" y1="195.5" x2="246.5" y2="195.5" stroke="#111" stroke-width="1"/>
<line x1="243.9" y1="191.5" x2="246.5" y2="191.5" stroke="#111" stroke-width="1"/>
<line x1="243.9" y1="188.5" x2="246.5" y2="188.5" stroke="#111" stroke-width="1"/>
<line x1="243.9" y1="186.5" x2="246.5" y2="186.5" stroke="#111" stroke-width="1"/>
<line x1="243.9" y1="184.5" x2="246.5" y2="184.5" stroke="#111" stroke-width="1"/>
<line x1="243.9" y1="182.5" x2="246.5" y2="182.5" stroke="#111" stroke-width="1"/>
<line x1="243.9" y1="181.5" x2="246.5" y2="181.5" stroke="#111" stroke-width="1"/>
<line x1="241.5" y1="179.5" x2="246.5" y2="179.5" stroke="#111" stroke-width="1"/>
<text x="249.2" y="183" font-size="12" font-weight="bold" fill="#000">19</text>
<text x="339.3" y="183" font-size="12" font-weight="bold" text-anchor="end" fill="#000">30</text>
<text x="237.4" y="289.9" font-size="11" fill="#111">10</text>
<text x="251.3" y="285.0" font-size="10.3" fill="#111">0</text>
<text x="331.6" y="289.9" font-size="11" fill="#111">10</text>
<text x="344.9" y="285.0" font-size="10.3" fill="#111">4</text>
<line x1="404.5" y1="169.0" x2="404.5" y2="271.0" stroke="#222" stroke-width="1"/>
<line x1="502.5" y1="169.0" x2="502.5" y2="271.0" stroke="#666" stroke-width="1"/>
<line x1="404.5" y1="169.5" x2="502.5" y2="169.5" stroke="#222" stroke-width="1"/>
<line x1="404.5" y1="270.5" x2="502.5" y2="270.5" stroke="#222" stroke-width="1"/>
<line x1="443.5" y1="169.5" x2="443.5" y2="270.5" stroke="#111" stroke-width="1"/>
<line x1="404.5" y1="217.5" x2="502.5" y2="217.5" stroke="#111" stroke-width="1"/>
<line x1="405.5" y1="270.5" x2="405.5" y2="275.0" stroke="#111" stroke-width="1"/>
<line x1="412.5" y1="270.5" x2="412.5" y2="273.0" stroke="#111" stroke-width="1"/>
<line x1="417.5" y1="270.5" x2="417.5" y2="273.0" stroke="#111" stroke-width="1"/>
<line x1="420.5" y1="270.5" x2="420.5" y2="273.0" stroke="#111" stroke-width="1"/>
<line x1="422.5" y1="270.5" x2="422.5" y2="273.0" stroke="#111" stroke-width="1"/>
<line x1="424.5" y1="270.5" x2="424.5" y2="273.0" stroke="#111" stroke-width="1"/>
<line x1="426.5" y1="270.5" x2="426.5" y2="273.0" stroke="#111" stroke-width="1"/>
<line x1="427.5" y1="270.5" x2="427.5" y2="273.0" stroke="#111" stroke-width="1"/>
<line x1="428.5" y1="270.5" x2="428.5" y2="273.0" stroke="#111" stroke-width="1"/>
<line x1="429.5" y1="270.5" x2="429.5" y2="275.0" stroke="#111" stroke-width="1"/>
<line x1="437.5" y1="270.5" x2="437.5" y2="273.0" stroke="#111" stroke-width="1"/>
<line x1="441.5" y1="270.5" x2="441.5" y2="273.0" stroke="#111" stroke-width="1"/>
<line x1="444.5" y1="270.5" x2="444.5" y2="273.0" stroke="#111" stroke-width="1"/>
<line x1="446.5" y1="270.5" x2="446.5" y2="273.0" stroke="#111" stroke-width="1"/>
<line x1="448.5" y1="270.5" x2="448.5" y2="273.0" stroke="#111" stroke-width="1"/>
<line x1="450.5" y1="270.5" x2="450.5" y2="273.0" stroke="#111" stroke-width="1"/>
<line x1="451.5" y1="270.5" x2="451.5" y2="273.0" stroke="#111" stroke-width="1"/>
<line x1="453.5" y1="270.5" x2="453.5" y2="273.0" stroke="#111" stroke-width="1"/>
<line x1="454.5" y1="270.5" x2="454.5" y2="275.0" stroke="#111" stroke-width="1"/>
<line x1="461.5" y1="270.5" x2="461.5" y2="273.0" stroke="#111" stroke-width="1"/>
<line x1="466.5" y1="270.5" x2="466.5" y2="273.0" stroke="#111" stroke-width="1"/>
<line x1="469.5" y1="270.5" x2="469.5" y2="273.0" stroke="#111" stroke-width="1"/>
<line x1="471.5" y1="270.5" x2="471.5" y2="273.0" stroke="#111" stroke-width="1"/>
<line x1="473.5" y1="270.5" x2="473.5" y2="273.0" stroke="#111" stroke-width="1"/>
<line x1="475.5" y1="270.5" x2="475.5" y2="273.0" stroke="#111" stroke-width="1"/>
<line x1="476.5" y1="270.5" x2="476.5" y2="273.0" stroke="#111" stroke-width="1"/>
<line x1="477.5" y1="270.5" x2="477.5" y2="273.0" stroke="#111" stroke-width="1"/>
<line x1="478.5" y1="270.5" x2="478.5" y2="275.0" stroke="#111" stroke-width="1"/>
<line x1="486.5" y1="270.5" x2="486.5" y2="273.0" stroke="#111" stroke-width="1"/>
<line x1="490.5" y1="270.5" x2="490.5" y2="273.0" stroke="#111" stroke-width="1"/>
<line x1="493.5" y1="270.5" x2="493.5" y2="273.0" stroke="#111" stroke-width="1"/>
<line x1="496.5" y1="270.5" x2="496.5" y2="273.0" stroke="#111" stroke-width="1"/>
<line x1="497.5" y1="270.5" x2="497.5" y2="273.0" stroke="#111" stroke-width="1"/>
<line x1="499.5" y1="270.5" x2="499.5" y2="273.0" stroke="#111" stroke-width="1"/>
<line x1="501.5" y1="270.5" x2="501.5" y2="273.0" stroke="#111" stroke-width="1"/>
<line x1="502.5" y1="270.5" x2="502.5" y2="273.0" stroke="#111" stroke-width="1"/>
<line x1="501.9" y1="270.0" x2="501.9" y2="274.5" stroke="#222" stroke-width="1"/>
<line x1="399.5" y1="268.5" x2="404.5" y2="268.5" stroke="#111" stroke-width="1"/>
<line x1="401.9" y1="259.5" x2="404.5" y2="259.5" stroke="#111" stroke-width="1"/>
<line x1="401.9" y1="254.5" x2="404.5" y2="254.5" stroke="#111" stroke-width="1"/>
<line x1="401.9" y1="250.5" x2="404.5" y2="250.5" stroke="#111" stroke-width="1"/>
<line x1="401.9" y1="248.5" x2="404.5" y2="248.5" stroke="#111" stroke-width="1"/>
<line x1="401.9" y1="245.5" x2="404.5" y2="245.5" stroke="#111" stroke-width="1"/>
<line x1="401.9" y1="243.5" x2="404.5" y2="243.5" stroke="#111" stroke-width="1"/>
<line x1="401.9" y1="241.5" x2="404.5" y2="241.5" stroke="#111" stroke-width="1"/>
<line x1="401.9" y1="240.5" x2="404.5" y2="240.5" stroke="#111" stroke-width="1"/>
<line x1="399.5" y1="238.5" x2="404.5" y2="238.5" stroke="#111" stroke-width="1"/>
<line x1="401.9" y1="229.5" x2="404.5" y2="229.5" stroke="#111" stroke-width="1"/>
<line x1="401.9" y1="224.5" x2="404.5" y2="224.5" stroke="#111" stroke-width="1"/>
<line x1="401.9" y1="220.5" x2="404.5" y2="220.5" stroke="#111" stroke-width="1"/>
<line x1="401.9" y1="218.5" x2="404.5" y2="218.5" stroke="#111" stroke-width="1"/>
<line x1="401.9" y1="215.5" x2="404.5" y2="215.5" stroke="#111" stroke-width="1"/>
<line x1="401.9" y1="213.5" x2="404.5" y2="213.5" stroke="#111" stroke-width="1"/>
<line x1="401.9" y1="211.5" x2="404.5" y2="211.5" stroke="#111" stroke-width="1"/>
<line x1="401.9" y1="210.5" x2="404.5" y2="210.5" stroke="#111" stroke-width="1"/>
<line x1="399.5" y1="208.5" x2="404.5" y2="208.5" stroke="#111" stroke-width="1"/>
<line x1="401.9" y1="199.5" x2="404.5" y2="199.5" stroke="#111" stroke-width="1"/>
<line x1="401.9" y1="194.5" x2="404.5" y2="194.5" stroke="#111" stroke-width="1"/>
<line x1="401.9" y1="190.5" x2="404.5" y2="190.5" stroke="#111" stroke-width="1"/>
<line x1="401.9" y1="188.5" x2="404.5" y2="188.5" stroke="#111" stroke-width="1"/>
<line x1="401.9" y1="185.5" x2="404.5" y2="185.5" stroke="#111" stroke-width="1"/>
<line x1="401.9" y1="183.5" x2="404.5" y2="183.5" stroke="#111" stroke-width="1"/>
<line x1="401.9" y1="181.5" x2="404.5" y2="181.5" stroke="#111" stroke-width="1"/>
<line x1="401.9" y1="180.5" x2="404.5" y2="180.5" stroke="#111" stroke-width="1"/>
<line x1="399.5" y1="178.5" x2="404.5" y2="178.5" stroke="#111" stroke-width="1"/>
<line x1="401.9" y1="169.5" x2="404.5" y2="169.5" stroke="#111" stroke-width="1"/>
<text x="409.7" y="182" font-size="12" font-weight="bold" fill="#000">20</text>
<text x="501.3" y="182" font-size="12" font-weight="bold" text-anchor="end" fill="#000">2.2</text>
<text x="394.9" y="289.2" font-size="11" fill="#111">10</text>
<text x="408.8" y="284.3" font-size="10.3" fill="#111">0</text>
<text x="491.0" y="289.2" font-size="11" fill="#111">10</text>
<text x="504.3" y="284.3" font-size="10.3" fill="#111">4</text>
<line x1="96.5" y1="315.0" x2="96.5" y2="417.0" stroke="#222" stroke-width="1"/>
<line x1="188.5" y1="315.0" x2="188.5" y2="417.0" stroke="#666" stroke-width="1"/>
<line x1="96.5" y1="315.5" x2="188.5" y2="315.5" stroke="#222" stroke-width="1"/>
<line x1="96.5" y1="416.5" x2="188.5" y2="416.5" stroke="#222" stroke-width="1"/>
<line x1="137.5" y1="315.5" x2="137.5" y2="416.5" stroke="#111" stroke-width="1"/>
<line x1="96.5" y1="356.5" x2="188.5" y2="356.5" stroke="#111" stroke-width="1"/>
<line x1="97.5" y1="416.5" x2="97.5" y2="421.0" stroke="#111" stroke-width="1"/>
<line x1="104.5" y1="416.5" x2="104.5" y2="419.0" stroke="#111" stroke-width="1"/>
<line x1="108.5" y1="416.5" x2="108.5" y2="419.0" stroke="#111" stroke-width="1"/>
<line x1="111.5" y1="416.5" x2="111.5" y2="419.0" stroke="#111" stroke-width="1"/>
<line x1="113.5" y1="416.5" x2="113.5" y2="419.0" stroke="#111" stroke-width="1"/>
<line x1="115.5" y1="416.5" x2="115.5" y2="419.0" stroke="#111" stroke-width="1"/>
<line x1="117.5" y1="416.5" x2="117.5" y2="419.0" stroke="#111" stroke-width="1"/>
<line x1="118.5" y1="416.5" x2="118.5" y2="419.0" stroke="#111" stroke-width="1"/>
<line x1="119.5" y1="416.5" x2="119.5" y2="419.0" stroke="#111" stroke-width="1"/>
<line x1="120.5" y1="416.5" x2="120.5" y2="421.0" stroke="#111" stroke-width="1"/>
<line x1="127.5" y1="416.5" x2="127.5" y2="419.0" stroke="#111" stroke-width="1"/>
<line x1="131.5" y1="416.5" x2="131.5" y2="419.0" stroke="#111" stroke-width="1"/>
<line x1="134.5" y1="416.5" x2="134.5" y2="419.0" stroke="#111" stroke-width="1"/>
<line x1="136.5" y1="416.5" x2="136.5" y2="419.0" stroke="#111" stroke-width="1"/>
<line x1="138.5" y1="416.5" x2="138.5" y2="419.0" stroke="#111" stroke-width="1"/>
<line x1="140.5" y1="416.5" x2="140.5" y2="419.0" stroke="#111" stroke-width="1"/>
<line x1="141.5" y1="416.5" x2="141.5" y2="419.0" stroke="#111" stroke-width="1"/>
<line x1="142.5" y1="416.5" x2="142.5" y2="419.0" stroke="#111" stroke-width="1"/>
<line x1="143.5" y1="416.5" x2="143.5" y2="421.0" stroke="#111" stroke-width="1"/>
<line x1="150.5" y1="416.5" x2="150.5" y2="419.0" stroke="#111" stroke-width="1"/>
<line x1="154.5" y1="416.5" x2="154.5" y2="419.0" stroke="#111" stroke-width="1"/>
<line x1="157.5" y1="416.5" x2="157.5" y2="419.0" stroke="#111" stroke-width="1"/>
<line x1="160.5" y1="416.5" x2="160.5" y2="419.0" stroke="#111" stroke-width="1"/>
<line x1="161.5" y1="416.5" x2="161.5" y2="419.0" stroke="#111" stroke-width="1"/>
<line x1="163.5" y1="416.5" x2="163.5" y2="419.0" stroke="#111" stroke-width="1"/>
<line x1="164.5" y1="416.5" x2="164.5" y2="419.0" stroke="#111" stroke-width="1"/>
<line x1="165.5" y1="416.5" x2="165.5" y2="419.0" stroke="#111" stroke-width="1"/>
<line x1="166.5" y1="416.5" x2="166.5" y2="421.0" stroke="#111" stroke-width="1"/>
<line x1="173.5" y1="416.5" x2="173.5" y2="419.0" stroke="#111" stroke-width="1"/>
<line x1="177.5" y1="416.5" x2="177.5" y2="419.0" stroke="#111" stroke-width="1"/>
<line x1="180.5" y1="416.5" x2="180.5" y2="419.0" stroke="#111" stroke-width="1"/>
<line x1="183.5" y1="416.5" x2="183.5" y2="419.0" stroke="#111" stroke-width="1"/>
<line x1="184.5" y1="416.5" x2="184.5" y2="419.0" stroke="#111" stroke-width="1"/>
<line x1="186.5" y1="416.5" x2="186.5" y2="419.0" stroke="#111" stroke-width="1"/>
<line x1="187.5" y1="416.5" x2="187.5" y2="419.0" stroke="#111" stroke-width="1"/>
<line x1="188.5" y1="416.5" x2="188.5" y2="419.0" stroke="#111" stroke-width="1"/>
<line x1="188.5" y1="416.0" x2="188.5" y2="420.5" stroke="#222" stroke-width="1"/>
<line x1="91.5" y1="414.5" x2="96.5" y2="414.5" stroke="#111" stroke-width="1"/>
<line x1="93.9" y1="405.5" x2="96.5" y2="405.5" stroke="#111" stroke-width="1"/>
<line x1="93.9" y1="400.5" x2="96.5" y2="400.5" stroke="#111" stroke-width="1"/>
<line x1="93.9" y1="396.5" x2="96.5" y2="396.5" stroke="#111" stroke-width="1"/>
<line x1="93.9" y1="394.5" x2="96.5" y2="394.5" stroke="#111" stroke-width="1"/>
<line x1="93.9" y1="391.5" x2="96.5" y2="391.5" stroke="#111" stroke-width="1"/>
<line x1="93.9" y1="389.5" x2="96.5" y2="389.5" stroke="#111" stroke-width="1"/>
<line x1="93.9" y1="387.5" x2="96.5" y2="387.5" stroke="#111" stroke-width="1"/>
<line x1="93.9" y1="386.5" x2="96.5" y2="386.5" stroke="#111" stroke-width="1"/>
<line x1="91.5" y1="384.5" x2="96.5" y2="384.5" stroke="#111" stroke-width="1"/>
<line x1="93.9" y1="375.5" x2="96.5" y2="375.5" stroke="#111" stroke-width="1"/>
<line x1="93.9" y1="370.5" x2="96.5" y2="370.5" stroke="#111" stroke-width="1"/>
<line x1="93.9" y1="366.5" x2="96.5" y2="366.5" stroke="#111" stroke-width="1"/>
<line x1="93.9" y1="364.5" x2="96.5" y2="364.5" stroke="#111" stroke-width="1"/>
<line x1="93.9" y1="361.5" x2="96.5" y2="361.5" stroke="#111" stroke-width="1"/>
<line x1="93.9" y1="359.5" x2="96.5" y2="359.5" stroke="#111" stroke-width="1"/>
<line x1="93.9" y1="357.5" x2="96.5" y2="357.5" stroke="#111" stroke-width="1"/>
<line x1="93.9" y1="356.5" x2="96.5" y2="356.5" stroke="#111" stroke-width="1"/>
<line x1="91.5" y1="354.5" x2="96.5" y2="354.5" stroke="#111" stroke-width="1"/>
<line x1="93.9" y1="345.5" x2="96.5" y2="345.5" stroke="#111" stroke-width="1"/>
<line x1="93.9" y1="340.5" x2="96.5" y2="340.5" stroke="#111" stroke-width="1"/>
<line x1="93.9" y1="336.5" x2="96.5" y2="336.5" stroke="#111" stroke-width="1"/>
<line x1="93.9" y1="334.5" x2="96.5" y2="334.5" stroke="#111" stroke-width="1"/>
<line x1="93.9" y1="331.5" x2="96.5" y2="331.5" stroke="#111" stroke-width="1"/>
<line x1="93.9" y1="329.5" x2="96.5" y2="329.5" stroke="#111" stroke-width="1"/>
<line x1="93.9" y1="327.5" x2="96.5" y2="327.5" stroke="#111" stroke-width="1"/>
<line x1="93.9" y1="326.5" x2="96.5" y2="326.5" stroke="#111" stroke-width="1"/>
<line x1="91.5" y1="324.5" x2="96.5" y2="324.5" stroke="#111" stroke-width="1"/>
<line x1="93.9" y1="315.5" x2="96.5" y2="315.5" stroke="#111" stroke-width="1"/>
<text x="104.4" y="328" font-size="12" font-weight="bold" fill="#000">1</text>
<text x="188.8" y="328" font-size="12" font-weight="bold" text-anchor="end" fill="#000">0.18</text>
<text x="87.4" y="435.2" font-size="11" fill="#111">10</text>
<text x="101.3" y="430.3" font-size="10.3" fill="#111">0</text>
<text x="177.6" y="435.2" font-size="11" fill="#111">10</text>
<text x="190.9" y="430.3" font-size="10.3" fill="#111">4</text>
<line x1="248.5" y1="314.0" x2="248.5" y2="417.0" stroke="#222" stroke-width="1"/>
<line x1="343.5" y1="314.0" x2="343.5" y2="417.0" stroke="#666" stroke-width="1"/>
<line x1="248.5" y1="314.5" x2="343.5" y2="314.5" stroke="#222" stroke-width="1"/>
<line x1="248.5" y1="416.5" x2="343.5" y2="416.5" stroke="#222" stroke-width="1"/>
<line x1="290.5" y1="314.5" x2="290.5" y2="416.5" stroke="#111" stroke-width="1"/>
<line x1="248.5" y1="356.5" x2="343.5" y2="356.5" stroke="#111" stroke-width="1"/>
<line x1="248.5" y1="416.5" x2="248.5" y2="421.0" stroke="#111" stroke-width="1"/>
<line x1="256.5" y1="416.5" x2="256.5" y2="419.0" stroke="#111" stroke-width="1"/>
<line x1="260.5" y1="416.5" x2="260.5" y2="419.0" stroke="#111" stroke-width="1"/>
<line x1="263.5" y1="416.5" x2="263.5" y2="419.0" stroke="#111" stroke-width="1"/>
<line x1="265.5" y1="416.5" x2="265.5" y2="419.0" stroke="#111" stroke-width="1"/>
<line x1="267.5" y1="416.5" x2="267.5" y2="419.0" stroke="#111" stroke-width="1"/>
<line x1="269.5" y1="416.5" x2="269.5" y2="419.0" stroke="#111" stroke-width="1"/>
<line x1="270.5" y1="416.5" x2="270.5" y2="419.0" stroke="#111" stroke-width="1"/>
<line x1="271.5" y1="416.5" x2="271.5" y2="419.0" stroke="#111" stroke-width="1"/>
<line x1="272.5" y1="416.5" x2="272.5" y2="421.0" stroke="#111" stroke-width="1"/>
<line x1="280.5" y1="416.5" x2="280.5" y2="419.0" stroke="#111" stroke-width="1"/>
<line x1="284.5" y1="416.5" x2="284.5" y2="419.0" stroke="#111" stroke-width="1"/>
<line x1="287.5" y1="416.5" x2="287.5" y2="419.0" stroke="#111" stroke-width="1"/>
<line x1="289.5" y1="416.5" x2="289.5" y2="419.0" stroke="#111" stroke-width="1"/>
<line x1="291.5" y1="416.5" x2="291.5" y2="419.0" stroke="#111" stroke-width="1"/>
<line x1="293.5" y1="416.5" x2="293.5" y2="419.0" stroke="#111" stroke-width="1"/>
<line x1="294.5" y1="416.5" x2="294.5" y2="419.0" stroke="#111" stroke-width="1"/>
<line x1="295.5" y1="416.5" x2="295.5" y2="419.0" stroke="#111" stroke-width="1"/>
<line x1="296.5" y1="416.5" x2="296.5" y2="421.0" stroke="#111" stroke-width="1"/>
<line x1="303.5" y1="416.5" x2="303.5" y2="419.0" stroke="#111" stroke-width="1"/>
<line x1="308.5" y1="416.5" x2="308.5" y2="419.0" stroke="#111" stroke-width="1"/>
<line x1="311.5" y1="416.5" x2="311.5" y2="419.0" stroke="#111" stroke-width="1"/>
<line x1="313.5" y1="416.5" x2="313.5" y2="419.0" stroke="#111" stroke-width="1"/>
<line x1="315.5" y1="416.5" x2="315.5" y2="419.0" stroke="#111" stroke-width="1"/>
<line x1="316.5" y1="416.5" x2="316.5" y2="419.0" stroke="#111" stroke-width="1"/>
<line x1="318.5" y1="416.5" x2="318.5" y2="419.0" stroke="#111" stroke-width="1"/>
<line x1="319.5" y1="416.5" x2="319.5" y2="419.0" stroke="#111" stroke-width="1"/>
<line x1="320.5" y1="416.5" x2="320.5" y2="421.0" stroke="#111" stroke-width="1"/>
<line x1="327.5" y1="416.5" x2="327.5" y2="419.0" stroke="#111" stroke-width="1"/>
<line x1="332.5" y1="416.5" x2="332.5" y2="419.0" stroke="#111" stroke-width="1"/>
<line x1="334.5" y1="416.5" x2="334.5" y2="419.0" stroke="#111" stroke-width="1"/>
<line x1="337.5" y1="416.5" x2="337.5" y2="419.0" stroke="#111" stroke-width="1"/>
<line x1="339.5" y1="416.5" x2="339.5" y2="419.0" stroke="#111" stroke-width="1"/>
<line x1="340.5" y1="416.5" x2="340.5" y2="419.0" stroke="#111" stroke-width="1"/>
<line x1="342.5" y1="416.5" x2="342.5" y2="419.0" stroke="#111" stroke-width="1"/>
<line x1="343.5" y1="416.5" x2="343.5" y2="419.0" stroke="#111" stroke-width="1"/>
<line x1="343.0" y1="416.0" x2="343.0" y2="420.5" stroke="#222" stroke-width="1"/>
<line x1="243.5" y1="414.5" x2="248.5" y2="414.5" stroke="#111" stroke-width="1"/>
<line x1="245.9" y1="405.5" x2="248.5" y2="405.5" stroke="#111" stroke-width="1"/>
<line x1="245.9" y1="400.5" x2="248.5" y2="400.5" stroke="#111" stroke-width="1"/>
<line x1="245.9" y1="396.5" x2="248.5" y2="396.5" stroke="#111" stroke-width="1"/>
<line x1="245.9" y1="394.5" x2="248.5" y2="394.5" stroke="#111" stroke-width="1"/>
<line x1="245.9" y1="391.5" x2="248.5" y2="391.5" stroke="#111" stroke-width="1"/>
<line x1="245.9" y1="389.5" x2="248.5" y2="389.5" stroke="#111" stroke-width="1"/>
<line x1="245.9" y1="387.5" x2="248.5" y2="387.5" stroke="#111" stroke-width="1"/>
<line x1="245.9" y1="386.5" x2="248.5" y2="386.5" stroke="#111" stroke-width="1"/>
<line x1="243.5" y1="384.5" x2="248.5" y2="384.5" stroke="#111" stroke-width="1"/>
<line x1="245.9" y1="375.5" x2="248.5" y2="375.5" stroke="#111" stroke-width="1"/>
<line x1="245.9" y1="370.5" x2="248.5" y2="370.5" stroke="#111" stroke-width="1"/>
<line x1="245.9" y1="366.5" x2="248.5" y2="366.5" stroke="#111" stroke-width="1"/>
<line x1="245.9" y1="364.5" x2="248.5" y2="364.5" stroke="#111" stroke-width="1"/>
<line x1="245.9" y1="361.5" x2="248.5" y2="361.5" stroke="#111" stroke-width="1"/>
<line x1="245.9" y1="359.5" x2="248.5" y2="359.5" stroke="#111" stroke-width="1"/>
<line x1="245.9" y1="357.5" x2="248.5" y2="357.5" stroke="#111" stroke-width="1"/>
<line x1="245.9" y1="356.5" x2="248.5" y2="356.5" stroke="#111" stroke-width="1"/>
<line x1="243.5" y1="354.5" x2="248.5" y2="354.5" stroke="#111" stroke-width="1"/>
<line x1="245.9" y1="345.5" x2="248.5" y2="345.5" stroke="#111" stroke-width="1"/>
<line x1="245.9" y1="340.5" x2="248.5" y2="340.5" stroke="#111" stroke-width="1"/>
<line x1="245.9" y1="336.5" x2="248.5" y2="336.5" stroke="#111" stroke-width="1"/>
<line x1="245.9" y1="334.5" x2="248.5" y2="334.5" stroke="#111" stroke-width="1"/>
<line x1="245.9" y1="331.5" x2="248.5" y2="331.5" stroke="#111" stroke-width="1"/>
<line x1="245.9" y1="329.5" x2="248.5" y2="329.5" stroke="#111" stroke-width="1"/>
<line x1="245.9" y1="327.5" x2="248.5" y2="327.5" stroke="#111" stroke-width="1"/>
<line x1="245.9" y1="326.5" x2="248.5" y2="326.5" stroke="#111" stroke-width="1"/>
<line x1="243.5" y1="324.5" x2="248.5" y2="324.5" stroke="#111" stroke-width="1"/>
<line x1="245.9" y1="315.5" x2="248.5" y2="315.5" stroke="#111" stroke-width="1"/>
<text x="254.6" y="328" font-size="12" font-weight="bold" fill="#000">6</text>
<text x="337.9" y="328" font-size="12" font-weight="bold" text-anchor="end" fill="#000">6</text>
<text x="238.6" y="435.2" font-size="11" fill="#111">10</text>
<text x="252.5" y="430.3" font-size="10.3" fill="#111">0</text>
<text x="332.1" y="435.2" font-size="11" fill="#111">10</text>
<text x="345.4" y="430.3" font-size="10.3" fill="#111">4</text>
<line x1="406.5" y1="313.0" x2="406.5" y2="416.0" stroke="#222" stroke-width="1"/>
<line x1="503.5" y1="313.0" x2="503.5" y2="416.0" stroke="#666" stroke-width="1"/>
<line x1="406.5" y1="313.5" x2="503.5" y2="313.5" stroke="#222" stroke-width="1"/>
<line x1="406.5" y1="415.5" x2="503.5" y2="415.5" stroke="#222" stroke-width="1"/>
<line x1="449.5" y1="313.5" x2="449.5" y2="415.5" stroke="#111" stroke-width="1"/>
<line x1="406.5" y1="354.5" x2="503.5" y2="354.5" stroke="#111" stroke-width="1"/>
<line x1="406.5" y1="415.5" x2="406.5" y2="420.0" stroke="#111" stroke-width="1"/>
<line x1="414.5" y1="415.5" x2="414.5" y2="418.0" stroke="#111" stroke-width="1"/>
<line x1="418.5" y1="415.5" x2="418.5" y2="418.0" stroke="#111" stroke-width="1"/>
<line x1="421.5" y1="415.5" x2="421.5" y2="418.0" stroke="#111" stroke-width="1"/>
<line x1="424.5" y1="415.5" x2="424.5" y2="418.0" stroke="#111" stroke-width="1"/>
<line x1="425.5" y1="415.5" x2="425.5" y2="418.0" stroke="#111" stroke-width="1"/>
<line x1="427.5" y1="415.5" x2="427.5" y2="418.0" stroke="#111" stroke-width="1"/>
<line x1="429.5" y1="415.5" x2="429.5" y2="418.0" stroke="#111" stroke-width="1"/>
<line x1="430.5" y1="415.5" x2="430.5" y2="418.0" stroke="#111" stroke-width="1"/>
<line x1="431.5" y1="415.5" x2="431.5" y2="420.0" stroke="#111" stroke-width="1"/>
<line x1="438.5" y1="415.5" x2="438.5" y2="418.0" stroke="#111" stroke-width="1"/>
<line x1="443.5" y1="415.5" x2="443.5" y2="418.0" stroke="#111" stroke-width="1"/>
<line x1="446.5" y1="415.5" x2="446.5" y2="418.0" stroke="#111" stroke-width="1"/>
<line x1="448.5" y1="415.5" x2="448.5" y2="418.0" stroke="#111" stroke-width="1"/>
<line x1="450.5" y1="415.5" x2="450.5" y2="418.0" stroke="#111" stroke-width="1"/>
<line x1="451.5" y1="415.5" x2="451.5" y2="418.0" stroke="#111" stroke-width="1"/>
<line x1="453.5" y1="415.5" x2="453.5" y2="418.0" stroke="#111" stroke-width="1"/>
<line x1="454.5" y1="415.5" x2="454.5" y2="418.0" stroke="#111" stroke-width="1"/>
<line x1="455.5" y1="415.5" x2="455.5" y2="420.0" stroke="#111" stroke-width="1"/>
<line x1="463.5" y1="415.5" x2="463.5" y2="418.0" stroke="#111" stroke-width="1"/>
<line x1="467.5" y1="415.5" x2="467.5" y2="418.0" stroke="#111" stroke-width="1"/>
<line x1="470.5" y1="415.5" x2="470.5" y2="418.0" stroke="#111" stroke-width="1"/>
<line x1="472.5" y1="415.5" x2="472.5" y2="418.0" stroke="#111" stroke-width="1"/>
<line x1="474.5" y1="415.5" x2="474.5" y2="418.0" stroke="#111" stroke-width="1"/>
<line x1="476.5" y1="415.5" x2="476.5" y2="418.0" stroke="#111" stroke-width="1"/>
<line x1="477.5" y1="415.5" x2="477.5" y2="418.0" stroke="#111" stroke-width="1"/>
<line x1="479.5" y1="415.5" x2="479.5" y2="418.0" stroke="#111" stroke-width="1"/>
<line x1="480.5" y1="415.5" x2="480.5" y2="420.0" stroke="#111" stroke-width="1"/>
<line x1="487.5" y1="415.5" x2="487.5" y2="418.0" stroke="#111" stroke-width="1"/>
<line x1="491.5" y1="415.5" x2="491.5" y2="418.0" stroke="#111" stroke-width="1"/>
<line x1="494.5" y1="415.5" x2="494.5" y2="418.0" stroke="#111" stroke-width="1"/>
<line x1="497.5" y1="415.5" x2="497.5" y2="418.0" stroke="#111" stroke-width="1"/>
<line x1="499.5" y1="415.5" x2="499.5" y2="418.0" stroke="#111" stroke-width="1"/>
<line x1="500.5" y1="415.5" x2="500.5" y2="418.0" stroke="#111" stroke-width="1"/>
<line x1="502.5" y1="415.5" x2="502.5" y2="418.0" stroke="#111" stroke-width="1"/>
<line x1="503.5" y1="415.5" x2="503.5" y2="418.0" stroke="#111" stroke-width="1"/>
<line x1="503.0" y1="415.7" x2="503.0" y2="420.2" stroke="#222" stroke-width="1"/>
<line x1="401.5" y1="414.5" x2="406.5" y2="414.5" stroke="#111" stroke-width="1"/>
<line x1="403.9" y1="405.5" x2="406.5" y2="405.5" stroke="#111" stroke-width="1"/>
<line x1="403.9" y1="400.5" x2="406.5" y2="400.5" stroke="#111" stroke-width="1"/>
<line x1="403.9" y1="396.5" x2="406.5" y2="396.5" stroke="#111" stroke-width="1"/>
<line x1="403.9" y1="393.5" x2="406.5" y2="393.5" stroke="#111" stroke-width="1"/>
<line x1="403.9" y1="391.5" x2="406.5" y2="391.5" stroke="#111" stroke-width="1"/>
<line x1="403.9" y1="389.5" x2="406.5" y2="389.5" stroke="#111" stroke-width="1"/>
<line x1="403.9" y1="387.5" x2="406.5" y2="387.5" stroke="#111" stroke-width="1"/>
<line x1="403.9" y1="386.5" x2="406.5" y2="386.5" stroke="#111" stroke-width="1"/>
<line x1="401.5" y1="384.5" x2="406.5" y2="384.5" stroke="#111" stroke-width="1"/>
<line x1="403.9" y1="375.5" x2="406.5" y2="375.5" stroke="#111" stroke-width="1"/>
<line x1="403.9" y1="370.5" x2="406.5" y2="370.5" stroke="#111" stroke-width="1"/>
<line x1="403.9" y1="366.5" x2="406.5" y2="366.5" stroke="#111" stroke-width="1"/>
<line x1="403.9" y1="363.5" x2="406.5" y2="363.5" stroke="#111" stroke-width="1"/>
<line x1="403.9" y1="361.5" x2="406.5" y2="361.5" stroke="#111" stroke-width="1"/>
<line x1="403.9" y1="359.5" x2="406.5" y2="359.5" stroke="#111" stroke-width="1"/>
<line x1="403.9" y1="357.5" x2="406.5" y2="357.5" stroke="#111" stroke-width="1"/>
<line x1="403.9" y1="356.5" x2="406.5" y2="356.5" stroke="#111" stroke-width="1"/>
<line x1="401.5" y1="354.5" x2="406.5" y2="354.5" stroke="#111" stroke-width="1"/>
<line x1="403.9" y1="345.5" x2="406.5" y2="345.5" stroke="#111" stroke-width="1"/>
<line x1="403.9" y1="340.5" x2="406.5" y2="340.5" stroke="#111" stroke-width="1"/>
<line x1="403.9" y1="336.5" x2="406.5" y2="336.5" stroke="#111" stroke-width="1"/>
<line x1="403.9" y1="333.5" x2="406.5" y2="333.5" stroke="#111" stroke-width="1"/>
<line x1="403.9" y1="331.5" x2="406.5" y2="331.5" stroke="#111" stroke-width="1"/>
<line x1="403.9" y1="329.5" x2="406.5" y2="329.5" stroke="#111" stroke-width="1"/>
<line x1="403.9" y1="327.5" x2="406.5" y2="327.5" stroke="#111" stroke-width="1"/>
<line x1="403.9" y1="326.5" x2="406.5" y2="326.5" stroke="#111" stroke-width="1"/>
<line x1="401.5" y1="324.5" x2="406.5" y2="324.5" stroke="#111" stroke-width="1"/>
<line x1="403.9" y1="315.5" x2="406.5" y2="315.5" stroke="#111" stroke-width="1"/>
<text x="413.0" y="325" font-size="12" font-weight="bold" fill="#000">3</text>
<text x="501.7" y="326" font-size="12" font-weight="bold" text-anchor="end" fill="#000">0.7</text>
<text x="396.6" y="434.9" font-size="11" fill="#111">10</text>
<text x="410.5" y="430.0" font-size="10.3" fill="#111">0</text>
<text x="492.1" y="434.9" font-size="11" fill="#111">10</text>
<text x="505.4" y="430.0" font-size="10.3" fill="#111">4</text>
<line x1="95.5" y1="461.0" x2="95.5" y2="562.0" stroke="#222" stroke-width="1"/>
<line x1="189.5" y1="461.0" x2="189.5" y2="562.0" stroke="#666" stroke-width="1"/>
<line x1="95.5" y1="461.5" x2="189.5" y2="461.5" stroke="#222" stroke-width="1"/>
<line x1="95.5" y1="561.5" x2="189.5" y2="561.5" stroke="#222" stroke-width="1"/>
<line x1="138.5" y1="461.5" x2="138.5" y2="561.5" stroke="#111" stroke-width="1"/>
<line x1="95.5" y1="504.5" x2="189.5" y2="504.5" stroke="#111" stroke-width="1"/>
<line x1="96.5" y1="561.5" x2="96.5" y2="566.0" stroke="#111" stroke-width="1"/>
<line x1="103.5" y1="561.5" x2="103.5" y2="564.0" stroke="#111" stroke-width="1"/>
<line x1="107.5" y1="561.5" x2="107.5" y2="564.0" stroke="#111" stroke-width="1"/>
<line x1="110.5" y1="561.5" x2="110.5" y2="564.0" stroke="#111" stroke-width="1"/>
<line x1="113.5" y1="561.5" x2="113.5" y2="564.0" stroke="#111" stroke-width="1"/>
<line x1="114.5" y1="561.5" x2="114.5" y2="564.0" stroke="#111" stroke-width="1"/>
<line x1="116.5" y1="561.5" x2="116.5" y2="564.0" stroke="#111" stroke-width="1"/>
<line x1="117.5" y1="561.5" x2="117.5" y2="564.0" stroke="#111" stroke-width="1"/>
<line x1="119.5" y1="561.5" x2="119.5" y2="564.0" stroke="#111" stroke-width="1"/>
<line x1="120.5" y1="561.5" x2="120.5" y2="566.0" stroke="#111" stroke-width="1"/>
<line x1="127.5" y1="561.5" x2="127.5" y2="564.0" stroke="#111" stroke-width="1"/>
<line x1="131.5" y1="561.5" x2="131.5" y2="564.0" stroke="#111" stroke-width="1"/>
<line x1="134.5" y1="561.5" x2="134.5" y2="564.0" stroke="#111" stroke-width="1"/>
<line x1="136.5" y1="561.5" x2="136.5" y2="564.0" stroke="#111" stroke-width="1"/>
<line x1="138.5" y1="561.5" x2="138.5" y2="564.0" stroke="#111" stroke-width="1"/>
<line x1="140.5" y1="561.5" x2="140.5" y2="564.0" stroke="#111" stroke-width="1"/>
<line x1="141.5" y1="561.5" x2="141.5" y2="564.0" stroke="#111" stroke-width="1"/>
<line x1="142.5" y1="561.5" x2="142.5" y2="564.0" stroke="#111" stroke-width="1"/>
<line x1="143.5" y1="561.5" x2="143.5" y2="566.0" stroke="#111" stroke-width="1"/>
<line x1="150.5" y1="561.5" x2="150.5" y2="564.0" stroke="#111" stroke-width="1"/>
<line x1="154.5" y1="561.5" x2="154.5" y2="564.0" stroke="#111" stroke-width="1"/>
<line x1="157.5" y1="561.5" x2="157.5" y2="564.0" stroke="#111" stroke-width="1"/>
<line x1="160.5" y1="561.5" x2="160.5" y2="564.0" stroke="#111" stroke-width="1"/>
<line x1="161.5" y1="561.5" x2="161.5" y2="564.0" stroke="#111" stroke-width="1"/>
<line x1="163.5" y1="561.5" x2="163.5" y2="564.0" stroke="#111" stroke-width="1"/>
<line x1="164.5" y1="561.5" x2="164.5" y2="564.0" stroke="#111" stroke-width="1"/>
<line x1="166.5" y1="561.5" x2="166.5" y2="564.0" stroke="#111" stroke-width="1"/>
<line x1="167.5" y1="561.5" x2="167.5" y2="566.0" stroke="#111" stroke-width="1"/>
<line x1="174.5" y1="561.5" x2="174.5" y2="564.0" stroke="#111" stroke-width="1"/>
<line x1="178.5" y1="561.5" x2="178.5" y2="564.0" stroke="#111" stroke-width="1"/>
<line x1="181.5" y1="561.5" x2="181.5" y2="564.0" stroke="#111" stroke-width="1"/>
<line x1="183.5" y1="561.5" x2="183.5" y2="564.0" stroke="#111" stroke-width="1"/>
<line x1="185.5" y1="561.5" x2="185.5" y2="564.0" stroke="#111" stroke-width="1"/>
<line x1="186.5" y1="561.5" x2="186.5" y2="564.0" stroke="#111" stroke-width="1"/>
<line x1="188.5" y1="561.5" x2="188.5" y2="564.0" stroke="#111" stroke-width="1"/>
<line x1="189.5" y1="561.5" x2="189.5" y2="564.0" stroke="#111" stroke-width="1"/>
<line x1="189.1" y1="561.5" x2="189.1" y2="566.0" stroke="#222" stroke-width="1"/>
<line x1="90.5" y1="560.5" x2="95.5" y2="560.5" stroke="#111" stroke-width="1"/>
<line x1="92.9" y1="551.5" x2="95.5" y2="551.5" stroke="#111" stroke-width="1"/>
<line x1="92.9" y1="546.5" x2="95.5" y2="546.5" stroke="#111" stroke-width="1"/>
<line x1="92.9" y1="542.5" x2="95.5" y2="542.5" stroke="#111" stroke-width="1"/>
<line x1="92.9" y1="539.5" x2="95.5" y2="539.5" stroke="#111" stroke-width="1"/>
<line x1="92.9" y1="537.5" x2="95.5" y2="537.5" stroke="#111" stroke-width="1"/>
<line x1="92.9" y1="535.5" x2="95.5" y2="535.5" stroke="#111" stroke-width="1"/>
<line x1="92.9" y1="533.5" x2="95.5" y2="533.5" stroke="#111" stroke-width="1"/>
<line x1="92.9" y1="531.5" x2="95.5" y2="531.5" stroke="#111" stroke-width="1"/>
<line x1="90.5" y1="530.5" x2="95.5" y2="530.5" stroke="#111" stroke-width="1"/>
<line x1="92.9" y1="521.5" x2="95.5" y2="521.5" stroke="#111" stroke-width="1"/>
<line x1="92.9" y1="516.5" x2="95.5" y2="516.5" stroke="#111" stroke-width="1"/>
<line x1="92.9" y1="512.5" x2="95.5" y2="512.5" stroke="#111" stroke-width="1"/>
<line x1="92.9" y1="509.5" x2="95.5" y2="509.5" stroke="#111" stroke-width="1"/>
<line x1="92.9" y1="507.5" x2="95.5" y2="507.5" stroke="#111" stroke-width="1"/>
<line x1="92.9" y1="505.5" x2="95.5" y2="505.5" stroke="#111" stroke-width="1"/>
<line x1="92.9" y1="503.5" x2="95.5" y2="503.5" stroke="#111" stroke-width="1"/>
<line x1="92.9" y1="501.5" x2="95.5" y2="501.5" stroke="#111" stroke-width="1"/>
<line x1="90.5" y1="500.5" x2="95.5" y2="500.5" stroke="#111" stroke-width="1"/>
<line x1="92.9" y1="491.5" x2="95.5" y2="491.5" stroke="#111" stroke-width="1"/>
<line x1="92.9" y1="486.5" x2="95.5" y2="486.5" stroke="#111" stroke-width="1"/>
<line x1="92.9" y1="482.5" x2="95.5" y2="482.5" stroke="#111" stroke-width="1"/>
<line x1="92.9" y1="479.5" x2="95.5" y2="479.5" stroke="#111" stroke-width="1"/>
<line x1="92.9" y1="477.5" x2="95.5" y2="477.5" stroke="#111" stroke-width="1"/>
<line x1="92.9" y1="475.5" x2="95.5" y2="475.5" stroke="#111" stroke-width="1"/>
<line x1="92.9" y1="473.5" x2="95.5" y2="473.5" stroke="#111" stroke-width="1"/>
<line x1="92.9" y1="471.5" x2="95.5" y2="471.5" stroke="#111" stroke-width="1"/>
<line x1="90.5" y1="470.5" x2="95.5" y2="470.5" stroke="#111" stroke-width="1"/>
<line x1="92.9" y1="461.5" x2="95.5" y2="461.5" stroke="#111" stroke-width="1"/>
<text x="98.2" y="474.3" font-size="12" font-weight="bold" fill="#000">4.5</text>
<text x="189.8" y="474.3" font-size="12" font-weight="bold" text-anchor="end" fill="#000">0.5</text>
<text x="86.3" y="580.7" font-size="11" fill="#111">10</text>
<text x="100.2" y="575.8" font-size="10.3" fill="#111">0</text>
<text x="178.2" y="580.7" font-size="11" fill="#111">10</text>
<text x="191.5" y="575.8" font-size="10.3" fill="#111">4</text>
<line x1="248.5" y1="461.0" x2="248.5" y2="563.0" stroke="#222" stroke-width="1"/>
<line x1="342.5" y1="461.0" x2="342.5" y2="563.0" stroke="#666" stroke-width="1"/>
<line x1="248.5" y1="461.5" x2="342.5" y2="461.5" stroke="#222" stroke-width="1"/>
<line x1="248.5" y1="562.5" x2="342.5" y2="562.5" stroke="#222" stroke-width="1"/>
<line x1="290.5" y1="461.5" x2="290.5" y2="562.5" stroke="#111" stroke-width="1"/>
<line x1="248.5" y1="504.5" x2="342.5" y2="504.5" stroke="#111" stroke-width="1"/>
<line x1="248.5" y1="562.5" x2="248.5" y2="567.0" stroke="#111" stroke-width="1"/>
<line x1="256.5" y1="562.5" x2="256.5" y2="565.0" stroke="#111" stroke-width="1"/>
<line x1="260.5" y1="562.5" x2="260.5" y2="565.0" stroke="#111" stroke-width="1"/>
<line x1="263.5" y1="562.5" x2="263.5" y2="565.0" stroke="#111" stroke-width="1"/>
<line x1="265.5" y1="562.5" x2="265.5" y2="565.0" stroke="#111" stroke-width="1"/>
<line x1="267.5" y1="562.5" x2="267.5" y2="565.0" stroke="#111" stroke-width="1"/>
<line x1="269.5" y1="562.5" x2="269.5" y2="565.0" stroke="#111" stroke-width="1"/>
<line x1="270.5" y1="562.5" x2="270.5" y2="565.0" stroke="#111" stroke-width="1"/>
<line x1="271.5" y1="562.5" x2="271.5" y2="565.0" stroke="#111" stroke-width="1"/>
<line x1="272.5" y1="562.5" x2="272.5" y2="567.0" stroke="#111" stroke-width="1"/>
<line x1="279.5" y1="562.5" x2="279.5" y2="565.0" stroke="#111" stroke-width="1"/>
<line x1="284.5" y1="562.5" x2="284.5" y2="565.0" stroke="#111" stroke-width="1"/>
<line x1="287.5" y1="562.5" x2="287.5" y2="565.0" stroke="#111" stroke-width="1"/>
<line x1="289.5" y1="562.5" x2="289.5" y2="565.0" stroke="#111" stroke-width="1"/>
<line x1="291.5" y1="562.5" x2="291.5" y2="565.0" stroke="#111" stroke-width="1"/>
<line x1="292.5" y1="562.5" x2="292.5" y2="565.0" stroke="#111" stroke-width="1"/>
<line x1="294.5" y1="562.5" x2="294.5" y2="565.0" stroke="#111" stroke-width="1"/>
<line x1="295.5" y1="562.5" x2="295.5" y2="565.0" stroke="#111" stroke-width="1"/>
<line x1="296.5" y1="562.5" x2="296.5" y2="567.0" stroke="#111" stroke-width="1"/>
<line x1="303.5" y1="562.5" x2="303.5" y2="565.0" stroke="#111" stroke-width="1"/>
<line x1="307.5" y1="562.5" x2="307.5" y2="565.0" stroke="#111" stroke-width="1"/>
<line x1="310.5" y1="562.5" x2="310.5" y2="565.0" stroke="#111" stroke-width="1"/>
<line x1="313.5" y1="562.5" x2="313.5" y2="565.0" stroke="#111" stroke-width="1"/>
<line x1="314.5" y1="562.5" x2="314.5" y2="565.0" stroke="#111" stroke-width="1"/>
<line x1="316.5" y1="562.5" x2="316.5" y2="565.0" stroke="#111" stroke-width="1"/>
<line x1="317.5" y1="562.5" x2="317.5" y2="565.0" stroke="#111" stroke-width="1"/>
<line x1="319.5" y1="562.5" x2="319.5" y2="565.0" stroke="#111" stroke-width="1"/>
<line x1="320.5" y1="562.5" x2="320.5" y2="567.0" stroke="#111" stroke-width="1"/>
<line x1="327.5" y1="562.5" x2="327.5" y2="565.0" stroke="#111" stroke-width="1"/>
<line x1="331.5" y1="562.5" x2="331.5" y2="565.0" stroke="#111" stroke-width="1"/>
<line x1="334.5" y1="562.5" x2="334.5" y2="565.0" stroke="#111" stroke-width="1"/>
<line x1="336.5" y1="562.5" x2="336.5" y2="565.0" stroke="#111" stroke-width="1"/>
<line x1="338.5" y1="562.5" x2="338.5" y2="565.0" stroke="#111" stroke-width="1"/>
<line x1="340.5" y1="562.5" x2="340.5" y2="565.0" stroke="#111" stroke-width="1"/>
<line x1="341.5" y1="562.5" x2="341.5" y2="565.0" stroke="#111" stroke-width="1"/>
<line x1="342.5" y1="562.5" x2="342.5" y2="565.0" stroke="#111" stroke-width="1"/>
<line x1="342.5" y1="563.0" x2="342.5" y2="567.5" stroke="#222" stroke-width="1"/>
<line x1="243.5" y1="562.5" x2="248.5" y2="562.5" stroke="#111" stroke-width="1"/>
<line x1="245.9" y1="552.5" x2="248.5" y2="552.5" stroke="#111" stroke-width="1"/>
<line x1="245.9" y1="547.5" x2="248.5" y2="547.5" stroke="#111" stroke-width="1"/>
<line x1="245.9" y1="543.5" x2="248.5" y2="543.5" stroke="#111" stroke-width="1"/>
<line x1="245.9" y1="541.5" x2="248.5" y2="541.5" stroke="#111" stroke-width="1"/>
<line x1="245.9" y1="538.5" x2="248.5" y2="538.5" stroke="#111" stroke-width="1"/>
<line x1="245.9" y1="536.5" x2="248.5" y2="536.5" stroke="#111" stroke-width="1"/>
<line x1="245.9" y1="534.5" x2="248.5" y2="534.5" stroke="#111" stroke-width="1"/>
<line x1="245.9" y1="533.5" x2="248.5" y2="533.5" stroke="#111" stroke-width="1"/>
<line x1="243.5" y1="532.5" x2="248.5" y2="532.5" stroke="#111" stroke-width="1"/>
<line x1="245.9" y1="522.5" x2="248.5" y2="522.5" stroke="#111" stroke-width="1"/>
<line x1="245.9" y1="517.5" x2="248.5" y2="517.5" stroke="#111" stroke-width="1"/>
<line x1="245.9" y1="513.5" x2="248.5" y2="513.5" stroke="#111" stroke-width="1"/>
<line x1="245.9" y1="511.5" x2="248.5" y2="511.5" stroke="#111" stroke-width="1"/>
<line x1="245.9" y1="508.5" x2="248.5" y2="508.5" stroke="#111" stroke-width="1"/>
<line x1="245.9" y1="506.5" x2="248.5" y2="506.5" stroke="#111" stroke-width="1"/>
<line x1="245.9" y1="504.5" x2="248.5" y2="504.5" stroke="#111" stroke-width="1"/>
<line x1="245.9" y1="503.5" x2="248.5" y2="503.5" stroke="#111" stroke-width="1"/>
<line x1="243.5" y1="502.5" x2="248.5" y2="502.5" stroke="#111" stroke-width="1"/>
<line x1="245.9" y1="492.5" x2="248.5" y2="492.5" stroke="#111" stroke-width="1"/>
<line x1="245.9" y1="487.5" x2="248.5" y2="487.5" stroke="#111" stroke-width="1"/>
<line x1="245.9" y1="483.5" x2="248.5" y2="483.5" stroke="#111" stroke-width="1"/>
<line x1="245.9" y1="481.5" x2="248.5" y2="481.5" stroke="#111" stroke-width="1"/>
<line x1="245.9" y1="478.5" x2="248.5" y2="478.5" stroke="#111" stroke-width="1"/>
<line x1="245.9" y1="476.5" x2="248.5" y2="476.5" stroke="#111" stroke-width="1"/>
<line x1="245.9" y1="474.5" x2="248.5" y2="474.5" stroke="#111" stroke-width="1"/>
<line x1="245.9" y1="473.5" x2="248.5" y2="473.5" stroke="#111" stroke-width="1"/>
<line x1="243.5" y1="472.5" x2="248.5" y2="472.5" stroke="#111" stroke-width="1"/>
<line x1="245.9" y1="462.5" x2="248.5" y2="462.5" stroke="#111" stroke-width="1"/>
<text x="249.6" y="474.3" font-size="12" font-weight="bold" fill="#000">12</text>
<text x="339.9" y="475.3" font-size="12" font-weight="bold" text-anchor="end" fill="#000">11</text>
<text x="238.6" y="582.2" font-size="11" fill="#111">10</text>
<text x="252.5" y="577.3" font-size="10.3" fill="#111">0</text>
<text x="331.6" y="582.2" font-size="11" fill="#111">10</text>
<text x="344.9" y="577.3" font-size="10.3" fill="#111">4</text>
<line x1="404.5" y1="459.0" x2="404.5" y2="561.0" stroke="#222" stroke-width="1"/>
<line x1="502.5" y1="459.0" x2="502.5" y2="561.0" stroke="#666" stroke-width="1"/>
<line x1="404.5" y1="459.5" x2="502.5" y2="459.5" stroke="#222" stroke-width="1"/>
<line x1="404.5" y1="560.5" x2="502.5" y2="560.5" stroke="#222" stroke-width="1"/>
<line x1="448.5" y1="459.5" x2="448.5" y2="560.5" stroke="#111" stroke-width="1"/>
<line x1="404.5" y1="500.5" x2="502.5" y2="500.5" stroke="#111" stroke-width="1"/>
<line x1="405.5" y1="560.5" x2="405.5" y2="565.0" stroke="#111" stroke-width="1"/>
<line x1="412.5" y1="560.5" x2="412.5" y2="563.0" stroke="#111" stroke-width="1"/>
<line x1="417.5" y1="560.5" x2="417.5" y2="563.0" stroke="#111" stroke-width="1"/>
<line x1="420.5" y1="560.5" x2="420.5" y2="563.0" stroke="#111" stroke-width="1"/>
<line x1="422.5" y1="560.5" x2="422.5" y2="563.0" stroke="#111" stroke-width="1"/>
<line x1="424.5" y1="560.5" x2="424.5" y2="563.0" stroke="#111" stroke-width="1"/>
<line x1="426.5" y1="560.5" x2="426.5" y2="563.0" stroke="#111" stroke-width="1"/>
<line x1="427.5" y1="560.5" x2="427.5" y2="563.0" stroke="#111" stroke-width="1"/>
<line x1="428.5" y1="560.5" x2="428.5" y2="563.0" stroke="#111" stroke-width="1"/>
<line x1="430.5" y1="560.5" x2="430.5" y2="565.0" stroke="#111" stroke-width="1"/>
<line x1="437.5" y1="560.5" x2="437.5" y2="563.0" stroke="#111" stroke-width="1"/>
<line x1="441.5" y1="560.5" x2="441.5" y2="563.0" stroke="#111" stroke-width="1"/>
<line x1="444.5" y1="560.5" x2="444.5" y2="563.0" stroke="#111" stroke-width="1"/>
<line x1="447.5" y1="560.5" x2="447.5" y2="563.0" stroke="#111" stroke-width="1"/>
<line x1="449.5" y1="560.5" x2="449.5" y2="563.0" stroke="#111" stroke-width="1"/>
<line x1="450.5" y1="560.5" x2="450.5" y2="563.0" stroke="#111" stroke-width="1"/>
<line x1="452.5" y1="560.5" x2="452.5" y2="563.0" stroke="#111" stroke-width="1"/>
<line x1="453.5" y1="560.5" x2="453.5" y2="563.0" stroke="#111" stroke-width="1"/>
<line x1="454.5" y1="560.5" x2="454.5" y2="565.0" stroke="#111" stroke-width="1"/>
<line x1="461.5" y1="560.5" x2="461.5" y2="563.0" stroke="#111" stroke-width="1"/>
<line x1="466.5" y1="560.5" x2="466.5" y2="563.0" stroke="#111" stroke-width="1"/>
<line x1="469.5" y1="560.5" x2="469.5" y2="563.0" stroke="#111" stroke-width="1"/>
<line x1="471.5" y1="560.5" x2="471.5" y2="563.0" stroke="#111" stroke-width="1"/>
<line x1="473.5" y1="560.5" x2="473.5" y2="563.0" stroke="#111" stroke-width="1"/>
<line x1="475.5" y1="560.5" x2="475.5" y2="563.0" stroke="#111" stroke-width="1"/>
<line x1="476.5" y1="560.5" x2="476.5" y2="563.0" stroke="#111" stroke-width="1"/>
<line x1="478.5" y1="560.5" x2="478.5" y2="563.0" stroke="#111" stroke-width="1"/>
<line x1="479.5" y1="560.5" x2="479.5" y2="565.0" stroke="#111" stroke-width="1"/>
<line x1="486.5" y1="560.5" x2="486.5" y2="563.0" stroke="#111" stroke-width="1"/>
<line x1="490.5" y1="560.5" x2="490.5" y2="563.0" stroke="#111" stroke-width="1"/>
<line x1="493.5" y1="560.5" x2="493.5" y2="563.0" stroke="#111" stroke-width="1"/>
<line x1="496.5" y1="560.5" x2="496.5" y2="563.0" stroke="#111" stroke-width="1"/>
<line x1="498.5" y1="560.5" x2="498.5" y2="563.0" stroke="#111" stroke-width="1"/>
<line x1="499.5" y1="560.5" x2="499.5" y2="563.0" stroke="#111" stroke-width="1"/>
<line x1="501.5" y1="560.5" x2="501.5" y2="563.0" stroke="#111" stroke-width="1"/>
<line x1="502.5" y1="560.5" x2="502.5" y2="563.0" stroke="#111" stroke-width="1"/>
<line x1="502.2" y1="560.4" x2="502.2" y2="564.9" stroke="#222" stroke-width="1"/>
<line x1="399.5" y1="559.5" x2="404.5" y2="559.5" stroke="#111" stroke-width="1"/>
<line x1="401.9" y1="550.5" x2="404.5" y2="550.5" stroke="#111" stroke-width="1"/>
<line x1="401.9" y1="545.5" x2="404.5" y2="545.5" stroke="#111" stroke-width="1"/>
<line x1="401.9" y1="541.5" x2="404.5" y2="541.5" stroke="#111" stroke-width="1"/>
<line x1="401.9" y1="538.5" x2="404.5" y2="538.5" stroke="#111" stroke-width="1"/>
<line x1="401.9" y1="536.5" x2="404.5" y2="536.5" stroke="#111" stroke-width="1"/>
<line x1="401.9" y1="534.5" x2="404.5" y2="534.5" stroke="#111" stroke-width="1"/>
<line x1="401.9" y1="532.5" x2="404.5" y2="532.5" stroke="#111" stroke-width="1"/>
<line x1="401.9" y1="530.5" x2="404.5" y2="530.5" stroke="#111" stroke-width="1"/>
<line x1="399.5" y1="529.5" x2="404.5" y2="529.5" stroke="#111" stroke-width="1"/>
<line x1="401.9" y1="520.5" x2="404.5" y2="520.5" stroke="#111" stroke-width="1"/>
<line x1="401.9" y1="515.5" x2="404.5" y2="515.5" stroke="#111" stroke-width="1"/>
<line x1="401.9" y1="511.5" x2="404.5" y2="511.5" stroke="#111" stroke-width="1"/>
<line x1="401.9" y1="508.5" x2="404.5" y2="508.5" stroke="#111" stroke-width="1"/>
<line x1="401.9" y1="506.5" x2="404.5" y2="506.5" stroke="#111" stroke-width="1"/>
<line x1="401.9" y1="504.5" x2="404.5" y2="504.5" stroke="#111" stroke-width="1"/>
<line x1="401.9" y1="502.5" x2="404.5" y2="502.5" stroke="#111" stroke-width="1"/>
<line x1="401.9" y1="500.5" x2="404.5" y2="500.5" stroke="#111" stroke-width="1"/>
<line x1="399.5" y1="499.5" x2="404.5" y2="499.5" stroke="#111" stroke-width="1"/>
<line x1="401.9" y1="490.5" x2="404.5" y2="490.5" stroke="#111" stroke-width="1"/>
<line x1="401.9" y1="485.5" x2="404.5" y2="485.5" stroke="#111" stroke-width="1"/>
<line x1="401.9" y1="481.5" x2="404.5" y2="481.5" stroke="#111" stroke-width="1"/>
<line x1="401.9" y1="478.5" x2="404.5" y2="478.5" stroke="#111" stroke-width="1"/>
<line x1="401.9" y1="476.5" x2="404.5" y2="476.5" stroke="#111" stroke-width="1"/>
<line x1="401.9" y1="474.5" x2="404.5" y2="474.5" stroke="#111" stroke-width="1"/>
<line x1="401.9" y1="472.5" x2="404.5" y2="472.5" stroke="#111" stroke-width="1"/>
<line x1="401.9" y1="470.5" x2="404.5" y2="470.5" stroke="#111" stroke-width="1"/>
<line x1="399.5" y1="469.5" x2="404.5" y2="469.5" stroke="#111" stroke-width="1"/>
<line x1="401.9" y1="460.5" x2="404.5" y2="460.5" stroke="#111" stroke-width="1"/>
<text x="408.2" y="472.7" font-size="12" font-weight="bold" fill="#000">2.6</text>
<text x="500.7" y="472.7" font-size="12" font-weight="bold" text-anchor="end" fill="#000">0.2</text>
<text x="395.1" y="579.6" font-size="11" fill="#111">10</text>
<text x="409.0" y="574.7" font-size="10.3" fill="#111">0</text>
<text x="491.3" y="579.6" font-size="11" fill="#111">10</text>
<text x="504.6" y="574.7" font-size="10.3" fill="#111">4</text>
<text x="0.3" y="653.3" font-size="29.9" font-weight="bold" textLength="20.6" lengthAdjust="spacingAndGlyphs" fill="#000">B</text>
<line x1="100.5" y1="634" x2="100.5" y2="883" stroke="#888" stroke-width="1"/>
<line x1="97.5" y1="882.5" x2="100.5" y2="882.5" stroke="#888" stroke-width="1"/>
<text x="88.4" y="885.5" font-size="9.8" font-weight="bold" textLength="6.2" lengthAdjust="spacingAndGlyphs" fill="#111" stroke="#111" stroke-width="0.3">0</text>
<line x1="97.5" y1="851.5" x2="100.5" y2="851.5" stroke="#888" stroke-width="1"/>
<text x="82.9" y="854.5" font-size="9.8" font-weight="bold" textLength="12.4" lengthAdjust="spacingAndGlyphs" fill="#111" stroke="#111" stroke-width="0.3">10</text>
<line x1="97.5" y1="820.5" x2="100.5" y2="820.5" stroke="#888" stroke-width="1"/>
<text x="82.9" y="823.5" font-size="9.8" font-weight="bold" textLength="12.4" lengthAdjust="spacingAndGlyphs" fill="#111" stroke="#111" stroke-width="0.3">20</text>
<line x1="97.5" y1="789.5" x2="100.5" y2="789.5" stroke="#888" stroke-width="1"/>
<text x="82.9" y="792.5" font-size="9.8" font-weight="bold" textLength="12.4" lengthAdjust="spacingAndGlyphs" fill="#111" stroke="#111" stroke-width="0.3">30</text>
<line x1="97.5" y1="758.5" x2="100.5" y2="758.5" stroke="#888" stroke-width="1"/>
<text x="82.9" y="761.5" font-size="9.8" font-weight="bold" textLength="12.4" lengthAdjust="spacingAndGlyphs" fill="#111" stroke="#111" stroke-width="0.3">40</text>
<line x1="97.5" y1="727.5" x2="100.5" y2="727.5" stroke="#888" stroke-width="1"/>
<text x="82.9" y="730.5" font-size="9.8" font-weight="bold" textLength="12.4" lengthAdjust="spacingAndGlyphs" fill="#111" stroke="#111" stroke-width="0.3">50</text>
<line x1="97.5" y1="696.5" x2="100.5" y2="696.5" stroke="#888" stroke-width="1"/>
<text x="82.9" y="699.5" font-size="9.8" font-weight="bold" textLength="12.4" lengthAdjust="spacingAndGlyphs" fill="#111" stroke="#111" stroke-width="0.3">60</text>
<line x1="97.5" y1="665.5" x2="100.5" y2="665.5" stroke="#888" stroke-width="1"/>
<text x="82.9" y="668.5" font-size="9.8" font-weight="bold" textLength="12.4" lengthAdjust="spacingAndGlyphs" fill="#111" stroke="#111" stroke-width="0.3">70</text>
<line x1="97.5" y1="634.5" x2="100.5" y2="634.5" stroke="#888" stroke-width="1"/>
<text x="82.9" y="637.5" font-size="9.8" font-weight="bold" textLength="12.4" lengthAdjust="spacingAndGlyphs" fill="#111" stroke="#111" stroke-width="0.3">80</text>
<line x1="100.5" y1="882.5" x2="453.8" y2="882.5" stroke="#888" stroke-width="1"/>
<line x1="100.4" y1="882.5" x2="100.4" y2="885.0" stroke="#888" stroke-width="1.2"/>
<line x1="150.8" y1="882.5" x2="150.8" y2="885.0" stroke="#888" stroke-width="1.2"/>
<line x1="201.2" y1="882.5" x2="201.2" y2="885.0" stroke="#888" stroke-width="1.2"/>
<line x1="251.6" y1="882.5" x2="251.6" y2="885.0" stroke="#888" stroke-width="1.2"/>
<line x1="302.0" y1="882.5" x2="302.0" y2="885.0" stroke="#888" stroke-width="1.2"/>
<line x1="352.4" y1="882.5" x2="352.4" y2="885.0" stroke="#888" stroke-width="1.2"/>
<line x1="402.79999999999995" y1="882.5" x2="402.79999999999995" y2="885.0" stroke="#888" stroke-width="1.2"/>
<line x1="453.20000000000005" y1="882.5" x2="453.20000000000005" y2="885.0" stroke="#888" stroke-width="1.2"/>
<line x1="453.8" y1="882.5" x2="453.8" y2="885.0" stroke="#888" stroke-width="1.2"/>
<line x1="118.1" y1="773" x2="118.1" y2="736" stroke="#3a3a3a" stroke-width="1.1"/>
<line x1="115.6" y1="736" x2="120.6" y2="736" stroke="#3a3a3a" stroke-width="1.3"/>
<line x1="132.3" y1="761.5" x2="132.3" y2="708.5" stroke="#555" stroke-width="1.1"/>
<line x1="129.8" y1="708.5" x2="134.8" y2="708.5" stroke="#555" stroke-width="1.3"/>
<rect x="111.0" y="773" width="13.9" height="109.5" fill="#000"/>
<rect x="125.4" y="762.0" width="13.9" height="120.5" fill="#b6b6b6" stroke="#2a2a2a" stroke-width="1"/>
<line x1="168.4" y1="703.5" x2="168.4" y2="668.5" stroke="#3a3a3a" stroke-width="1.1"/>
<line x1="165.9" y1="668.5" x2="170.9" y2="668.5" stroke="#3a3a3a" stroke-width="1.3"/>
<line x1="182.60000000000002" y1="690.4" x2="182.60000000000002" y2="642.5" stroke="#555" stroke-width="1.1"/>
<line x1="180.10000000000002" y1="642.5" x2="185.10000000000002" y2="642.5" stroke="#555" stroke-width="1.3"/>
<rect x="161.3" y="703.5" width="13.9" height="179.0" fill="#000"/>
<rect x="175.7" y="690.9" width="13.9" height="191.6" fill="#b6b6b6" stroke="#2a2a2a" stroke-width="1"/>
<line x1="218.7" y1="784.6" x2="218.7" y2="757.7" stroke="#3a3a3a" stroke-width="1.1"/>
<line x1="216.2" y1="757.7" x2="221.2" y2="757.7" stroke="#3a3a3a" stroke-width="1.3"/>
<line x1="232.9" y1="770.4" x2="232.9" y2="750.8" stroke="#555" stroke-width="1.1"/>
<line x1="230.4" y1="750.8" x2="235.4" y2="750.8" stroke="#555" stroke-width="1.3"/>
<rect x="211.6" y="784.6" width="13.9" height="97.9" fill="#000"/>
<rect x="226.0" y="770.9" width="13.9" height="111.6" fill="#b6b6b6" stroke="#2a2a2a" stroke-width="1"/>
<line x1="269.0" y1="840" x2="269.0" y2="827.7" stroke="#3a3a3a" stroke-width="1.1"/>
<line x1="266.5" y1="827.7" x2="271.5" y2="827.7" stroke="#3a3a3a" stroke-width="1.3"/>
<line x1="283.19999999999993" y1="815.4" x2="283.19999999999993" y2="777.7" stroke="#555" stroke-width="1.1"/>
<line x1="280.69999999999993" y1="777.7" x2="285.69999999999993" y2="777.7" stroke="#555" stroke-width="1.3"/>
<rect x="261.9" y="840" width="13.9" height="42.5" fill="#000"/>
<rect x="276.3" y="815.9" width="13.9" height="66.6" fill="#b6b6b6" stroke="#2a2a2a" stroke-width="1"/>
<line x1="319.3" y1="831" x2="319.3" y2="816.5" stroke="#3a3a3a" stroke-width="1.1"/>
<line x1="316.8" y1="816.5" x2="321.8" y2="816.5" stroke="#3a3a3a" stroke-width="1.3"/>
<line x1="333.49999999999994" y1="809.2" x2="333.49999999999994" y2="764.2" stroke="#555" stroke-width="1.1"/>
<line x1="330.99999999999994" y1="764.2" x2="335.99999999999994" y2="764.2" stroke="#555" stroke-width="1.3"/>
<rect x="312.2" y="831" width="13.9" height="51.5" fill="#000"/>
<rect x="326.6" y="809.7" width="13.9" height="72.8" fill="#b6b6b6" stroke="#2a2a2a" stroke-width="1"/>
<line x1="369.6" y1="820" x2="369.6" y2="786.5" stroke="#3a3a3a" stroke-width="1.1"/>
<line x1="367.1" y1="786.5" x2="372.1" y2="786.5" stroke="#3a3a3a" stroke-width="1.3"/>
<line x1="383.79999999999995" y1="813.5" x2="383.79999999999995" y2="767.3" stroke="#555" stroke-width="1.1"/>
<line x1="381.29999999999995" y1="767.3" x2="386.29999999999995" y2="767.3" stroke="#555" stroke-width="1.3"/>
<rect x="362.5" y="820" width="13.9" height="62.5" fill="#000"/>
<rect x="376.9" y="814.0" width="13.9" height="68.5" fill="#b6b6b6" stroke="#2a2a2a" stroke-width="1"/>
<line x1="419.9" y1="859.2" x2="419.9" y2="844.3" stroke="#3a3a3a" stroke-width="1.1"/>
<line x1="417.4" y1="844.3" x2="422.4" y2="844.3" stroke="#3a3a3a" stroke-width="1.3"/>
<line x1="434.0999999999999" y1="851.4" x2="434.0999999999999" y2="818.5" stroke="#555" stroke-width="1.1"/>
<line x1="431.5999999999999" y1="818.5" x2="436.5999999999999" y2="818.5" stroke="#555" stroke-width="1.3"/>
<rect x="412.8" y="859.2" width="13.9" height="23.3" fill="#000"/>
<rect x="427.2" y="851.9" width="13.9" height="30.6" fill="#b6b6b6" stroke="#2a2a2a" stroke-width="1"/>
<polyline points="130.6,699.6 130.6,680.4 334.2,680.4 334.2,760.4" fill="none" stroke="#444" stroke-width="1" stroke-dasharray="2.5 1.5"/>
<polyline points="186.7,676.5 186.7,656.3 383.8,656.3 383.8,753.4" fill="none" stroke="#444" stroke-width="1" stroke-dasharray="2.5 1.5"/>
<polyline points="232.7,747 232.7,734.6 434.9,734.6 434.9,808.5" fill="none" stroke="#444" stroke-width="1" stroke-dasharray="2.5 1.5"/>
<text x="286.8" y="655.2" font-size="11.3" font-weight="bold" textLength="11.8" lengthAdjust="spacingAndGlyphs" fill="#000" stroke="#000" stroke-width="0.25">3x</text>
<text x="272" y="680.4" font-size="11.3" font-weight="bold" textLength="21.4" lengthAdjust="spacingAndGlyphs" fill="#000" stroke="#000" stroke-width="0.25">1,5x</text>
<text x="409.6" y="733.6" font-size="11.3" font-weight="bold" textLength="12.1" lengthAdjust="spacingAndGlyphs" fill="#000" stroke="#000" stroke-width="0.25">3x</text>
<rect x="204.5" y="694.5" width="76" height="30.3" fill="#fff" stroke="#999" stroke-width="1"/>
<rect x="206.8" y="699.7" width="5" height="5.7" fill="#000"/>
<rect x="207.0" y="715.0" width="4.6" height="5.3" fill="#b4b4b4" stroke="#333" stroke-width="1"/>
<text x="214.4" y="706.0999999999999" font-size="10.6" textLength="32.8" lengthAdjust="spacingAndGlyphs" fill="#111">hCD45</text>
<text x="248.8" y="702.5999999999999" font-size="9" fill="#111">+</text>
<text x="256.0" y="706.0999999999999" font-size="10.6" textLength="20" lengthAdjust="spacingAndGlyphs" fill="#111">cells</text>
<text x="214.4" y="721.0999999999999" font-size="10.6" textLength="32.8" lengthAdjust="spacingAndGlyphs" fill="#111">hCD34</text>
<text x="248.8" y="717.5999999999999" font-size="9" fill="#111">+</text>
<text x="256.0" y="721.0999999999999" font-size="10.6" textLength="20" lengthAdjust="spacingAndGlyphs" fill="#111">cells</text>
<text x="0" y="0" font-size="14" font-weight="bold" transform="translate(76.4,808.3) rotate(-90)" textLength="95" lengthAdjust="spacingAndGlyphs">% GFP+  SRCs</text>
<text x="0" y="0" font-size="9.8" font-weight="bold" transform="translate(121,894.5) rotate(51)">G/TPOHA</text>
<text x="0" y="0" font-size="9.8" font-weight="bold" transform="translate(171.5,894.5) rotate(51)">G/TPOHA/</text>
<text x="0" y="0" font-size="9.8" font-weight="bold" transform="translate(161,901.5) rotate(51)">SCFSUx</text>
<text x="0" y="0" font-size="9.8" font-weight="bold" transform="translate(216,893.5) rotate(51)">G/SCFSUx</text>
<text x="0" y="0" font-size="9.8" font-weight="bold" transform="translate(275.5,890.5) rotate(51)">–</text>
<text x="0" y="0" font-size="9.8" font-weight="bold" transform="translate(320.5,891.5) rotate(51)">rTPO</text>
<text x="0" y="0" font-size="9.8" font-weight="bold" transform="translate(371,891.5) rotate(51)">rTPO+rSCF</text>
<text x="0" y="0" font-size="9.8" font-weight="bold" transform="translate(419.5,891.5) rotate(51)">rSCF</text>
<line x1="260.2" y1="938.9" x2="446.4" y2="938.9" stroke="#707070" stroke-width="1.5"/>
<text x="340.2" y="951.5" font-size="10" font-weight="bold" textLength="29.6" lengthAdjust="spacingAndGlyphs" fill="#000">VSV-G</text></svg></body></html>
